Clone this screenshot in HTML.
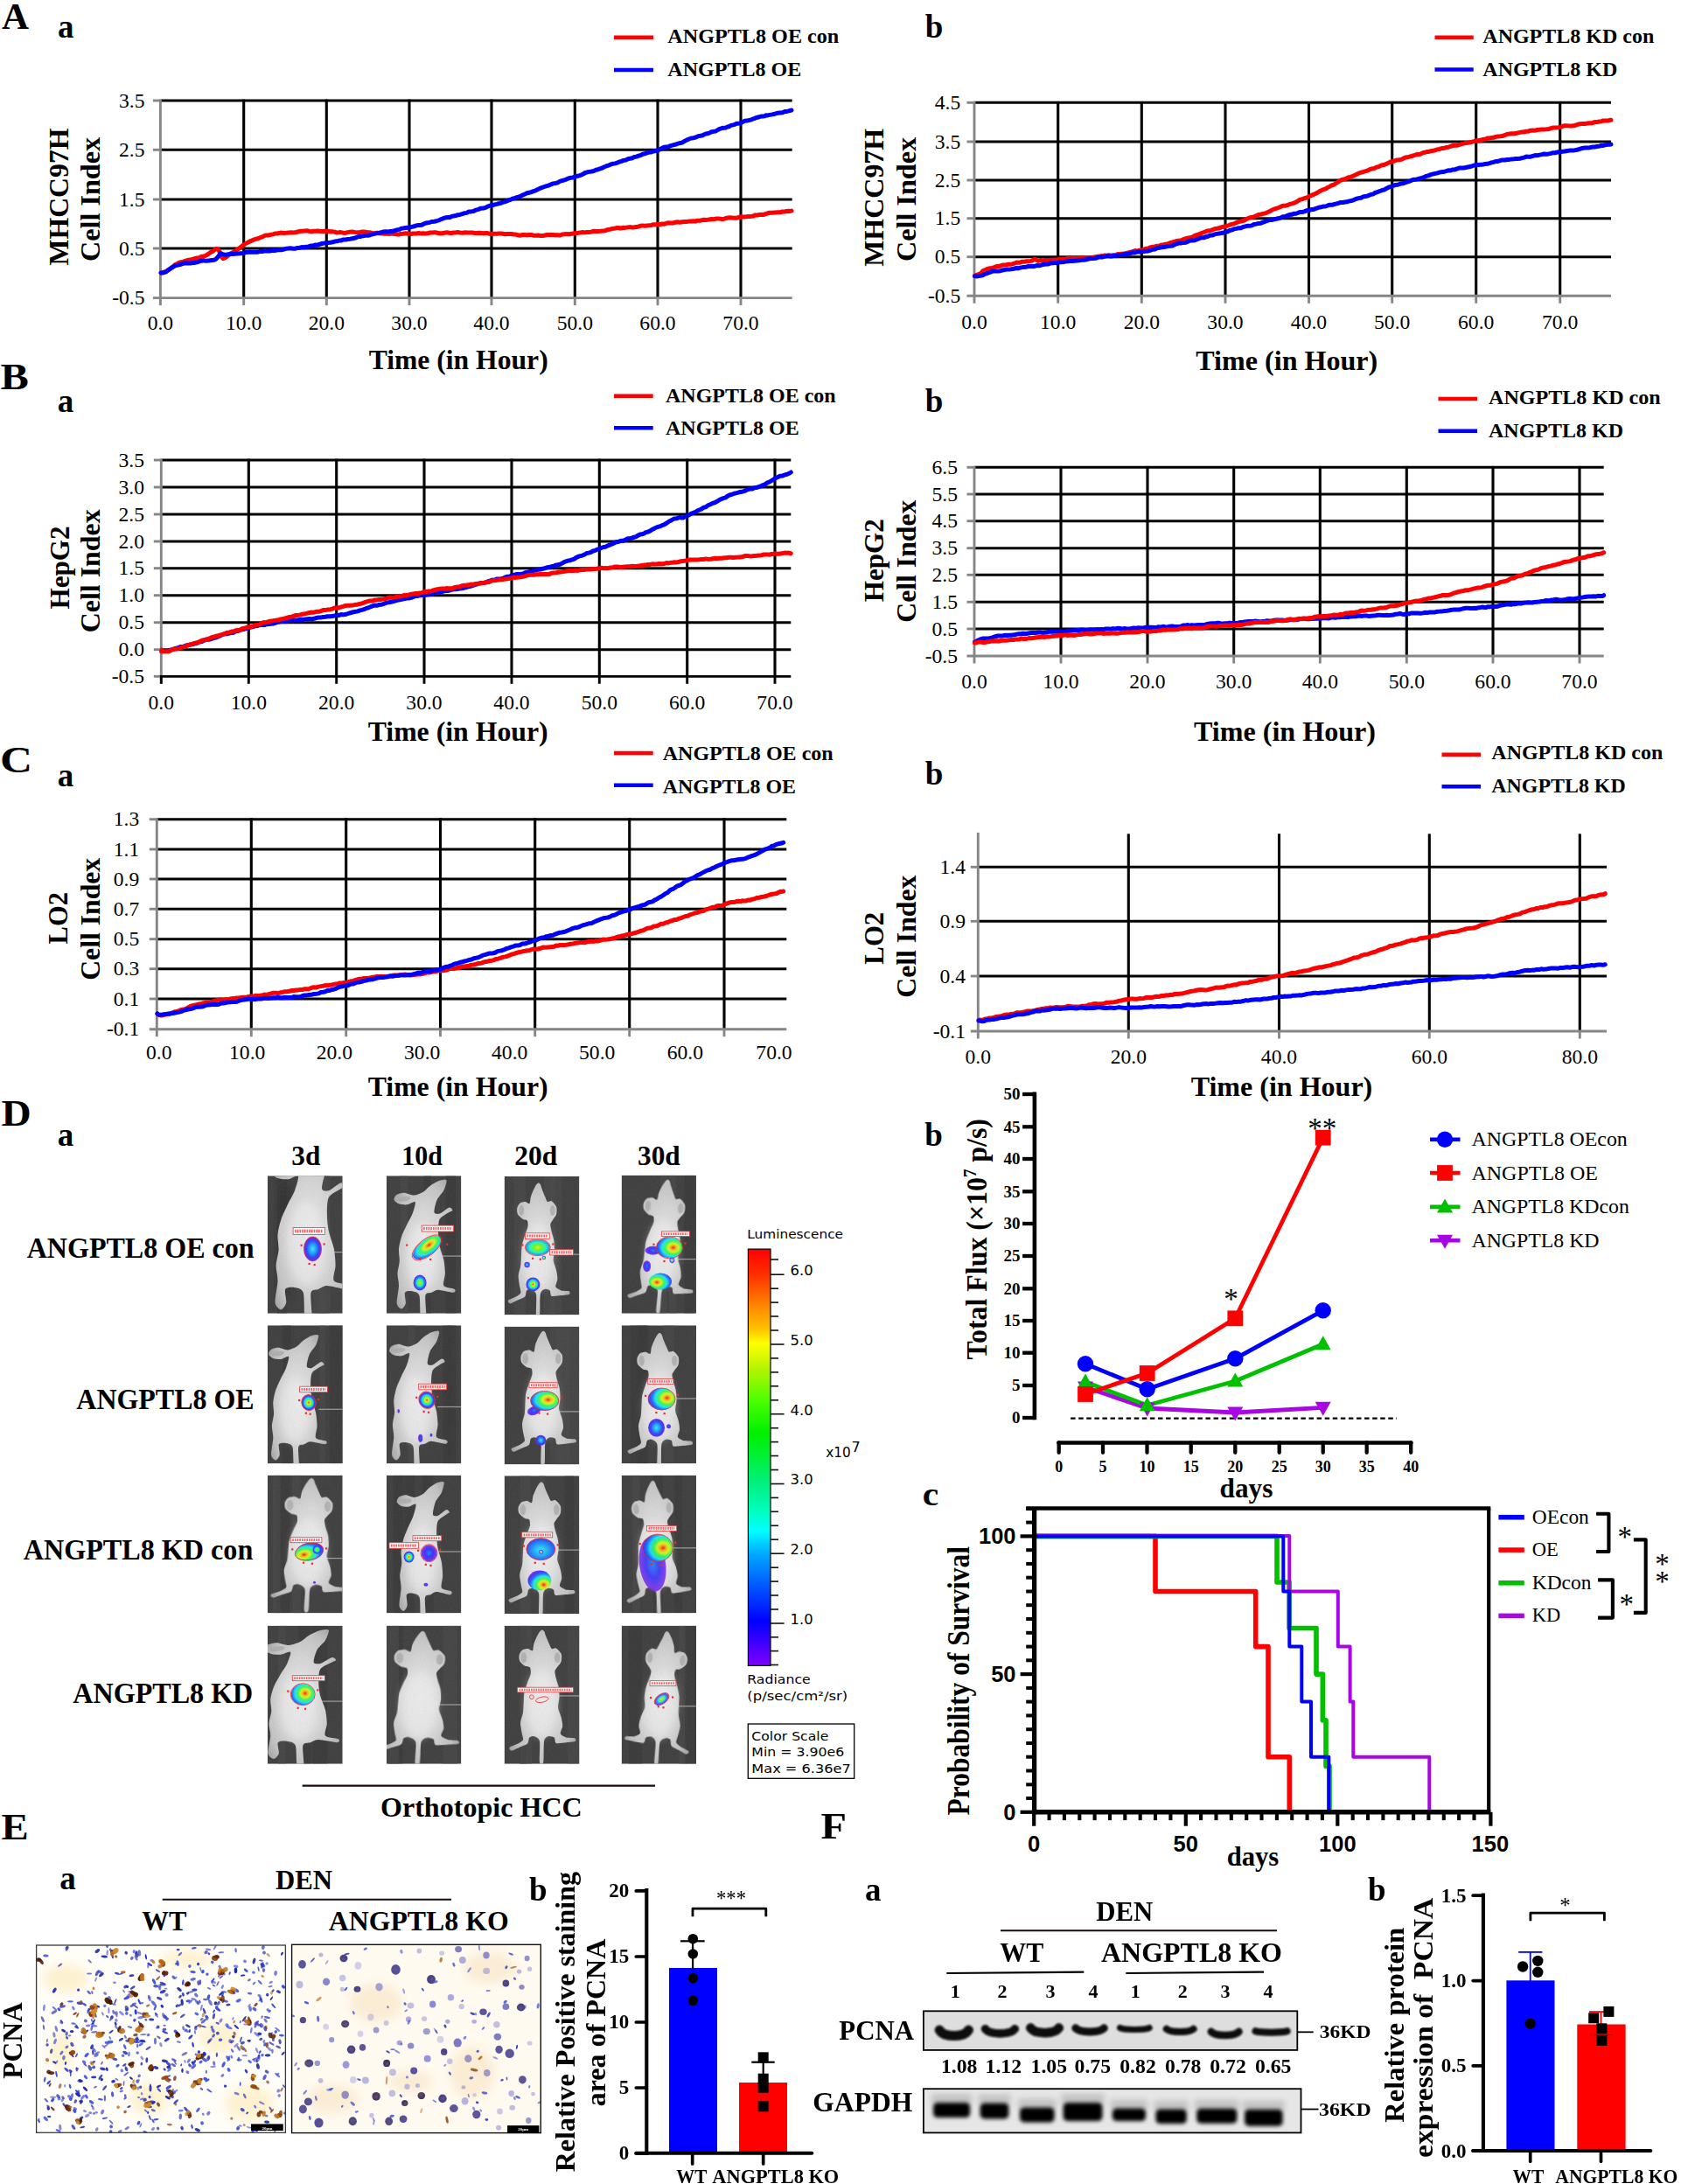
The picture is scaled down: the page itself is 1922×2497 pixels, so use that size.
<!DOCTYPE html>
<html><head><meta charset="utf-8"><title>Figure</title>
<style>
html,body{margin:0;padding:0;background:#fff;}
svg{display:block}
.sb{font-family:'Liberation Serif','Times New Roman',serif;font-weight:bold}
.sr{font-family:'Liberation Serif','Times New Roman',serif;font-weight:normal}
.ab{font-family:'Liberation Sans',Arial,sans-serif;font-weight:bold}
.ar{font-family:'Liberation Sans',Arial,sans-serif;font-weight:normal}
.db{font-family:'DejaVu Sans',Verdana,sans-serif;font-weight:bold}
.dr{font-family:'DejaVu Sans',Verdana,sans-serif;font-weight:normal}
</style></head><body>
<svg width="1922" height="2497" viewBox="0 0 1922 2497">
<rect width="1922" height="2497" fill="#fff"/>
<line x1="183.4" y1="115.0" x2="905.7" y2="115.0" stroke="#000" stroke-width="3.1"/>
<line x1="183.4" y1="171.3" x2="905.7" y2="171.3" stroke="#000" stroke-width="3.1"/>
<line x1="183.4" y1="228.0" x2="905.7" y2="228.0" stroke="#000" stroke-width="3.1"/>
<line x1="183.4" y1="284.0" x2="905.7" y2="284.0" stroke="#000" stroke-width="3.1"/>
<line x1="278.7" y1="113.6" x2="278.7" y2="340.6" stroke="#000" stroke-width="3.1"/>
<line x1="373.3" y1="113.6" x2="373.3" y2="340.6" stroke="#000" stroke-width="3.1"/>
<line x1="468.0" y1="113.6" x2="468.0" y2="340.6" stroke="#000" stroke-width="3.1"/>
<line x1="562.0" y1="113.6" x2="562.0" y2="340.6" stroke="#000" stroke-width="3.1"/>
<line x1="657.3" y1="113.6" x2="657.3" y2="340.6" stroke="#000" stroke-width="3.1"/>
<line x1="752.0" y1="113.6" x2="752.0" y2="340.6" stroke="#000" stroke-width="3.1"/>
<line x1="847.0" y1="113.6" x2="847.0" y2="340.6" stroke="#000" stroke-width="3.1"/>
<line x1="183.4" y1="113.6" x2="183.4" y2="349.1" stroke="#868686" stroke-width="2.9"/>
<line x1="174.9" y1="340.6" x2="905.7" y2="340.6" stroke="#868686" stroke-width="2.9"/>
<line x1="174.9" y1="115.0" x2="183.4" y2="115.0" stroke="#868686" stroke-width="2.9"/>
<line x1="174.9" y1="171.3" x2="183.4" y2="171.3" stroke="#868686" stroke-width="2.9"/>
<line x1="174.9" y1="228.0" x2="183.4" y2="228.0" stroke="#868686" stroke-width="2.9"/>
<line x1="174.9" y1="284.0" x2="183.4" y2="284.0" stroke="#868686" stroke-width="2.9"/>
<line x1="278.7" y1="340.6" x2="278.7" y2="349.1" stroke="#868686" stroke-width="2.9"/>
<line x1="373.3" y1="340.6" x2="373.3" y2="349.1" stroke="#868686" stroke-width="2.9"/>
<line x1="468.0" y1="340.6" x2="468.0" y2="349.1" stroke="#868686" stroke-width="2.9"/>
<line x1="562.0" y1="340.6" x2="562.0" y2="349.1" stroke="#868686" stroke-width="2.9"/>
<line x1="657.3" y1="340.6" x2="657.3" y2="349.1" stroke="#868686" stroke-width="2.9"/>
<line x1="752.0" y1="340.6" x2="752.0" y2="349.1" stroke="#868686" stroke-width="2.9"/>
<line x1="847.0" y1="340.6" x2="847.0" y2="349.1" stroke="#868686" stroke-width="2.9"/>
<text class="sr" x="165.5" y="122.6" font-size="23.6" text-anchor="end">3.5</text>
<text class="sr" x="165.5" y="178.9" font-size="23.6" text-anchor="end">2.5</text>
<text class="sr" x="165.5" y="235.6" font-size="23.6" text-anchor="end">1.5</text>
<text class="sr" x="165.5" y="291.6" font-size="23.6" text-anchor="end">0.5</text>
<text class="sr" x="165.5" y="348.2" font-size="23.6" text-anchor="end">-0.5</text>
<text class="sr" x="183.4" y="377.0" font-size="23.6" text-anchor="middle">0.0</text>
<text class="sr" x="278.7" y="377.0" font-size="23.6" text-anchor="middle">10.0</text>
<text class="sr" x="373.3" y="377.0" font-size="23.6" text-anchor="middle">20.0</text>
<text class="sr" x="468.0" y="377.0" font-size="23.6" text-anchor="middle">30.0</text>
<text class="sr" x="562.0" y="377.0" font-size="23.6" text-anchor="middle">40.0</text>
<text class="sr" x="657.3" y="377.0" font-size="23.6" text-anchor="middle">50.0</text>
<text class="sr" x="752.0" y="377.0" font-size="23.6" text-anchor="middle">60.0</text>
<text class="sr" x="847.0" y="377.0" font-size="23.6" text-anchor="middle">70.0</text>
<polyline points="184.0,312.0 186.4,311.5 190.0,310.5 191.7,309.2 193.5,308.1 195.4,306.5 197.6,305.0 200.0,302.8 202.2,301.8 204.4,300.5 206.9,299.7 209.4,299.3 212.2,298.1 215.0,297.3 217.3,297.1 219.8,296.5 222.5,295.5 225.2,295.0 227.9,294.7 230.4,293.2 232.8,292.9 235.0,292.3 238.0,290.5 240.8,288.4 243.2,287.4 245.2,285.8 247.0,284.5 249.5,284.9 251.0,288.0 252.2,290.6 253.4,293.7 255.0,295.5 256.7,295.0 258.8,293.9 262.0,291.2 263.7,290.1 265.6,289.1 267.7,287.6 269.9,286.3 272.3,284.6 274.6,283.1 276.9,281.0 279.0,279.6 281.7,278.1 284.4,276.6 287.1,275.4 289.8,274.2 292.4,273.3 295.0,272.8 297.5,271.7 299.8,270.8 302.1,269.7 304.4,268.9 307.0,268.9 310.0,268.3 312.2,267.9 314.4,267.0 316.8,267.1 319.3,266.4 321.9,266.1 324.5,266.5 327.3,266.3 330.1,266.0 333.0,265.8 335.3,265.9 337.7,265.8 340.3,265.0 343.0,264.3 345.7,264.2 348.4,264.0 351.1,263.8 353.7,264.4 356.2,264.7 358.7,264.2 360.9,264.2 363.0,264.0 366.6,264.5 369.8,264.4 372.6,264.2 375.1,264.2 377.5,264.7 380.0,264.7 382.6,265.1 384.8,265.9 387.0,265.8 389.6,265.6 393.0,266.4 395.1,266.2 397.5,265.6 400.1,265.2 402.8,265.0 405.6,265.4 408.5,265.7 411.5,265.5 414.4,265.0 417.2,265.1 420.0,265.8 422.7,265.8 425.5,266.4 428.3,266.7 431.1,266.1 433.9,266.7 436.6,267.1 439.3,267.2 442.0,267.1 444.5,267.5 447.0,267.1 449.7,267.3 451.9,267.4 453.8,267.9 455.8,268.1 457.9,267.4 460.5,267.3 463.8,266.8 468.0,267.3 469.8,267.5 471.8,267.0 473.9,267.1 476.1,267.1 478.5,266.5 481.0,266.9 483.5,266.8 486.2,267.0 488.9,266.8 491.6,266.0 494.4,266.0 497.2,265.6 500.0,266.3 502.7,266.7 505.5,266.8 508.2,266.3 510.9,265.7 513.5,266.3 516.0,266.6 518.5,265.9 520.8,265.9 523.0,265.5 526.1,266.0 529.1,266.3 532.0,265.8 534.8,265.9 537.6,266.1 540.3,266.0 542.9,266.6 545.5,266.4 548.0,266.2 550.4,266.4 552.8,266.8 555.2,266.5 557.5,266.5 559.8,267.3 562.0,267.4 564.9,267.3 567.7,267.3 570.3,267.0 572.8,267.0 575.2,267.2 577.6,267.7 579.9,267.6 582.3,267.6 584.8,267.5 587.3,268.1 590.0,268.1 592.4,268.8 594.8,269.2 597.3,268.5 599.8,268.4 602.3,268.8 604.8,268.6 607.4,268.4 610.0,269.2 612.6,269.2 615.2,269.1 617.8,269.4 620.4,269.6 623.0,269.0 625.5,268.5 628.0,268.5 630.5,268.5 632.9,268.5 635.3,268.7 637.7,268.7 640.2,269.0 642.7,268.1 645.3,267.8 648.0,267.5 650.9,267.8 653.9,267.2 657.0,266.6 659.1,266.5 661.4,266.3 663.7,265.9 666.1,265.5 668.5,265.9 671.0,265.5 673.5,265.6 676.1,265.1 678.7,264.2 681.3,264.5 683.9,264.4 686.6,264.3 689.2,264.1 691.9,263.7 694.5,262.6 697.1,262.2 699.6,261.6 702.1,261.3 704.6,260.6 707.0,260.5 709.6,261.0 712.2,260.3 714.8,260.4 717.3,260.0 719.8,259.6 722.3,259.9 724.7,260.0 727.2,259.4 729.6,259.2 732.1,258.3 734.5,257.9 737.0,258.3 739.4,258.0 741.9,257.7 744.4,257.6 746.9,256.7 749.4,256.7 752.0,256.5 754.5,256.6 756.9,255.9 759.4,256.2 761.9,255.3 764.4,254.8 767.0,254.9 769.5,254.9 772.1,254.3 774.6,253.8 777.2,254.2 779.7,253.7 782.3,253.6 784.8,253.5 787.4,253.1 789.9,253.0 792.4,252.8 795.0,253.0 797.5,252.2 800.0,252.2 802.7,251.6 805.3,251.3 808.1,251.4 810.8,250.9 813.5,250.6 816.3,250.7 819.0,250.0 821.7,249.9 824.4,250.4 827.1,250.5 829.8,249.5 832.4,249.0 835.0,248.7 837.5,249.1 840.0,249.2 842.4,249.2 844.7,248.5 847.0,247.8 850.0,247.9 852.9,247.7 855.7,247.4 858.4,247.4 861.1,247.0 863.6,245.9 866.1,246.0 868.5,245.4 870.9,245.3 873.2,245.4 875.5,244.5 877.8,243.8 880.0,243.3 882.9,243.3 885.9,242.9 888.9,242.8 891.8,242.8 894.6,242.0 897.2,242.0 899.6,241.4 901.7,241.2 903.5,241.5 905.0,241.0" fill="none" stroke="#ff0000" stroke-width="5" stroke-linecap="round" stroke-linejoin="round"/>
<polyline points="184.0,312.0 186.4,311.9 190.0,310.7 192.1,308.9 194.4,307.5 197.1,305.7 200.0,303.8 202.2,303.4 204.4,302.8 206.9,302.2 209.4,301.3 212.2,300.7 215.0,301.0 217.3,301.1 219.8,300.5 222.5,300.4 225.2,299.8 227.9,298.9 230.4,298.2 232.8,297.8 235.0,298.2 238.8,297.9 242.1,297.6 244.8,297.3 247.0,296.1 250.0,292.8 252.0,289.4 253.8,290.5 258.0,291.4 259.7,291.0 261.6,290.8 263.6,290.1 265.9,290.4 268.5,290.2 271.5,290.1 275.0,289.7 279.0,289.4 280.9,288.3 282.9,288.4 285.1,288.0 287.4,288.3 289.8,288.3 292.2,288.3 294.8,288.2 297.4,287.4 300.1,287.5 302.8,286.7 305.5,287.1 308.3,287.1 311.1,286.4 313.8,286.5 316.6,286.1 319.2,285.6 321.9,285.8 324.5,285.1 327.0,284.4 329.6,284.0 332.2,283.8 334.8,284.2 337.3,284.3 339.9,283.4 342.4,283.2 345.0,282.6 347.5,282.8 350.1,282.2 352.6,282.1 355.1,281.0 357.7,281.1 360.2,280.1 362.7,280.2 365.3,279.3 367.9,278.5 370.4,278.1 373.0,278.1 375.4,277.4 377.9,277.2 380.4,276.7 382.8,276.1 385.3,275.8 387.7,275.0 390.2,274.9 392.7,273.9 395.1,274.1 397.6,273.5 400.1,273.2 402.6,272.8 405.0,272.3 407.5,271.5 410.0,270.5 412.5,270.4 415.0,269.7 417.5,269.2 420.0,269.2 422.5,268.9 425.1,268.0 427.7,267.3 430.3,266.9 433.0,266.4 435.6,265.8 438.3,265.0 441.0,264.7 443.6,264.9 446.3,264.5 448.9,264.3 451.4,263.7 454.0,262.8 456.5,262.4 458.9,261.3 461.3,260.9 463.6,260.5 465.9,260.3 468.0,260.1 470.9,259.4 473.5,258.8 475.9,257.9 478.0,257.5 480.1,257.6 482.1,257.3 484.1,256.2 486.2,255.2 488.5,254.8 490.9,254.4 493.6,253.5 496.6,253.2 500.0,252.4 501.9,251.9 503.8,250.9 505.8,250.1 507.9,249.2 510.0,248.8 512.1,248.5 514.3,248.5 516.5,247.4 518.7,246.9 521.1,246.6 523.4,245.7 525.8,245.4 528.3,244.7 530.8,243.8 533.4,243.4 536.0,242.1 538.7,241.9 541.4,241.5 544.2,240.1 547.0,239.3 549.9,238.2 552.8,238.1 555.8,237.1 558.9,235.6 562.0,234.5 564.0,234.5 566.0,233.7 568.1,233.4 570.2,232.7 572.3,232.4 574.5,231.4 576.7,230.9 578.9,230.2 581.1,229.2 583.4,228.4 585.7,227.3 588.1,226.7 590.4,225.7 592.8,225.2 595.2,224.3 597.6,223.1 600.1,221.9 602.5,220.8 605.0,220.2 607.4,219.6 609.9,218.6 612.4,217.8 614.9,216.6 617.4,215.3 619.9,214.4 622.4,213.5 624.9,212.6 627.5,212.0 630.0,210.8 632.5,209.9 635.0,209.5 637.5,208.9 640.0,207.4 642.4,206.7 644.9,206.0 647.4,205.1 649.8,204.0 652.2,203.3 654.6,203.1 657.0,202.2 659.4,201.5 661.9,201.0 664.3,200.2 666.7,199.0 669.2,197.5 671.6,196.8 674.1,196.4 676.5,196.0 678.9,195.5 681.4,194.3 683.8,193.7 686.2,192.8 688.7,192.0 691.1,190.8 693.5,189.7 696.0,189.1 698.4,187.9 700.8,187.3 703.3,186.9 705.7,186.1 708.2,185.0 710.6,184.4 713.0,183.4 715.5,183.0 717.9,181.8 720.3,181.2 722.8,180.7 725.2,179.5 727.6,179.1 730.1,178.1 732.5,177.5 734.9,176.3 737.4,175.7 739.8,174.8 742.3,174.1 744.7,173.9 747.1,173.0 749.6,172.5 752.0,172.0 754.4,170.7 756.8,169.5 759.3,168.3 761.8,167.9 764.3,167.8 766.8,166.6 769.4,165.9 772.0,165.3 774.6,164.4 777.2,163.7 779.8,163.1 782.5,161.5 785.1,160.1 787.7,159.0 790.3,158.0 793.0,157.7 795.6,157.0 798.2,155.8 800.8,155.3 803.4,154.7 805.9,153.4 808.5,152.7 811.0,152.1 813.5,150.8 815.9,150.4 818.3,150.0 820.7,148.5 823.1,147.3 825.4,146.5 827.6,146.2 829.8,146.0 832.0,145.0 834.1,144.5 836.1,143.2 838.1,142.9 840.0,142.4 841.9,141.3 843.6,141.2 845.4,141.0 847.0,140.4 851.6,138.3 855.6,137.7 859.0,136.8 862.0,135.6 864.6,134.7 866.8,134.0 868.9,133.5 870.7,132.9 872.5,133.0 874.2,132.8 876.0,131.8 877.9,131.9 880.0,131.4 882.9,130.9 885.9,130.2 888.9,129.3 891.8,128.9 894.6,128.7 897.2,127.6 899.6,127.4 901.7,126.9 903.5,126.4 905.0,126.0" fill="none" stroke="#0000ff" stroke-width="5" stroke-linecap="round" stroke-linejoin="round"/>
<line x1="702.0" y1="42.7" x2="747.0" y2="42.7" stroke="#ff0000" stroke-width="4.6"/>
<line x1="702.0" y1="80.0" x2="747.0" y2="80.0" stroke="#0000ff" stroke-width="4.6"/>
<text class="sb" x="763.3" y="49.3" font-size="24" textLength="196.0" lengthAdjust="spacingAndGlyphs">ANGPTL8 OE con</text>
<text class="sb" x="763.3" y="87.3" font-size="24" textLength="153.0" lengthAdjust="spacingAndGlyphs">ANGPTL8 OE</text>
<text class="sb" font-size="32" text-anchor="middle" textLength="157.0" lengthAdjust="spacingAndGlyphs" transform="translate(77.6 225.0) rotate(-90)">MHCC97H</text>
<text class="sb" font-size="32" text-anchor="middle" textLength="142.0" lengthAdjust="spacingAndGlyphs" transform="translate(113.6 228.0) rotate(-90)">Cell Index</text>
<text class="sb" x="421.7" y="421.7" font-size="32" textLength="205.0" lengthAdjust="spacingAndGlyphs">Time (in Hour)</text>
<line x1="1114.0" y1="117.3" x2="1842.0" y2="117.3" stroke="#000" stroke-width="3.1"/>
<line x1="1114.0" y1="162.0" x2="1842.0" y2="162.0" stroke="#000" stroke-width="3.1"/>
<line x1="1114.0" y1="206.0" x2="1842.0" y2="206.0" stroke="#000" stroke-width="3.1"/>
<line x1="1114.0" y1="249.7" x2="1842.0" y2="249.7" stroke="#000" stroke-width="3.1"/>
<line x1="1114.0" y1="293.7" x2="1842.0" y2="293.7" stroke="#000" stroke-width="3.1"/>
<line x1="1209.7" y1="115.9" x2="1209.7" y2="338.3" stroke="#000" stroke-width="3.1"/>
<line x1="1305.3" y1="115.9" x2="1305.3" y2="338.3" stroke="#000" stroke-width="3.1"/>
<line x1="1401.0" y1="115.9" x2="1401.0" y2="338.3" stroke="#000" stroke-width="3.1"/>
<line x1="1496.5" y1="115.9" x2="1496.5" y2="338.3" stroke="#000" stroke-width="3.1"/>
<line x1="1591.7" y1="115.9" x2="1591.7" y2="338.3" stroke="#000" stroke-width="3.1"/>
<line x1="1687.7" y1="115.9" x2="1687.7" y2="338.3" stroke="#000" stroke-width="3.1"/>
<line x1="1783.7" y1="115.9" x2="1783.7" y2="338.3" stroke="#000" stroke-width="3.1"/>
<line x1="1114.0" y1="115.9" x2="1114.0" y2="346.8" stroke="#868686" stroke-width="2.9"/>
<line x1="1105.5" y1="338.3" x2="1842.0" y2="338.3" stroke="#868686" stroke-width="2.9"/>
<line x1="1105.5" y1="117.3" x2="1114.0" y2="117.3" stroke="#868686" stroke-width="2.9"/>
<line x1="1105.5" y1="162.0" x2="1114.0" y2="162.0" stroke="#868686" stroke-width="2.9"/>
<line x1="1105.5" y1="206.0" x2="1114.0" y2="206.0" stroke="#868686" stroke-width="2.9"/>
<line x1="1105.5" y1="249.7" x2="1114.0" y2="249.7" stroke="#868686" stroke-width="2.9"/>
<line x1="1105.5" y1="293.7" x2="1114.0" y2="293.7" stroke="#868686" stroke-width="2.9"/>
<line x1="1209.7" y1="338.3" x2="1209.7" y2="346.8" stroke="#868686" stroke-width="2.9"/>
<line x1="1305.3" y1="338.3" x2="1305.3" y2="346.8" stroke="#868686" stroke-width="2.9"/>
<line x1="1401.0" y1="338.3" x2="1401.0" y2="346.8" stroke="#868686" stroke-width="2.9"/>
<line x1="1496.5" y1="338.3" x2="1496.5" y2="346.8" stroke="#868686" stroke-width="2.9"/>
<line x1="1591.7" y1="338.3" x2="1591.7" y2="346.8" stroke="#868686" stroke-width="2.9"/>
<line x1="1687.7" y1="338.3" x2="1687.7" y2="346.8" stroke="#868686" stroke-width="2.9"/>
<line x1="1783.7" y1="338.3" x2="1783.7" y2="346.8" stroke="#868686" stroke-width="2.9"/>
<text class="sr" x="1098.3" y="124.9" font-size="23.6" text-anchor="end">4.5</text>
<text class="sr" x="1098.3" y="169.6" font-size="23.6" text-anchor="end">3.5</text>
<text class="sr" x="1098.3" y="213.6" font-size="23.6" text-anchor="end">2.5</text>
<text class="sr" x="1098.3" y="257.3" font-size="23.6" text-anchor="end">1.5</text>
<text class="sr" x="1098.3" y="301.3" font-size="23.6" text-anchor="end">0.5</text>
<text class="sr" x="1098.3" y="345.9" font-size="23.6" text-anchor="end">-0.5</text>
<text class="sr" x="1114.0" y="376.0" font-size="23.6" text-anchor="middle">0.0</text>
<text class="sr" x="1209.7" y="376.0" font-size="23.6" text-anchor="middle">10.0</text>
<text class="sr" x="1305.3" y="376.0" font-size="23.6" text-anchor="middle">20.0</text>
<text class="sr" x="1401.0" y="376.0" font-size="23.6" text-anchor="middle">30.0</text>
<text class="sr" x="1496.5" y="376.0" font-size="23.6" text-anchor="middle">40.0</text>
<text class="sr" x="1591.7" y="376.0" font-size="23.6" text-anchor="middle">50.0</text>
<text class="sr" x="1687.7" y="376.0" font-size="23.6" text-anchor="middle">60.0</text>
<text class="sr" x="1783.7" y="376.0" font-size="23.6" text-anchor="middle">70.0</text>
<polyline points="1114.5,315.5 1116.8,314.3 1120.0,313.2 1121.9,312.0 1123.9,309.7 1126.7,308.6 1128.8,307.5 1131.2,306.8 1133.9,306.4 1136.8,305.6 1140.0,304.4 1142.2,304.6 1144.5,303.7 1147.0,303.0 1149.6,303.1 1152.2,302.3 1154.8,302.3 1157.5,301.9 1160.0,301.0 1162.6,300.0 1165.4,300.3 1168.2,299.3 1171.1,299.3 1173.7,298.8 1176.2,298.7 1178.3,298.4 1180.0,298.1 1183.0,296.2 1187.0,298.4 1188.5,297.8 1190.3,297.5 1192.2,297.9 1194.3,297.5 1196.7,297.6 1199.4,297.4 1202.4,297.2 1205.9,296.9 1209.7,296.9 1211.6,296.5 1213.6,296.7 1215.8,296.2 1218.1,295.9 1220.5,295.5 1222.9,295.3 1225.5,295.0 1228.1,295.3 1230.7,295.6 1233.4,295.1 1236.2,294.8 1238.9,294.8 1241.7,295.0 1244.4,295.3 1247.1,294.8 1249.8,294.2 1252.5,293.6 1255.0,293.2 1257.6,292.9 1260.0,292.6 1262.6,292.1 1265.2,292.2 1267.8,291.8 1270.4,292.2 1272.9,291.8 1275.4,291.6 1277.9,290.6 1280.3,290.8 1282.8,290.2 1285.3,290.1 1287.7,289.5 1290.2,288.9 1292.7,288.3 1295.1,287.5 1297.7,286.6 1300.2,286.9 1302.7,286.3 1305.3,286.1 1307.8,285.3 1310.2,284.2 1312.7,284.0 1315.2,282.9 1317.7,282.2 1320.3,281.9 1322.8,281.2 1325.3,281.3 1327.9,280.1 1330.4,279.8 1333.0,279.2 1335.5,278.7 1338.1,277.5 1340.6,276.9 1343.2,276.1 1345.7,275.4 1348.2,275.1 1350.8,274.7 1353.3,273.5 1355.7,272.8 1358.1,272.2 1360.5,271.6 1362.9,271.2 1365.3,269.8 1367.7,268.7 1370.1,268.3 1372.5,267.1 1374.9,266.2 1377.3,265.2 1379.7,264.2 1382.1,263.8 1384.5,263.4 1386.8,262.5 1389.2,261.6 1391.6,261.3 1394.0,260.8 1396.3,259.9 1398.7,259.3 1401.0,258.9 1403.4,258.2 1405.9,257.2 1408.3,256.4 1410.7,255.9 1413.1,254.8 1415.4,253.9 1417.8,253.2 1420.2,252.8 1422.5,252.1 1424.9,250.6 1427.3,249.5 1429.6,248.7 1432.0,248.3 1434.4,247.6 1436.8,246.5 1439.3,245.4 1441.7,245.0 1444.2,244.4 1446.7,243.9 1449.0,242.8 1451.4,241.8 1453.9,240.4 1456.3,239.1 1458.9,238.5 1461.5,237.5 1464.0,236.5 1466.6,235.3 1469.2,235.2 1471.8,234.6 1474.4,233.5 1476.9,232.9 1479.4,232.2 1481.9,231.0 1484.2,229.6 1486.5,228.1 1488.8,227.7 1490.9,226.8 1493.0,226.2 1494.9,225.8 1496.7,224.5 1500.1,223.1 1503.1,221.9 1505.8,220.6 1508.2,219.0 1510.3,217.9 1512.3,216.9 1514.2,216.3 1516.1,215.7 1518.0,214.3 1520.0,213.5 1522.3,212.0 1524.2,211.5 1525.8,210.7 1527.5,209.5 1529.4,208.3 1531.7,206.8 1534.8,205.4 1538.7,204.4 1540.4,203.4 1542.3,202.7 1544.2,202.4 1546.3,201.5 1548.5,200.5 1550.8,199.4 1553.2,198.2 1555.7,197.2 1558.2,196.7 1560.8,195.9 1563.4,195.1 1566.1,193.7 1568.8,192.8 1571.4,192.4 1574.1,191.1 1576.8,190.4 1579.4,188.9 1582.0,188.6 1584.5,187.7 1587.0,186.4 1589.4,185.3 1591.7,184.8 1594.3,184.1 1596.9,182.9 1599.4,182.8 1602.0,182.4 1604.4,181.3 1606.9,180.0 1609.4,179.8 1611.8,179.0 1614.2,178.5 1616.7,177.7 1619.1,176.7 1621.5,176.4 1623.9,176.2 1626.3,174.9 1628.8,174.3 1631.2,173.5 1633.7,173.4 1636.2,172.6 1638.7,172.3 1641.1,171.8 1643.6,170.7 1646.0,170.4 1648.5,169.5 1651.0,169.4 1653.5,168.6 1656.0,168.3 1658.5,167.3 1661.1,166.5 1663.6,166.2 1666.1,166.2 1668.6,165.5 1671.1,164.5 1673.5,164.1 1676.0,163.5 1678.4,163.2 1680.8,162.7 1683.1,162.2 1685.4,161.6 1687.7,160.8 1690.5,160.7 1693.1,160.2 1695.7,159.3 1698.2,159.2 1700.6,158.0 1703.0,157.9 1705.4,157.6 1707.8,157.3 1710.2,156.4 1712.7,156.0 1715.1,155.8 1717.7,155.5 1720.3,154.7 1723.0,153.4 1725.8,153.1 1728.7,152.7 1730.9,152.7 1733.2,152.6 1735.5,151.9 1737.8,151.4 1740.2,150.9 1742.6,150.8 1745.1,150.2 1747.5,150.0 1750.0,149.2 1752.6,149.0 1755.1,149.2 1757.7,148.5 1760.3,148.3 1762.9,148.1 1765.5,148.0 1768.1,147.8 1770.7,147.5 1773.3,146.7 1775.9,146.0 1778.5,145.9 1781.1,145.8 1783.7,145.6 1786.2,144.5 1788.9,143.7 1791.6,143.8 1794.4,143.9 1797.2,143.9 1800.1,143.5 1803.1,142.7 1806.0,141.7 1809.0,141.6 1811.9,141.6 1814.8,141.0 1817.7,140.8 1820.5,140.7 1823.3,139.6 1825.9,139.6 1828.4,139.0 1830.9,138.6 1833.1,138.0 1835.3,137.9 1837.2,137.9 1839.0,138.0 1840.6,137.3 1842.0,137.3" fill="none" stroke="#ff0000" stroke-width="5" stroke-linecap="round" stroke-linejoin="round"/>
<polyline points="1114.5,315.7 1117.4,315.9 1121.0,315.3 1123.4,314.9 1126.7,313.1 1128.4,312.6 1130.2,311.8 1132.4,311.1 1135.5,310.0 1140.0,309.9 1141.8,310.1 1143.8,309.8 1146.0,308.9 1148.4,308.6 1150.9,308.1 1153.5,307.9 1156.2,307.7 1159.0,307.2 1161.8,306.5 1164.6,306.7 1167.4,305.9 1170.1,305.4 1172.8,305.2 1175.3,304.6 1177.7,304.5 1180.0,304.3 1182.8,304.4 1185.3,303.6 1187.7,303.7 1189.9,303.3 1192.1,302.5 1194.2,302.3 1196.4,302.1 1198.7,301.9 1201.1,300.9 1203.7,300.8 1206.5,300.4 1209.7,300.4 1211.8,299.7 1213.9,299.8 1216.2,299.5 1218.5,298.9 1220.9,298.8 1223.4,298.6 1226.0,298.4 1228.6,298.2 1231.2,297.9 1233.9,297.7 1236.6,297.3 1239.3,297.2 1241.9,296.8 1244.6,296.0 1247.3,295.6 1249.9,295.4 1252.5,295.3 1255.1,294.3 1257.6,293.9 1260.0,294.1 1262.6,293.3 1265.2,292.7 1267.8,292.7 1270.4,293.0 1272.9,292.5 1275.4,292.5 1277.9,292.3 1280.3,291.4 1282.8,291.3 1285.3,290.8 1287.7,290.6 1290.2,290.3 1292.7,289.5 1295.1,288.7 1297.7,288.9 1300.2,288.0 1302.7,288.1 1305.3,287.9 1307.8,287.4 1310.2,287.2 1312.7,286.9 1315.2,286.3 1317.7,285.3 1320.3,285.0 1322.8,283.7 1325.3,283.3 1327.9,282.8 1330.4,282.5 1333.0,282.1 1335.5,281.5 1338.1,281.2 1340.6,280.9 1343.2,279.6 1345.7,278.7 1348.2,277.8 1350.8,277.9 1353.3,277.4 1355.8,277.2 1358.3,276.1 1360.9,275.0 1363.4,274.9 1365.9,274.7 1368.5,273.6 1371.0,272.8 1373.5,271.8 1376.0,271.8 1378.6,270.8 1381.1,270.2 1383.6,269.1 1386.1,269.1 1388.6,267.9 1391.1,267.4 1393.6,267.0 1396.1,266.6 1398.5,266.3 1401.0,265.3 1403.6,264.8 1406.1,263.5 1408.7,262.9 1411.2,261.8 1413.7,261.4 1416.2,260.8 1418.7,260.8 1421.2,259.5 1423.7,258.9 1426.2,258.3 1428.7,258.3 1431.2,257.9 1433.7,256.5 1436.3,256.1 1438.9,255.4 1441.4,255.2 1444.1,254.1 1446.7,253.3 1449.1,252.3 1451.5,251.4 1454.0,251.5 1456.5,250.8 1459.0,250.3 1461.5,249.7 1464.1,249.1 1466.6,247.8 1469.2,247.6 1471.7,246.6 1474.3,245.6 1476.8,245.3 1479.4,244.3 1481.9,244.2 1484.4,243.2 1486.9,242.4 1489.4,242.4 1491.9,241.6 1494.3,240.6 1496.7,240.7 1499.4,239.4 1502.0,239.4 1504.7,238.3 1507.4,237.4 1510.1,236.8 1512.7,236.1 1515.4,236.0 1518.0,235.0 1520.6,234.2 1523.2,234.3 1525.7,233.5 1528.2,232.9 1530.7,232.2 1533.1,231.4 1535.4,231.5 1537.7,231.0 1539.9,230.8 1542.0,230.1 1545.1,229.5 1548.0,228.6 1550.8,227.2 1553.5,226.6 1556.1,226.3 1558.6,224.9 1561.0,224.5 1563.3,224.1 1565.6,223.2 1567.8,222.2 1569.9,222.0 1572.0,220.5 1574.8,219.6 1577.0,218.7 1578.9,218.2 1580.8,217.3 1582.8,217.0 1585.1,215.4 1588.0,214.0 1591.7,213.1 1593.5,212.1 1595.5,211.5 1597.6,211.3 1599.8,210.7 1602.1,209.8 1604.5,209.7 1606.9,208.7 1609.5,207.8 1612.1,207.1 1614.7,205.7 1617.4,205.3 1620.1,204.9 1622.8,204.1 1625.5,203.4 1628.2,202.6 1630.9,201.3 1633.5,200.6 1636.1,199.6 1638.7,198.9 1641.1,198.4 1643.6,197.9 1646.0,197.0 1648.5,196.6 1651.0,196.4 1653.5,195.7 1656.0,194.8 1658.5,195.0 1661.1,193.9 1663.6,193.9 1666.1,192.9 1668.6,192.1 1671.1,192.1 1673.5,192.0 1676.0,191.5 1678.4,191.0 1680.8,190.5 1683.1,189.8 1685.4,189.0 1687.7,188.6 1690.5,188.4 1693.1,188.2 1695.7,188.0 1698.2,187.5 1700.6,187.3 1703.0,186.6 1705.4,185.8 1707.8,185.4 1710.2,184.5 1712.7,184.4 1715.1,183.6 1717.7,182.9 1720.3,183.1 1723.0,182.5 1725.8,182.4 1728.7,181.9 1730.9,181.8 1733.2,181.6 1735.5,181.5 1737.8,181.2 1740.2,180.6 1742.6,180.1 1745.1,179.1 1747.5,179.3 1750.0,179.2 1752.6,178.3 1755.1,177.6 1757.7,177.7 1760.3,177.1 1762.9,176.6 1765.5,175.9 1768.1,176.2 1770.7,175.9 1773.3,175.4 1775.9,174.7 1778.5,174.7 1781.1,173.8 1783.7,174.0 1786.2,173.3 1788.9,173.0 1791.6,172.5 1794.4,172.1 1797.2,172.0 1800.1,171.9 1803.1,171.3 1806.0,170.3 1809.0,169.5 1811.9,169.0 1814.8,169.0 1817.7,168.8 1820.5,168.1 1823.3,168.0 1825.9,167.5 1828.4,167.1 1830.9,166.5 1833.1,166.5 1835.3,165.7 1837.2,165.5 1839.0,165.1 1840.6,165.2 1842.0,165.0" fill="none" stroke="#0000ff" stroke-width="5" stroke-linecap="round" stroke-linejoin="round"/>
<line x1="1640.5" y1="42.7" x2="1684.7" y2="42.7" stroke="#ff0000" stroke-width="4.6"/>
<line x1="1640.5" y1="79.5" x2="1684.7" y2="79.5" stroke="#0000ff" stroke-width="4.6"/>
<text class="sb" x="1695.3" y="49.3" font-size="24" textLength="196.0" lengthAdjust="spacingAndGlyphs">ANGPTL8 KD con</text>
<text class="sb" x="1695.3" y="87.3" font-size="24" textLength="154.0" lengthAdjust="spacingAndGlyphs">ANGPTL8 KD</text>
<text class="sb" font-size="32" text-anchor="middle" textLength="158.0" lengthAdjust="spacingAndGlyphs" transform="translate(1009.6 225.8) rotate(-90)">MHCC97H</text>
<text class="sb" font-size="32" text-anchor="middle" textLength="142.0" lengthAdjust="spacingAndGlyphs" transform="translate(1047.1 228.0) rotate(-90)">Cell Index</text>
<text class="sb" x="1367.3" y="422.7" font-size="32" textLength="208.0" lengthAdjust="spacingAndGlyphs">Time (in Hour)</text>
<line x1="184.3" y1="526.0" x2="904.3" y2="526.0" stroke="#000" stroke-width="3.1"/>
<line x1="184.3" y1="557.0" x2="904.3" y2="557.0" stroke="#000" stroke-width="3.1"/>
<line x1="184.3" y1="588.0" x2="904.3" y2="588.0" stroke="#000" stroke-width="3.1"/>
<line x1="184.3" y1="619.0" x2="904.3" y2="619.0" stroke="#000" stroke-width="3.1"/>
<line x1="184.3" y1="649.7" x2="904.3" y2="649.7" stroke="#000" stroke-width="3.1"/>
<line x1="184.3" y1="680.7" x2="904.3" y2="680.7" stroke="#000" stroke-width="3.1"/>
<line x1="184.3" y1="711.7" x2="904.3" y2="711.7" stroke="#000" stroke-width="3.1"/>
<line x1="184.3" y1="742.7" x2="904.3" y2="742.7" stroke="#000" stroke-width="3.1"/>
<line x1="284.3" y1="524.6" x2="284.3" y2="773.3" stroke="#000" stroke-width="3.1"/>
<line x1="384.7" y1="524.6" x2="384.7" y2="773.3" stroke="#000" stroke-width="3.1"/>
<line x1="485.0" y1="524.6" x2="485.0" y2="773.3" stroke="#000" stroke-width="3.1"/>
<line x1="585.0" y1="524.6" x2="585.0" y2="773.3" stroke="#000" stroke-width="3.1"/>
<line x1="685.3" y1="524.6" x2="685.3" y2="773.3" stroke="#000" stroke-width="3.1"/>
<line x1="785.7" y1="524.6" x2="785.7" y2="773.3" stroke="#000" stroke-width="3.1"/>
<line x1="886.0" y1="524.6" x2="886.0" y2="773.3" stroke="#000" stroke-width="3.1"/>
<line x1="184.3" y1="524.6" x2="184.3" y2="781.8" stroke="#868686" stroke-width="2.9"/>
<line x1="175.8" y1="773.3" x2="184.3" y2="773.3" stroke="#868686" stroke-width="2.9"/>
<line x1="182.9" y1="773.3" x2="904.3" y2="773.3" stroke="#000" stroke-width="2.8"/>
<line x1="184.3" y1="773.3" x2="184.3" y2="781.8" stroke="#000" stroke-width="2.8"/>
<line x1="175.8" y1="526.0" x2="184.3" y2="526.0" stroke="#868686" stroke-width="2.9"/>
<line x1="175.8" y1="557.0" x2="184.3" y2="557.0" stroke="#868686" stroke-width="2.9"/>
<line x1="175.8" y1="588.0" x2="184.3" y2="588.0" stroke="#868686" stroke-width="2.9"/>
<line x1="175.8" y1="619.0" x2="184.3" y2="619.0" stroke="#868686" stroke-width="2.9"/>
<line x1="175.8" y1="649.7" x2="184.3" y2="649.7" stroke="#868686" stroke-width="2.9"/>
<line x1="175.8" y1="680.7" x2="184.3" y2="680.7" stroke="#868686" stroke-width="2.9"/>
<line x1="175.8" y1="711.7" x2="184.3" y2="711.7" stroke="#868686" stroke-width="2.9"/>
<line x1="175.8" y1="742.7" x2="184.3" y2="742.7" stroke="#868686" stroke-width="2.9"/>
<line x1="284.3" y1="773.3" x2="284.3" y2="781.8" stroke="#000" stroke-width="2.9"/>
<line x1="384.7" y1="773.3" x2="384.7" y2="781.8" stroke="#000" stroke-width="2.9"/>
<line x1="485.0" y1="773.3" x2="485.0" y2="781.8" stroke="#000" stroke-width="2.9"/>
<line x1="585.0" y1="773.3" x2="585.0" y2="781.8" stroke="#000" stroke-width="2.9"/>
<line x1="685.3" y1="773.3" x2="685.3" y2="781.8" stroke="#000" stroke-width="2.9"/>
<line x1="785.7" y1="773.3" x2="785.7" y2="781.8" stroke="#000" stroke-width="2.9"/>
<line x1="886.0" y1="773.3" x2="886.0" y2="781.8" stroke="#000" stroke-width="2.9"/>
<text class="sr" x="165.0" y="533.6" font-size="23.6" text-anchor="end">3.5</text>
<text class="sr" x="165.0" y="564.6" font-size="23.6" text-anchor="end">3.0</text>
<text class="sr" x="165.0" y="595.6" font-size="23.6" text-anchor="end">2.5</text>
<text class="sr" x="165.0" y="626.6" font-size="23.6" text-anchor="end">2.0</text>
<text class="sr" x="165.0" y="657.3" font-size="23.6" text-anchor="end">1.5</text>
<text class="sr" x="165.0" y="688.3" font-size="23.6" text-anchor="end">1.0</text>
<text class="sr" x="165.0" y="719.3" font-size="23.6" text-anchor="end">0.5</text>
<text class="sr" x="165.0" y="750.3" font-size="23.6" text-anchor="end">0.0</text>
<text class="sr" x="165.0" y="780.9" font-size="23.6" text-anchor="end">-0.5</text>
<text class="sr" x="184.3" y="810.5" font-size="23.6" text-anchor="middle">0.0</text>
<text class="sr" x="284.3" y="810.5" font-size="23.6" text-anchor="middle">10.0</text>
<text class="sr" x="384.7" y="810.5" font-size="23.6" text-anchor="middle">20.0</text>
<text class="sr" x="485.0" y="810.5" font-size="23.6" text-anchor="middle">30.0</text>
<text class="sr" x="585.0" y="810.5" font-size="23.6" text-anchor="middle">40.0</text>
<text class="sr" x="685.3" y="810.5" font-size="23.6" text-anchor="middle">50.0</text>
<text class="sr" x="785.7" y="810.5" font-size="23.6" text-anchor="middle">60.0</text>
<text class="sr" x="886.0" y="810.5" font-size="23.6" text-anchor="middle">70.0</text>
<polyline points="185.0,744.0 184.8,744.8 190.0,744.6 191.4,744.5 193.1,743.6 194.9,743.2 196.9,742.5 199.0,741.8 201.3,741.2 203.7,740.7 206.2,739.6 208.8,739.5 211.4,738.5 214.1,737.7 216.9,737.3 219.6,736.5 222.4,736.0 225.2,735.4 227.9,733.9 230.6,733.6 233.3,732.2 235.6,731.1 237.9,731.2 240.2,730.9 242.6,730.1 245.0,729.3 247.4,728.7 249.8,727.7 252.3,726.5 254.7,725.4 257.2,724.8 259.7,724.7 262.2,724.0 264.7,723.6 267.2,723.2 269.6,721.7 272.1,721.4 274.6,720.3 277.1,719.8 279.5,719.2 281.9,718.5 284.3,717.7 286.9,717.1 289.5,716.5 292.1,715.7 294.7,715.4 297.3,714.6 299.8,714.4 302.4,714.5 304.9,713.7 307.5,713.5 310.1,713.3 312.6,713.0 315.2,712.1 317.7,711.2 320.3,710.7 322.9,710.6 325.4,710.6 328.1,710.3 330.7,709.5 333.3,709.5 335.8,709.1 338.4,709.0 340.9,708.9 343.5,708.3 346.0,708.5 348.6,708.1 351.2,707.8 353.8,707.6 356.4,707.7 359.0,707.3 361.6,706.5 364.2,705.9 366.8,705.9 369.4,705.6 372.0,705.3 374.6,704.7 377.1,704.7 379.7,704.4 382.2,704.1 384.7,703.4 387.2,703.6 389.7,702.6 392.1,702.7 394.5,702.5 397.0,701.8 399.4,701.0 401.8,700.3 404.2,699.7 406.6,699.3 409.0,698.9 411.4,697.9 413.8,697.4 416.2,696.7 418.6,695.6 421.0,694.9 423.4,693.8 425.9,692.9 428.3,692.1 430.8,692.3 433.3,691.5 435.7,691.3 438.1,690.6 440.6,689.7 443.0,688.9 445.5,688.5 448.0,688.0 450.4,687.5 452.9,686.6 455.4,686.1 457.9,685.5 460.4,685.0 462.9,684.4 465.4,684.1 467.9,683.9 470.4,683.4 472.9,682.3 475.3,681.4 477.8,681.4 480.2,680.7 482.6,680.6 485.0,680.2 487.6,680.0 490.2,679.7 492.7,678.7 495.3,678.2 497.8,677.3 500.3,676.8 502.8,677.0 505.3,676.6 507.7,675.9 510.2,675.5 512.7,675.5 515.2,674.6 517.7,673.9 520.2,673.8 522.7,673.6 525.2,673.1 527.8,672.7 530.4,672.2 533.0,671.5 535.4,670.8 537.8,670.3 540.3,669.5 542.7,668.7 545.2,668.0 547.7,667.1 550.2,666.4 552.7,666.6 555.2,665.8 557.7,664.9 560.2,664.0 562.8,663.1 565.3,663.2 567.8,662.1 570.3,662.0 572.8,661.7 575.3,661.3 577.7,659.9 580.2,659.2 582.6,659.0 585.0,658.0 587.6,657.4 590.2,656.5 592.8,656.6 595.3,656.3 597.9,655.9 600.4,654.7 602.9,654.2 605.4,653.6 607.9,653.3 610.4,652.4 612.9,651.9 615.4,651.2 617.9,651.0 620.4,650.3 623.0,649.7 625.5,648.8 628.1,648.5 630.7,647.6 633.3,647.1 635.6,646.1 637.9,645.8 640.2,645.3 642.5,644.1 644.8,642.8 647.1,641.8 649.5,641.0 651.8,640.7 654.2,639.9 656.5,639.1 658.9,637.4 661.3,636.2 663.7,635.6 666.0,635.1 668.4,634.0 670.8,632.5 673.2,632.1 675.6,631.4 678.0,630.0 680.5,629.4 682.9,628.1 685.3,627.7 687.6,626.3 690.0,625.5 692.5,625.2 694.9,623.8 697.4,623.0 699.9,622.0 702.4,620.7 705.0,619.7 707.5,619.2 710.0,618.3 712.6,618.2 715.1,617.1 717.6,615.8 720.0,615.7 722.5,615.1 724.8,614.2 727.2,613.6 729.5,612.1 731.7,611.1 733.9,610.8 736.0,610.2 738.0,608.8 740.0,608.4 743.1,607.1 746.1,605.2 748.9,603.7 751.7,602.5 754.3,601.9 756.9,600.7 759.3,599.8 761.6,598.5 763.8,596.9 765.9,595.7 767.9,594.7 769.8,593.5 771.6,592.9 773.3,592.8 776.6,591.6 778.1,591.2 779.2,592.1 781.3,591.9 785.7,589.6 787.2,589.1 788.9,588.1 790.8,587.0 792.8,586.2 794.9,585.5 797.1,584.1 799.5,583.0 801.9,582.1 804.4,580.3 806.9,579.7 809.5,577.8 812.0,576.7 814.6,575.5 817.2,574.7 819.7,573.3 822.2,571.8 824.6,570.6 826.9,569.7 829.2,569.1 831.3,567.6 833.3,566.2 836.4,565.5 839.4,564.3 842.3,563.6 845.1,562.8 847.8,562.3 850.5,561.6 853.0,560.6 855.5,559.4 857.9,559.1 860.2,558.9 862.5,557.8 864.6,557.6 866.7,556.8 869.8,555.8 872.5,554.6 875.0,553.7 877.3,551.8 879.5,551.1 881.6,549.9 883.7,548.6 886.0,547.1 888.8,545.8 891.8,544.3 894.9,543.9 897.8,542.7 900.4,542.1 902.7,541.0 904.3,540.0" fill="none" stroke="#0000ff" stroke-width="5" stroke-linecap="round" stroke-linejoin="round"/>
<polyline points="185.0,743.0 184.8,744.5 190.0,744.7 191.4,744.8 193.1,744.7 194.9,743.8 196.9,742.7 199.0,742.1 201.3,742.0 203.7,741.4 206.2,740.9 208.8,739.6 211.4,739.2 214.1,738.1 216.9,737.0 219.6,736.5 222.4,735.4 225.2,734.7 227.9,733.9 230.6,732.3 233.3,731.7 235.6,731.4 237.9,730.6 240.2,729.6 242.6,728.4 245.0,728.1 247.4,727.2 249.8,726.7 252.3,725.9 254.7,725.4 257.2,724.4 259.7,723.2 262.2,723.1 264.7,722.1 267.2,722.0 269.6,720.8 272.1,720.6 274.6,720.2 277.1,718.7 279.5,718.1 281.9,717.3 284.3,717.0 286.8,716.4 289.3,716.1 291.7,714.7 294.2,714.2 296.6,713.9 299.1,712.6 301.5,711.6 303.9,711.7 306.4,710.9 308.8,710.3 311.2,709.9 313.6,709.5 316.1,709.1 318.5,708.9 320.9,707.9 323.4,707.6 325.8,706.9 328.3,706.3 330.8,705.5 333.3,705.2 335.8,704.3 338.4,703.4 340.9,703.4 343.5,702.9 346.0,702.2 348.6,701.8 351.2,701.1 353.8,700.4 356.4,700.1 359.0,700.2 361.6,699.3 364.2,699.3 366.8,698.6 369.4,697.6 372.0,697.6 374.6,697.0 377.1,696.9 379.7,696.2 382.2,695.1 384.7,695.0 387.3,694.9 389.9,694.0 392.5,693.3 395.1,692.4 397.6,692.2 400.1,692.3 402.7,692.1 405.2,691.6 407.7,691.3 410.2,690.6 412.8,690.2 415.3,689.4 417.8,688.4 420.4,687.7 422.9,687.0 425.5,687.1 428.1,686.1 430.7,685.9 433.3,685.4 435.8,685.4 438.4,684.9 440.9,684.5 443.5,683.5 446.1,683.0 448.7,683.3 451.3,682.9 453.9,682.3 456.5,682.0 459.2,681.7 461.8,680.5 464.4,680.6 467.0,680.1 469.6,679.4 472.2,679.1 474.8,678.4 477.4,678.4 480.0,678.1 482.5,677.6 485.0,676.6 487.6,676.7 490.2,676.0 492.8,676.0 495.3,674.9 497.9,674.2 500.4,673.6 502.9,673.2 505.4,672.9 507.9,673.1 510.4,672.6 512.9,672.8 515.4,672.7 517.9,672.4 520.4,671.4 523.0,671.1 525.5,670.7 528.1,669.8 530.7,669.3 533.3,669.1 535.8,668.8 538.3,668.1 540.9,668.3 543.5,667.4 546.1,667.2 548.7,667.0 551.3,666.5 553.9,666.3 556.5,665.7 559.1,665.4 561.8,664.2 564.4,663.4 567.0,663.4 569.6,663.1 572.2,662.8 574.8,662.6 577.4,662.0 580.0,661.7 582.5,661.2 585.0,660.9 587.6,660.2 590.2,660.4 592.8,659.9 595.3,659.8 597.9,659.4 600.4,658.7 602.9,657.9 605.4,657.3 607.9,657.3 610.4,657.2 612.9,656.7 615.4,656.8 617.9,656.4 620.4,656.5 622.9,656.4 625.5,656.4 628.1,656.4 630.7,655.3 633.3,654.9 635.8,654.7 638.3,654.3 640.8,654.1 643.3,653.6 645.7,653.2 648.2,652.8 650.7,652.6 653.2,652.5 655.7,652.6 658.3,652.1 660.8,652.4 663.4,651.7 666.0,651.4 668.6,651.4 671.3,651.0 674.0,651.1 676.8,650.8 679.6,650.6 682.4,650.3 685.3,649.8 687.7,649.2 690.1,649.7 692.7,649.5 695.2,649.7 697.9,649.0 700.6,648.6 703.3,648.0 706.1,648.0 708.9,648.4 711.7,648.3 714.5,647.9 717.3,647.7 720.1,647.8 722.8,647.3 725.6,647.4 728.3,647.3 731.0,647.1 733.6,646.5 736.2,646.1 738.7,646.0 741.1,645.4 743.5,645.4 745.8,644.8 747.9,644.9 750.0,645.1 753.4,644.5 756.5,644.8 759.4,644.5 762.0,643.6 764.4,643.9 766.7,643.3 768.9,643.3 771.1,642.7 773.3,642.9 775.5,642.6 777.8,641.8 780.2,641.5 782.9,641.3 785.7,640.5 787.9,640.1 790.2,640.0 792.5,640.1 794.9,640.0 797.2,640.0 799.7,639.8 802.1,639.4 804.6,639.5 807.2,638.9 809.7,639.4 812.3,639.3 814.9,638.7 817.5,638.3 820.1,638.6 822.7,638.3 825.4,638.2 828.0,637.7 830.7,637.8 833.3,637.3 835.7,637.3 838.3,637.6 840.9,637.2 843.5,637.1 846.2,636.9 849.0,636.6 851.8,635.6 854.5,635.5 857.3,635.9 860.1,635.8 862.8,635.6 865.6,635.2 868.2,635.1 870.8,634.7 873.3,634.0 875.7,634.1 878.0,634.0 880.2,634.2 882.3,633.4 884.2,633.5 886.0,632.9 890.6,633.3 894.3,632.6 897.2,632.1 899.5,632.2 901.4,632.0 902.9,632.5 904.3,632.7" fill="none" stroke="#ff0000" stroke-width="5" stroke-linecap="round" stroke-linejoin="round"/>
<line x1="702.0" y1="452.7" x2="746.7" y2="452.7" stroke="#ff0000" stroke-width="4.6"/>
<line x1="702.0" y1="489.3" x2="746.7" y2="489.3" stroke="#0000ff" stroke-width="4.6"/>
<text class="sb" x="761.0" y="460.0" font-size="24" textLength="194.7" lengthAdjust="spacingAndGlyphs">ANGPTL8 OE con</text>
<text class="sb" x="761.0" y="497.3" font-size="24" textLength="152.7" lengthAdjust="spacingAndGlyphs">ANGPTL8 OE</text>
<text class="sb" font-size="32" text-anchor="middle" textLength="95.0" lengthAdjust="spacingAndGlyphs" transform="translate(78.6 649.0) rotate(-90)">HepG2</text>
<text class="sb" font-size="32" text-anchor="middle" textLength="141.0" lengthAdjust="spacingAndGlyphs" transform="translate(113.6 652.8) rotate(-90)">Cell Index</text>
<text class="sb" x="420.7" y="847.3" font-size="32" textLength="206.0" lengthAdjust="spacingAndGlyphs">Time (in Hour)</text>
<line x1="1114.0" y1="534.3" x2="1833.7" y2="534.3" stroke="#000" stroke-width="3.1"/>
<line x1="1114.0" y1="565.0" x2="1833.7" y2="565.0" stroke="#000" stroke-width="3.1"/>
<line x1="1114.0" y1="595.7" x2="1833.7" y2="595.7" stroke="#000" stroke-width="3.1"/>
<line x1="1114.0" y1="626.7" x2="1833.7" y2="626.7" stroke="#000" stroke-width="3.1"/>
<line x1="1114.0" y1="657.3" x2="1833.7" y2="657.3" stroke="#000" stroke-width="3.1"/>
<line x1="1114.0" y1="688.3" x2="1833.7" y2="688.3" stroke="#000" stroke-width="3.1"/>
<line x1="1114.0" y1="719.0" x2="1833.7" y2="719.0" stroke="#000" stroke-width="3.1"/>
<line x1="1213.0" y1="532.9" x2="1213.0" y2="750.0" stroke="#000" stroke-width="3.1"/>
<line x1="1312.0" y1="532.9" x2="1312.0" y2="750.0" stroke="#000" stroke-width="3.1"/>
<line x1="1410.7" y1="532.9" x2="1410.7" y2="750.0" stroke="#000" stroke-width="3.1"/>
<line x1="1509.3" y1="532.9" x2="1509.3" y2="750.0" stroke="#000" stroke-width="3.1"/>
<line x1="1608.3" y1="532.9" x2="1608.3" y2="750.0" stroke="#000" stroke-width="3.1"/>
<line x1="1707.0" y1="532.9" x2="1707.0" y2="750.0" stroke="#000" stroke-width="3.1"/>
<line x1="1806.0" y1="532.9" x2="1806.0" y2="750.0" stroke="#000" stroke-width="3.1"/>
<line x1="1114.0" y1="532.9" x2="1114.0" y2="758.5" stroke="#868686" stroke-width="2.9"/>
<line x1="1105.5" y1="750.0" x2="1833.7" y2="750.0" stroke="#868686" stroke-width="2.9"/>
<line x1="1105.5" y1="534.3" x2="1114.0" y2="534.3" stroke="#868686" stroke-width="2.9"/>
<line x1="1105.5" y1="565.0" x2="1114.0" y2="565.0" stroke="#868686" stroke-width="2.9"/>
<line x1="1105.5" y1="595.7" x2="1114.0" y2="595.7" stroke="#868686" stroke-width="2.9"/>
<line x1="1105.5" y1="626.7" x2="1114.0" y2="626.7" stroke="#868686" stroke-width="2.9"/>
<line x1="1105.5" y1="657.3" x2="1114.0" y2="657.3" stroke="#868686" stroke-width="2.9"/>
<line x1="1105.5" y1="688.3" x2="1114.0" y2="688.3" stroke="#868686" stroke-width="2.9"/>
<line x1="1105.5" y1="719.0" x2="1114.0" y2="719.0" stroke="#868686" stroke-width="2.9"/>
<line x1="1213.0" y1="750.0" x2="1213.0" y2="758.5" stroke="#868686" stroke-width="2.9"/>
<line x1="1312.0" y1="750.0" x2="1312.0" y2="758.5" stroke="#868686" stroke-width="2.9"/>
<line x1="1410.7" y1="750.0" x2="1410.7" y2="758.5" stroke="#868686" stroke-width="2.9"/>
<line x1="1509.3" y1="750.0" x2="1509.3" y2="758.5" stroke="#868686" stroke-width="2.9"/>
<line x1="1608.3" y1="750.0" x2="1608.3" y2="758.5" stroke="#868686" stroke-width="2.9"/>
<line x1="1707.0" y1="750.0" x2="1707.0" y2="758.5" stroke="#868686" stroke-width="2.9"/>
<line x1="1806.0" y1="750.0" x2="1806.0" y2="758.5" stroke="#868686" stroke-width="2.9"/>
<text class="sr" x="1095.0" y="541.9" font-size="23.6" text-anchor="end">6.5</text>
<text class="sr" x="1095.0" y="572.6" font-size="23.6" text-anchor="end">5.5</text>
<text class="sr" x="1095.0" y="603.3" font-size="23.6" text-anchor="end">4.5</text>
<text class="sr" x="1095.0" y="634.3" font-size="23.6" text-anchor="end">3.5</text>
<text class="sr" x="1095.0" y="664.9" font-size="23.6" text-anchor="end">2.5</text>
<text class="sr" x="1095.0" y="695.9" font-size="23.6" text-anchor="end">1.5</text>
<text class="sr" x="1095.0" y="726.6" font-size="23.6" text-anchor="end">0.5</text>
<text class="sr" x="1095.0" y="757.6" font-size="23.6" text-anchor="end">-0.5</text>
<text class="sr" x="1114.0" y="786.7" font-size="23.6" text-anchor="middle">0.0</text>
<text class="sr" x="1213.0" y="786.7" font-size="23.6" text-anchor="middle">10.0</text>
<text class="sr" x="1312.0" y="786.7" font-size="23.6" text-anchor="middle">20.0</text>
<text class="sr" x="1410.7" y="786.7" font-size="23.6" text-anchor="middle">30.0</text>
<text class="sr" x="1509.3" y="786.7" font-size="23.6" text-anchor="middle">40.0</text>
<text class="sr" x="1608.3" y="786.7" font-size="23.6" text-anchor="middle">50.0</text>
<text class="sr" x="1707.0" y="786.7" font-size="23.6" text-anchor="middle">60.0</text>
<text class="sr" x="1806.0" y="786.7" font-size="23.6" text-anchor="middle">70.0</text>
<polyline points="1114.5,734.0 1116.3,733.3 1119.0,731.8 1121.7,730.6 1124.1,729.9 1126.6,730.0 1130.0,729.9 1131.7,729.6 1133.1,729.5 1134.7,728.9 1137.1,728.0 1140.9,727.0 1146.7,726.9 1148.3,726.5 1150.1,726.2 1151.9,726.4 1153.8,726.3 1155.9,726.2 1157.9,726.0 1160.1,725.8 1162.4,725.1 1164.7,724.7 1167.1,724.7 1169.6,724.3 1172.1,724.8 1174.7,724.2 1177.4,723.8 1180.1,723.4 1182.9,723.6 1185.7,723.2 1188.6,722.9 1191.5,723.4 1194.5,723.3 1197.5,722.7 1200.5,722.0 1203.6,722.2 1206.7,721.9 1209.8,722.3 1213.0,722.3 1215.1,722.4 1217.3,722.3 1219.5,721.5 1221.8,721.1 1224.1,721.3 1226.4,720.9 1228.8,720.8 1231.2,720.4 1233.6,720.5 1236.1,720.1 1238.6,720.2 1241.1,720.7 1243.6,720.6 1246.1,719.9 1248.7,720.0 1251.3,720.0 1253.9,719.6 1256.5,719.7 1259.2,719.6 1261.8,719.7 1264.5,719.0 1267.1,718.9 1269.8,719.2 1272.5,718.6 1275.1,719.0 1277.8,718.3 1280.5,718.5 1283.2,718.9 1285.8,718.6 1288.5,718.9 1291.2,719.0 1293.8,718.5 1296.5,717.9 1299.1,718.3 1301.7,717.8 1304.3,717.9 1306.9,718.1 1309.5,717.3 1312.0,717.3 1314.5,717.2 1317.1,717.3 1319.6,717.5 1322.1,717.6 1324.7,716.7 1327.2,717.0 1329.7,716.3 1332.3,716.7 1334.8,716.9 1337.3,716.3 1339.9,716.0 1342.4,716.3 1344.9,716.4 1347.5,716.4 1350.0,716.2 1352.5,715.1 1355.0,715.1 1357.6,714.5 1360.1,715.1 1362.6,714.6 1365.2,715.0 1367.7,714.7 1370.2,714.4 1372.8,714.6 1375.3,714.6 1377.8,714.1 1380.3,713.5 1382.9,713.0 1385.4,712.7 1387.9,712.8 1390.5,712.6 1393.0,712.3 1395.5,712.7 1398.1,712.9 1400.6,712.8 1403.1,712.8 1405.6,712.1 1408.2,712.5 1410.7,712.6 1413.2,712.6 1415.8,712.1 1418.3,711.4 1420.8,711.5 1423.3,711.0 1425.9,710.6 1428.4,710.6 1430.9,710.4 1433.5,710.3 1436.0,710.1 1438.5,710.5 1441.0,710.9 1443.6,710.4 1446.1,710.5 1448.6,709.7 1451.1,709.9 1453.7,710.0 1456.2,709.3 1458.7,708.9 1461.2,708.9 1463.8,708.9 1466.3,709.0 1468.8,709.4 1471.4,709.3 1473.9,708.8 1476.4,708.3 1478.9,708.8 1481.5,708.3 1484.0,708.4 1486.5,707.9 1489.1,707.5 1491.6,707.2 1494.1,707.7 1496.6,707.7 1499.2,707.5 1501.7,707.4 1504.2,707.2 1506.8,707.2 1509.3,707.2 1511.8,706.7 1514.4,706.4 1516.9,706.7 1519.4,706.9 1522.0,706.1 1524.5,706.1 1527.0,706.2 1529.6,705.6 1532.1,705.7 1534.7,705.2 1537.2,705.4 1539.7,705.4 1542.3,705.4 1544.8,704.9 1547.4,704.7 1549.9,704.8 1552.4,704.3 1555.0,704.1 1557.5,704.4 1560.1,703.9 1562.6,704.1 1565.1,704.4 1567.7,704.2 1570.2,704.0 1572.8,703.8 1575.3,703.2 1577.8,703.3 1580.4,703.6 1582.9,703.6 1585.5,703.2 1588.0,703.4 1590.5,703.3 1593.1,703.0 1595.6,702.2 1598.2,702.0 1600.7,701.5 1603.2,702.2 1605.8,702.4 1608.3,701.5 1610.9,701.9 1613.4,701.0 1616.1,700.9 1618.7,701.1 1621.4,701.1 1624.1,701.3 1626.8,700.9 1629.6,700.3 1632.3,700.5 1635.1,699.9 1637.9,700.0 1640.7,699.9 1643.5,699.2 1646.2,699.1 1649.0,698.9 1651.8,698.5 1654.6,698.3 1657.3,697.8 1660.1,697.2 1662.8,697.1 1665.5,697.0 1668.2,697.0 1670.8,696.4 1673.5,695.7 1676.0,695.2 1678.6,695.2 1681.1,695.5 1683.6,695.4 1686.0,695.2 1688.4,695.4 1690.7,694.7 1692.9,694.4 1695.1,694.0 1697.3,694.5 1699.4,694.4 1701.4,693.6 1703.3,693.9 1705.2,693.5 1707.0,693.6 1711.3,693.5 1715.0,692.4 1718.2,691.8 1721.0,691.3 1723.4,690.8 1725.6,691.1 1727.6,691.3 1729.4,690.6 1731.3,690.8 1733.1,690.5 1735.1,690.0 1737.2,689.7 1739.5,690.0 1742.2,689.2 1745.3,689.1 1747.4,688.7 1749.7,689.0 1752.0,689.0 1754.5,688.4 1757.1,688.2 1759.7,688.1 1762.4,687.5 1765.1,687.1 1767.9,686.5 1770.7,686.7 1773.5,686.1 1776.3,685.8 1779.1,685.2 1781.9,685.8 1784.7,685.9 1787.4,685.8 1790.0,685.4 1792.6,684.8 1795.1,684.5 1797.5,684.7 1799.8,684.7 1802.0,684.3 1804.1,684.1 1806.0,683.5 1809.9,682.9 1813.4,682.2 1816.7,681.9 1819.7,682.1 1822.4,681.8 1824.8,681.9 1827.1,681.3 1829.0,681.4 1830.8,681.4 1832.3,681.5 1833.7,680.7" fill="none" stroke="#0000ff" stroke-width="5" stroke-linecap="round" stroke-linejoin="round"/>
<polyline points="1114.5,735.0 1115.8,735.0 1117.3,734.4 1118.8,734.1 1120.5,733.9 1122.3,734.2 1124.2,734.5 1126.2,734.6 1128.3,733.7 1130.5,733.8 1132.8,733.1 1135.1,732.8 1137.5,732.9 1140.0,732.8 1142.6,733.0 1145.2,732.2 1147.9,732.3 1150.6,732.2 1153.3,731.8 1156.1,731.4 1159.0,731.5 1161.9,730.9 1164.8,731.1 1167.7,730.0 1170.6,730.4 1173.5,730.5 1176.5,729.5 1179.4,729.8 1182.4,729.3 1185.3,728.7 1188.2,728.6 1191.1,728.0 1194.0,728.4 1196.8,728.1 1199.6,728.1 1202.4,727.6 1205.1,727.3 1207.8,727.0 1210.4,726.6 1213.0,726.5 1215.5,726.4 1218.1,725.9 1220.6,726.5 1223.1,726.2 1225.7,726.3 1228.2,726.5 1230.7,725.9 1233.3,725.5 1235.8,725.5 1238.4,725.0 1240.9,724.6 1243.4,724.4 1246.0,725.0 1248.5,724.9 1251.1,724.6 1253.6,724.1 1256.1,724.0 1258.7,723.9 1261.2,724.4 1263.8,724.2 1266.3,724.2 1268.8,724.2 1271.4,723.7 1273.9,723.9 1276.5,724.2 1279.0,723.9 1281.5,723.6 1284.1,723.0 1286.6,723.3 1289.2,722.7 1291.7,722.9 1294.2,722.7 1296.8,723.0 1299.3,722.7 1301.9,722.6 1304.4,721.8 1306.9,721.3 1309.5,721.9 1312.0,722.2 1314.5,722.0 1317.1,721.9 1319.6,721.4 1322.1,721.6 1324.7,720.9 1327.2,720.9 1329.7,720.1 1332.3,720.2 1334.8,720.0 1337.3,720.1 1339.9,720.1 1342.4,719.9 1344.9,719.7 1347.5,719.4 1350.0,718.7 1352.5,718.8 1355.0,718.2 1357.6,718.3 1360.1,718.0 1362.6,718.6 1365.2,717.7 1367.7,718.1 1370.2,718.0 1372.8,718.0 1375.3,718.1 1377.8,717.1 1380.3,716.5 1382.9,716.1 1385.4,715.9 1387.9,716.0 1390.5,716.3 1393.0,715.8 1395.5,715.5 1398.1,715.3 1400.6,715.1 1403.1,715.1 1405.6,715.4 1408.2,714.7 1410.7,714.7 1413.2,714.8 1415.8,714.5 1418.4,714.5 1421.0,714.2 1423.7,713.3 1426.3,713.0 1429.0,712.9 1431.7,712.2 1434.4,711.6 1437.1,711.4 1439.8,711.5 1442.6,711.4 1445.3,711.6 1448.0,711.3 1450.7,711.4 1453.4,710.5 1456.1,710.3 1458.8,709.6 1461.5,709.3 1464.2,709.7 1466.9,709.8 1469.5,709.3 1472.1,708.5 1474.7,707.9 1477.3,708.4 1479.8,708.6 1482.3,708.2 1484.8,707.3 1487.3,707.6 1489.7,707.0 1492.1,707.3 1494.4,707.0 1496.7,706.8 1498.9,706.6 1501.1,706.1 1503.2,705.3 1505.3,704.9 1507.3,704.6 1509.3,705.0 1512.8,704.5 1516.1,704.6 1519.3,703.9 1522.3,703.8 1525.2,702.9 1527.9,703.2 1530.5,702.9 1533.0,702.3 1535.4,702.4 1537.8,701.3 1540.0,700.9 1542.3,701.0 1544.5,700.4 1546.6,700.4 1548.7,700.4 1550.9,699.7 1553.0,699.5 1555.2,698.5 1557.4,698.0 1559.7,698.4 1562.0,697.9 1564.7,697.2 1567.4,697.3 1570.0,696.7 1572.6,696.4 1575.1,696.0 1577.6,695.0 1580.1,694.9 1582.6,694.8 1585.1,694.5 1587.6,693.5 1590.1,692.8 1592.6,692.8 1595.1,692.6 1597.6,692.3 1600.2,691.5 1602.9,690.6 1605.6,689.7 1608.3,689.4 1610.7,689.0 1613.2,688.5 1615.7,687.8 1618.2,687.3 1620.8,687.0 1623.4,686.7 1626.0,686.1 1628.6,685.1 1631.3,684.7 1633.9,683.9 1636.6,683.7 1639.2,683.1 1641.8,682.5 1644.5,681.8 1647.1,681.3 1649.7,680.4 1652.2,680.6 1654.7,680.4 1657.2,680.2 1659.6,679.3 1662.0,678.2 1664.7,677.5 1667.3,676.7 1669.9,676.1 1672.4,675.8 1674.9,675.0 1677.3,674.7 1679.7,674.4 1682.0,674.0 1684.4,673.1 1686.8,672.6 1689.2,672.1 1691.6,672.0 1694.0,671.6 1696.5,670.7 1699.0,669.8 1701.6,669.2 1704.3,669.2 1707.0,668.2 1709.2,667.8 1711.5,667.4 1713.8,666.3 1716.1,665.4 1718.5,665.0 1720.9,664.5 1723.4,663.9 1725.8,662.3 1728.3,661.3 1730.8,661.0 1733.3,659.6 1735.8,658.6 1738.3,658.3 1740.8,657.8 1743.3,656.4 1745.7,655.7 1748.2,654.7 1750.6,653.9 1753.0,652.7 1755.3,651.9 1757.6,651.6 1759.8,650.7 1762.0,649.6 1764.7,649.0 1767.5,648.4 1770.2,647.7 1772.8,647.1 1775.5,646.3 1778.1,646.0 1780.7,645.0 1783.2,644.5 1785.7,643.6 1788.2,642.6 1790.6,642.3 1792.9,642.0 1795.3,641.6 1797.5,640.6 1799.7,640.0 1801.9,639.5 1804.0,638.6 1806.0,638.4 1809.2,637.8 1812.4,637.2 1815.5,635.7 1818.4,635.7 1821.3,634.8 1823.9,634.0 1826.4,633.4 1828.6,633.4 1830.6,632.9 1832.3,632.3 1833.7,631.7" fill="none" stroke="#ff0000" stroke-width="5" stroke-linecap="round" stroke-linejoin="round"/>
<line x1="1644.5" y1="456.0" x2="1689.0" y2="456.0" stroke="#ff0000" stroke-width="4.6"/>
<line x1="1644.5" y1="492.7" x2="1689.0" y2="492.7" stroke="#0000ff" stroke-width="4.6"/>
<text class="sb" x="1702.0" y="462.3" font-size="24" textLength="196.7" lengthAdjust="spacingAndGlyphs">ANGPTL8 KD con</text>
<text class="sb" x="1702.0" y="500.3" font-size="24" textLength="154.0" lengthAdjust="spacingAndGlyphs">ANGPTL8 KD</text>
<text class="sb" font-size="32" text-anchor="middle" textLength="95.0" lengthAdjust="spacingAndGlyphs" transform="translate(1009.9 640.8) rotate(-90)">HepG2</text>
<text class="sb" font-size="32" text-anchor="middle" textLength="140.0" lengthAdjust="spacingAndGlyphs" transform="translate(1047.1 641.7) rotate(-90)">Cell Index</text>
<text class="sb" x="1365.0" y="847.3" font-size="32" textLength="208.0" lengthAdjust="spacingAndGlyphs">Time (in Hour)</text>
<line x1="179.3" y1="936.7" x2="899.3" y2="936.7" stroke="#000" stroke-width="3.1"/>
<line x1="179.3" y1="971.0" x2="899.3" y2="971.0" stroke="#000" stroke-width="3.1"/>
<line x1="179.3" y1="1005.0" x2="899.3" y2="1005.0" stroke="#000" stroke-width="3.1"/>
<line x1="179.3" y1="1039.3" x2="899.3" y2="1039.3" stroke="#000" stroke-width="3.1"/>
<line x1="179.3" y1="1073.7" x2="899.3" y2="1073.7" stroke="#000" stroke-width="3.1"/>
<line x1="179.3" y1="1107.7" x2="899.3" y2="1107.7" stroke="#000" stroke-width="3.1"/>
<line x1="179.3" y1="1142.0" x2="899.3" y2="1142.0" stroke="#000" stroke-width="3.1"/>
<line x1="287.3" y1="935.3" x2="287.3" y2="1176.7" stroke="#000" stroke-width="3.1"/>
<line x1="395.7" y1="935.3" x2="395.7" y2="1176.7" stroke="#000" stroke-width="3.1"/>
<line x1="503.5" y1="935.3" x2="503.5" y2="1176.7" stroke="#000" stroke-width="3.1"/>
<line x1="611.7" y1="935.3" x2="611.7" y2="1176.7" stroke="#000" stroke-width="3.1"/>
<line x1="719.7" y1="935.3" x2="719.7" y2="1176.7" stroke="#000" stroke-width="3.1"/>
<line x1="828.0" y1="935.3" x2="828.0" y2="1176.7" stroke="#000" stroke-width="3.1"/>
<line x1="179.3" y1="935.3" x2="179.3" y2="1185.2" stroke="#868686" stroke-width="2.9"/>
<line x1="170.8" y1="1176.7" x2="899.3" y2="1176.7" stroke="#868686" stroke-width="2.9"/>
<line x1="170.8" y1="936.7" x2="179.3" y2="936.7" stroke="#868686" stroke-width="2.9"/>
<line x1="170.8" y1="971.0" x2="179.3" y2="971.0" stroke="#868686" stroke-width="2.9"/>
<line x1="170.8" y1="1005.0" x2="179.3" y2="1005.0" stroke="#868686" stroke-width="2.9"/>
<line x1="170.8" y1="1039.3" x2="179.3" y2="1039.3" stroke="#868686" stroke-width="2.9"/>
<line x1="170.8" y1="1073.7" x2="179.3" y2="1073.7" stroke="#868686" stroke-width="2.9"/>
<line x1="170.8" y1="1107.7" x2="179.3" y2="1107.7" stroke="#868686" stroke-width="2.9"/>
<line x1="170.8" y1="1142.0" x2="179.3" y2="1142.0" stroke="#868686" stroke-width="2.9"/>
<line x1="287.3" y1="1176.7" x2="287.3" y2="1185.2" stroke="#868686" stroke-width="2.9"/>
<line x1="395.7" y1="1176.7" x2="395.7" y2="1185.2" stroke="#868686" stroke-width="2.9"/>
<line x1="503.5" y1="1176.7" x2="503.5" y2="1185.2" stroke="#868686" stroke-width="2.9"/>
<line x1="611.7" y1="1176.7" x2="611.7" y2="1185.2" stroke="#868686" stroke-width="2.9"/>
<line x1="719.7" y1="1176.7" x2="719.7" y2="1185.2" stroke="#868686" stroke-width="2.9"/>
<line x1="828.0" y1="1176.7" x2="828.0" y2="1185.2" stroke="#868686" stroke-width="2.9"/>
<text class="sr" x="159.3" y="944.3" font-size="23.6" text-anchor="end">1.3</text>
<text class="sr" x="159.3" y="978.6" font-size="23.6" text-anchor="end">1.1</text>
<text class="sr" x="159.3" y="1012.6" font-size="23.6" text-anchor="end">0.9</text>
<text class="sr" x="159.3" y="1046.9" font-size="23.6" text-anchor="end">0.7</text>
<text class="sr" x="159.3" y="1081.3" font-size="23.6" text-anchor="end">0.5</text>
<text class="sr" x="159.3" y="1115.3" font-size="23.6" text-anchor="end">0.3</text>
<text class="sr" x="159.3" y="1149.6" font-size="23.6" text-anchor="end">0.1</text>
<text class="sr" x="159.3" y="1184.3" font-size="23.6" text-anchor="end">-0.1</text>
<text class="sr" x="181.7" y="1211.0" font-size="23.6" text-anchor="middle">0.0</text>
<text class="sr" x="282.7" y="1211.0" font-size="23.6" text-anchor="middle">10.0</text>
<text class="sr" x="382.3" y="1211.0" font-size="23.6" text-anchor="middle">20.0</text>
<text class="sr" x="482.7" y="1211.0" font-size="23.6" text-anchor="middle">30.0</text>
<text class="sr" x="582.7" y="1211.0" font-size="23.6" text-anchor="middle">40.0</text>
<text class="sr" x="682.7" y="1211.0" font-size="23.6" text-anchor="middle">50.0</text>
<text class="sr" x="783.3" y="1211.0" font-size="23.6" text-anchor="middle">60.0</text>
<text class="sr" x="885.0" y="1211.0" font-size="23.6" text-anchor="middle">70.0</text>
<polyline points="180.0,1159.0 181.0,1159.9 182.3,1160.6 184.9,1161.0 190.0,1159.7 191.6,1159.7 193.3,1159.4 195.2,1158.5 197.2,1158.0 199.3,1156.8 201.6,1156.7 203.9,1156.0 206.4,1154.8 208.9,1154.2 211.5,1153.7 214.1,1152.4 216.8,1150.9 219.6,1149.9 222.3,1149.3 225.1,1148.6 227.8,1148.0 230.6,1147.4 233.3,1146.7 235.6,1146.1 238.0,1146.0 240.4,1145.6 242.8,1145.1 245.2,1144.5 247.7,1143.6 250.2,1143.1 252.7,1143.0 255.2,1143.4 257.8,1142.6 260.4,1142.9 263.0,1142.0 265.6,1141.6 268.3,1141.4 270.9,1140.9 273.6,1140.8 276.3,1140.5 279.0,1140.2 281.8,1140.2 284.5,1139.5 287.3,1139.0 289.7,1139.2 292.1,1138.3 294.5,1138.5 297.0,1138.3 299.6,1138.0 302.1,1137.1 304.7,1137.4 307.3,1136.6 309.9,1135.9 312.6,1135.3 315.2,1135.3 317.8,1135.6 320.5,1134.8 323.1,1134.4 325.7,1133.7 328.3,1133.7 330.9,1133.3 333.4,1132.5 335.9,1132.6 338.4,1132.0 340.8,1131.9 343.2,1131.5 345.5,1131.5 347.8,1130.8 350.0,1130.8 353.0,1130.7 355.9,1129.5 358.7,1128.7 361.5,1128.9 364.2,1128.1 366.8,1127.6 369.4,1127.2 371.9,1126.6 374.4,1126.7 376.9,1126.2 379.3,1125.9 381.7,1125.4 384.1,1125.0 386.4,1124.6 388.7,1123.9 391.1,1123.9 393.4,1123.4 395.7,1123.2 398.4,1122.7 401.1,1121.8 403.7,1121.5 406.2,1120.5 408.7,1119.8 411.2,1119.2 413.6,1118.9 416.1,1118.5 418.5,1118.6 420.9,1118.3 423.3,1117.9 425.8,1117.2 428.2,1116.9 430.7,1116.4 433.3,1116.5 435.8,1116.6 438.3,1116.5 440.8,1116.7 443.4,1116.3 445.9,1116.0 448.5,1115.3 451.2,1115.1 453.8,1115.1 456.3,1114.7 458.9,1114.7 461.4,1114.3 463.9,1114.1 466.4,1114.7 468.7,1115.1 471.1,1114.7 473.3,1114.4 476.1,1114.3 478.7,1113.8 481.2,1113.9 483.6,1113.4 485.8,1112.6 488.1,1111.9 490.4,1112.1 492.7,1111.6 495.2,1111.1 497.8,1110.8 500.6,1110.1 503.7,1109.7 505.9,1109.7 508.1,1109.6 510.3,1109.1 512.6,1108.1 515.0,1107.4 517.4,1107.5 519.8,1107.4 522.3,1106.6 524.9,1106.4 527.5,1105.3 530.1,1105.1 532.8,1104.6 535.6,1104.5 538.4,1103.2 541.2,1103.0 544.1,1102.5 547.0,1101.4 550.0,1101.3 552.2,1100.4 554.5,1099.6 556.8,1099.4 559.3,1098.6 561.7,1098.4 564.3,1097.8 566.8,1096.5 569.4,1096.2 572.0,1095.4 574.7,1094.4 577.4,1093.9 580.0,1093.3 582.7,1092.1 585.3,1091.0 588.0,1090.3 590.6,1089.5 593.2,1088.7 595.7,1088.2 598.2,1087.6 600.6,1087.3 603.0,1086.7 605.3,1086.5 607.5,1085.7 609.7,1085.1 611.7,1085.2 614.9,1085.0 618.0,1084.3 620.9,1083.1 623.6,1083.2 626.3,1082.9 628.8,1082.7 631.2,1082.6 633.6,1082.2 635.9,1081.1 638.2,1081.2 640.5,1080.4 642.8,1080.4 645.2,1080.4 647.5,1080.2 650.0,1079.8 652.7,1079.2 655.4,1078.9 658.0,1078.2 660.7,1077.9 663.4,1077.6 666.0,1077.6 668.7,1077.7 671.3,1076.7 673.9,1076.6 676.5,1076.1 679.1,1076.4 681.7,1075.8 684.2,1075.9 686.7,1075.1 689.3,1074.1 691.8,1074.2 694.3,1074.1 696.7,1073.8 699.0,1073.2 701.4,1072.8 703.7,1072.1 706.2,1071.1 708.6,1070.8 711.2,1070.0 713.9,1069.5 716.7,1068.6 719.7,1067.8 721.8,1067.8 724.0,1067.0 726.2,1066.5 728.4,1065.8 730.7,1065.1 733.0,1064.2 735.4,1063.7 737.8,1062.4 740.2,1061.3 742.7,1061.1 745.2,1060.3 747.7,1059.0 750.3,1058.8 753.0,1057.8 755.6,1056.3 758.3,1056.2 761.1,1054.9 763.9,1054.3 766.7,1052.9 768.9,1052.6 771.2,1051.5 773.6,1051.4 776.0,1050.2 778.5,1049.6 781.1,1048.5 783.7,1047.6 786.3,1047.3 788.9,1045.9 791.6,1045.0 794.3,1044.0 797.0,1043.5 799.6,1042.4 802.3,1041.8 804.9,1041.2 807.5,1039.7 810.1,1039.1 812.6,1038.0 815.0,1037.2 817.4,1036.9 819.7,1035.8 821.9,1035.6 824.0,1035.4 826.1,1035.2 828.0,1034.3 831.4,1032.9 834.5,1031.8 837.3,1031.4 839.9,1031.4 842.3,1030.5 844.5,1030.2 846.7,1030.6 848.8,1029.8 850.8,1030.0 853.0,1029.9 855.2,1029.0 857.5,1029.2 860.0,1028.1 862.5,1027.7 865.2,1026.5 868.0,1026.2 871.0,1025.5 873.9,1025.0 876.9,1024.3 879.9,1023.0 882.7,1022.3 885.4,1021.9 888.0,1021.5 890.3,1020.2 892.4,1019.3 894.2,1019.4 895.7,1019.0" fill="none" stroke="#ff0000" stroke-width="5" stroke-linecap="round" stroke-linejoin="round"/>
<polyline points="180.0,1159.0 181.0,1159.9 182.3,1160.2 184.9,1160.1 190.0,1159.6 191.7,1159.0 193.5,1159.0 195.5,1158.8 197.7,1158.4 200.0,1158.1 202.4,1157.6 204.9,1157.1 207.6,1156.4 210.3,1155.2 213.0,1154.5 215.9,1153.8 218.8,1153.4 221.7,1152.3 224.6,1151.2 227.5,1151.3 230.4,1151.1 233.3,1150.3 235.6,1149.3 238.0,1149.0 240.4,1148.8 242.8,1148.4 245.2,1148.6 247.7,1148.5 250.2,1148.2 252.7,1147.0 255.2,1147.0 257.8,1146.5 260.4,1145.9 263.0,1145.7 265.6,1145.6 268.3,1145.5 270.9,1145.2 273.6,1144.0 276.3,1143.3 279.0,1143.0 281.8,1142.5 284.5,1142.0 287.3,1142.5 289.7,1142.4 292.1,1142.4 294.5,1142.1 297.0,1141.8 299.6,1141.9 302.1,1141.2 304.7,1141.3 307.3,1141.4 309.9,1141.0 312.6,1140.7 315.2,1140.8 317.8,1140.4 320.5,1140.8 323.1,1140.7 325.7,1140.4 328.3,1140.4 330.9,1140.6 333.4,1140.4 335.9,1139.6 338.4,1139.7 340.8,1139.7 343.2,1139.7 345.5,1138.7 347.8,1138.0 350.0,1137.9 353.0,1137.6 355.9,1137.3 358.7,1136.5 361.5,1136.3 364.2,1135.9 366.8,1134.6 369.4,1134.3 371.9,1133.7 374.4,1132.5 376.9,1132.4 379.3,1131.5 381.7,1131.0 384.1,1130.4 386.4,1129.1 388.7,1128.1 391.1,1127.9 393.4,1127.1 395.7,1127.0 398.4,1126.5 401.1,1125.1 403.7,1125.0 406.2,1124.0 408.7,1123.0 411.2,1122.9 413.6,1122.4 416.1,1121.4 418.5,1121.0 420.9,1120.4 423.3,1120.0 425.8,1119.7 428.2,1119.1 430.7,1118.4 433.3,1117.7 435.8,1117.6 438.3,1117.6 440.8,1116.9 443.4,1116.7 445.9,1115.9 448.5,1116.3 451.2,1115.7 453.8,1115.5 456.3,1115.2 458.9,1114.6 461.4,1115.0 463.9,1115.0 466.4,1114.6 468.7,1114.6 471.1,1114.2 473.3,1113.6 476.1,1112.8 478.7,1112.3 481.2,1112.2 483.6,1111.5 485.8,1110.7 488.1,1110.4 490.4,1110.2 492.7,1110.2 495.2,1109.2 497.8,1109.0 500.6,1108.7 503.7,1108.2 505.7,1106.8 507.8,1106.1 510.0,1105.3 512.1,1105.2 514.4,1104.2 516.6,1103.6 518.9,1102.4 521.3,1101.6 523.7,1101.2 526.1,1100.3 528.6,1099.8 531.1,1099.0 533.7,1098.4 536.3,1097.5 539.0,1097.0 541.7,1095.7 544.4,1095.3 547.2,1094.6 550.0,1093.3 552.2,1092.1 554.4,1091.6 556.7,1090.8 559.1,1090.1 561.5,1090.0 563.9,1089.7 566.3,1089.2 568.8,1087.6 571.4,1087.1 573.9,1086.7 576.4,1085.9 579.0,1084.5 581.6,1083.9 584.2,1082.9 586.8,1082.2 589.3,1081.1 591.9,1081.1 594.5,1080.5 597.0,1079.1 599.5,1079.0 602.0,1078.5 604.5,1077.5 606.9,1076.8 609.3,1075.8 611.7,1075.6 614.3,1074.1 617.0,1072.9 619.6,1072.0 622.1,1071.9 624.7,1070.6 627.2,1070.2 629.8,1069.4 632.3,1069.3 634.8,1068.1 637.3,1067.1 639.7,1066.3 642.2,1066.0 644.7,1065.5 647.1,1064.8 649.6,1063.7 652.0,1062.7 654.5,1061.6 656.9,1060.8 659.4,1060.6 661.8,1059.9 664.2,1058.7 666.7,1057.7 669.2,1057.1 671.7,1056.4 674.2,1055.7 676.8,1055.4 679.4,1054.0 682.0,1052.9 684.6,1051.9 687.2,1050.8 689.8,1049.8 692.4,1049.4 695.0,1049.0 697.5,1048.2 700.0,1046.7 702.4,1046.3 704.8,1045.2 707.2,1043.9 709.5,1043.1 711.7,1042.4 713.8,1041.8 715.9,1041.4 717.8,1040.4 719.7,1040.4 723.1,1038.5 726.1,1037.6 728.7,1036.8 731.0,1036.4 733.2,1035.4 735.2,1034.7 737.3,1034.4 739.3,1033.1 741.6,1031.7 744.0,1031.3 746.7,1030.5 748.6,1028.9 750.5,1028.3 752.5,1026.9 754.5,1025.8 756.5,1024.7 758.6,1023.4 760.7,1021.7 762.8,1020.8 765.0,1018.8 767.2,1017.1 769.4,1016.4 771.6,1015.0 773.9,1013.2 776.2,1012.5 778.6,1011.4 780.9,1009.7 783.3,1007.8 785.5,1006.9 787.7,1005.5 790.0,1004.6 792.4,1003.9 794.8,1002.4 797.3,1000.7 799.7,999.9 802.2,998.4 804.7,997.1 807.2,995.8 809.7,994.7 812.1,994.2 814.5,992.6 816.9,991.8 819.3,990.6 821.6,989.5 823.8,988.7 825.9,988.0 828.0,986.7 830.9,985.7 833.6,984.6 836.3,983.8 838.8,983.8 841.3,983.3 843.7,982.8 846.1,982.5 848.4,982.2 850.7,981.9 853.0,981.3 855.3,980.1 857.6,979.3 860.0,978.4 862.4,977.8 865.0,976.5 867.6,975.1 870.2,973.5 872.8,972.2 875.4,970.8 877.9,970.1 880.3,969.1 882.6,967.3 884.8,966.9 886.7,965.8 888.5,965.1 890.0,964.8 894.7,963.7 895.7,963.3" fill="none" stroke="#0000ff" stroke-width="5" stroke-linecap="round" stroke-linejoin="round"/>
<line x1="702.0" y1="861.0" x2="746.7" y2="861.0" stroke="#ff0000" stroke-width="4.6"/>
<line x1="702.0" y1="897.7" x2="746.7" y2="897.7" stroke="#0000ff" stroke-width="4.6"/>
<text class="sb" x="757.7" y="869.3" font-size="24" textLength="195.0" lengthAdjust="spacingAndGlyphs">ANGPTL8 OE con</text>
<text class="sb" x="757.7" y="907.3" font-size="24" textLength="152.3" lengthAdjust="spacingAndGlyphs">ANGPTL8 OE</text>
<text class="sb" font-size="32" text-anchor="middle" textLength="59.5" lengthAdjust="spacingAndGlyphs" transform="translate(77.3 1049.7) rotate(-90)">LO2</text>
<text class="sb" font-size="32" text-anchor="middle" textLength="140.0" lengthAdjust="spacingAndGlyphs" transform="translate(113.6 1050.8) rotate(-90)">Cell Index</text>
<text class="sb" x="420.7" y="1252.7" font-size="32" textLength="206.0" lengthAdjust="spacingAndGlyphs">Time (in Hour)</text>
<line x1="1118.3" y1="991.3" x2="1837.0" y2="991.3" stroke="#000" stroke-width="3.1"/>
<line x1="1118.3" y1="1053.3" x2="1837.0" y2="1053.3" stroke="#000" stroke-width="3.1"/>
<line x1="1118.3" y1="1116.0" x2="1837.0" y2="1116.0" stroke="#000" stroke-width="3.1"/>
<line x1="1290.3" y1="953.3" x2="1290.3" y2="1179.0" stroke="#000" stroke-width="3.1"/>
<line x1="1462.5" y1="953.3" x2="1462.5" y2="1179.0" stroke="#000" stroke-width="3.1"/>
<line x1="1634.3" y1="953.3" x2="1634.3" y2="1179.0" stroke="#000" stroke-width="3.1"/>
<line x1="1806.3" y1="953.3" x2="1806.3" y2="1179.0" stroke="#000" stroke-width="3.1"/>
<line x1="1118.3" y1="951.9" x2="1118.3" y2="1187.5" stroke="#868686" stroke-width="2.9"/>
<line x1="1109.8" y1="1179.0" x2="1837.0" y2="1179.0" stroke="#868686" stroke-width="2.9"/>
<line x1="1109.8" y1="991.3" x2="1118.3" y2="991.3" stroke="#868686" stroke-width="2.9"/>
<line x1="1109.8" y1="1053.3" x2="1118.3" y2="1053.3" stroke="#868686" stroke-width="2.9"/>
<line x1="1109.8" y1="1116.0" x2="1118.3" y2="1116.0" stroke="#868686" stroke-width="2.9"/>
<line x1="1290.3" y1="1179.0" x2="1290.3" y2="1187.5" stroke="#868686" stroke-width="2.9"/>
<line x1="1462.5" y1="1179.0" x2="1462.5" y2="1187.5" stroke="#868686" stroke-width="2.9"/>
<line x1="1634.3" y1="1179.0" x2="1634.3" y2="1187.5" stroke="#868686" stroke-width="2.9"/>
<line x1="1806.3" y1="1179.0" x2="1806.3" y2="1187.5" stroke="#868686" stroke-width="2.9"/>
<text class="sr" x="1104.0" y="998.9" font-size="23.6" text-anchor="end">1.4</text>
<text class="sr" x="1104.0" y="1060.9" font-size="23.6" text-anchor="end">0.9</text>
<text class="sr" x="1104.0" y="1123.6" font-size="23.6" text-anchor="end">0.4</text>
<text class="sr" x="1104.0" y="1186.6" font-size="23.6" text-anchor="end">-0.1</text>
<text class="sr" x="1118.3" y="1215.7" font-size="23.6" text-anchor="middle">0.0</text>
<text class="sr" x="1290.3" y="1215.7" font-size="23.6" text-anchor="middle">20.0</text>
<text class="sr" x="1462.5" y="1215.7" font-size="23.6" text-anchor="middle">40.0</text>
<text class="sr" x="1634.3" y="1215.7" font-size="23.6" text-anchor="middle">60.0</text>
<text class="sr" x="1806.3" y="1215.7" font-size="23.6" text-anchor="middle">80.0</text>
<polyline points="1119.0,1166.7 1120.4,1166.1 1122.1,1166.2 1124.0,1166.2 1126.2,1165.0 1128.5,1165.1 1131.0,1164.0 1133.6,1163.9 1136.4,1163.4 1139.2,1162.4 1142.2,1162.1 1145.1,1161.7 1148.2,1160.5 1151.2,1160.0 1154.2,1159.7 1157.1,1159.2 1160.0,1159.0 1162.3,1157.8 1164.7,1157.7 1167.2,1157.7 1169.7,1157.2 1172.3,1156.7 1174.9,1155.9 1177.5,1156.1 1180.2,1156.0 1182.8,1155.3 1185.5,1154.6 1188.1,1154.3 1190.8,1153.5 1193.4,1153.1 1195.9,1152.7 1198.5,1152.7 1200.9,1152.0 1203.3,1152.5 1205.6,1151.9 1207.9,1151.4 1210.0,1151.6 1213.1,1151.8 1215.9,1151.8 1218.5,1151.1 1221.0,1150.3 1223.4,1150.5 1225.7,1150.9 1228.0,1151.0 1230.3,1151.0 1232.6,1151.0 1235.0,1151.0 1237.6,1150.2 1240.3,1150.3 1243.3,1149.6 1245.6,1148.7 1247.9,1148.4 1250.3,1147.8 1252.7,1147.4 1255.2,1147.9 1257.7,1147.8 1260.3,1147.7 1262.9,1147.2 1265.6,1146.2 1268.2,1146.3 1271.0,1145.9 1273.7,1145.7 1276.4,1145.3 1279.2,1144.3 1282.0,1144.0 1284.7,1143.2 1287.5,1142.7 1290.3,1142.7 1292.7,1142.0 1295.1,1142.1 1297.6,1142.3 1300.1,1142.3 1302.6,1141.6 1305.1,1141.7 1307.6,1141.6 1310.2,1140.4 1312.8,1140.3 1315.3,1140.4 1317.9,1140.4 1320.5,1139.5 1323.1,1139.2 1325.6,1139.4 1328.2,1138.4 1330.8,1138.5 1333.3,1137.8 1335.8,1138.1 1338.3,1137.2 1340.8,1137.4 1343.3,1136.4 1345.9,1136.4 1348.6,1136.2 1351.3,1136.1 1354.0,1135.4 1356.7,1134.7 1359.5,1134.0 1362.3,1133.3 1365.0,1132.9 1367.7,1132.3 1370.4,1131.7 1373.1,1131.6 1375.7,1131.7 1378.2,1131.9 1380.7,1131.7 1383.1,1131.0 1385.4,1130.3 1387.5,1130.0 1389.6,1129.2 1391.5,1129.0 1393.3,1129.3 1397.3,1128.7 1400.0,1128.4 1401.8,1127.6 1403.4,1127.0 1405.2,1127.3 1407.9,1126.6 1412.0,1125.7 1413.8,1126.0 1415.7,1125.0 1417.7,1124.4 1419.8,1124.1 1422.1,1124.1 1424.4,1123.7 1426.8,1123.7 1429.2,1122.5 1431.8,1122.2 1434.4,1121.8 1437.1,1121.2 1439.8,1120.2 1442.5,1120.3 1445.4,1119.3 1448.2,1119.3 1451.1,1118.2 1454.0,1117.2 1456.9,1116.6 1459.8,1115.9 1462.7,1115.8 1464.9,1115.7 1467.1,1115.4 1469.4,1114.6 1471.6,1113.9 1474.0,1113.3 1476.3,1112.5 1478.7,1112.5 1481.1,1112.5 1483.5,1111.6 1486.0,1111.0 1488.5,1110.6 1491.0,1110.0 1493.5,1109.8 1496.0,1109.4 1498.5,1108.5 1501.0,1107.6 1503.6,1107.0 1506.1,1106.5 1508.6,1105.8 1511.2,1106.0 1513.7,1105.2 1516.2,1104.6 1518.7,1104.1 1521.3,1103.7 1523.8,1102.6 1526.2,1102.2 1528.7,1101.3 1531.1,1101.2 1533.5,1100.3 1536.0,1099.5 1538.4,1098.6 1540.9,1097.9 1543.4,1096.9 1546.0,1096.0 1548.5,1094.9 1551.0,1094.7 1553.6,1094.1 1556.1,1092.7 1558.6,1091.9 1561.2,1091.2 1563.7,1091.0 1566.2,1090.0 1568.7,1089.1 1571.1,1088.5 1573.5,1087.8 1575.9,1086.6 1578.3,1085.7 1580.6,1085.2 1582.8,1084.2 1585.1,1083.8 1587.2,1082.8 1589.3,1081.5 1591.4,1081.5 1593.4,1081.0 1595.3,1080.2 1598.5,1079.6 1601.5,1078.9 1604.2,1078.0 1606.9,1077.2 1609.3,1076.0 1611.7,1075.8 1614.0,1074.8 1616.2,1074.9 1618.3,1074.8 1620.5,1074.4 1622.6,1073.2 1624.8,1072.6 1627.0,1072.7 1629.4,1072.0 1631.8,1071.9 1634.3,1071.2 1636.6,1070.8 1639.1,1069.8 1641.5,1069.7 1644.0,1069.4 1646.6,1068.1 1649.1,1067.5 1651.7,1067.0 1654.3,1066.4 1656.9,1065.8 1659.4,1065.4 1662.0,1065.4 1664.5,1065.1 1667.0,1064.6 1669.5,1063.9 1671.9,1063.2 1674.2,1062.6 1676.5,1061.8 1678.7,1061.6 1681.6,1061.2 1684.4,1061.0 1687.0,1060.5 1689.5,1059.6 1692.0,1058.2 1694.4,1057.4 1696.8,1057.0 1699.2,1056.2 1701.6,1055.5 1704.1,1054.8 1706.6,1054.1 1709.2,1053.5 1712.0,1052.2 1714.3,1051.5 1716.6,1050.6 1718.9,1050.3 1721.2,1049.8 1723.5,1048.5 1725.9,1048.3 1728.3,1047.3 1730.7,1046.2 1733.1,1045.8 1735.7,1045.4 1738.2,1044.7 1740.8,1043.1 1743.5,1042.6 1746.3,1041.5 1749.1,1040.5 1752.0,1039.8 1754.2,1039.6 1756.5,1038.5 1758.9,1038.5 1761.3,1037.5 1763.9,1037.5 1766.5,1036.7 1769.1,1036.5 1771.8,1035.4 1774.4,1034.8 1777.1,1034.4 1779.8,1033.5 1782.5,1032.7 1785.2,1032.8 1787.8,1032.5 1790.4,1032.1 1792.9,1031.8 1795.4,1031.3 1797.8,1030.5 1800.1,1029.5 1802.3,1028.9 1804.3,1028.6 1806.3,1027.8 1810.0,1027.6 1813.5,1027.2 1816.8,1025.7 1819.9,1024.8 1822.8,1024.7 1825.5,1024.4 1828.0,1023.4 1830.2,1022.8 1832.1,1022.9 1833.8,1022.5 1835.3,1021.7" fill="none" stroke="#ff0000" stroke-width="5" stroke-linecap="round" stroke-linejoin="round"/>
<polyline points="1119.0,1166.7 1123.3,1167.7 1124.7,1167.6 1126.4,1166.9 1128.2,1166.2 1130.2,1166.0 1132.3,1165.9 1134.6,1165.2 1137.0,1165.4 1139.6,1164.9 1142.2,1164.2 1145.0,1163.3 1147.8,1163.4 1150.6,1163.1 1153.5,1162.5 1156.5,1161.6 1159.4,1160.9 1162.4,1160.0 1165.4,1159.7 1168.3,1159.8 1171.2,1159.4 1174.1,1158.8 1176.8,1158.2 1179.5,1157.3 1182.1,1156.7 1184.6,1155.8 1187.0,1156.0 1189.3,1155.9 1191.4,1154.9 1193.3,1155.2 1197.0,1154.8 1200.2,1154.3 1202.9,1153.3 1205.3,1153.0 1207.4,1153.4 1209.4,1153.0 1211.4,1153.5 1213.3,1153.4 1215.4,1153.1 1217.7,1152.9 1220.3,1152.7 1223.2,1152.4 1226.7,1152.5 1228.7,1152.7 1230.7,1153.0 1232.9,1152.6 1235.1,1152.1 1237.4,1152.2 1239.7,1152.5 1242.1,1152.8 1244.6,1152.4 1247.1,1152.5 1249.7,1152.5 1252.3,1152.2 1254.9,1151.7 1257.6,1151.4 1260.3,1152.3 1263.0,1152.4 1265.7,1152.6 1268.4,1152.1 1271.2,1152.3 1274.0,1152.6 1276.7,1152.1 1279.5,1151.6 1282.2,1152.0 1284.9,1152.3 1287.6,1152.4 1290.3,1152.4 1292.8,1152.1 1295.3,1152.0 1297.8,1152.0 1300.3,1151.9 1302.9,1151.8 1305.4,1152.1 1308.0,1151.4 1310.6,1151.2 1313.2,1151.0 1315.8,1150.5 1318.4,1150.9 1321.0,1150.9 1323.6,1150.5 1326.3,1150.8 1328.9,1150.4 1331.5,1150.4 1334.1,1150.7 1336.8,1151.0 1339.4,1150.8 1342.0,1150.5 1344.6,1150.6 1347.2,1150.6 1349.8,1150.6 1352.4,1149.8 1354.9,1149.2 1357.5,1148.8 1360.0,1148.7 1362.6,1149.1 1365.3,1149.3 1368.0,1148.6 1370.7,1148.7 1373.5,1148.3 1376.2,1147.7 1379.0,1147.6 1381.8,1147.9 1384.5,1147.4 1387.3,1147.6 1390.0,1147.1 1392.7,1146.7 1395.5,1146.4 1398.1,1146.7 1400.8,1146.4 1403.4,1146.5 1406.0,1146.2 1408.5,1146.3 1411.0,1145.3 1413.5,1145.6 1415.8,1145.2 1418.2,1145.3 1420.4,1144.7 1422.6,1144.2 1424.7,1143.6 1426.7,1144.1 1430.1,1143.3 1433.2,1142.9 1435.9,1142.7 1438.3,1142.7 1440.6,1143.0 1442.7,1142.5 1444.7,1142.0 1446.8,1142.0 1448.9,1142.0 1451.1,1141.5 1453.6,1141.3 1456.3,1140.5 1459.3,1140.4 1462.7,1139.5 1464.7,1139.3 1466.8,1139.6 1469.0,1139.0 1471.2,1139.2 1473.5,1138.9 1475.9,1139.0 1478.3,1138.2 1480.8,1138.2 1483.3,1138.1 1485.9,1137.7 1488.5,1137.9 1491.1,1137.3 1493.8,1136.5 1496.5,1136.1 1499.2,1135.9 1501.9,1135.3 1504.6,1135.2 1507.4,1135.6 1510.1,1135.0 1512.8,1135.0 1515.5,1134.9 1518.2,1134.3 1520.9,1134.3 1523.5,1133.8 1526.1,1133.1 1528.7,1132.9 1531.3,1132.9 1533.9,1132.3 1536.5,1132.5 1539.2,1131.9 1541.9,1131.4 1544.6,1131.5 1547.3,1131.2 1550.1,1130.6 1552.8,1130.8 1555.5,1130.8 1558.3,1129.9 1561.0,1129.9 1563.7,1129.2 1566.4,1128.4 1569.0,1128.7 1571.7,1128.6 1574.3,1127.9 1576.8,1127.2 1579.3,1127.2 1581.8,1126.4 1584.2,1126.5 1586.6,1126.2 1588.9,1125.5 1591.1,1125.2 1593.2,1125.2 1595.3,1124.5 1598.6,1124.7 1601.6,1124.0 1604.4,1123.8 1606.8,1123.0 1609.2,1123.5 1611.4,1123.3 1613.5,1123.1 1615.6,1122.2 1617.7,1122.3 1620.0,1121.9 1622.3,1121.6 1624.9,1121.5 1627.7,1121.2 1630.8,1120.6 1634.3,1120.7 1636.3,1120.7 1638.4,1120.2 1640.7,1120.3 1643.0,1120.3 1645.4,1119.8 1647.8,1119.8 1650.4,1119.2 1653.0,1119.6 1655.6,1118.9 1658.3,1119.2 1661.0,1118.6 1663.8,1118.2 1666.5,1117.9 1669.3,1117.7 1672.1,1117.6 1674.9,1117.5 1677.7,1117.7 1680.4,1117.3 1683.2,1117.6 1685.9,1117.2 1688.5,1116.7 1691.1,1116.8 1693.7,1116.4 1696.2,1117.0 1698.6,1116.5 1700.9,1115.8 1703.1,1116.1 1705.3,1116.4 1708.5,1116.2 1711.5,1115.8 1714.4,1114.9 1717.2,1114.1 1719.8,1113.9 1722.4,1113.9 1724.9,1113.0 1727.3,1112.5 1729.7,1112.1 1732.1,1112.5 1734.4,1111.7 1736.8,1111.3 1739.2,1110.6 1741.6,1110.0 1744.1,1109.4 1746.6,1109.3 1749.3,1109.6 1752.0,1109.1 1754.4,1109.2 1757.0,1108.4 1759.6,1108.6 1762.2,1107.8 1764.9,1108.2 1767.7,1108.1 1770.5,1107.4 1773.3,1107.1 1776.1,1107.0 1778.9,1107.0 1781.6,1107.2 1784.4,1106.4 1787.1,1106.6 1789.8,1106.0 1792.4,1105.8 1795.0,1106.2 1797.4,1105.6 1799.8,1105.3 1802.1,1105.6 1804.3,1105.7 1806.3,1105.4 1810.0,1105.3 1813.5,1104.3 1816.8,1104.3 1819.9,1103.5 1822.8,1104.0 1825.5,1103.2 1828.0,1103.1 1830.2,1103.1 1832.1,1103.3 1833.8,1103.2 1835.3,1102.7" fill="none" stroke="#0000ff" stroke-width="5" stroke-linecap="round" stroke-linejoin="round"/>
<line x1="1648.5" y1="862.7" x2="1693.0" y2="862.7" stroke="#ff0000" stroke-width="4.6"/>
<line x1="1648.5" y1="899.3" x2="1693.0" y2="899.3" stroke="#0000ff" stroke-width="4.6"/>
<text class="sb" x="1705.3" y="868.3" font-size="24" textLength="196.0" lengthAdjust="spacingAndGlyphs">ANGPTL8 KD con</text>
<text class="sb" x="1705.3" y="906.0" font-size="24" textLength="153.4" lengthAdjust="spacingAndGlyphs">ANGPTL8 KD</text>
<text class="sb" font-size="32" text-anchor="middle" textLength="60.0" lengthAdjust="spacingAndGlyphs" transform="translate(1009.9 1072.7) rotate(-90)">LO2</text>
<text class="sb" font-size="32" text-anchor="middle" textLength="140.0" lengthAdjust="spacingAndGlyphs" transform="translate(1047.1 1070.7) rotate(-90)">Cell Index</text>
<text class="sb" x="1361.7" y="1252.7" font-size="32" textLength="207.6" lengthAdjust="spacingAndGlyphs">Time (in Hour)</text>
<text class="sb" x="2.0" y="33.3" font-size="42" textLength="31.0" lengthAdjust="spacingAndGlyphs">A</text>
<text class="sb" x="66.0" y="43.3" font-size="37">a</text>
<text class="sb" x="1057.7" y="43.3" font-size="37">b</text>
<text class="sb" x="0.5" y="445.0" font-size="42" textLength="32.3" lengthAdjust="spacingAndGlyphs">B</text>
<text class="sb" x="65.7" y="470.7" font-size="37">a</text>
<text class="sb" x="1057.7" y="470.7" font-size="37">b</text>
<text class="sb" x="-0.1" y="883.3" font-size="42" textLength="37.1" lengthAdjust="spacingAndGlyphs">C</text>
<text class="sb" x="65.7" y="899.3" font-size="37">a</text>
<text class="sb" x="1057.7" y="896.7" font-size="37">b</text>
<text class="sb" x="1.4" y="1286.7" font-size="42" textLength="34.2" lengthAdjust="spacingAndGlyphs">D</text>
<text class="sb" x="65.7" y="1310.0" font-size="37">a</text>
<text class="sb" x="333.3" y="1332.3" font-size="32" textLength="33.0" lengthAdjust="spacingAndGlyphs">3d</text>
<text class="sb" x="459.3" y="1332.3" font-size="32" textLength="46.5" lengthAdjust="spacingAndGlyphs">10d</text>
<text class="sb" x="588.3" y="1332.3" font-size="32" textLength="49.0" lengthAdjust="spacingAndGlyphs">20d</text>
<text class="sb" x="729.0" y="1332.3" font-size="32" textLength="48.7" lengthAdjust="spacingAndGlyphs">30d</text>
<text class="sb" x="30.7" y="1438.3" font-size="33" textLength="260.0" lengthAdjust="spacingAndGlyphs">ANGPTL8 OE con</text>
<text class="sb" x="87.3" y="1610.7" font-size="33" textLength="203.4" lengthAdjust="spacingAndGlyphs">ANGPTL8 OE</text>
<text class="sb" x="26.7" y="1782.7" font-size="33" textLength="262.6" lengthAdjust="spacingAndGlyphs">ANGPTL8 KD con</text>
<text class="sb" x="83.3" y="1946.7" font-size="33" textLength="206.0" lengthAdjust="spacingAndGlyphs">ANGPTL8 KD</text>
<line x1="345.7" y1="2041.7" x2="749.0" y2="2041.7" stroke="#1a0a0a" stroke-width="2.2"/>
<text class="sb" x="435.0" y="2077.3" font-size="32" textLength="230.7" lengthAdjust="spacingAndGlyphs">Orthotopic HCC</text>
<defs><radialGradient id="mb" cx="0.5" cy="0.5" r="0.62"><stop offset="0" stop-color="#ececec"/><stop offset="0.45" stop-color="#dadada"/><stop offset="0.8" stop-color="#c2c2c2"/><stop offset="1" stop-color="#a0a0a0"/></radialGradient><radialGradient id="gh"><stop offset="0" stop-color="#ff0000"/><stop offset="0.14" stop-color="#ffb000"/><stop offset="0.26" stop-color="#d8ff00"/><stop offset="0.42" stop-color="#20ff40"/><stop offset="0.58" stop-color="#00e8ff"/><stop offset="0.76" stop-color="#0058ff"/><stop offset="0.92" stop-color="#3a10ff"/><stop offset="1" stop-color="#6a18f0"/></radialGradient><radialGradient id="gw"><stop offset="0" stop-color="#ffe800"/><stop offset="0.2" stop-color="#60ff00"/><stop offset="0.45" stop-color="#00ffc0"/><stop offset="0.7" stop-color="#0068ff"/><stop offset="0.92" stop-color="#3a10ff"/><stop offset="1" stop-color="#6a18f0"/></radialGradient><radialGradient id="gc"><stop offset="0" stop-color="#20f0ff"/><stop offset="0.35" stop-color="#00a0ff"/><stop offset="0.7" stop-color="#1030ff"/><stop offset="0.92" stop-color="#4410ff"/><stop offset="1" stop-color="#7018f0"/></radialGradient><radialGradient id="gb"><stop offset="0" stop-color="#0070ff"/><stop offset="0.5" stop-color="#2018ff"/><stop offset="1" stop-color="#7a18f0"/></radialGradient><filter id="grain" x="0" y="0" width="100%" height="100%"><feTurbulence type="fractalNoise" baseFrequency="0.9" numOctaves="2" seed="3"/><feColorMatrix type="matrix" values="0.33 0.33 0.33 0 0  0.33 0.33 0.33 0 0  0.33 0.33 0.33 0 0  0 0 0 0 1"/></filter><filter id="mbl" x="-10%" y="-10%" width="120%" height="120%"><feGaussianBlur stdDeviation="0.6"/></filter><filter id="mbl2" x="-30%" y="-30%" width="160%" height="160%"><feGaussianBlur stdDeviation="5"/></filter></defs>
<clipPath id="mc00"><rect x="306" y="1344.3" width="85.7" height="157.4"/></clipPath>
<g clip-path="url(#mc00)">
<rect x="306.0" y="1344.3" width="85.7" height="157.4" fill="#2f2f2f"/>
<rect x="316.7" y="1344.3" width="11.5" height="157.4" fill="#262626" opacity="0.6"/>
<rect x="358.0" y="1344.3" width="14.8" height="157.4" fill="#3a3a3a" opacity="0.6"/>
<rect x="365.0" y="1344.3" width="12.4" height="157.4" fill="#3a3a3a" opacity="0.6"/>
<line x1="364.3" y1="1431.6" x2="391.7" y2="1431.6" stroke="#c8c8c8" stroke-width="1.2" opacity="0.7"/>
<rect x="318.0" y="1354.3" width="16.0" height="125.9" fill="#1c1c1c" opacity="0.7" filter="url(#mbl2)"/>
<g transform="translate(310.0 1328.3) rotate(0 40 85)" filter="url(#mbl)"><path d="M75.8,-12.8 C76.2,-14.8 75.4,-15.1 74.9,-15.5 C74.4,-15.9 73.3,-16.0 71.9,-15.8 C70.4,-15.5 66.5,-15.0 63.9,-13.9 C61.3,-12.7 55.1,-9.1 52.2,-7.0 C49.4,-4.9 45.6,-0.1 42.5,1.8 C39.4,3.6 32.5,6.4 28.9,6.6 C25.2,6.8 18.4,3.2 15.0,3.1 C11.7,3.1 5.7,4.9 3.8,6.2 C1.8,7.6 0.2,11.7 0.8,13.4 C1.2,15.0 5.0,17.9 7.5,18.8 C9.9,19.6 16.0,20.3 19.1,20.0 C22.2,19.7 29.8,14.5 30.9,16.2 C31.9,18.0 28.6,28.6 27.0,32.9 C25.4,37.2 21.2,44.0 19.1,48.4 C17.0,52.8 12.9,61.2 11.4,65.9 C9.8,70.5 7.9,78.7 7.5,83.4 C7.1,88.0 8.8,96.2 8.5,100.9 C8.2,105.6 5.8,113.8 5.6,118.5 C5.5,123.2 7.6,130.3 7.5,136.0 C7.4,141.7 4.1,156.8 4.6,161.2 C5.1,165.7 9.7,169.0 11.4,169.0 C13.1,169.0 16.6,164.4 17.2,161.2 C17.9,158.1 14.9,148.0 16.2,145.6 C17.6,143.3 24.3,143.2 27.0,143.8 C29.7,144.3 35.2,145.0 36.8,149.6 C38.3,154.3 37.3,174.9 38.6,178.8 C39.9,182.6 45.5,182.6 46.4,178.8 C47.3,174.9 44.5,154.0 45.5,149.6 C46.5,145.2 51.8,146.7 54.2,145.6 C56.7,144.6 59.7,141.8 63.9,141.8 C68.0,141.8 82.3,145.8 85.4,145.6 C88.5,145.5 89.1,142.0 87.2,140.8 C85.4,139.5 73.6,139.0 71.8,136.0 C69.9,133.0 73.6,123.4 73.6,118.5 C73.6,113.6 72.8,104.2 71.8,99.0 C70.7,93.8 66.9,84.7 65.9,79.5 C64.8,74.3 63.9,65.3 63.9,60.1 C63.9,54.9 63.8,44.5 65.9,40.6 C68.0,36.7 77.0,32.6 79.5,30.9 C82.0,29.2 84.4,28.9 84.4,28.0 C84.4,27.1 82.0,23.5 79.5,24.1 C77.0,24.8 68.7,32.0 65.9,32.9 C63.0,33.8 58.6,33.5 58.1,30.9 C57.6,28.3 60.2,17.5 62.0,13.4 C63.8,9.2 69.9,3.2 71.8,-0.2 C73.6,-3.7 75.3,-10.7 75.8,-12.8Z" fill="url(#mb)"/><ellipse cx="15.0" cy="11.9" rx="9.4" ry="3.5" fill="#a8a8a8" opacity="0.8" transform="rotate(-8 15.0 11.9)"/><ellipse cx="40" cy="93" rx="21.2" ry="47.5" fill="#f6f6f6" opacity="0.55" filter="url(#mbl2)"/></g>
<ellipse cx="357.5" cy="1427.9" rx="10.0" ry="14.0" fill="url(#gc)" opacity="0.95" transform="rotate(0 357.5 1427.9)"/>
<ellipse cx="357.5" cy="1427.9" rx="10.0" ry="14.0" fill="none" stroke="#ff1010" stroke-width="0.8" transform="rotate(0 357.5 1427.9)"/>
<rect x="343.5" y="1422.7" width="2.2" height="2.2" fill="#ff1010"/>
<rect x="369.5" y="1421.3" width="2.2" height="2.2" fill="#ff1010"/>
<rect x="352.5" y="1443.9" width="2.2" height="2.2" fill="#ff1010"/>
<rect x="358.5" y="1444.9" width="2.2" height="2.2" fill="#ff1010"/>
<rect x="335.1" y="1403.5" width="36.3" height="8.0" fill="#fff" stroke="#ff2020" stroke-width="0.8"/>
<line x1="337.1" y1="1407.5" x2="369.4" y2="1407.5" stroke="#ff3030" stroke-width="3.6" stroke-dasharray="1.6 1.1" opacity="0.85"/>
</g>
<rect x="306" y="1344.3" width="85.7" height="157.4" filter="url(#grain)" opacity="0.14"/>
<clipPath id="mc01"><rect x="442" y="1344.3" width="85.3" height="157.4"/></clipPath>
<g clip-path="url(#mc01)">
<rect x="442.0" y="1344.3" width="85.3" height="157.4" fill="#2f2f2f"/>
<rect x="484.6" y="1344.3" width="8.3" height="157.4" fill="#262626" opacity="0.6"/>
<rect x="509.7" y="1344.3" width="11.6" height="157.4" fill="#262626" opacity="0.6"/>
<rect x="457.7" y="1344.3" width="8.7" height="157.4" fill="#3a3a3a" opacity="0.6"/>
<line x1="500.0" y1="1436.1" x2="527.3" y2="1436.1" stroke="#c8c8c8" stroke-width="1.2" opacity="0.7"/>
<g transform="translate(442.0 1344.3) rotate(0 40 85)" filter="url(#mbl)"><path d="M68.6,6.8 C68.9,5.2 68.3,4.9 67.9,4.6 C67.5,4.3 66.7,4.2 65.5,4.4 C64.3,4.6 61.2,5.0 59.1,5.9 C57.0,6.8 52.1,9.7 49.8,11.4 C47.5,13.1 44.5,16.9 42.0,18.4 C39.5,19.9 34.0,22.2 31.1,22.3 C28.2,22.4 22.7,19.5 20.0,19.5 C17.3,19.5 12.5,20.9 11.0,22.0 C9.5,23.1 8.2,26.4 8.6,27.7 C9.0,29.0 12.0,31.3 14.0,32.0 C16.0,32.7 20.8,33.3 23.3,33.0 C25.8,32.7 31.9,28.6 32.7,30.0 C33.5,31.4 30.9,39.9 29.6,43.3 C28.3,46.7 25.0,52.2 23.3,55.7 C21.6,59.2 18.3,66.0 17.1,69.7 C15.9,73.4 14.3,80.0 14.0,83.7 C13.7,87.4 15.0,94.0 14.8,97.7 C14.6,101.4 12.6,108.1 12.5,111.8 C12.4,115.5 14.1,121.2 14.0,125.8 C13.9,130.4 11.3,142.5 11.7,146.0 C12.1,149.5 15.8,152.2 17.1,152.2 C18.4,152.2 21.3,148.5 21.8,146.0 C22.3,143.5 20.0,135.4 21.0,133.5 C22.0,131.6 27.4,131.6 29.6,132.0 C31.8,132.4 36.2,133.0 37.4,136.7 C38.6,140.4 37.9,156.9 38.9,160.0 C39.9,163.1 44.4,163.1 45.1,160.0 C45.8,156.9 43.6,140.2 44.4,136.7 C45.2,133.2 49.4,134.3 51.4,133.5 C53.4,132.7 55.8,130.4 59.1,130.4 C62.4,130.4 73.8,133.6 76.3,133.5 C78.8,133.4 79.3,130.6 77.8,129.6 C76.3,128.6 66.9,128.2 65.4,125.8 C63.9,123.4 66.9,115.7 66.9,111.8 C66.9,107.9 66.2,100.4 65.4,96.2 C64.6,92.0 61.5,84.7 60.7,80.6 C59.9,76.5 59.1,69.2 59.1,65.1 C59.1,61.0 59.0,52.6 60.7,49.5 C62.4,46.4 69.6,43.0 71.6,41.7 C73.6,40.4 75.5,40.1 75.5,39.4 C75.5,38.7 73.6,35.8 71.6,36.3 C69.6,36.8 63.0,42.6 60.7,43.3 C58.4,44.0 54.9,43.8 54.5,41.7 C54.1,39.6 56.1,31.0 57.6,27.7 C59.1,24.4 63.9,19.6 65.4,16.8 C66.9,14.0 68.3,8.4 68.6,6.8Z" fill="url(#mb)"/><ellipse cx="20.0" cy="26.5" rx="7.5" ry="2.8" fill="#a8a8a8" opacity="0.8" transform="rotate(-8 20.0 26.5)"/><ellipse cx="40" cy="93" rx="17.0" ry="38.0" fill="#f6f6f6" opacity="0.55" filter="url(#mbl2)"/></g>
<defs><radialGradient id="g442_1344_461" href="#gh" cx="0.6" cy="0.45" fx="0.6" fy="0.45" r="0.75"/></defs>
<ellipse cx="488.1" cy="1426.4" rx="19.0" ry="9.0" fill="url(#g442_1344_461)" opacity="0.95" transform="rotate(-38 488.1 1426.4)"/>
<ellipse cx="488.1" cy="1426.4" rx="20.0" ry="9.5" fill="none" stroke="#ff1010" stroke-width="0.8" transform="rotate(-38 488.1 1426.4)"/>
<rect x="464.1" y="1422.5" width="2.2" height="2.2" fill="#ff1010"/>
<rect x="510.1" y="1421.6" width="2.2" height="2.2" fill="#ff1010"/>
<rect x="479.1" y="1437.9" width="2.2" height="2.2" fill="#ff1010"/>
<rect x="491.1" y="1438.9" width="2.2" height="2.2" fill="#ff1010"/>
<ellipse cx="480.1" cy="1466.5" rx="7.5" ry="9.0" fill="url(#gw)" opacity="0.95" transform="rotate(0 480.1 1466.5)"/>
<rect x="482.2" y="1401.1" width="36.5" height="6.9" fill="#fff" stroke="#ff2020" stroke-width="0.8"/>
<line x1="484.2" y1="1404.5" x2="516.7" y2="1404.5" stroke="#ff3030" stroke-width="3.1" stroke-dasharray="1.6 1.1" opacity="0.85"/>
</g>
<rect x="442" y="1344.3" width="85.3" height="157.4" filter="url(#grain)" opacity="0.14"/>
<clipPath id="mc02"><rect x="576.7" y="1345" width="85.6" height="158.3"/></clipPath>
<g clip-path="url(#mc02)">
<rect x="576.7" y="1345.0" width="85.6" height="158.3" fill="#2f2f2f"/>
<rect x="587.6" y="1345.0" width="13.4" height="158.3" fill="#3a3a3a" opacity="0.6"/>
<rect x="629.1" y="1345.0" width="13.3" height="158.3" fill="#3a3a3a" opacity="0.6"/>
<rect x="622.1" y="1345.0" width="12.8" height="158.3" fill="#3a3a3a" opacity="0.6"/>
<line x1="634.9" y1="1434.2" x2="662.3" y2="1434.2" stroke="#c8c8c8" stroke-width="1.2" opacity="0.7"/>
<g transform="translate(572.2 1343.6) rotate(0 43 85)" filter="url(#mbl)"><path d="M43.5,8.8 C44.1,8.8 45.1,9.4 45.7,10.4 C46.2,11.4 46.9,14.2 47.6,16.1 C48.3,18.0 50.2,22.8 51.0,24.7 C51.8,26.6 52.7,29.7 53.7,30.4 C54.7,31.1 57.1,28.9 58.5,29.7 C59.8,30.5 63.2,34.1 63.9,36.1 C64.6,38.1 64.4,42.7 63.9,44.7 C63.4,46.7 60.7,49.6 59.8,51.1 C58.9,52.6 57.2,54.3 57.1,56.1 C56.9,57.9 57.9,62.2 58.5,64.7 C59.0,67.2 60.7,71.8 61.1,74.7 C61.6,77.6 61.9,83.1 61.8,86.1 C61.7,89.1 60.2,94.5 60.5,97.5 C60.8,100.5 63.3,106.0 63.9,108.9 C64.5,111.8 65.3,116.4 65.2,118.9 C65.1,121.4 62.6,125.8 63.1,127.5 C63.7,129.2 67.3,131.1 69.3,131.8 C71.3,132.5 76.9,131.9 78.2,132.5 C79.4,133.1 80.0,135.4 78.8,136.1 C77.6,136.8 72.0,137.2 69.3,137.5 C66.6,137.8 60.2,139.0 58.5,138.2 C56.8,137.4 57.5,132.8 56.4,131.8 C55.3,130.8 51.8,129.8 50.3,130.4 C48.9,131.0 46.3,132.2 45.6,136.1 C44.8,140.0 45.5,156.8 44.9,160.0 C44.3,163.2 41.4,163.2 40.8,160.0 C40.3,156.8 41.6,140.0 40.8,136.1 C40.0,132.2 36.2,131.0 34.7,130.4 C33.3,129.8 30.9,130.7 30.0,131.8 C29.1,132.9 29.4,137.4 27.9,138.9 C26.4,140.4 21.3,142.1 19.1,143.2 C16.8,144.3 12.3,146.8 11.0,146.8 C9.6,146.8 8.0,144.3 8.9,143.2 C9.8,142.1 15.8,140.0 17.7,138.9 C19.6,137.8 22.6,136.3 23.1,134.6 C23.7,132.9 22.2,128.8 21.8,126.1 C21.5,123.4 20.3,117.8 20.5,114.7 C20.7,111.6 22.7,106.3 23.1,103.2 C23.6,100.1 23.6,94.8 23.8,91.8 C24.0,88.8 24.0,83.4 24.6,80.4 C25.1,77.4 27.0,71.9 27.9,69.0 C28.8,66.1 30.9,61.3 31.3,59.0 C31.7,56.7 31.4,52.9 30.6,51.8 C29.9,50.7 27.3,51.3 25.9,50.4 C24.5,49.5 20.7,46.4 19.8,44.7 C18.9,43.0 18.7,39.2 19.1,37.5 C19.4,35.8 21.2,32.7 22.5,31.8 C23.7,30.9 27.1,30.3 28.6,30.4 C30.0,30.5 32.5,33.3 33.3,32.5 C34.1,31.7 34.1,26.9 34.7,24.7 C35.4,22.5 37.2,18.0 38.1,16.1 C38.9,14.2 40.6,11.4 41.3,10.4 C42.0,9.4 42.9,8.8 43.5,8.8Z" fill="url(#mb)"/><ellipse cx="59.6" cy="40.5" rx="3.0" ry="6.0" fill="#a8a8a8" opacity="0.8"/><ellipse cx="24.0" cy="40.5" rx="3.0" ry="6.0" fill="#a8a8a8" opacity="0.8"/><ellipse cx="43" cy="93" rx="16.1" ry="38.0" fill="#f6f6f6" opacity="0.55" filter="url(#mbl2)"/></g>
<defs><radialGradient id="g576_1345_381" href="#gw" cx="0.5" cy="0.5" fx="0.5" fy="0.5" r="0.75"/></defs>
<ellipse cx="614.8" cy="1426.2" rx="14.0" ry="9.0" fill="url(#g576_1345_381)" opacity="0.95" transform="rotate(0 614.8 1426.2)"/>
<ellipse cx="614.8" cy="1426.2" rx="14.5" ry="9.5" fill="none" stroke="#ff1010" stroke-width="0.8" transform="rotate(0 614.8 1426.2)"/>
<rect x="596.3" y="1422.4" width="2.2" height="2.2" fill="#ff1010"/>
<rect x="631.3" y="1421.4" width="2.2" height="2.2" fill="#ff1010"/>
<rect x="608.0" y="1437.7" width="2.2" height="2.2" fill="#ff1010"/>
<rect x="616.7" y="1438.7" width="2.2" height="2.2" fill="#ff1010"/>
<ellipse cx="609.4" cy="1468.4" rx="8.0" ry="8.0" fill="url(#gh)" opacity="0.95" transform="rotate(0 609.4 1468.4)"/>
<ellipse cx="602.6" cy="1446.0" rx="3.2" ry="3.2" fill="url(#gc)" opacity="0.95" transform="rotate(0 602.6 1446.0)"/>
<ellipse cx="621.9" cy="1438.0" rx="2.2" ry="2.2" fill="url(#gh)" opacity="0.95" transform="rotate(0 621.9 1438.0)"/>
<rect x="600.5" y="1409.8" width="27.7" height="6.6" fill="#fff" stroke="#ff2020" stroke-width="0.8"/>
<line x1="602.5" y1="1413.1" x2="626.2" y2="1413.1" stroke="#ff3030" stroke-width="3.0" stroke-dasharray="1.6 1.1" opacity="0.85"/>
<rect x="628.7" y="1428.6" width="26.8" height="6.4" fill="#fff" stroke="#ff2020" stroke-width="0.8"/>
<line x1="630.7" y1="1431.8" x2="653.5" y2="1431.8" stroke="#ff3030" stroke-width="2.9" stroke-dasharray="1.6 1.1" opacity="0.85"/>
</g>
<rect x="576.7" y="1345" width="85.6" height="158.3" filter="url(#grain)" opacity="0.14"/>
<clipPath id="mc03"><rect x="710.7" y="1343.7" width="85.3" height="158.0"/></clipPath>
<g clip-path="url(#mc03)">
<rect x="710.7" y="1343.7" width="85.3" height="158.0" fill="#2f2f2f"/>
<rect x="782.5" y="1343.7" width="11.5" height="158.0" fill="#262626" opacity="0.6"/>
<rect x="764.6" y="1343.7" width="8.6" height="158.0" fill="#3a3a3a" opacity="0.6"/>
<rect x="754.9" y="1343.7" width="7.5" height="158.0" fill="#3a3a3a" opacity="0.6"/>
<line x1="768.7" y1="1439.6" x2="796.0" y2="1439.6" stroke="#c8c8c8" stroke-width="1.2" opacity="0.7"/>
<g transform="translate(714.7 1339.7) rotate(4 43 85)" filter="url(#mbl)"><path d="M43.5,8.8 C44.1,8.8 45.2,9.4 45.8,10.4 C46.4,11.4 47.1,14.2 47.8,16.1 C48.5,18.0 50.5,22.8 51.4,24.7 C52.3,26.6 53.2,29.7 54.3,30.4 C55.4,31.1 57.9,28.9 59.3,29.7 C60.7,30.5 64.2,34.1 65.0,36.1 C65.8,38.1 65.6,42.7 65.0,44.7 C64.4,46.7 61.7,49.6 60.7,51.1 C59.7,52.6 58.0,54.3 57.8,56.1 C57.6,57.9 58.7,62.2 59.3,64.7 C59.9,67.2 61.6,71.8 62.1,74.7 C62.6,77.6 62.9,83.1 62.8,86.1 C62.7,89.1 61.1,94.5 61.4,97.5 C61.7,100.5 64.3,106.0 65.0,108.9 C65.7,111.8 66.5,116.4 66.4,118.9 C66.3,121.4 63.6,125.8 64.2,127.5 C64.8,129.2 68.6,131.1 70.7,131.8 C72.8,132.5 78.7,131.9 80.0,132.5 C81.3,133.1 81.9,135.4 80.7,136.1 C79.5,136.8 73.6,137.2 70.7,137.5 C67.8,137.8 61.1,139.0 59.3,138.2 C57.5,137.4 58.2,132.8 57.1,131.8 C56.0,130.8 52.2,129.8 50.7,130.4 C49.2,131.0 46.5,132.2 45.7,136.1 C44.9,140.0 45.7,156.8 45.0,160.0 C44.3,163.2 41.3,163.2 40.7,160.0 C40.1,156.8 41.6,140.0 40.7,136.1 C39.8,132.2 35.8,131.0 34.3,130.4 C32.8,129.8 30.3,130.7 29.3,131.8 C28.3,132.9 28.6,137.4 27.1,138.9 C25.6,140.4 20.2,142.1 17.8,143.2 C15.4,144.3 10.7,146.8 9.3,146.8 C7.9,146.8 6.2,144.3 7.1,143.2 C8.0,142.1 14.4,140.0 16.4,138.9 C18.4,137.8 21.5,136.3 22.1,134.6 C22.7,132.9 21.1,128.8 20.7,126.1 C20.3,123.4 19.1,117.8 19.3,114.7 C19.5,111.6 21.6,106.3 22.1,103.2 C22.6,100.1 22.6,94.8 22.8,91.8 C23.0,88.8 23.0,83.4 23.6,80.4 C24.2,77.4 26.2,71.9 27.1,69.0 C28.0,66.1 30.3,61.3 30.7,59.0 C31.1,56.7 30.8,52.9 30.0,51.8 C29.2,50.7 26.5,51.3 25.0,50.4 C23.5,49.5 19.6,46.4 18.6,44.7 C17.6,43.0 17.4,39.2 17.8,37.5 C18.2,35.8 20.1,32.7 21.4,31.8 C22.7,30.9 26.3,30.3 27.8,30.4 C29.3,30.5 31.9,33.3 32.8,32.5 C33.7,31.7 33.6,26.9 34.3,24.7 C35.0,22.5 36.9,18.0 37.8,16.1 C38.7,14.2 40.4,11.4 41.2,10.4 C42.0,9.4 42.9,8.8 43.5,8.8Z" fill="url(#mb)"/><ellipse cx="60.5" cy="40.5" rx="3.2" ry="6.0" fill="#a8a8a8" opacity="0.8"/><ellipse cx="23.0" cy="40.5" rx="3.2" ry="6.0" fill="#a8a8a8" opacity="0.8"/><ellipse cx="43" cy="93" rx="17.0" ry="38.0" fill="#f6f6f6" opacity="0.55" filter="url(#mbl2)"/></g>
<ellipse cx="746.7" cy="1429.7" rx="9.0" ry="5.0" fill="url(#gb)" opacity="0.95" transform="rotate(0 746.7 1429.7)"/>
<defs><radialGradient id="g710_1343_547" href="#gh" cx="0.65" cy="0.5" fx="0.65" fy="0.5" r="0.75"/></defs>
<ellipse cx="765.4" cy="1426.4" rx="15.0" ry="12.0" fill="url(#g710_1343_547)" opacity="0.95" transform="rotate(0 765.4 1426.4)"/>
<ellipse cx="765.4" cy="1426.4" rx="15.0" ry="12.5" fill="none" stroke="#ff1010" stroke-width="0.8" transform="rotate(0 765.4 1426.4)"/>
<rect x="746.4" y="1421.7" width="2.2" height="2.2" fill="#ff1010"/>
<rect x="782.4" y="1420.4" width="2.2" height="2.2" fill="#ff1010"/>
<rect x="758.4" y="1440.9" width="2.2" height="2.2" fill="#ff1010"/>
<rect x="767.4" y="1441.9" width="2.2" height="2.2" fill="#ff1010"/>
<ellipse cx="739.6" cy="1447.7" rx="4.5" ry="6.5" fill="url(#gb)" opacity="0.95" transform="rotate(0 739.6 1447.7)"/>
<defs><radialGradient id="g710_1343_443" href="#gh" cx="0.35" cy="0.55" fx="0.35" fy="0.55" r="0.75"/></defs>
<ellipse cx="755.0" cy="1465.1" rx="13.0" ry="9.5" fill="url(#g710_1343_443)" opacity="0.95" transform="rotate(0 755.0 1465.1)"/>
<ellipse cx="768.4" cy="1440.7" rx="3.0" ry="3.0" fill="url(#gh)" opacity="0.95" transform="rotate(0 768.4 1440.7)"/>
<rect x="756.5" y="1407.9" width="31.8" height="5.7" fill="#fff" stroke="#ff2020" stroke-width="0.8"/>
<line x1="758.5" y1="1410.8" x2="786.3" y2="1410.8" stroke="#ff3030" stroke-width="2.6" stroke-dasharray="1.6 1.1" opacity="0.85"/>
</g>
<rect x="710.7" y="1343.7" width="85.3" height="158.0" filter="url(#grain)" opacity="0.14"/>
<clipPath id="mc10"><rect x="306" y="1515.3" width="85.7" height="158.0"/></clipPath>
<g clip-path="url(#mc10)">
<rect x="306.0" y="1515.3" width="85.7" height="158.0" fill="#2f2f2f"/>
<rect x="376.7" y="1515.3" width="16.5" height="158.0" fill="#262626" opacity="0.6"/>
<rect x="322.8" y="1515.3" width="10.0" height="158.0" fill="#262626" opacity="0.6"/>
<rect x="365.5" y="1515.3" width="6.2" height="158.0" fill="#3a3a3a" opacity="0.6"/>
<line x1="364.3" y1="1611.3" x2="391.7" y2="1611.3" stroke="#c8c8c8" stroke-width="1.2" opacity="0.7"/>
<g transform="translate(297.0 1519.3) rotate(0 40 85)" filter="url(#mbl)"><path d="M67.2,9.1 C67.5,7.6 66.9,7.3 66.5,7.0 C66.1,6.7 65.3,6.6 64.2,6.8 C63.1,7.0 60.1,7.4 58.1,8.3 C56.2,9.2 51.5,12.0 49.3,13.6 C47.1,15.2 44.3,19.0 41.9,20.4 C39.5,21.8 34.3,24.0 31.5,24.2 C28.8,24.3 23.5,21.5 21.0,21.5 C18.5,21.4 13.9,22.8 12.5,23.9 C11.0,25.0 9.8,28.1 10.2,29.4 C10.6,30.7 13.4,32.9 15.3,33.6 C17.2,34.3 21.8,34.8 24.1,34.6 C26.5,34.3 32.3,30.3 33.1,31.6 C33.9,33.0 31.3,41.2 30.1,44.6 C28.9,47.9 25.7,53.2 24.1,56.6 C22.6,60.0 19.4,66.5 18.2,70.2 C17.1,73.8 15.6,80.1 15.3,83.7 C15.0,87.4 16.3,93.7 16.1,97.3 C15.9,101.0 14.0,107.4 13.9,111.0 C13.8,114.6 15.4,120.2 15.3,124.6 C15.2,129.0 12.7,140.8 13.1,144.2 C13.5,147.6 17.0,150.2 18.2,150.2 C19.5,150.2 22.2,146.6 22.7,144.2 C23.2,141.8 21.0,133.9 21.9,132.0 C22.9,130.2 28.0,130.2 30.1,130.6 C32.2,131.0 36.4,131.5 37.5,135.1 C38.7,138.8 38.0,154.7 39.0,157.8 C39.9,160.8 44.1,160.8 44.8,157.8 C45.5,154.7 43.4,138.6 44.2,135.1 C45.0,131.7 49.0,132.9 50.8,132.0 C52.7,131.2 55.0,129.0 58.1,129.0 C61.3,129.0 72.1,132.1 74.5,132.0 C76.9,131.9 77.3,129.3 75.9,128.3 C74.5,127.3 65.5,126.9 64.1,124.6 C62.7,122.3 65.6,114.8 65.6,111.0 C65.6,107.2 64.9,99.9 64.1,95.9 C63.3,91.8 60.5,84.8 59.7,80.7 C58.9,76.7 58.1,69.7 58.1,65.7 C58.1,61.7 58.1,53.6 59.7,50.6 C61.2,47.5 68.1,44.3 70.0,43.0 C71.9,41.7 73.7,41.5 73.7,40.8 C73.7,40.1 71.9,37.3 70.0,37.8 C68.1,38.3 61.8,43.9 59.7,44.6 C57.5,45.2 54.2,45.0 53.8,43.0 C53.4,41.0 55.3,32.6 56.7,29.4 C58.1,26.2 62.7,21.5 64.1,18.8 C65.5,16.1 66.9,10.7 67.2,9.1Z" fill="url(#mb)"/><ellipse cx="21.0" cy="28.3" rx="7.1" ry="2.7" fill="#a8a8a8" opacity="0.8" transform="rotate(-8 21.0 28.3)"/><ellipse cx="40" cy="93" rx="16.1" ry="36.9" fill="#f6f6f6" opacity="0.55" filter="url(#mbl2)"/></g>
<ellipse cx="353.0" cy="1603.6" rx="8.3" ry="9.0" fill="url(#gh)" opacity="0.95" transform="rotate(0 353.0 1603.6)"/>
<ellipse cx="353.0" cy="1603.6" rx="8.0" ry="9.0" fill="none" stroke="#ff1010" stroke-width="0.8" transform="rotate(-20 353.0 1603.6)"/>
<rect x="341.0" y="1599.9" width="2.2" height="2.2" fill="#ff1010"/>
<rect x="363.0" y="1599.0" width="2.2" height="2.2" fill="#ff1010"/>
<rect x="348.8" y="1614.6" width="2.2" height="2.2" fill="#ff1010"/>
<rect x="353.6" y="1615.6" width="2.2" height="2.2" fill="#ff1010"/>
<rect x="342.6" y="1585.2" width="31.8" height="6.5" fill="#fff" stroke="#ff2020" stroke-width="0.8"/>
<line x1="344.6" y1="1588.5" x2="372.4" y2="1588.5" stroke="#ff3030" stroke-width="2.9" stroke-dasharray="1.6 1.1" opacity="0.85"/>
</g>
<rect x="306" y="1515.3" width="85.7" height="158.0" filter="url(#grain)" opacity="0.14"/>
<clipPath id="mc11"><rect x="442" y="1515.3" width="85.3" height="158.0"/></clipPath>
<g clip-path="url(#mc11)">
<rect x="442.0" y="1515.3" width="85.3" height="158.0" fill="#2f2f2f"/>
<rect x="506.4" y="1515.3" width="10.2" height="158.0" fill="#262626" opacity="0.6"/>
<rect x="511.8" y="1515.3" width="9.7" height="158.0" fill="#262626" opacity="0.6"/>
<rect x="466.5" y="1515.3" width="8.0" height="158.0" fill="#3a3a3a" opacity="0.6"/>
<line x1="500.0" y1="1608.5" x2="527.3" y2="1608.5" stroke="#c8c8c8" stroke-width="1.2" opacity="0.7"/>
<g transform="translate(435.0 1517.3) rotate(0 40 85)" filter="url(#mbl)"><path d="M67.2,6.8 C67.5,5.2 66.9,4.9 66.5,4.6 C66.1,4.3 65.3,4.2 64.2,4.4 C63.1,4.6 60.1,5.0 58.1,5.9 C56.2,6.8 51.5,9.7 49.3,11.4 C47.1,13.1 44.3,16.9 41.9,18.4 C39.5,19.9 34.3,22.2 31.5,22.3 C28.8,22.4 23.5,19.5 21.0,19.5 C18.5,19.5 13.9,20.9 12.5,22.0 C11.0,23.1 9.8,26.4 10.2,27.7 C10.6,29.0 13.4,31.3 15.3,32.0 C17.2,32.7 21.8,33.3 24.1,33.0 C26.5,32.7 32.3,28.6 33.1,30.0 C33.9,31.4 31.3,39.9 30.1,43.3 C28.9,46.7 25.7,52.2 24.1,55.7 C22.6,59.2 19.4,66.0 18.2,69.7 C17.1,73.4 15.6,80.0 15.3,83.7 C15.0,87.4 16.3,94.0 16.1,97.7 C15.9,101.4 14.0,108.1 13.9,111.8 C13.8,115.5 15.4,121.2 15.3,125.8 C15.2,130.4 12.7,142.5 13.1,146.0 C13.5,149.5 17.0,152.2 18.2,152.2 C19.5,152.2 22.2,148.5 22.7,146.0 C23.2,143.5 21.0,135.4 21.9,133.5 C22.9,131.6 28.0,131.6 30.1,132.0 C32.2,132.4 36.4,133.0 37.5,136.7 C38.7,140.4 38.0,156.9 39.0,160.0 C39.9,163.1 44.1,163.1 44.8,160.0 C45.5,156.9 43.4,140.2 44.2,136.7 C45.0,133.2 49.0,134.3 50.8,133.5 C52.7,132.7 55.0,130.4 58.1,130.4 C61.3,130.4 72.1,133.6 74.5,133.5 C76.9,133.4 77.3,130.6 75.9,129.6 C74.5,128.6 65.5,128.2 64.1,125.8 C62.7,123.4 65.6,115.7 65.6,111.8 C65.6,107.9 64.9,100.4 64.1,96.2 C63.3,92.0 60.5,84.7 59.7,80.6 C58.9,76.5 58.1,69.2 58.1,65.1 C58.1,61.0 58.1,52.6 59.7,49.5 C61.2,46.4 68.1,43.0 70.0,41.7 C71.9,40.4 73.7,40.1 73.7,39.4 C73.7,38.7 71.9,35.8 70.0,36.3 C68.1,36.8 61.8,42.6 59.7,43.3 C57.5,44.0 54.2,43.8 53.8,41.7 C53.4,39.6 55.3,31.0 56.7,27.7 C58.1,24.4 62.7,19.6 64.1,16.8 C65.5,14.0 66.9,8.4 67.2,6.8Z" fill="url(#mb)"/><ellipse cx="21.0" cy="26.5" rx="7.1" ry="2.8" fill="#a8a8a8" opacity="0.8" transform="rotate(-8 21.0 26.5)"/><ellipse cx="40" cy="93" rx="16.1" ry="38.0" fill="#f6f6f6" opacity="0.55" filter="url(#mbl2)"/></g>
<ellipse cx="488.1" cy="1600.7" rx="9.0" ry="9.5" fill="url(#gh)" opacity="0.95" transform="rotate(-30 488.1 1600.7)"/>
<ellipse cx="488.1" cy="1600.7" rx="9.0" ry="10.0" fill="none" stroke="#ff1010" stroke-width="0.8" transform="rotate(-30 488.1 1600.7)"/>
<rect x="475.1" y="1596.7" width="2.2" height="2.2" fill="#ff1010"/>
<rect x="499.1" y="1595.7" width="2.2" height="2.2" fill="#ff1010"/>
<rect x="483.5" y="1612.7" width="2.2" height="2.2" fill="#ff1010"/>
<rect x="488.9" y="1613.7" width="2.2" height="2.2" fill="#ff1010"/>
<ellipse cx="480.7" cy="1644.3" rx="2.6" ry="4.6" fill="url(#gb)" opacity="0.95" transform="rotate(0 480.7 1644.3)"/>
<ellipse cx="493.0" cy="1640.8" rx="1.5" ry="2.0" fill="url(#gb)" opacity="0.95" transform="rotate(0 493.0 1640.8)"/>
<ellipse cx="455.7" cy="1613.3" rx="1.3" ry="2.4" fill="url(#gb)" opacity="0.95" transform="rotate(0 455.7 1613.3)"/>
<rect x="478.6" y="1582.2" width="32.1" height="6.6" fill="#fff" stroke="#ff2020" stroke-width="0.8"/>
<line x1="480.6" y1="1585.5" x2="508.7" y2="1585.5" stroke="#ff3030" stroke-width="3.0" stroke-dasharray="1.6 1.1" opacity="0.85"/>
</g>
<rect x="442" y="1515.3" width="85.3" height="158.0" filter="url(#grain)" opacity="0.14"/>
<clipPath id="mc12"><rect x="576.7" y="1516.7" width="85.6" height="157.6"/></clipPath>
<g clip-path="url(#mc12)">
<rect x="576.7" y="1516.7" width="85.6" height="157.6" fill="#2f2f2f"/>
<rect x="629.0" y="1516.7" width="16.8" height="157.6" fill="#3a3a3a" opacity="0.6"/>
<rect x="646.0" y="1516.7" width="15.9" height="157.6" fill="#3a3a3a" opacity="0.6"/>
<rect x="636.0" y="1516.7" width="15.7" height="157.6" fill="#3a3a3a" opacity="0.6"/>
<line x1="634.9" y1="1613.9" x2="662.3" y2="1613.9" stroke="#c8c8c8" stroke-width="1.2" opacity="0.7"/>
<g transform="translate(577.7 1513.0) rotate(0 43 85)" filter="url(#mbl)"><path d="M43.5,8.8 C44.1,8.8 45.2,9.4 45.8,10.4 C46.4,11.4 47.1,14.2 47.8,16.1 C48.5,18.0 50.5,22.8 51.4,24.7 C52.3,26.6 53.2,29.7 54.3,30.4 C55.4,31.1 57.9,28.9 59.3,29.7 C60.7,30.5 64.2,34.1 65.0,36.1 C65.8,38.1 65.6,42.7 65.0,44.7 C64.4,46.7 61.7,49.6 60.7,51.1 C59.7,52.6 58.0,54.3 57.8,56.1 C57.6,57.9 58.7,62.2 59.3,64.7 C59.9,67.2 61.6,71.8 62.1,74.7 C62.6,77.6 62.9,83.1 62.8,86.1 C62.7,89.1 61.1,94.5 61.4,97.5 C61.7,100.5 64.3,106.0 65.0,108.9 C65.7,111.8 66.5,116.4 66.4,118.9 C66.3,121.4 63.6,125.8 64.2,127.5 C64.8,129.2 68.6,131.1 70.7,131.8 C72.8,132.5 78.7,131.9 80.0,132.5 C81.3,133.1 81.9,135.4 80.7,136.1 C79.5,136.8 73.6,137.2 70.7,137.5 C67.8,137.8 61.1,139.0 59.3,138.2 C57.5,137.4 58.2,132.8 57.1,131.8 C56.0,130.8 52.2,129.8 50.7,130.4 C49.2,131.0 46.5,132.2 45.7,136.1 C44.9,140.0 45.7,156.8 45.0,160.0 C44.3,163.2 41.3,163.2 40.7,160.0 C40.1,156.8 41.6,140.0 40.7,136.1 C39.8,132.2 35.8,131.0 34.3,130.4 C32.8,129.8 30.3,130.7 29.3,131.8 C28.3,132.9 28.6,137.4 27.1,138.9 C25.6,140.4 20.2,142.1 17.8,143.2 C15.4,144.3 10.7,146.8 9.3,146.8 C7.9,146.8 6.2,144.3 7.1,143.2 C8.0,142.1 14.4,140.0 16.4,138.9 C18.4,137.8 21.5,136.3 22.1,134.6 C22.7,132.9 21.1,128.8 20.7,126.1 C20.3,123.4 19.1,117.8 19.3,114.7 C19.5,111.6 21.6,106.3 22.1,103.2 C22.6,100.1 22.6,94.8 22.8,91.8 C23.0,88.8 23.0,83.4 23.6,80.4 C24.2,77.4 26.2,71.9 27.1,69.0 C28.0,66.1 30.3,61.3 30.7,59.0 C31.1,56.7 30.8,52.9 30.0,51.8 C29.2,50.7 26.5,51.3 25.0,50.4 C23.5,49.5 19.6,46.4 18.6,44.7 C17.6,43.0 17.4,39.2 17.8,37.5 C18.2,35.8 20.1,32.7 21.4,31.8 C22.7,30.9 26.3,30.3 27.8,30.4 C29.3,30.5 31.9,33.3 32.8,32.5 C33.7,31.7 33.6,26.9 34.3,24.7 C35.0,22.5 36.9,18.0 37.8,16.1 C38.7,14.2 40.4,11.4 41.2,10.4 C42.0,9.4 42.9,8.8 43.5,8.8Z" fill="url(#mb)"/><ellipse cx="60.5" cy="40.5" rx="3.2" ry="6.0" fill="#a8a8a8" opacity="0.8"/><ellipse cx="23.0" cy="40.5" rx="3.2" ry="6.0" fill="#a8a8a8" opacity="0.8"/><ellipse cx="43" cy="93" rx="17.0" ry="38.0" fill="#f6f6f6" opacity="0.55" filter="url(#mbl2)"/></g>
<ellipse cx="610.7" cy="1612.7" rx="8.0" ry="5.0" fill="url(#gb)" opacity="0.95" transform="rotate(-20 610.7 1612.7)"/>
<defs><radialGradient id="g576_1516_461" href="#gh" cx="0.62" cy="0.45" fx="0.62" fy="0.45" r="0.75"/></defs>
<ellipse cx="622.8" cy="1601.5" rx="16.4" ry="11.3" fill="url(#g576_1516_461)" opacity="0.95" transform="rotate(0 622.8 1601.5)"/>
<ellipse cx="622.8" cy="1601.5" rx="16.0" ry="11.0" fill="none" stroke="#ff1010" stroke-width="0.8" transform="rotate(0 622.8 1601.5)"/>
<rect x="602.8" y="1597.2" width="2.2" height="2.2" fill="#ff1010"/>
<rect x="640.8" y="1596.1" width="2.2" height="2.2" fill="#ff1010"/>
<rect x="615.4" y="1614.5" width="2.2" height="2.2" fill="#ff1010"/>
<rect x="625.0" y="1615.5" width="2.2" height="2.2" fill="#ff1010"/>
<ellipse cx="618.3" cy="1646.7" rx="6.0" ry="6.0" fill="url(#gc)" opacity="0.95" transform="rotate(0 618.3 1646.7)"/>
<rect x="605.0" y="1580.7" width="32.1" height="6.0" fill="#fff" stroke="#ff2020" stroke-width="0.8"/>
<line x1="607.0" y1="1583.7" x2="635.1" y2="1583.7" stroke="#ff3030" stroke-width="2.7" stroke-dasharray="1.6 1.1" opacity="0.85"/>
</g>
<rect x="576.7" y="1516.7" width="85.6" height="157.6" filter="url(#grain)" opacity="0.14"/>
<clipPath id="mc13"><rect x="710.7" y="1515.3" width="85.3" height="158.0"/></clipPath>
<g clip-path="url(#mc13)">
<rect x="710.7" y="1515.3" width="85.3" height="158.0" fill="#2f2f2f"/>
<rect x="728.8" y="1515.3" width="13.0" height="158.0" fill="#262626" opacity="0.6"/>
<rect x="758.9" y="1515.3" width="11.8" height="158.0" fill="#3a3a3a" opacity="0.6"/>
<rect x="720.8" y="1515.3" width="18.0" height="158.0" fill="#262626" opacity="0.6"/>
<line x1="768.7" y1="1599.0" x2="796.0" y2="1599.0" stroke="#c8c8c8" stroke-width="1.2" opacity="0.7"/>
<g transform="translate(710.7 1515.3) rotate(0 43 85)" filter="url(#mbl)"><path d="M43.5,8.8 C44.1,8.8 45.2,9.4 45.8,10.4 C46.4,11.4 47.1,14.2 47.8,16.1 C48.5,18.0 50.5,22.8 51.4,24.7 C52.3,26.6 53.2,29.7 54.3,30.4 C55.4,31.1 57.9,28.9 59.3,29.7 C60.7,30.5 64.2,34.1 65.0,36.1 C65.8,38.1 65.6,42.7 65.0,44.7 C64.4,46.7 61.7,49.6 60.7,51.1 C59.7,52.6 58.0,54.3 57.8,56.1 C57.6,57.9 58.7,62.2 59.3,64.7 C59.9,67.2 61.6,71.8 62.1,74.7 C62.6,77.6 62.9,83.1 62.8,86.1 C62.7,89.1 61.1,94.5 61.4,97.5 C61.7,100.5 64.3,106.0 65.0,108.9 C65.7,111.8 66.5,116.4 66.4,118.9 C66.3,121.4 63.6,125.8 64.2,127.5 C64.8,129.2 68.6,131.1 70.7,131.8 C72.8,132.5 78.7,131.9 80.0,132.5 C81.3,133.1 81.9,135.4 80.7,136.1 C79.5,136.8 73.6,137.2 70.7,137.5 C67.8,137.8 61.1,139.0 59.3,138.2 C57.5,137.4 58.2,132.8 57.1,131.8 C56.0,130.8 52.2,129.8 50.7,130.4 C49.2,131.0 46.5,132.2 45.7,136.1 C44.9,140.0 45.7,156.8 45.0,160.0 C44.3,163.2 41.3,163.2 40.7,160.0 C40.1,156.8 41.6,140.0 40.7,136.1 C39.8,132.2 35.8,131.0 34.3,130.4 C32.8,129.8 30.3,130.7 29.3,131.8 C28.3,132.9 28.6,137.4 27.1,138.9 C25.6,140.4 20.2,142.1 17.8,143.2 C15.4,144.3 10.7,146.8 9.3,146.8 C7.9,146.8 6.2,144.3 7.1,143.2 C8.0,142.1 14.4,140.0 16.4,138.9 C18.4,137.8 21.5,136.3 22.1,134.6 C22.7,132.9 21.1,128.8 20.7,126.1 C20.3,123.4 19.1,117.8 19.3,114.7 C19.5,111.6 21.6,106.3 22.1,103.2 C22.6,100.1 22.6,94.8 22.8,91.8 C23.0,88.8 23.0,83.4 23.6,80.4 C24.2,77.4 26.2,71.9 27.1,69.0 C28.0,66.1 30.3,61.3 30.7,59.0 C31.1,56.7 30.8,52.9 30.0,51.8 C29.2,50.7 26.5,51.3 25.0,50.4 C23.5,49.5 19.6,46.4 18.6,44.7 C17.6,43.0 17.4,39.2 17.8,37.5 C18.2,35.8 20.1,32.7 21.4,31.8 C22.7,30.9 26.3,30.3 27.8,30.4 C29.3,30.5 31.9,33.3 32.8,32.5 C33.7,31.7 33.6,26.9 34.3,24.7 C35.0,22.5 36.9,18.0 37.8,16.1 C38.7,14.2 40.4,11.4 41.2,10.4 C42.0,9.4 42.9,8.8 43.5,8.8Z" fill="url(#mb)"/><ellipse cx="60.5" cy="40.5" rx="3.2" ry="6.0" fill="#a8a8a8" opacity="0.8"/><ellipse cx="23.0" cy="40.5" rx="3.2" ry="6.0" fill="#a8a8a8" opacity="0.8"/><ellipse cx="43" cy="93" rx="17.0" ry="38.0" fill="#f6f6f6" opacity="0.55" filter="url(#mbl2)"/></g>
<defs><radialGradient id="g710_1515_458" href="#gh" cx="0.7" cy="0.45" fx="0.7" fy="0.45" r="0.75"/></defs>
<ellipse cx="756.5" cy="1599.5" rx="15.5" ry="12.5" fill="url(#g710_1515_458)" opacity="0.95" transform="rotate(0 756.5 1599.5)"/>
<ellipse cx="756.5" cy="1599.5" rx="15.5" ry="12.5" fill="none" stroke="#ff1010" stroke-width="0.8" transform="rotate(0 756.5 1599.5)"/>
<rect x="737.0" y="1594.8" width="2.2" height="2.2" fill="#ff1010"/>
<rect x="774.0" y="1593.5" width="2.2" height="2.2" fill="#ff1010"/>
<rect x="749.3" y="1614.0" width="2.2" height="2.2" fill="#ff1010"/>
<rect x="758.6" y="1615.0" width="2.2" height="2.2" fill="#ff1010"/>
<ellipse cx="750.6" cy="1632.3" rx="9.5" ry="10.4" fill="url(#gc)" opacity="0.95" transform="rotate(0 750.6 1632.3)"/>
<ellipse cx="764.5" cy="1630.7" rx="2.5" ry="2.5" fill="url(#gb)" opacity="0.95" transform="rotate(0 764.5 1630.7)"/>
<rect x="740.7" y="1576.6" width="29.2" height="5.9" fill="#fff" stroke="#ff2020" stroke-width="0.8"/>
<line x1="742.7" y1="1579.5" x2="767.9" y2="1579.5" stroke="#ff3030" stroke-width="2.7" stroke-dasharray="1.6 1.1" opacity="0.85"/>
</g>
<rect x="710.7" y="1515.3" width="85.3" height="158.0" filter="url(#grain)" opacity="0.14"/>
<clipPath id="mc20"><rect x="306" y="1686.7" width="85.7" height="157.6"/></clipPath>
<g clip-path="url(#mc20)">
<rect x="306.0" y="1686.7" width="85.7" height="157.6" fill="#2f2f2f"/>
<rect x="315.6" y="1686.7" width="15.8" height="157.6" fill="#262626" opacity="0.6"/>
<rect x="334.4" y="1686.7" width="9.3" height="157.6" fill="#3a3a3a" opacity="0.6"/>
<rect x="312.0" y="1686.7" width="8.6" height="157.6" fill="#3a3a3a" opacity="0.6"/>
<line x1="364.3" y1="1781.6" x2="391.7" y2="1781.6" stroke="#c8c8c8" stroke-width="1.2" opacity="0.7"/>
<g transform="translate(310.0 1681.2) rotate(2 43 85)" filter="url(#mbl)"><path d="M43.6,8.8 C44.3,8.8 45.6,9.4 46.2,10.4 C46.9,11.4 47.7,14.2 48.5,16.1 C49.4,18.0 51.7,22.8 52.7,24.7 C53.7,26.6 54.8,29.7 56.0,30.4 C57.2,31.1 60.1,28.9 61.7,29.7 C63.4,30.5 67.4,34.1 68.3,36.1 C69.2,38.1 69.0,42.7 68.3,44.7 C67.6,46.7 64.5,49.6 63.4,51.1 C62.3,52.6 60.2,54.3 60.0,56.1 C59.8,57.9 61.1,62.2 61.7,64.7 C62.4,67.2 64.4,71.8 65.0,74.7 C65.5,77.6 65.9,83.1 65.8,86.1 C65.7,89.1 63.8,94.5 64.2,97.5 C64.5,100.5 67.5,106.0 68.3,108.9 C69.1,111.8 70.0,116.4 69.9,118.9 C69.8,121.4 66.7,125.8 67.4,127.5 C68.0,129.2 72.4,131.1 74.9,131.8 C77.3,132.5 84.0,131.9 85.5,132.5 C87.1,133.1 87.8,135.4 86.4,136.1 C84.9,136.8 78.1,137.2 74.9,137.5 C71.6,137.8 63.8,139.0 61.7,138.2 C59.7,137.4 60.5,132.8 59.2,131.8 C57.9,130.8 53.6,129.8 51.9,130.4 C50.1,131.0 47.0,132.2 46.1,136.1 C45.2,140.0 46.1,156.8 45.3,160.0 C44.5,163.2 41.0,163.2 40.4,160.0 C39.7,156.8 41.3,140.0 40.4,136.1 C39.4,132.2 34.7,131.0 33.0,130.4 C31.2,129.8 28.3,130.7 27.2,131.8 C26.1,132.9 26.5,137.4 24.7,138.9 C23.0,140.4 16.7,142.1 14.0,143.2 C11.3,144.3 5.9,146.8 4.2,146.8 C2.6,146.8 0.6,144.3 1.7,143.2 C2.8,142.1 10.1,140.0 12.4,138.9 C14.7,137.8 18.3,136.3 19.0,134.6 C19.6,132.9 17.8,128.8 17.4,126.1 C16.9,123.4 15.5,117.8 15.7,114.7 C16.0,111.6 18.4,106.3 19.0,103.2 C19.5,100.1 19.5,94.8 19.8,91.8 C20.0,88.8 20.0,83.4 20.7,80.4 C21.3,77.4 23.6,71.9 24.7,69.0 C25.8,66.1 28.4,61.3 28.9,59.0 C29.3,56.7 28.9,52.9 28.1,51.8 C27.2,50.7 24.0,51.3 22.3,50.4 C20.6,49.5 16.0,46.4 14.9,44.7 C13.8,43.0 13.6,39.2 14.0,37.5 C14.4,35.8 16.6,32.7 18.2,31.8 C19.7,30.9 23.8,30.3 25.5,30.4 C27.3,30.5 30.3,33.3 31.3,32.5 C32.3,31.7 32.2,26.9 33.0,24.7 C33.8,22.5 36.0,18.0 37.0,16.1 C38.1,14.2 40.1,11.4 40.9,10.4 C41.8,9.4 42.9,8.8 43.6,8.8Z" fill="url(#mb)"/><ellipse cx="63.1" cy="40.5" rx="3.7" ry="6.0" fill="#a8a8a8" opacity="0.8"/><ellipse cx="20.0" cy="40.5" rx="3.7" ry="6.0" fill="#a8a8a8" opacity="0.8"/><ellipse cx="43" cy="93" rx="19.5" ry="38.0" fill="#f6f6f6" opacity="0.55" filter="url(#mbl2)"/></g>
<defs><radialGradient id="g306_1686_476" href="#gh" cx="0.3" cy="0.6" fx="0.3" fy="0.6" r="0.75"/></defs>
<ellipse cx="353.6" cy="1774.1" rx="16.4" ry="10.4" fill="url(#g306_1686_476)" opacity="0.95" transform="rotate(-12 353.6 1774.1)"/>
<ellipse cx="353.6" cy="1774.1" rx="16.4" ry="9.5" fill="none" stroke="#ff1010" stroke-width="0.8" transform="rotate(-12 353.6 1774.1)"/>
<rect x="333.2" y="1770.3" width="2.2" height="2.2" fill="#ff1010"/>
<rect x="372.0" y="1769.3" width="2.2" height="2.2" fill="#ff1010"/>
<rect x="346.0" y="1785.6" width="2.2" height="2.2" fill="#ff1010"/>
<rect x="355.9" y="1786.6" width="2.2" height="2.2" fill="#ff1010"/>
<ellipse cx="362.5" cy="1771.7" rx="5.0" ry="5.0" fill="url(#gw)" opacity="0.95" transform="rotate(0 362.5 1771.7)"/>
<ellipse cx="359.5" cy="1809.2" rx="1.5" ry="1.5" fill="url(#gb)" opacity="0.95" transform="rotate(0 359.5 1809.2)"/>
<rect x="332.2" y="1757.7" width="35.7" height="6.0" fill="#fff" stroke="#ff2020" stroke-width="0.8"/>
<line x1="334.2" y1="1760.7" x2="365.9" y2="1760.7" stroke="#ff3030" stroke-width="2.7" stroke-dasharray="1.6 1.1" opacity="0.85"/>
</g>
<rect x="306" y="1686.7" width="85.7" height="157.6" filter="url(#grain)" opacity="0.14"/>
<clipPath id="mc21"><rect x="442" y="1686.7" width="85.3" height="157.6"/></clipPath>
<g clip-path="url(#mc21)">
<rect x="442.0" y="1686.7" width="85.3" height="157.6" fill="#2f2f2f"/>
<rect x="462.5" y="1686.7" width="11.5" height="157.6" fill="#262626" opacity="0.6"/>
<rect x="449.4" y="1686.7" width="12.0" height="157.6" fill="#262626" opacity="0.6"/>
<rect x="483.2" y="1686.7" width="12.2" height="157.6" fill="#262626" opacity="0.6"/>
<line x1="500.0" y1="1774.0" x2="527.3" y2="1774.0" stroke="#c8c8c8" stroke-width="1.2" opacity="0.7"/>
<g transform="translate(442.0 1689.7) rotate(0 40 85)" filter="url(#mbl)"><path d="M65.7,6.8 C66.0,5.2 65.5,4.9 65.1,4.6 C64.7,4.3 64.0,4.2 63.0,4.4 C61.9,4.6 59.1,5.0 57.2,5.9 C55.3,6.8 50.9,9.7 48.8,11.4 C46.8,13.1 44.0,16.9 41.8,18.4 C39.6,19.9 34.6,22.2 32.0,22.3 C29.4,22.4 24.4,19.5 22.0,19.5 C19.6,19.5 15.3,20.9 13.9,22.0 C12.5,23.1 11.4,26.4 11.7,27.7 C12.1,29.0 14.8,31.3 16.6,32.0 C18.4,32.7 22.7,33.3 25.0,33.0 C27.2,32.7 32.7,28.6 33.4,30.0 C34.2,31.4 31.8,39.9 30.6,43.3 C29.5,46.7 26.5,52.2 25.0,55.7 C23.5,59.2 20.5,66.0 19.4,69.7 C18.3,73.4 16.9,80.0 16.6,83.7 C16.3,87.4 17.5,94.0 17.3,97.7 C17.1,101.4 15.3,108.1 15.2,111.8 C15.2,115.5 16.7,121.2 16.6,125.8 C16.5,130.4 14.2,142.5 14.5,146.0 C14.9,149.5 18.2,152.2 19.4,152.2 C20.6,152.2 23.2,148.5 23.6,146.0 C24.1,143.5 22.0,135.4 22.9,133.5 C23.8,131.6 28.7,131.6 30.6,132.0 C32.6,132.4 36.5,133.0 37.7,136.7 C38.8,140.4 38.1,156.9 39.0,160.0 C39.9,163.1 43.9,163.1 44.6,160.0 C45.3,156.9 43.2,140.2 44.0,136.7 C44.7,133.2 48.5,134.3 50.3,133.5 C52.0,132.7 54.2,130.4 57.2,130.4 C60.2,130.4 70.4,133.6 72.7,133.5 C74.9,133.4 75.3,130.6 74.0,129.6 C72.7,128.6 64.2,128.2 62.9,125.8 C61.6,123.4 64.2,115.7 64.2,111.8 C64.2,107.9 63.6,100.4 62.9,96.2 C62.1,92.0 59.4,84.7 58.6,80.6 C57.9,76.5 57.2,69.2 57.2,65.1 C57.2,61.0 57.1,52.6 58.6,49.5 C60.1,46.4 66.7,43.0 68.4,41.7 C70.2,40.4 72.0,40.1 72.0,39.4 C72.0,38.7 70.2,35.8 68.4,36.3 C66.7,36.8 60.7,42.6 58.6,43.3 C56.6,44.0 53.4,43.8 53.0,41.7 C52.7,39.6 54.5,31.0 55.8,27.7 C57.1,24.4 61.5,19.6 62.9,16.8 C64.2,14.0 65.4,8.4 65.7,6.8Z" fill="url(#mb)"/><ellipse cx="22.0" cy="26.5" rx="6.8" ry="2.8" fill="#a8a8a8" opacity="0.8" transform="rotate(-8 22.0 26.5)"/><ellipse cx="40" cy="93" rx="15.3" ry="38.0" fill="#f6f6f6" opacity="0.55" filter="url(#mbl2)"/></g>
<ellipse cx="467.6" cy="1780.1" rx="6.0" ry="6.5" fill="url(#gh)" opacity="0.95" transform="rotate(0 467.6 1780.1)"/>
<ellipse cx="490.5" cy="1775.7" rx="9.0" ry="9.5" fill="url(#gb)" opacity="0.95" transform="rotate(0 490.5 1775.7)"/>
<ellipse cx="490.5" cy="1775.7" rx="9.5" ry="10.0" fill="none" stroke="#ff1010" stroke-width="0.8" transform="rotate(0 490.5 1775.7)"/>
<rect x="477.0" y="1771.7" width="2.2" height="2.2" fill="#ff1010"/>
<rect x="502.0" y="1770.7" width="2.2" height="2.2" fill="#ff1010"/>
<rect x="485.7" y="1787.7" width="2.2" height="2.2" fill="#ff1010"/>
<rect x="491.4" y="1788.7" width="2.2" height="2.2" fill="#ff1010"/>
<ellipse cx="486.9" cy="1811.7" rx="2.5" ry="2.0" fill="url(#gb)" opacity="0.95" transform="rotate(0 486.9 1811.7)"/>
<rect x="472.0" y="1755.7" width="32.8" height="6.0" fill="#fff" stroke="#ff2020" stroke-width="0.8"/>
<line x1="474.0" y1="1758.7" x2="502.8" y2="1758.7" stroke="#ff3030" stroke-width="2.7" stroke-dasharray="1.6 1.1" opacity="0.85"/>
<rect x="445.0" y="1763.7" width="33.6" height="6.6" fill="#fff" stroke="#ff2020" stroke-width="0.8"/>
<line x1="447.0" y1="1767.0" x2="476.6" y2="1767.0" stroke="#ff3030" stroke-width="3.0" stroke-dasharray="1.6 1.1" opacity="0.85"/>
</g>
<rect x="442" y="1686.7" width="85.3" height="157.6" filter="url(#grain)" opacity="0.14"/>
<clipPath id="mc22"><rect x="576.7" y="1687.3" width="85.6" height="157.7"/></clipPath>
<g clip-path="url(#mc22)">
<rect x="576.7" y="1687.3" width="85.6" height="157.7" fill="#2f2f2f"/>
<rect x="645.5" y="1687.3" width="10.7" height="157.7" fill="#262626" opacity="0.6"/>
<rect x="594.9" y="1687.3" width="11.8" height="157.7" fill="#3a3a3a" opacity="0.6"/>
<rect x="616.6" y="1687.3" width="6.9" height="157.7" fill="#3a3a3a" opacity="0.6"/>
<line x1="634.9" y1="1772.1" x2="662.3" y2="1772.1" stroke="#c8c8c8" stroke-width="1.2" opacity="0.7"/>
<g transform="translate(575.4 1685.6) rotate(0 43 85)" filter="url(#mbl)"><path d="M43.5,8.8 C44.1,8.8 45.3,9.4 45.9,10.4 C46.4,11.4 47.1,14.2 47.9,16.1 C48.7,18.0 50.7,22.8 51.6,24.7 C52.5,26.6 53.5,29.7 54.5,30.4 C55.6,31.1 58.2,28.9 59.6,29.7 C61.1,30.5 64.7,34.1 65.4,36.1 C66.2,38.1 66.0,42.7 65.4,44.7 C64.9,46.7 62.0,49.6 61.1,51.1 C60.1,52.6 58.3,54.3 58.1,56.1 C57.9,57.9 59.0,62.2 59.6,64.7 C60.2,67.2 62.0,71.8 62.5,74.7 C63.0,77.6 63.3,83.1 63.2,86.1 C63.1,89.1 61.5,94.5 61.8,97.5 C62.1,100.5 64.8,106.0 65.4,108.9 C66.1,111.8 67.0,116.4 66.9,118.9 C66.8,121.4 64.0,125.8 64.6,127.5 C65.2,129.2 69.1,131.1 71.3,131.8 C73.4,132.5 79.4,131.9 80.7,132.5 C82.1,133.1 82.7,135.4 81.5,136.1 C80.2,136.8 74.2,137.2 71.3,137.5 C68.3,137.8 61.5,139.0 59.6,138.2 C57.8,137.4 58.6,132.8 57.4,131.8 C56.2,130.8 52.4,129.8 50.9,130.4 C49.3,131.0 46.5,132.2 45.8,136.1 C45.0,140.0 45.7,156.8 45.0,160.0 C44.4,163.2 41.2,163.2 40.7,160.0 C40.1,156.8 41.5,140.0 40.7,136.1 C39.8,132.2 35.7,131.0 34.1,130.4 C32.6,129.8 30.0,130.7 29.0,131.8 C28.0,132.9 28.3,137.4 26.8,138.9 C25.2,140.4 19.7,142.1 17.3,143.2 C14.9,144.3 10.1,146.8 8.6,146.8 C7.2,146.8 5.4,144.3 6.4,143.2 C7.3,142.1 13.8,140.0 15.9,138.9 C17.9,137.8 21.1,136.3 21.7,134.6 C22.3,132.9 20.6,128.8 20.3,126.1 C19.9,123.4 18.6,117.8 18.8,114.7 C19.0,111.6 21.2,106.3 21.7,103.2 C22.2,100.1 22.2,94.8 22.4,91.8 C22.6,88.8 22.6,83.4 23.2,80.4 C23.8,77.4 25.8,71.9 26.8,69.0 C27.7,66.1 30.1,61.3 30.5,59.0 C30.8,56.7 30.5,52.9 29.7,51.8 C29.0,50.7 26.2,51.3 24.6,50.4 C23.1,49.5 19.1,46.4 18.1,44.7 C17.1,43.0 16.9,39.2 17.3,37.5 C17.7,35.8 19.6,32.7 21.0,31.8 C22.3,30.9 25.9,30.3 27.5,30.4 C29.0,30.5 31.7,33.3 32.6,32.5 C33.5,31.7 33.4,26.9 34.1,24.7 C34.8,22.5 36.8,18.0 37.7,16.1 C38.6,14.2 40.4,11.4 41.2,10.4 C41.9,9.4 42.9,8.8 43.5,8.8Z" fill="url(#mb)"/><ellipse cx="60.9" cy="40.5" rx="3.3" ry="6.0" fill="#a8a8a8" opacity="0.8"/><ellipse cx="22.6" cy="40.5" rx="3.3" ry="6.0" fill="#a8a8a8" opacity="0.8"/><ellipse cx="43" cy="93" rx="17.3" ry="38.0" fill="#f6f6f6" opacity="0.55" filter="url(#mbl2)"/></g>
<defs><radialGradient id="g576_1687_416" href="#gc" cx="0.5" cy="0.55" fx="0.5" fy="0.55" r="0.75"/></defs>
<ellipse cx="618.3" cy="1771.2" rx="16.4" ry="12.5" fill="url(#g576_1687_416)" opacity="0.95" transform="rotate(0 618.3 1771.2)"/>
<ellipse cx="618.3" cy="1771.2" rx="16.4" ry="12.5" fill="none" stroke="#ff1010" stroke-width="0.8" transform="rotate(0 618.3 1771.2)"/>
<rect x="597.9" y="1766.5" width="2.2" height="2.2" fill="#ff1010"/>
<rect x="636.7" y="1765.2" width="2.2" height="2.2" fill="#ff1010"/>
<rect x="610.7" y="1785.7" width="2.2" height="2.2" fill="#ff1010"/>
<rect x="620.6" y="1786.7" width="2.2" height="2.2" fill="#ff1010"/>
<ellipse cx="618.7" cy="1774.3" rx="2.5" ry="2.5" fill="url(#gh)" opacity="0.95" transform="rotate(0 618.7 1774.3)"/>
<defs><radialGradient id="g576_1687_402" href="#gh" cx="0.68" cy="0.72" fx="0.68" fy="0.72" r="0.75"/></defs>
<ellipse cx="616.9" cy="1806.9" rx="13.4" ry="11.3" fill="url(#g576_1687_402)" opacity="0.95" transform="rotate(0 616.9 1806.9)"/>
<rect x="596.7" y="1751.8" width="35.0" height="6.0" fill="#fff" stroke="#ff2020" stroke-width="0.8"/>
<line x1="598.7" y1="1754.8" x2="629.7" y2="1754.8" stroke="#ff3030" stroke-width="2.7" stroke-dasharray="1.6 1.1" opacity="0.85"/>
</g>
<rect x="576.7" y="1687.3" width="85.6" height="157.7" filter="url(#grain)" opacity="0.14"/>
<clipPath id="mc23"><rect x="710.7" y="1686.7" width="85.3" height="157.6"/></clipPath>
<g clip-path="url(#mc23)">
<rect x="710.7" y="1686.7" width="85.3" height="157.6" fill="#2f2f2f"/>
<rect x="771.3" y="1686.7" width="8.6" height="157.6" fill="#262626" opacity="0.6"/>
<rect x="746.9" y="1686.7" width="10.8" height="157.6" fill="#262626" opacity="0.6"/>
<rect x="723.1" y="1686.7" width="8.3" height="157.6" fill="#3a3a3a" opacity="0.6"/>
<line x1="768.7" y1="1769.8" x2="796.0" y2="1769.8" stroke="#c8c8c8" stroke-width="1.2" opacity="0.7"/>
<g transform="translate(706.7 1684.1) rotate(-3 43 85)" filter="url(#mbl)"><path d="M43.5,8.8 C44.1,8.8 45.2,9.4 45.8,10.4 C46.4,11.4 47.1,14.2 47.8,16.1 C48.5,18.0 50.5,22.8 51.4,24.7 C52.3,26.6 53.2,29.7 54.3,30.4 C55.4,31.1 57.9,28.9 59.3,29.7 C60.7,30.5 64.2,34.1 65.0,36.1 C65.8,38.1 65.6,42.7 65.0,44.7 C64.4,46.7 61.7,49.6 60.7,51.1 C59.7,52.6 58.0,54.3 57.8,56.1 C57.6,57.9 58.7,62.2 59.3,64.7 C59.9,67.2 61.6,71.8 62.1,74.7 C62.6,77.6 62.9,83.1 62.8,86.1 C62.7,89.1 61.1,94.5 61.4,97.5 C61.7,100.5 64.3,106.0 65.0,108.9 C65.7,111.8 66.5,116.4 66.4,118.9 C66.3,121.4 63.6,125.8 64.2,127.5 C64.8,129.2 68.6,131.1 70.7,131.8 C72.8,132.5 78.7,131.9 80.0,132.5 C81.3,133.1 81.9,135.4 80.7,136.1 C79.5,136.8 73.6,137.2 70.7,137.5 C67.8,137.8 61.1,139.0 59.3,138.2 C57.5,137.4 58.2,132.8 57.1,131.8 C56.0,130.8 52.2,129.8 50.7,130.4 C49.2,131.0 46.5,132.2 45.7,136.1 C44.9,140.0 45.7,156.8 45.0,160.0 C44.3,163.2 41.3,163.2 40.7,160.0 C40.1,156.8 41.6,140.0 40.7,136.1 C39.8,132.2 35.8,131.0 34.3,130.4 C32.8,129.8 30.3,130.7 29.3,131.8 C28.3,132.9 28.6,137.4 27.1,138.9 C25.6,140.4 20.2,142.1 17.8,143.2 C15.4,144.3 10.7,146.8 9.3,146.8 C7.9,146.8 6.2,144.3 7.1,143.2 C8.0,142.1 14.4,140.0 16.4,138.9 C18.4,137.8 21.5,136.3 22.1,134.6 C22.7,132.9 21.1,128.8 20.7,126.1 C20.3,123.4 19.1,117.8 19.3,114.7 C19.5,111.6 21.6,106.3 22.1,103.2 C22.6,100.1 22.6,94.8 22.8,91.8 C23.0,88.8 23.0,83.4 23.6,80.4 C24.2,77.4 26.2,71.9 27.1,69.0 C28.0,66.1 30.3,61.3 30.7,59.0 C31.1,56.7 30.8,52.9 30.0,51.8 C29.2,50.7 26.5,51.3 25.0,50.4 C23.5,49.5 19.6,46.4 18.6,44.7 C17.6,43.0 17.4,39.2 17.8,37.5 C18.2,35.8 20.1,32.7 21.4,31.8 C22.7,30.9 26.3,30.3 27.8,30.4 C29.3,30.5 31.9,33.3 32.8,32.5 C33.7,31.7 33.6,26.9 34.3,24.7 C35.0,22.5 36.9,18.0 37.8,16.1 C38.7,14.2 40.4,11.4 41.2,10.4 C42.0,9.4 42.9,8.8 43.5,8.8Z" fill="url(#mb)"/><ellipse cx="60.5" cy="40.5" rx="3.2" ry="6.0" fill="#a8a8a8" opacity="0.8"/><ellipse cx="23.0" cy="40.5" rx="3.2" ry="6.0" fill="#a8a8a8" opacity="0.8"/><ellipse cx="43" cy="93" rx="17.0" ry="38.0" fill="#f6f6f6" opacity="0.55" filter="url(#mbl2)"/></g>
<ellipse cx="746.1" cy="1788.7" rx="15.0" ry="31.0" fill="url(#gb)" opacity="0.9" transform="rotate(-8 746.1 1788.7)"/>
<defs><radialGradient id="g710_1686_413" href="#gh" cx="0.68" cy="0.5" fx="0.68" fy="0.5" r="0.75"/></defs>
<ellipse cx="752.0" cy="1769.7" rx="17.3" ry="15.5" fill="url(#g710_1686_413)" opacity="0.95" transform="rotate(0 752.0 1769.7)"/>
<ellipse cx="752.0" cy="1769.7" rx="17.3" ry="15.5" fill="none" stroke="#ff1010" stroke-width="0.8" transform="rotate(0 752.0 1769.7)"/>
<rect x="730.7" y="1764.0" width="2.2" height="2.2" fill="#ff1010"/>
<rect x="771.3" y="1762.5" width="2.2" height="2.2" fill="#ff1010"/>
<rect x="744.1" y="1787.2" width="2.2" height="2.2" fill="#ff1010"/>
<rect x="754.5" y="1788.2" width="2.2" height="2.2" fill="#ff1010"/>
<rect x="739.6" y="1744.4" width="34.1" height="6.0" fill="#fff" stroke="#ff2020" stroke-width="0.8"/>
<line x1="741.6" y1="1747.4" x2="771.7" y2="1747.4" stroke="#ff3030" stroke-width="2.7" stroke-dasharray="1.6 1.1" opacity="0.85"/>
</g>
<rect x="710.7" y="1686.7" width="85.3" height="157.6" filter="url(#grain)" opacity="0.14"/>
<clipPath id="mc30"><rect x="306" y="1858.7" width="85.7" height="158.0"/></clipPath>
<g clip-path="url(#mc30)">
<rect x="306.0" y="1858.7" width="85.7" height="158.0" fill="#2f2f2f"/>
<rect x="341.5" y="1858.7" width="14.0" height="158.0" fill="#262626" opacity="0.6"/>
<rect x="357.5" y="1858.7" width="16.8" height="158.0" fill="#262626" opacity="0.6"/>
<rect x="318.0" y="1858.7" width="8.7" height="158.0" fill="#3a3a3a" opacity="0.6"/>
<line x1="364.3" y1="1945.1" x2="391.7" y2="1945.1" stroke="#c8c8c8" stroke-width="1.2" opacity="0.7"/>
<g transform="translate(301.0 1858.7) rotate(0 40 85)" filter="url(#mbl)"><path d="M74.9,6.8 C75.3,5.2 74.5,4.9 74.0,4.6 C73.5,4.3 72.5,4.2 71.1,4.4 C69.7,4.6 65.9,5.0 63.3,5.9 C60.7,6.8 54.7,9.7 52.0,11.4 C49.2,13.1 45.5,16.9 42.4,18.4 C39.4,19.9 32.7,22.2 29.1,22.3 C25.6,22.4 18.9,19.5 15.6,19.5 C12.3,19.5 6.5,20.9 4.6,22.0 C2.8,23.1 1.2,26.4 1.7,27.7 C2.2,29.0 5.9,31.3 8.3,32.0 C10.7,32.7 16.6,33.3 19.6,33.0 C22.7,32.7 30.1,28.6 31.1,30.0 C32.1,31.4 28.8,39.9 27.3,43.3 C25.8,46.7 21.7,52.2 19.6,55.7 C17.6,59.2 13.6,66.0 12.1,69.7 C10.5,73.4 8.7,80.0 8.3,83.7 C7.9,87.4 9.5,94.0 9.3,97.7 C9.0,101.4 6.6,108.1 6.5,111.8 C6.3,115.5 8.4,121.2 8.3,125.8 C8.1,130.4 5.0,142.5 5.5,146.0 C6.0,149.5 10.4,152.2 12.1,152.2 C13.7,152.2 17.2,148.5 17.8,146.0 C18.4,143.5 15.6,135.4 16.8,133.5 C18.1,131.6 24.6,131.6 27.3,132.0 C30.0,132.4 35.3,133.0 36.8,136.7 C38.3,140.4 37.4,156.9 38.7,160.0 C39.9,163.1 45.3,163.1 46.2,160.0 C47.1,156.9 44.3,140.2 45.4,136.7 C46.4,133.2 51.5,134.3 53.9,133.5 C56.3,132.7 59.3,130.4 63.3,130.4 C67.4,130.4 81.2,133.6 84.3,133.5 C87.3,133.4 87.9,130.6 86.1,129.6 C84.3,128.6 72.8,128.2 71.0,125.8 C69.2,123.4 72.8,115.7 72.8,111.8 C72.8,107.9 72.0,100.4 71.0,96.2 C70.0,92.0 66.3,84.7 65.3,80.6 C64.2,76.5 63.3,69.2 63.3,65.1 C63.3,61.0 63.2,52.6 65.3,49.5 C67.3,46.4 76.1,43.0 78.6,41.7 C81.0,40.4 83.3,40.1 83.3,39.4 C83.3,38.7 81.0,35.8 78.6,36.3 C76.1,36.8 68.0,42.6 65.3,43.3 C62.5,44.0 58.2,43.8 57.7,41.7 C57.2,39.6 59.7,31.0 61.5,27.7 C63.2,24.4 69.2,19.6 71.0,16.8 C72.8,14.0 74.5,8.4 74.9,6.8Z" fill="url(#mb)"/><ellipse cx="15.6" cy="26.5" rx="9.2" ry="2.8" fill="#a8a8a8" opacity="0.8" transform="rotate(-8 15.6 26.5)"/><ellipse cx="40" cy="93" rx="20.7" ry="38.0" fill="#f6f6f6" opacity="0.55" filter="url(#mbl2)"/></g>
<defs><radialGradient id="g306_1858_402" href="#gh" cx="0.6" cy="0.45" fx="0.6" fy="0.45" r="0.75"/></defs>
<ellipse cx="346.2" cy="1937.2" rx="13.4" ry="12.0" fill="url(#g306_1858_402)" opacity="0.95" transform="rotate(0 346.2 1937.2)"/>
<ellipse cx="346.2" cy="1937.2" rx="14.0" ry="12.5" fill="none" stroke="#ff1010" stroke-width="0.8" transform="rotate(0 346.2 1937.2)"/>
<rect x="328.2" y="1932.5" width="2.2" height="2.2" fill="#ff1010"/>
<rect x="362.2" y="1931.2" width="2.2" height="2.2" fill="#ff1010"/>
<rect x="339.6" y="1951.7" width="2.2" height="2.2" fill="#ff1010"/>
<rect x="348.0" y="1952.7" width="2.2" height="2.2" fill="#ff1010"/>
<rect x="334.3" y="1915.7" width="37.1" height="6.0" fill="#fff" stroke="#ff2020" stroke-width="0.8"/>
<line x1="336.3" y1="1918.7" x2="369.4" y2="1918.7" stroke="#ff3030" stroke-width="2.7" stroke-dasharray="1.6 1.1" opacity="0.85"/>
</g>
<rect x="306" y="1858.7" width="85.7" height="158.0" filter="url(#grain)" opacity="0.14"/>
<clipPath id="mc31"><rect x="442" y="1858.7" width="85.3" height="158.0"/></clipPath>
<g clip-path="url(#mc31)">
<rect x="442.0" y="1858.7" width="85.3" height="158.0" fill="#2f2f2f"/>
<rect x="444.2" y="1858.7" width="16.4" height="158.0" fill="#262626" opacity="0.6"/>
<rect x="443.3" y="1858.7" width="12.6" height="158.0" fill="#3a3a3a" opacity="0.6"/>
<rect x="506.6" y="1858.7" width="16.2" height="158.0" fill="#3a3a3a" opacity="0.6"/>
<line x1="500.0" y1="1949.0" x2="527.3" y2="1949.0" stroke="#c8c8c8" stroke-width="1.2" opacity="0.7"/>
<g transform="translate(437.0 1856.1) rotate(2 43 85)" filter="url(#mbl)"><path d="M43.6,8.8 C44.4,8.8 45.7,9.4 46.4,10.4 C47.1,11.4 47.9,14.2 48.9,16.1 C49.8,18.0 52.2,22.8 53.2,24.7 C54.3,26.6 55.5,29.7 56.8,30.4 C58.1,31.1 61.1,28.9 62.9,29.7 C64.6,30.5 68.9,34.1 69.8,36.1 C70.8,38.1 70.5,42.7 69.8,44.7 C69.1,46.7 65.8,49.6 64.6,51.1 C63.4,52.6 61.3,54.3 61.1,56.1 C60.8,57.9 62.2,62.2 62.9,64.7 C63.6,67.2 65.7,71.8 66.3,74.7 C66.9,77.6 67.3,83.1 67.2,86.1 C67.0,89.1 65.1,94.5 65.4,97.5 C65.8,100.5 69.0,106.0 69.8,108.9 C70.7,111.8 71.7,116.4 71.5,118.9 C71.4,121.4 68.2,125.8 68.9,127.5 C69.6,129.2 74.2,131.1 76.8,131.8 C79.4,132.5 86.5,131.9 88.1,132.5 C89.8,133.1 90.5,135.4 89.0,136.1 C87.5,136.8 80.3,137.2 76.8,137.5 C73.3,137.8 65.1,139.0 62.9,138.2 C60.7,137.4 61.6,132.8 60.2,131.8 C58.8,130.8 54.2,129.8 52.4,130.4 C50.5,131.0 47.2,132.2 46.3,136.1 C45.4,140.0 46.3,156.8 45.4,160.0 C44.6,163.2 40.9,163.2 40.2,160.0 C39.5,156.8 41.2,140.0 40.2,136.1 C39.2,132.2 34.2,131.0 32.4,130.4 C30.5,129.8 27.5,130.7 26.3,131.8 C25.1,132.9 25.5,137.4 23.6,138.9 C21.7,140.4 15.2,142.1 12.3,143.2 C9.4,144.3 3.6,146.8 1.9,146.8 C0.1,146.8 -2.0,144.3 -0.8,143.2 C0.4,142.1 8.1,140.0 10.5,138.9 C13.0,137.8 16.8,136.3 17.5,134.6 C18.2,132.9 16.2,128.8 15.8,126.1 C15.3,123.4 13.9,117.8 14.1,114.7 C14.3,111.6 16.9,106.3 17.5,103.2 C18.1,100.1 18.1,94.8 18.4,91.8 C18.6,88.8 18.6,83.4 19.3,80.4 C20.0,77.4 22.4,71.9 23.6,69.0 C24.8,66.1 27.5,61.3 28.0,59.0 C28.5,56.7 28.1,52.9 27.1,51.8 C26.2,50.7 22.9,51.3 21.0,50.4 C19.2,49.5 14.4,46.4 13.2,44.7 C12.1,43.0 11.8,39.2 12.3,37.5 C12.7,35.8 15.0,32.7 16.6,31.8 C18.3,30.9 22.6,30.3 24.5,30.4 C26.3,30.5 29.5,33.3 30.6,32.5 C31.6,31.7 31.6,26.9 32.4,24.7 C33.2,22.5 35.5,18.0 36.7,16.1 C37.8,14.2 39.9,11.4 40.8,10.4 C41.7,9.4 42.9,8.8 43.6,8.8Z" fill="url(#mb)"/><ellipse cx="64.3" cy="40.5" rx="3.9" ry="6.0" fill="#a8a8a8" opacity="0.8"/><ellipse cx="18.6" cy="40.5" rx="3.9" ry="6.0" fill="#a8a8a8" opacity="0.8"/><ellipse cx="43" cy="93" rx="20.7" ry="38.0" fill="#f6f6f6" opacity="0.55" filter="url(#mbl2)"/></g>
</g>
<rect x="442" y="1858.7" width="85.3" height="158.0" filter="url(#grain)" opacity="0.14"/>
<clipPath id="mc32"><rect x="576.7" y="1858.7" width="85.6" height="158.0"/></clipPath>
<g clip-path="url(#mc32)">
<rect x="576.7" y="1858.7" width="85.6" height="158.0" fill="#2f2f2f"/>
<rect x="594.4" y="1858.7" width="7.2" height="158.0" fill="#262626" opacity="0.6"/>
<rect x="594.6" y="1858.7" width="13.5" height="158.0" fill="#3a3a3a" opacity="0.6"/>
<rect x="648.9" y="1858.7" width="14.1" height="158.0" fill="#3a3a3a" opacity="0.6"/>
<line x1="634.9" y1="1938.9" x2="662.3" y2="1938.9" stroke="#c8c8c8" stroke-width="1.2" opacity="0.7"/>
<g transform="translate(576.3 1854.7) rotate(0 43 85)" filter="url(#mbl)"><path d="M43.5,8.8 C44.1,8.8 45.3,9.4 45.9,10.4 C46.4,11.4 47.1,14.2 47.9,16.1 C48.7,18.0 50.7,22.8 51.6,24.7 C52.5,26.6 53.5,29.7 54.5,30.4 C55.6,31.1 58.2,28.9 59.6,29.7 C61.1,30.5 64.7,34.1 65.4,36.1 C66.2,38.1 66.0,42.7 65.4,44.7 C64.9,46.7 62.0,49.6 61.1,51.1 C60.1,52.6 58.3,54.3 58.1,56.1 C57.9,57.9 59.0,62.2 59.6,64.7 C60.2,67.2 62.0,71.8 62.5,74.7 C63.0,77.6 63.3,83.1 63.2,86.1 C63.1,89.1 61.5,94.5 61.8,97.5 C62.1,100.5 64.8,106.0 65.4,108.9 C66.1,111.8 67.0,116.4 66.9,118.9 C66.8,121.4 64.0,125.8 64.6,127.5 C65.2,129.2 69.1,131.1 71.3,131.8 C73.4,132.5 79.4,131.9 80.7,132.5 C82.1,133.1 82.7,135.4 81.5,136.1 C80.2,136.8 74.2,137.2 71.3,137.5 C68.3,137.8 61.5,139.0 59.6,138.2 C57.8,137.4 58.6,132.8 57.4,131.8 C56.2,130.8 52.4,129.8 50.9,130.4 C49.3,131.0 46.5,132.2 45.8,136.1 C45.0,140.0 45.7,156.8 45.0,160.0 C44.4,163.2 41.2,163.2 40.7,160.0 C40.1,156.8 41.5,140.0 40.7,136.1 C39.8,132.2 35.7,131.0 34.1,130.4 C32.6,129.8 30.0,130.7 29.0,131.8 C28.0,132.9 28.3,137.4 26.8,138.9 C25.2,140.4 19.7,142.1 17.3,143.2 C14.9,144.3 10.1,146.8 8.6,146.8 C7.2,146.8 5.4,144.3 6.4,143.2 C7.3,142.1 13.8,140.0 15.9,138.9 C17.9,137.8 21.1,136.3 21.7,134.6 C22.3,132.9 20.6,128.8 20.3,126.1 C19.9,123.4 18.6,117.8 18.8,114.7 C19.0,111.6 21.2,106.3 21.7,103.2 C22.2,100.1 22.2,94.8 22.4,91.8 C22.6,88.8 22.6,83.4 23.2,80.4 C23.8,77.4 25.8,71.9 26.8,69.0 C27.7,66.1 30.1,61.3 30.5,59.0 C30.8,56.7 30.5,52.9 29.7,51.8 C29.0,50.7 26.2,51.3 24.6,50.4 C23.1,49.5 19.1,46.4 18.1,44.7 C17.1,43.0 16.9,39.2 17.3,37.5 C17.7,35.8 19.6,32.7 21.0,31.8 C22.3,30.9 25.9,30.3 27.5,30.4 C29.0,30.5 31.7,33.3 32.6,32.5 C33.5,31.7 33.4,26.9 34.1,24.7 C34.8,22.5 36.8,18.0 37.7,16.1 C38.6,14.2 40.4,11.4 41.2,10.4 C41.9,9.4 42.9,8.8 43.5,8.8Z" fill="url(#mb)"/><ellipse cx="60.9" cy="40.5" rx="3.3" ry="6.0" fill="#a8a8a8" opacity="0.8"/><ellipse cx="22.6" cy="40.5" rx="3.3" ry="6.0" fill="#a8a8a8" opacity="0.8"/><ellipse cx="43" cy="93" rx="17.3" ry="38.0" fill="#f6f6f6" opacity="0.55" filter="url(#mbl2)"/></g>
<ellipse cx="619.8" cy="1943.2" rx="7.4" ry="3" fill="none" stroke="#ff1010" stroke-width="0.8" transform="rotate(-12 619.8 1943.2)"/>
<circle cx="607.9" cy="1940.2" r="2.4" fill="none" stroke="#ff1010" stroke-width="0.8"/>
<rect x="591.6" y="1929.2" width="63.9" height="5.6" fill="#fff" stroke="#ff2020" stroke-width="0.8"/>
<line x1="593.6" y1="1932.0" x2="653.5" y2="1932.0" stroke="#ff3030" stroke-width="2.5" stroke-dasharray="1.6 1.1" opacity="0.85"/>
</g>
<rect x="576.7" y="1858.7" width="85.6" height="158.0" filter="url(#grain)" opacity="0.14"/>
<clipPath id="mc33"><rect x="710.7" y="1858.7" width="85.3" height="158.0"/></clipPath>
<g clip-path="url(#mc33)">
<rect x="710.7" y="1858.7" width="85.3" height="158.0" fill="#2f2f2f"/>
<rect x="776.4" y="1858.7" width="8.4" height="158.0" fill="#3a3a3a" opacity="0.6"/>
<rect x="718.9" y="1858.7" width="15.1" height="158.0" fill="#262626" opacity="0.6"/>
<rect x="783.4" y="1858.7" width="14.1" height="158.0" fill="#262626" opacity="0.6"/>
<line x1="768.7" y1="1950.7" x2="796.0" y2="1950.7" stroke="#c8c8c8" stroke-width="1.2" opacity="0.7"/>
<g transform="translate(713.7 1856.1) rotate(5 43 85)" filter="url(#mbl)"><path d="M42.5,8.8 C41.9,8.8 40.8,9.4 40.2,10.4 C39.6,11.4 38.9,14.2 38.2,16.1 C37.5,18.0 35.5,22.8 34.6,24.7 C33.7,26.6 32.8,29.7 31.7,30.4 C30.6,31.1 28.1,28.9 26.7,29.7 C25.3,30.5 21.8,34.1 21.0,36.1 C20.2,38.1 20.4,42.7 21.0,44.7 C21.6,46.7 24.3,49.6 25.3,51.1 C26.3,52.6 28.0,54.3 28.2,56.1 C28.4,57.9 27.3,62.2 26.7,64.7 C26.1,67.2 24.4,71.8 23.9,74.7 C23.4,77.6 23.1,83.1 23.2,86.1 C23.3,89.1 24.9,94.5 24.6,97.5 C24.3,100.5 21.7,106.0 21.0,108.9 C20.3,111.8 19.5,116.4 19.6,118.9 C19.7,121.4 22.4,125.8 21.8,127.5 C21.2,129.2 17.4,131.1 15.3,131.8 C13.2,132.5 7.3,131.9 6.0,132.5 C4.7,133.1 4.1,135.4 5.3,136.1 C6.5,136.8 12.4,137.2 15.3,137.5 C18.2,137.8 24.9,139.0 26.7,138.2 C28.5,137.4 27.8,132.8 28.9,131.8 C30.0,130.8 33.8,129.8 35.3,130.4 C36.8,131.0 39.5,132.2 40.3,136.1 C41.1,140.0 40.3,156.8 41.0,160.0 C41.7,163.2 44.7,163.2 45.3,160.0 C45.9,156.8 44.4,140.0 45.3,136.1 C46.2,132.2 50.2,131.0 51.7,130.4 C53.2,129.8 55.7,130.7 56.7,131.8 C57.7,132.9 57.4,137.4 58.9,138.9 C60.4,140.4 65.8,142.1 68.2,143.2 C70.6,144.3 75.3,146.8 76.7,146.8 C78.1,146.8 79.8,144.3 78.9,143.2 C78.0,142.1 71.6,140.0 69.6,138.9 C67.6,137.8 64.5,136.3 63.9,134.6 C63.3,132.9 64.9,128.8 65.3,126.1 C65.7,123.4 66.9,117.8 66.7,114.7 C66.5,111.6 64.4,106.3 63.9,103.2 C63.4,100.1 63.4,94.8 63.2,91.8 C63.0,88.8 63.0,83.4 62.4,80.4 C61.8,77.4 59.8,71.9 58.9,69.0 C58.0,66.1 55.7,61.3 55.3,59.0 C54.9,56.7 55.2,52.9 56.0,51.8 C56.8,50.7 59.5,51.3 61.0,50.4 C62.5,49.5 66.4,46.4 67.4,44.7 C68.4,43.0 68.6,39.2 68.2,37.5 C67.8,35.8 65.9,32.7 64.6,31.8 C63.3,30.9 59.7,30.3 58.2,30.4 C56.7,30.5 54.1,33.3 53.2,32.5 C52.3,31.7 52.4,26.9 51.7,24.7 C51.0,22.5 49.1,18.0 48.2,16.1 C47.3,14.2 45.6,11.4 44.8,10.4 C44.0,9.4 43.1,8.8 42.5,8.8Z" fill="url(#mb)"/><ellipse cx="25.5" cy="40.5" rx="3.2" ry="6.0" fill="#a8a8a8" opacity="0.8"/><ellipse cx="63.0" cy="40.5" rx="3.2" ry="6.0" fill="#a8a8a8" opacity="0.8"/><ellipse cx="43" cy="93" rx="17.0" ry="38.0" fill="#f6f6f6" opacity="0.55" filter="url(#mbl2)"/></g>
<ellipse cx="756.5" cy="1942.6" rx="9.0" ry="5.4" fill="url(#gw)" opacity="0.85" transform="rotate(-35 756.5 1942.6)"/>
<ellipse cx="756.5" cy="1942.6" rx="9.5" ry="5.5" fill="none" stroke="#ff1010" stroke-width="0.8" transform="rotate(-35 756.5 1942.6)"/>
<rect x="743.0" y="1940.0" width="2.2" height="2.2" fill="#ff1010"/>
<rect x="768.0" y="1939.4" width="2.2" height="2.2" fill="#ff1010"/>
<rect x="751.7" y="1950.1" width="2.2" height="2.2" fill="#ff1010"/>
<rect x="757.4" y="1951.1" width="2.2" height="2.2" fill="#ff1010"/>
<rect x="743.1" y="1921.7" width="29.8" height="5.7" fill="#fff" stroke="#ff2020" stroke-width="0.8"/>
<line x1="745.1" y1="1924.5" x2="770.9" y2="1924.5" stroke="#ff3030" stroke-width="2.6" stroke-dasharray="1.6 1.1" opacity="0.85"/>
</g>
<rect x="710.7" y="1858.7" width="85.3" height="158.0" filter="url(#grain)" opacity="0.14"/>
<defs><linearGradient id="cb" x1="0" y1="0" x2="0" y2="1"><stop offset="0" stop-color="#ff0000"/><stop offset="0.061" stop-color="#ff3000"/><stop offset="0.141" stop-color="#ff8c00"/><stop offset="0.191" stop-color="#ffc000"/><stop offset="0.226" stop-color="#ffff00"/><stop offset="0.291" stop-color="#b0f400"/><stop offset="0.361" stop-color="#50ff00"/><stop offset="0.441" stop-color="#00f000"/><stop offset="0.491" stop-color="#00f030"/><stop offset="0.5635" stop-color="#00f080"/><stop offset="0.631" stop-color="#00ffc0"/><stop offset="0.676" stop-color="#00ffff"/><stop offset="0.7325" stop-color="#00a8ff"/><stop offset="0.816" stop-color="#0050ff"/><stop offset="0.8935" stop-color="#0000ff"/><stop offset="1" stop-color="#8000ff"/></linearGradient></defs>
<rect x="855.4" y="1428.1" width="25.6" height="476.3" fill="url(#cb)" stroke="#000" stroke-width="1.2"/>
<line x1="881.0" y1="1440.0" x2="890.0" y2="1440.0" stroke="#111" stroke-width="1.6"/>
<line x1="881.0" y1="1457.2" x2="896.6" y2="1457.2" stroke="#111" stroke-width="1.6"/>
<line x1="881.0" y1="1473.2" x2="890.0" y2="1473.2" stroke="#111" stroke-width="1.6"/>
<line x1="881.0" y1="1489.1" x2="890.0" y2="1489.1" stroke="#111" stroke-width="1.6"/>
<line x1="881.0" y1="1505.0" x2="890.0" y2="1505.0" stroke="#111" stroke-width="1.6"/>
<line x1="881.0" y1="1521.0" x2="890.0" y2="1521.0" stroke="#111" stroke-width="1.6"/>
<line x1="881.0" y1="1537.0" x2="896.6" y2="1537.0" stroke="#111" stroke-width="1.6"/>
<line x1="881.0" y1="1552.9" x2="890.0" y2="1552.9" stroke="#111" stroke-width="1.6"/>
<line x1="881.0" y1="1568.9" x2="890.0" y2="1568.9" stroke="#111" stroke-width="1.6"/>
<line x1="881.0" y1="1584.8" x2="890.0" y2="1584.8" stroke="#111" stroke-width="1.6"/>
<line x1="881.0" y1="1600.8" x2="890.0" y2="1600.8" stroke="#111" stroke-width="1.6"/>
<line x1="881.0" y1="1616.7" x2="896.6" y2="1616.7" stroke="#111" stroke-width="1.6"/>
<line x1="881.0" y1="1632.7" x2="890.0" y2="1632.7" stroke="#111" stroke-width="1.6"/>
<line x1="881.0" y1="1648.6" x2="890.0" y2="1648.6" stroke="#111" stroke-width="1.6"/>
<line x1="881.0" y1="1664.5" x2="890.0" y2="1664.5" stroke="#111" stroke-width="1.6"/>
<line x1="881.0" y1="1680.5" x2="890.0" y2="1680.5" stroke="#111" stroke-width="1.6"/>
<line x1="881.0" y1="1696.5" x2="896.6" y2="1696.5" stroke="#111" stroke-width="1.6"/>
<line x1="881.0" y1="1712.4" x2="890.0" y2="1712.4" stroke="#111" stroke-width="1.6"/>
<line x1="881.0" y1="1728.3" x2="890.0" y2="1728.3" stroke="#111" stroke-width="1.6"/>
<line x1="881.0" y1="1744.3" x2="890.0" y2="1744.3" stroke="#111" stroke-width="1.6"/>
<line x1="881.0" y1="1760.2" x2="890.0" y2="1760.2" stroke="#111" stroke-width="1.6"/>
<line x1="881.0" y1="1776.2" x2="896.6" y2="1776.2" stroke="#111" stroke-width="1.6"/>
<line x1="881.0" y1="1792.2" x2="890.0" y2="1792.2" stroke="#111" stroke-width="1.6"/>
<line x1="881.0" y1="1808.1" x2="890.0" y2="1808.1" stroke="#111" stroke-width="1.6"/>
<line x1="881.0" y1="1824.0" x2="890.0" y2="1824.0" stroke="#111" stroke-width="1.6"/>
<line x1="881.0" y1="1840.0" x2="890.0" y2="1840.0" stroke="#111" stroke-width="1.6"/>
<line x1="881.0" y1="1856.0" x2="896.6" y2="1856.0" stroke="#111" stroke-width="1.6"/>
<line x1="881.0" y1="1871.8" x2="890.0" y2="1871.8" stroke="#111" stroke-width="1.6"/>
<line x1="881.0" y1="1887.6" x2="890.0" y2="1887.6" stroke="#111" stroke-width="1.6"/>
<line x1="881.0" y1="1903.5" x2="890.0" y2="1903.5" stroke="#111" stroke-width="1.6"/>
<text class="dr" x="903.6" y="1458.1" font-size="16" textLength="26.0" lengthAdjust="spacingAndGlyphs">6.0</text>
<text class="dr" x="903.6" y="1537.9" font-size="16" textLength="26.0" lengthAdjust="spacingAndGlyphs">5.0</text>
<text class="dr" x="903.6" y="1617.6" font-size="16" textLength="26.0" lengthAdjust="spacingAndGlyphs">4.0</text>
<text class="dr" x="903.6" y="1697.4" font-size="16" textLength="26.0" lengthAdjust="spacingAndGlyphs">3.0</text>
<text class="dr" x="903.6" y="1777.1" font-size="16" textLength="26.0" lengthAdjust="spacingAndGlyphs">2.0</text>
<text class="dr" x="903.6" y="1856.9" font-size="16" textLength="26.0" lengthAdjust="spacingAndGlyphs">1.0</text>
<text class="dr" x="854.3" y="1415.7" font-size="14.2" textLength="109.7" lengthAdjust="spacingAndGlyphs">Luminescence</text>
<text class="dr" x="944.2" y="1666.2" font-size="16" textLength="28.5" lengthAdjust="spacingAndGlyphs">x10</text>
<text class="dr" x="973.6" y="1659.5" font-size="16">7</text>
<text class="dr" x="854.3" y="1925.0" font-size="14.2" textLength="72.4" lengthAdjust="spacingAndGlyphs">Radiance</text>
<text class="dr" x="854.3" y="1944.3" font-size="14.2" textLength="115.0" lengthAdjust="spacingAndGlyphs">(p/sec/cm²/sr)</text>
<rect x="855.3" y="1971.0" width="121.4" height="62.3" fill="#fff" stroke="#000" stroke-width="1.3"/>
<text class="dr" x="859.3" y="1990.0" font-size="14.2" textLength="88.0" lengthAdjust="spacingAndGlyphs">Color Scale</text>
<text class="dr" x="859.3" y="2008.3" font-size="14.2" textLength="106.0" lengthAdjust="spacingAndGlyphs">Min = 3.90e6</text>
<text class="dr" x="859.3" y="2026.7" font-size="14.2" textLength="113.4" lengthAdjust="spacingAndGlyphs">Max = 6.36e7</text>
<text class="sb" x="1057.3" y="1310.0" font-size="37">b</text>
<line x1="1182.9" y1="1248.5" x2="1182.9" y2="1623.2" stroke="#000" stroke-width="4.6"/>
<line x1="1169.1" y1="1251.0" x2="1182.9" y2="1251.0" stroke="#000" stroke-width="4.3"/>
<text class="sb" x="1166.6" y="1257.4" font-size="19" text-anchor="end">50</text>
<line x1="1169.1" y1="1288.3" x2="1182.9" y2="1288.3" stroke="#000" stroke-width="4.3"/>
<text class="sb" x="1166.6" y="1294.7" font-size="19" text-anchor="end">45</text>
<line x1="1169.1" y1="1325.0" x2="1182.9" y2="1325.0" stroke="#000" stroke-width="4.3"/>
<text class="sb" x="1166.6" y="1331.4" font-size="19" text-anchor="end">40</text>
<line x1="1169.1" y1="1362.3" x2="1182.9" y2="1362.3" stroke="#000" stroke-width="4.3"/>
<text class="sb" x="1166.6" y="1368.7" font-size="19" text-anchor="end">35</text>
<line x1="1169.1" y1="1399.0" x2="1182.9" y2="1399.0" stroke="#000" stroke-width="4.3"/>
<text class="sb" x="1166.6" y="1405.4" font-size="19" text-anchor="end">30</text>
<line x1="1169.1" y1="1436.0" x2="1182.9" y2="1436.0" stroke="#000" stroke-width="4.3"/>
<text class="sb" x="1166.6" y="1442.4" font-size="19" text-anchor="end">25</text>
<line x1="1169.1" y1="1473.3" x2="1182.9" y2="1473.3" stroke="#000" stroke-width="4.3"/>
<text class="sb" x="1166.6" y="1479.7" font-size="19" text-anchor="end">20</text>
<line x1="1169.1" y1="1510.0" x2="1182.9" y2="1510.0" stroke="#000" stroke-width="4.3"/>
<text class="sb" x="1166.6" y="1516.4" font-size="19" text-anchor="end">15</text>
<line x1="1169.1" y1="1546.7" x2="1182.9" y2="1546.7" stroke="#000" stroke-width="4.3"/>
<text class="sb" x="1166.6" y="1553.1" font-size="19" text-anchor="end">10</text>
<line x1="1169.1" y1="1584.0" x2="1182.9" y2="1584.0" stroke="#000" stroke-width="4.3"/>
<text class="sb" x="1166.6" y="1590.4" font-size="19" text-anchor="end">5</text>
<line x1="1169.1" y1="1621.0" x2="1182.9" y2="1621.0" stroke="#000" stroke-width="4.3"/>
<text class="sb" x="1166.6" y="1627.4" font-size="19" text-anchor="end">0</text>
<line x1="1210.3" y1="1649.4" x2="1613.5" y2="1649.4" stroke="#000" stroke-width="4.5" stroke-linecap="round"/>
<line x1="1210.7" y1="1649.4" x2="1210.7" y2="1660.8" stroke="#000" stroke-width="4.3" stroke-linecap="round"/>
<text class="sb" x="1210.7" y="1682.9" font-size="18" text-anchor="middle">0</text>
<line x1="1261.0" y1="1649.4" x2="1261.0" y2="1660.8" stroke="#000" stroke-width="4.3" stroke-linecap="round"/>
<text class="sb" x="1261.0" y="1682.9" font-size="18" text-anchor="middle">5</text>
<line x1="1311.5" y1="1649.4" x2="1311.5" y2="1660.8" stroke="#000" stroke-width="4.3" stroke-linecap="round"/>
<text class="sb" x="1311.5" y="1682.9" font-size="18" text-anchor="middle">10</text>
<line x1="1361.7" y1="1649.4" x2="1361.7" y2="1660.8" stroke="#000" stroke-width="4.3" stroke-linecap="round"/>
<text class="sb" x="1361.7" y="1682.9" font-size="18" text-anchor="middle">15</text>
<line x1="1412.3" y1="1649.4" x2="1412.3" y2="1660.8" stroke="#000" stroke-width="4.3" stroke-linecap="round"/>
<text class="sb" x="1412.3" y="1682.9" font-size="18" text-anchor="middle">20</text>
<line x1="1462.7" y1="1649.4" x2="1462.7" y2="1660.8" stroke="#000" stroke-width="4.3" stroke-linecap="round"/>
<text class="sb" x="1462.7" y="1682.9" font-size="18" text-anchor="middle">25</text>
<line x1="1512.7" y1="1649.4" x2="1512.7" y2="1660.8" stroke="#000" stroke-width="4.3" stroke-linecap="round"/>
<text class="sb" x="1512.7" y="1682.9" font-size="18" text-anchor="middle">30</text>
<line x1="1562.7" y1="1649.4" x2="1562.7" y2="1660.8" stroke="#000" stroke-width="4.3" stroke-linecap="round"/>
<text class="sb" x="1562.7" y="1682.9" font-size="18" text-anchor="middle">35</text>
<line x1="1613.2" y1="1649.4" x2="1613.2" y2="1660.8" stroke="#000" stroke-width="4.3" stroke-linecap="round"/>
<text class="sb" x="1613.2" y="1682.9" font-size="18" text-anchor="middle">40</text>
<text class="sb" x="1394.6" y="1711.9" font-size="31" textLength="60.7" lengthAdjust="spacingAndGlyphs">days</text>
<text class="sb" font-size="34" text-anchor="middle" textLength="275.4" lengthAdjust="spacingAndGlyphs" transform="translate(1128.4 1416.7) rotate(-90)">Total Flux (×10<tspan font-size="20" dy="-12">7</tspan><tspan dy="12"> p/s)</tspan></text>
<line x1="1224.1" y1="1621.6" x2="1597.0" y2="1621.6" stroke="#000" stroke-width="2.4" stroke-dasharray="5.5 3.58"/>
<polyline points="1241.0,1586.0 1311.7,1610.0 1412.3,1615.0 1512.7,1609.3" fill="none" stroke="#a806e2" stroke-width="4.8" stroke-linejoin="round" stroke-linecap="round"/>
<polyline points="1241.0,1580.0 1311.7,1606.7 1412.3,1579.0 1512.7,1536.7" fill="none" stroke="#00c000" stroke-width="4.8" stroke-linejoin="round" stroke-linecap="round"/>
<polyline points="1241.0,1559.3 1311.7,1588.3 1412.3,1553.3 1512.7,1498.3" fill="none" stroke="#0000ff" stroke-width="4.8" stroke-linejoin="round" stroke-linecap="round"/>
<polyline points="1241.0,1594.0 1311.7,1570.0 1412.3,1507.3 1512.7,1300.7" fill="none" stroke="#ff0000" stroke-width="4.8" stroke-linejoin="round" stroke-linecap="round"/>
<polygon points="1241.0,1595.5 1250.0,1579.5 1232.0,1579.5" fill="#a806e2"/>
<polygon points="1311.7,1619.5 1320.7,1603.5 1302.7,1603.5" fill="#a806e2"/>
<polygon points="1412.3,1624.5 1421.3,1608.5 1403.3,1608.5" fill="#a806e2"/>
<polygon points="1512.7,1618.8 1521.7,1602.8 1503.7,1602.8" fill="#a806e2"/>
<circle cx="1241.0" cy="1559.3" r="9.2" fill="#0000ff"/>
<circle cx="1311.7" cy="1588.3" r="9.2" fill="#0000ff"/>
<circle cx="1412.3" cy="1553.3" r="9.2" fill="#0000ff"/>
<circle cx="1512.7" cy="1498.3" r="9.2" fill="#0000ff"/>
<polygon points="1241.0,1570.5 1250.0,1586.5 1232.0,1586.5" fill="#00c000"/>
<polygon points="1311.7,1597.2 1320.7,1613.2 1302.7,1613.2" fill="#00c000"/>
<polygon points="1412.3,1569.5 1421.3,1585.5 1403.3,1585.5" fill="#00c000"/>
<polygon points="1512.7,1527.2 1521.7,1543.2 1503.7,1543.2" fill="#00c000"/>
<rect x="1232.1" y="1585.1" width="17.8" height="17.8" fill="#ff0000"/>
<rect x="1302.8" y="1561.1" width="17.8" height="17.8" fill="#ff0000"/>
<rect x="1403.4" y="1498.4" width="17.8" height="17.8" fill="#ff0000"/>
<rect x="1503.8" y="1291.8" width="17.8" height="17.8" fill="#ff0000"/>
<text class="sr" x="1407.5" y="1495.9" font-size="33" text-anchor="middle">*</text>
<text class="sr" x="1503.6" y="1300.8" font-size="33" text-anchor="middle">*</text>
<text class="sr" x="1520.0" y="1300.8" font-size="33" text-anchor="middle">*</text>
<line x1="1635.0" y1="1302.8" x2="1669.5" y2="1302.8" stroke="#0000ff" stroke-width="4.6"/>
<circle cx="1652.0" cy="1302.8" r="9.2" fill="#0000ff"/>
<text class="sr" x="1682.5" y="1309.8" font-size="23" textLength="178.3" lengthAdjust="spacingAndGlyphs">ANGPTL8 OEcon</text>
<line x1="1635.0" y1="1341.0" x2="1669.5" y2="1341.0" stroke="#ff0000" stroke-width="4.6"/>
<rect x="1643.1" y="1332.1" width="17.8" height="17.8" fill="#ff0000"/>
<text class="sr" x="1682.5" y="1348.5" font-size="23" textLength="144.5" lengthAdjust="spacingAndGlyphs">ANGPTL8 OE</text>
<line x1="1635.0" y1="1379.9" x2="1669.5" y2="1379.9" stroke="#00c000" stroke-width="4.6"/>
<polygon points="1652.0,1370.4 1661.0,1386.4 1643.0,1386.4" fill="#00c000"/>
<text class="sr" x="1682.5" y="1387.4" font-size="23" textLength="180.3" lengthAdjust="spacingAndGlyphs">ANGPTL8 KDcon</text>
<line x1="1635.0" y1="1418.3" x2="1669.5" y2="1418.3" stroke="#a806e2" stroke-width="4.6"/>
<polygon points="1652.0,1427.8 1661.0,1411.8 1643.0,1411.8" fill="#a806e2"/>
<text class="sr" x="1682.5" y="1425.8" font-size="23" textLength="146.0" lengthAdjust="spacingAndGlyphs">ANGPTL8 KD</text>
<text class="sb" x="1054.8" y="1720.8" font-size="37" textLength="18.5" lengthAdjust="spacingAndGlyphs">c</text>
<path d="M1182.2,1756.4 L1321.0,1756.4 L1321.0,1819.5 L1435.7,1819.5 L1435.7,1882.6 L1450.0,1882.6 L1450.0,2008.7 L1474.3,2008.7 L1474.3,2071.8" fill="none" stroke="#ff0000" stroke-width="5.6" stroke-linejoin="round"/>
<path d="M1182.2,1756.4 L1460.0,1756.4 L1460.0,1809.0 L1474.0,1809.0 L1474.0,1861.5 L1505.0,1861.5 L1505.0,1914.1 L1512.3,1914.1 L1512.3,1966.7 L1516.0,1966.7 L1516.0,2019.2 L1520.0,2019.2 L1520.0,2071.8" fill="none" stroke="#00c000" stroke-width="5.6" stroke-linejoin="round"/>
<path d="M1182.2,1755.9 L1474.3,1755.9 L1474.3,1819.5 L1529.8,1819.5 L1529.8,1882.6 L1543.6,1882.6 L1543.6,1945.6 L1547.3,1945.6 L1547.3,2008.7 L1634.3,2008.7 L1634.3,2071.8" fill="none" stroke="#a806e2" stroke-width="4" stroke-linejoin="round"/>
<path d="M1182.2,1756.4 L1467.3,1756.4 L1467.3,1819.5 L1474.3,1819.5 L1474.3,1882.6 L1488.3,1882.6 L1488.3,1945.6 L1499.0,1945.6 L1499.0,2008.7 L1519.3,2008.7 L1519.3,2071.8" fill="none" stroke="#0000ff" stroke-width="4" stroke-linejoin="round"/>
<line x1="1182.6" y1="1723.0" x2="1182.6" y2="2074.6" stroke="#000" stroke-width="5.3"/>
<line x1="1180.0" y1="2071.8" x2="1704.3" y2="2071.8" stroke="#000" stroke-width="5.6"/>
<line x1="1173.2" y1="1724.6" x2="1704.3" y2="1724.6" stroke="#000" stroke-width="4.5"/>
<line x1="1702.2" y1="1724.6" x2="1702.2" y2="2071.8" stroke="#000" stroke-width="4.2"/>
<line x1="1166.6" y1="2071.8" x2="1182.2" y2="2071.8" stroke="#000" stroke-width="4.2"/>
<line x1="1173.2" y1="2056.0" x2="1182.2" y2="2056.0" stroke="#000" stroke-width="4.0"/>
<line x1="1173.2" y1="2040.3" x2="1182.2" y2="2040.3" stroke="#000" stroke-width="4.0"/>
<line x1="1173.2" y1="2024.5" x2="1182.2" y2="2024.5" stroke="#000" stroke-width="4.0"/>
<line x1="1173.2" y1="2008.7" x2="1182.2" y2="2008.7" stroke="#000" stroke-width="4.0"/>
<line x1="1173.2" y1="1993.0" x2="1182.2" y2="1993.0" stroke="#000" stroke-width="4.0"/>
<line x1="1173.2" y1="1977.2" x2="1182.2" y2="1977.2" stroke="#000" stroke-width="4.0"/>
<line x1="1173.2" y1="1961.4" x2="1182.2" y2="1961.4" stroke="#000" stroke-width="4.0"/>
<line x1="1173.2" y1="1945.6" x2="1182.2" y2="1945.6" stroke="#000" stroke-width="4.0"/>
<line x1="1173.2" y1="1929.9" x2="1182.2" y2="1929.9" stroke="#000" stroke-width="4.0"/>
<line x1="1166.6" y1="1914.1" x2="1182.2" y2="1914.1" stroke="#000" stroke-width="4.2"/>
<line x1="1173.2" y1="1898.3" x2="1182.2" y2="1898.3" stroke="#000" stroke-width="4.0"/>
<line x1="1173.2" y1="1882.6" x2="1182.2" y2="1882.6" stroke="#000" stroke-width="4.0"/>
<line x1="1173.2" y1="1866.8" x2="1182.2" y2="1866.8" stroke="#000" stroke-width="4.0"/>
<line x1="1173.2" y1="1851.0" x2="1182.2" y2="1851.0" stroke="#000" stroke-width="4.0"/>
<line x1="1173.2" y1="1835.2" x2="1182.2" y2="1835.2" stroke="#000" stroke-width="4.0"/>
<line x1="1173.2" y1="1819.5" x2="1182.2" y2="1819.5" stroke="#000" stroke-width="4.0"/>
<line x1="1173.2" y1="1803.7" x2="1182.2" y2="1803.7" stroke="#000" stroke-width="4.0"/>
<line x1="1173.2" y1="1787.9" x2="1182.2" y2="1787.9" stroke="#000" stroke-width="4.0"/>
<line x1="1173.2" y1="1772.2" x2="1182.2" y2="1772.2" stroke="#000" stroke-width="4.0"/>
<line x1="1166.6" y1="1756.4" x2="1182.2" y2="1756.4" stroke="#000" stroke-width="4.2"/>
<line x1="1173.2" y1="1740.6" x2="1182.2" y2="1740.6" stroke="#000" stroke-width="4.0"/>
<line x1="1173.2" y1="1724.9" x2="1182.2" y2="1724.9" stroke="#000" stroke-width="4.0"/>
<text class="ab" x="1161.5" y="1765.4" font-size="25.5" text-anchor="end">100</text>
<text class="ab" x="1161.5" y="1923.1" font-size="25.5" text-anchor="end">50</text>
<text class="ab" x="1161.5" y="2080.8" font-size="25.5" text-anchor="end">0</text>
<line x1="1182.2" y1="2071.8" x2="1182.2" y2="2087.7" stroke="#000" stroke-width="4.2"/>
<line x1="1199.6" y1="2071.8" x2="1199.6" y2="2081.1" stroke="#000" stroke-width="4.1"/>
<line x1="1216.9" y1="2071.8" x2="1216.9" y2="2081.1" stroke="#000" stroke-width="4.1"/>
<line x1="1234.3" y1="2071.8" x2="1234.3" y2="2081.1" stroke="#000" stroke-width="4.1"/>
<line x1="1251.6" y1="2071.8" x2="1251.6" y2="2081.1" stroke="#000" stroke-width="4.1"/>
<line x1="1269.0" y1="2071.8" x2="1269.0" y2="2081.1" stroke="#000" stroke-width="4.1"/>
<line x1="1286.3" y1="2071.8" x2="1286.3" y2="2081.1" stroke="#000" stroke-width="4.1"/>
<line x1="1303.7" y1="2071.8" x2="1303.7" y2="2081.1" stroke="#000" stroke-width="4.1"/>
<line x1="1321.0" y1="2071.8" x2="1321.0" y2="2081.1" stroke="#000" stroke-width="4.1"/>
<line x1="1338.4" y1="2071.8" x2="1338.4" y2="2081.1" stroke="#000" stroke-width="4.1"/>
<line x1="1355.8" y1="2071.8" x2="1355.8" y2="2087.7" stroke="#000" stroke-width="4.2"/>
<line x1="1373.1" y1="2071.8" x2="1373.1" y2="2081.1" stroke="#000" stroke-width="4.1"/>
<line x1="1390.5" y1="2071.8" x2="1390.5" y2="2081.1" stroke="#000" stroke-width="4.1"/>
<line x1="1407.8" y1="2071.8" x2="1407.8" y2="2081.1" stroke="#000" stroke-width="4.1"/>
<line x1="1425.2" y1="2071.8" x2="1425.2" y2="2081.1" stroke="#000" stroke-width="4.1"/>
<line x1="1442.5" y1="2071.8" x2="1442.5" y2="2081.1" stroke="#000" stroke-width="4.1"/>
<line x1="1459.9" y1="2071.8" x2="1459.9" y2="2081.1" stroke="#000" stroke-width="4.1"/>
<line x1="1477.2" y1="2071.8" x2="1477.2" y2="2081.1" stroke="#000" stroke-width="4.1"/>
<line x1="1494.6" y1="2071.8" x2="1494.6" y2="2081.1" stroke="#000" stroke-width="4.1"/>
<line x1="1511.9" y1="2071.8" x2="1511.9" y2="2081.1" stroke="#000" stroke-width="4.1"/>
<line x1="1529.3" y1="2071.8" x2="1529.3" y2="2087.7" stroke="#000" stroke-width="4.2"/>
<line x1="1546.7" y1="2071.8" x2="1546.7" y2="2081.1" stroke="#000" stroke-width="4.1"/>
<line x1="1564.0" y1="2071.8" x2="1564.0" y2="2081.1" stroke="#000" stroke-width="4.1"/>
<line x1="1581.4" y1="2071.8" x2="1581.4" y2="2081.1" stroke="#000" stroke-width="4.1"/>
<line x1="1598.7" y1="2071.8" x2="1598.7" y2="2081.1" stroke="#000" stroke-width="4.1"/>
<line x1="1616.1" y1="2071.8" x2="1616.1" y2="2081.1" stroke="#000" stroke-width="4.1"/>
<line x1="1633.4" y1="2071.8" x2="1633.4" y2="2081.1" stroke="#000" stroke-width="4.1"/>
<line x1="1650.8" y1="2071.8" x2="1650.8" y2="2081.1" stroke="#000" stroke-width="4.1"/>
<line x1="1668.1" y1="2071.8" x2="1668.1" y2="2081.1" stroke="#000" stroke-width="4.1"/>
<line x1="1685.5" y1="2071.8" x2="1685.5" y2="2081.1" stroke="#000" stroke-width="4.1"/>
<line x1="1704.4" y1="2071.8" x2="1704.4" y2="2087.7" stroke="#000" stroke-width="4.2"/>
<text class="ab" x="1182.2" y="2117.4" font-size="25.5" text-anchor="middle">0</text>
<text class="ab" x="1355.8" y="2117.4" font-size="25.5" text-anchor="middle">50</text>
<text class="ab" x="1529.3" y="2117.4" font-size="25.5" text-anchor="middle">100</text>
<text class="ab" x="1703.8" y="2117.4" font-size="25.5" text-anchor="middle">150</text>
<text class="sb" x="1402.7" y="2133.3" font-size="31" textLength="59.6" lengthAdjust="spacingAndGlyphs">days</text>
<text class="sb" font-size="36" text-anchor="middle" textLength="307.5" lengthAdjust="spacingAndGlyphs" transform="translate(1108.3 1921.7) rotate(-90)">Probability of Survival</text>
<line x1="1713.4" y1="1734.7" x2="1742.8" y2="1734.7" stroke="#0000ff" stroke-width="5.6"/>
<line x1="1713.4" y1="1772.1" x2="1742.8" y2="1772.1" stroke="#ff0000" stroke-width="5.6"/>
<line x1="1713.4" y1="1809.8" x2="1742.8" y2="1809.8" stroke="#00c000" stroke-width="5.6"/>
<line x1="1713.4" y1="1847.4" x2="1742.8" y2="1847.4" stroke="#a806e2" stroke-width="5.6"/>
<text class="sr" x="1751.8" y="1741.5" font-size="23" textLength="65.0" lengthAdjust="spacingAndGlyphs">OEcon</text>
<text class="sr" x="1751.8" y="1779.1" font-size="23" textLength="30.0" lengthAdjust="spacingAndGlyphs">OE</text>
<text class="sr" x="1751.8" y="1816.8" font-size="23" textLength="67.6" lengthAdjust="spacingAndGlyphs">KDcon</text>
<text class="sr" x="1751.8" y="1854.4" font-size="23" textLength="32.4" lengthAdjust="spacingAndGlyphs">KD</text>
<path d="M1825.1,1730.7 H1839.4 V1774.0 H1825.1" fill="none" stroke="#000" stroke-width="4.1" stroke-linejoin="round"/>
<path d="M1827.1,1806.4 H1843.9 V1849.6 H1827.1" fill="none" stroke="#000" stroke-width="4.1" stroke-linejoin="round"/>
<path d="M1867.9,1760.4 H1881.7 V1843.9 H1867.9" fill="none" stroke="#000" stroke-width="4.1" stroke-linejoin="round"/>
<text class="sr" x="1857.8" y="1768.1" font-size="33" text-anchor="middle">*</text>
<text class="sr" x="1859.8" y="1845.0" font-size="33" text-anchor="middle">*</text>
<text class="sr" x="1900.6" y="1799.3" font-size="33" text-anchor="middle">*</text>
<text class="sr" x="1900.6" y="1819.3" font-size="33" text-anchor="middle">*</text>
<text class="sb" x="1.4" y="2103.3" font-size="42" textLength="31.2" lengthAdjust="spacingAndGlyphs">E</text>
<text class="sb" x="68.3" y="2160.0" font-size="37">a</text>
<text class="sb" x="315.0" y="2160.0" font-size="32" textLength="65.0" lengthAdjust="spacingAndGlyphs">DEN</text>
<line x1="185.7" y1="2171.7" x2="516.0" y2="2171.7" stroke="#1a0a0a" stroke-width="2"/>
<text class="sb" x="162.3" y="2206.7" font-size="32" textLength="51.0" lengthAdjust="spacingAndGlyphs">WT</text>
<text class="sb" x="375.7" y="2206.7" font-size="32" textLength="206.0" lengthAdjust="spacingAndGlyphs">ANGPTL8 KO</text>
<g><clipPath id="cw"><rect x="41.6" y="2224" width="284.8" height="214.3"/></clipPath>
<defs><filter id="ib" x="-5%" y="-5%" width="110%" height="110%"><feGaussianBlur stdDeviation="0.55"/></filter><filter id="ib2" x="-60%" y="-60%" width="220%" height="220%"><feGaussianBlur stdDeviation="6"/></filter></defs>
<rect x="41.6" y="2224.0" width="284.8" height="214.3" fill="#fffdf7"/>
<g clip-path="url(#cw)"><g filter="url(#ib)">
<ellipse cx="75" cy="2262" rx="26" ry="16" fill="#fbe6a8" opacity="0.5" filter="url(#ib2)"/>
<ellipse cx="250" cy="2330" rx="22" ry="18" fill="#fbe6a8" opacity="0.5" filter="url(#ib2)"/>
<ellipse cx="170" cy="2400" rx="22" ry="18" fill="#fbe6a8" opacity="0.5" filter="url(#ib2)"/>
<ellipse cx="285" cy="2405" rx="28" ry="20" fill="#fbe6a8" opacity="0.5" filter="url(#ib2)"/>
<ellipse cx="70" cy="2345" rx="14" ry="22" fill="#fbe6a8" opacity="0.5" filter="url(#ib2)"/>
<ellipse cx="215" cy="2240" rx="30" ry="10" fill="#fbe6a8" opacity="0.5" filter="url(#ib2)"/>
<ellipse cx="133.8" cy="2256.3" rx="2.8" ry="1.3" fill="#2c3fd8" opacity="0.96" transform="rotate(13 133.8 2256.3)"/>
<ellipse cx="102.7" cy="2242.4" rx="2.8" ry="1.0" fill="#2630b0" opacity="0.65" transform="rotate(43 102.7 2242.4)"/>
<ellipse cx="54.9" cy="2408.0" rx="1.9" ry="1.2" fill="#1f2aa0" opacity="0.67" transform="rotate(26 54.9 2408.0)"/>
<ellipse cx="207.2" cy="2360.9" rx="1.7" ry="1.0" fill="#2436c8" opacity="0.80" transform="rotate(99 207.2 2360.9)"/>
<ellipse cx="193.0" cy="2390.6" rx="2.4" ry="1.1" fill="#2436c8" opacity="0.88" transform="rotate(166 193.0 2390.6)"/>
<ellipse cx="111.1" cy="2347.1" rx="3.2" ry="1.2" fill="#2c3fd8" opacity="0.65" transform="rotate(158 111.1 2347.1)"/>
<ellipse cx="160.7" cy="2386.3" rx="1.7" ry="1.6" fill="#2630b0" opacity="0.83" transform="rotate(88 160.7 2386.3)"/>
<ellipse cx="210.9" cy="2348.3" rx="3.7" ry="1.4" fill="#1f2aa0" opacity="0.63" transform="rotate(151 210.9 2348.3)"/>
<ellipse cx="249.8" cy="2290.3" rx="2.6" ry="1.6" fill="#1f2aa0" opacity="0.74" transform="rotate(123 249.8 2290.3)"/>
<ellipse cx="182.2" cy="2270.8" rx="2.5" ry="1.8" fill="#5450c4" opacity="0.63" transform="rotate(133 182.2 2270.8)"/>
<ellipse cx="169.5" cy="2341.7" rx="3.5" ry="1.2" fill="#5450c4" opacity="0.99" transform="rotate(147 169.5 2341.7)"/>
<ellipse cx="236.0" cy="2305.5" rx="1.9" ry="1.6" fill="#2c3fd8" opacity="0.79" transform="rotate(15 236.0 2305.5)"/>
<ellipse cx="209.4" cy="2280.3" rx="2.4" ry="1.5" fill="#2436c8" opacity="0.88" transform="rotate(75 209.4 2280.3)"/>
<ellipse cx="188.4" cy="2356.4" rx="3.6" ry="1.7" fill="#1f2aa0" opacity="0.92" transform="rotate(10 188.4 2356.4)"/>
<ellipse cx="153.3" cy="2309.5" rx="1.7" ry="1.0" fill="#2436c8" opacity="0.78" transform="rotate(114 153.3 2309.5)"/>
<ellipse cx="72.9" cy="2352.7" rx="2.8" ry="1.8" fill="#2630b0" opacity="0.61" transform="rotate(102 72.9 2352.7)"/>
<ellipse cx="290.6" cy="2355.6" rx="2.4" ry="1.3" fill="#2c3fd8" opacity="0.65" transform="rotate(45 290.6 2355.6)"/>
<ellipse cx="180.6" cy="2433.5" rx="1.9" ry="1.6" fill="#1f2aa0" opacity="0.71" transform="rotate(56 180.6 2433.5)"/>
<ellipse cx="277.7" cy="2258.6" rx="2.8" ry="1.0" fill="#2630b0" opacity="0.97" transform="rotate(171 277.7 2258.6)"/>
<ellipse cx="257.5" cy="2287.9" rx="3.5" ry="1.4" fill="#2436c8" opacity="0.74" transform="rotate(16 257.5 2287.9)"/>
<ellipse cx="105.1" cy="2340.1" rx="2.9" ry="1.7" fill="#2436c8" opacity="0.92" transform="rotate(115 105.1 2340.1)"/>
<ellipse cx="274.7" cy="2382.6" rx="2.4" ry="0.9" fill="#2c3fd8" opacity="0.92" transform="rotate(93 274.7 2382.6)"/>
<ellipse cx="176.1" cy="2265.5" rx="3.4" ry="1.6" fill="#3d50e0" opacity="0.98" transform="rotate(62 176.1 2265.5)"/>
<ellipse cx="145.4" cy="2271.2" rx="2.0" ry="1.5" fill="#2630b0" opacity="0.94" transform="rotate(35 145.4 2271.2)"/>
<ellipse cx="178.2" cy="2363.9" rx="3.1" ry="1.8" fill="#1f2aa0" opacity="0.90" transform="rotate(15 178.2 2363.9)"/>
<ellipse cx="154.3" cy="2310.0" rx="2.0" ry="1.0" fill="#2436c8" opacity="0.84" transform="rotate(130 154.3 2310.0)"/>
<ellipse cx="174.1" cy="2364.6" rx="2.6" ry="1.8" fill="#2436c8" opacity="0.82" transform="rotate(107 174.1 2364.6)"/>
<ellipse cx="101.7" cy="2278.0" rx="2.9" ry="1.2" fill="#5450c4" opacity="0.93" transform="rotate(43 101.7 2278.0)"/>
<ellipse cx="277.2" cy="2412.2" rx="2.7" ry="1.8" fill="#2436c8" opacity="0.84" transform="rotate(27 277.2 2412.2)"/>
<ellipse cx="262.6" cy="2256.1" rx="1.9" ry="1.0" fill="#1f2aa0" opacity="0.81" transform="rotate(111 262.6 2256.1)"/>
<ellipse cx="199.8" cy="2392.1" rx="2.1" ry="1.2" fill="#2c3fd8" opacity="0.80" transform="rotate(101 199.8 2392.1)"/>
<ellipse cx="167.8" cy="2355.3" rx="3.1" ry="1.4" fill="#2630b0" opacity="0.92" transform="rotate(92 167.8 2355.3)"/>
<ellipse cx="186.2" cy="2277.1" rx="3.6" ry="1.8" fill="#2436c8" opacity="0.94" transform="rotate(158 186.2 2277.1)"/>
<ellipse cx="62.3" cy="2275.6" rx="3.3" ry="1.8" fill="#2436c8" opacity="0.98" transform="rotate(121 62.3 2275.6)"/>
<ellipse cx="224.9" cy="2302.5" rx="2.6" ry="1.6" fill="#2c3fd8" opacity="0.76" transform="rotate(25 224.9 2302.5)"/>
<ellipse cx="87.6" cy="2316.5" rx="2.0" ry="1.2" fill="#1f2aa0" opacity="0.75" transform="rotate(61 87.6 2316.5)"/>
<ellipse cx="137.9" cy="2322.3" rx="2.7" ry="1.2" fill="#2c3fd8" opacity="0.65" transform="rotate(69 137.9 2322.3)"/>
<ellipse cx="157.2" cy="2339.0" rx="2.3" ry="1.2" fill="#1f2aa0" opacity="0.67" transform="rotate(89 157.2 2339.0)"/>
<ellipse cx="296.6" cy="2281.6" rx="2.2" ry="1.5" fill="#2436c8" opacity="0.63" transform="rotate(16 296.6 2281.6)"/>
<ellipse cx="287.3" cy="2321.2" rx="3.6" ry="1.2" fill="#2436c8" opacity="0.62" transform="rotate(100 287.3 2321.2)"/>
<ellipse cx="220.6" cy="2337.8" rx="3.1" ry="1.2" fill="#2c3fd8" opacity="1.00" transform="rotate(80 220.6 2337.8)"/>
<ellipse cx="320.1" cy="2334.2" rx="3.0" ry="1.6" fill="#1f2aa0" opacity="0.80" transform="rotate(80 320.1 2334.2)"/>
<ellipse cx="279.3" cy="2308.2" rx="3.8" ry="1.2" fill="#1f2aa0" opacity="0.89" transform="rotate(124 279.3 2308.2)"/>
<ellipse cx="292.2" cy="2316.3" rx="2.4" ry="1.4" fill="#3d50e0" opacity="0.84" transform="rotate(120 292.2 2316.3)"/>
<ellipse cx="238.9" cy="2233.7" rx="1.6" ry="1.3" fill="#3d50e0" opacity="0.99" transform="rotate(48 238.9 2233.7)"/>
<ellipse cx="129.8" cy="2300.4" rx="2.6" ry="1.4" fill="#2436c8" opacity="0.70" transform="rotate(69 129.8 2300.4)"/>
<ellipse cx="82.6" cy="2349.8" rx="3.0" ry="1.0" fill="#2630b0" opacity="0.94" transform="rotate(54 82.6 2349.8)"/>
<ellipse cx="182.3" cy="2284.9" rx="3.4" ry="1.6" fill="#2630b0" opacity="0.85" transform="rotate(26 182.3 2284.9)"/>
<ellipse cx="190.8" cy="2332.1" rx="3.4" ry="1.5" fill="#1f2aa0" opacity="0.87" transform="rotate(145 190.8 2332.1)"/>
<ellipse cx="239.1" cy="2273.3" rx="2.4" ry="1.0" fill="#5450c4" opacity="0.82" transform="rotate(24 239.1 2273.3)"/>
<ellipse cx="220.4" cy="2358.2" rx="1.6" ry="1.7" fill="#1f2aa0" opacity="0.97" transform="rotate(88 220.4 2358.2)"/>
<ellipse cx="107.3" cy="2363.3" rx="1.8" ry="1.8" fill="#3d50e0" opacity="0.91" transform="rotate(152 107.3 2363.3)"/>
<ellipse cx="217.3" cy="2361.7" rx="2.2" ry="1.6" fill="#3d50e0" opacity="0.85" transform="rotate(27 217.3 2361.7)"/>
<ellipse cx="79.6" cy="2327.4" rx="1.8" ry="1.1" fill="#5450c4" opacity="0.72" transform="rotate(175 79.6 2327.4)"/>
<ellipse cx="188.7" cy="2323.6" rx="3.6" ry="1.1" fill="#2c3fd8" opacity="0.97" transform="rotate(21 188.7 2323.6)"/>
<ellipse cx="317.3" cy="2320.3" rx="3.7" ry="1.1" fill="#2630b0" opacity="0.64" transform="rotate(38 317.3 2320.3)"/>
<ellipse cx="254.5" cy="2280.1" rx="3.0" ry="1.2" fill="#2c3fd8" opacity="0.88" transform="rotate(109 254.5 2280.1)"/>
<ellipse cx="107.5" cy="2416.4" rx="1.6" ry="1.4" fill="#5450c4" opacity="0.76" transform="rotate(4 107.5 2416.4)"/>
<ellipse cx="248.7" cy="2313.2" rx="2.3" ry="1.2" fill="#3d50e0" opacity="0.94" transform="rotate(22 248.7 2313.2)"/>
<ellipse cx="298.4" cy="2286.1" rx="3.8" ry="1.5" fill="#3d50e0" opacity="0.97" transform="rotate(71 298.4 2286.1)"/>
<ellipse cx="84.0" cy="2432.1" rx="3.3" ry="1.7" fill="#5450c4" opacity="0.95" transform="rotate(57 84.0 2432.1)"/>
<ellipse cx="55.7" cy="2380.9" rx="3.0" ry="1.2" fill="#2c3fd8" opacity="0.96" transform="rotate(135 55.7 2380.9)"/>
<ellipse cx="198.3" cy="2260.6" rx="2.2" ry="1.6" fill="#1f2aa0" opacity="0.70" transform="rotate(51 198.3 2260.6)"/>
<ellipse cx="228.4" cy="2288.5" rx="2.0" ry="1.1" fill="#2436c8" opacity="0.80" transform="rotate(71 228.4 2288.5)"/>
<ellipse cx="272.8" cy="2341.9" rx="3.3" ry="1.3" fill="#2630b0" opacity="0.68" transform="rotate(60 272.8 2341.9)"/>
<ellipse cx="67.4" cy="2297.3" rx="2.2" ry="1.5" fill="#2c3fd8" opacity="0.90" transform="rotate(43 67.4 2297.3)"/>
<ellipse cx="159.2" cy="2312.7" rx="2.3" ry="1.0" fill="#3d50e0" opacity="0.83" transform="rotate(68 159.2 2312.7)"/>
<ellipse cx="144.2" cy="2371.2" rx="3.5" ry="1.0" fill="#2436c8" opacity="0.75" transform="rotate(142 144.2 2371.2)"/>
<ellipse cx="225.5" cy="2316.5" rx="3.7" ry="1.0" fill="#5450c4" opacity="0.88" transform="rotate(147 225.5 2316.5)"/>
<ellipse cx="296.7" cy="2325.4" rx="2.5" ry="1.8" fill="#2630b0" opacity="0.94" transform="rotate(0 296.7 2325.4)"/>
<ellipse cx="318.5" cy="2277.2" rx="2.7" ry="1.6" fill="#1f2aa0" opacity="0.88" transform="rotate(28 318.5 2277.2)"/>
<ellipse cx="282.7" cy="2415.8" rx="1.6" ry="1.0" fill="#2630b0" opacity="0.97" transform="rotate(140 282.7 2415.8)"/>
<ellipse cx="225.4" cy="2289.1" rx="3.0" ry="1.6" fill="#2c3fd8" opacity="0.64" transform="rotate(45 225.4 2289.1)"/>
<ellipse cx="127.1" cy="2426.2" rx="3.3" ry="0.9" fill="#2630b0" opacity="0.72" transform="rotate(47 127.1 2426.2)"/>
<ellipse cx="293.3" cy="2325.9" rx="3.7" ry="1.6" fill="#3d50e0" opacity="0.62" transform="rotate(44 293.3 2325.9)"/>
<ellipse cx="96.9" cy="2413.6" rx="2.1" ry="1.3" fill="#3d50e0" opacity="0.69" transform="rotate(15 96.9 2413.6)"/>
<ellipse cx="252.1" cy="2332.2" rx="2.3" ry="1.7" fill="#2436c8" opacity="0.79" transform="rotate(175 252.1 2332.2)"/>
<ellipse cx="117.1" cy="2414.6" rx="2.9" ry="1.8" fill="#5450c4" opacity="0.77" transform="rotate(112 117.1 2414.6)"/>
<ellipse cx="231.1" cy="2427.3" rx="2.1" ry="1.9" fill="#2436c8" opacity="0.77" transform="rotate(71 231.1 2427.3)"/>
<ellipse cx="243.8" cy="2263.5" rx="2.3" ry="1.0" fill="#2c3fd8" opacity="0.97" transform="rotate(128 243.8 2263.5)"/>
<ellipse cx="149.4" cy="2304.1" rx="1.6" ry="1.2" fill="#3d50e0" opacity="0.77" transform="rotate(30 149.4 2304.1)"/>
<ellipse cx="293.7" cy="2344.2" rx="3.3" ry="1.2" fill="#5450c4" opacity="0.64" transform="rotate(68 293.7 2344.2)"/>
<ellipse cx="242.5" cy="2265.9" rx="2.3" ry="1.6" fill="#5450c4" opacity="0.61" transform="rotate(80 242.5 2265.9)"/>
<ellipse cx="158.6" cy="2398.0" rx="1.7" ry="1.0" fill="#2c3fd8" opacity="0.70" transform="rotate(7 158.6 2398.0)"/>
<ellipse cx="116.3" cy="2377.6" rx="1.6" ry="1.7" fill="#1f2aa0" opacity="0.98" transform="rotate(50 116.3 2377.6)"/>
<ellipse cx="60.2" cy="2401.0" rx="2.6" ry="1.7" fill="#3d50e0" opacity="0.97" transform="rotate(129 60.2 2401.0)"/>
<ellipse cx="44.1" cy="2423.5" rx="1.9" ry="1.1" fill="#3d50e0" opacity="0.78" transform="rotate(125 44.1 2423.5)"/>
<ellipse cx="264.8" cy="2351.7" rx="2.0" ry="1.3" fill="#1f2aa0" opacity="0.61" transform="rotate(71 264.8 2351.7)"/>
<ellipse cx="293.2" cy="2435.7" rx="1.8" ry="1.4" fill="#1f2aa0" opacity="0.99" transform="rotate(15 293.2 2435.7)"/>
<ellipse cx="125.3" cy="2283.9" rx="2.2" ry="1.3" fill="#2436c8" opacity="0.70" transform="rotate(46 125.3 2283.9)"/>
<ellipse cx="85.3" cy="2413.5" rx="2.5" ry="1.9" fill="#2630b0" opacity="0.81" transform="rotate(59 85.3 2413.5)"/>
<ellipse cx="226.6" cy="2245.5" rx="1.6" ry="1.8" fill="#2436c8" opacity="0.94" transform="rotate(7 226.6 2245.5)"/>
<ellipse cx="302.0" cy="2232.6" rx="2.0" ry="1.9" fill="#2630b0" opacity="0.68" transform="rotate(21 302.0 2232.6)"/>
<ellipse cx="63.0" cy="2333.9" rx="3.3" ry="1.6" fill="#2c3fd8" opacity="0.64" transform="rotate(109 63.0 2333.9)"/>
<ellipse cx="211.4" cy="2356.9" rx="1.9" ry="1.1" fill="#3d50e0" opacity="0.62" transform="rotate(66 211.4 2356.9)"/>
<ellipse cx="274.8" cy="2311.6" rx="1.8" ry="0.9" fill="#5450c4" opacity="0.82" transform="rotate(112 274.8 2311.6)"/>
<ellipse cx="198.3" cy="2361.0" rx="3.1" ry="1.3" fill="#3d50e0" opacity="0.87" transform="rotate(29 198.3 2361.0)"/>
<ellipse cx="293.3" cy="2312.7" rx="3.4" ry="1.5" fill="#5450c4" opacity="0.89" transform="rotate(138 293.3 2312.7)"/>
<ellipse cx="162.3" cy="2399.8" rx="2.6" ry="1.1" fill="#2c3fd8" opacity="0.62" transform="rotate(159 162.3 2399.8)"/>
<ellipse cx="82.2" cy="2396.8" rx="3.6" ry="1.6" fill="#2436c8" opacity="0.66" transform="rotate(103 82.2 2396.8)"/>
<ellipse cx="122.3" cy="2335.7" rx="2.7" ry="1.7" fill="#2436c8" opacity="0.72" transform="rotate(20 122.3 2335.7)"/>
<ellipse cx="131.2" cy="2354.2" rx="3.2" ry="1.6" fill="#2436c8" opacity="0.86" transform="rotate(16 131.2 2354.2)"/>
<ellipse cx="285.6" cy="2357.1" rx="2.6" ry="1.5" fill="#2c3fd8" opacity="0.76" transform="rotate(35 285.6 2357.1)"/>
<ellipse cx="189.1" cy="2306.2" rx="3.2" ry="1.8" fill="#2c3fd8" opacity="0.95" transform="rotate(44 189.1 2306.2)"/>
<ellipse cx="281.5" cy="2368.1" rx="2.5" ry="1.4" fill="#1f2aa0" opacity="0.91" transform="rotate(58 281.5 2368.1)"/>
<ellipse cx="226.4" cy="2290.0" rx="2.4" ry="1.4" fill="#2436c8" opacity="0.61" transform="rotate(70 226.4 2290.0)"/>
<ellipse cx="217.9" cy="2328.9" rx="3.3" ry="1.4" fill="#2436c8" opacity="0.92" transform="rotate(137 217.9 2328.9)"/>
<ellipse cx="155.6" cy="2238.4" rx="3.4" ry="1.4" fill="#1f2aa0" opacity="0.62" transform="rotate(66 155.6 2238.4)"/>
<ellipse cx="263.1" cy="2333.6" rx="2.4" ry="1.9" fill="#2436c8" opacity="0.61" transform="rotate(91 263.1 2333.6)"/>
<ellipse cx="237.0" cy="2378.5" rx="2.9" ry="1.2" fill="#3d50e0" opacity="0.96" transform="rotate(150 237.0 2378.5)"/>
<ellipse cx="119.9" cy="2398.8" rx="3.6" ry="1.1" fill="#3d50e0" opacity="0.85" transform="rotate(90 119.9 2398.8)"/>
<ellipse cx="109.2" cy="2303.8" rx="3.0" ry="1.2" fill="#3d50e0" opacity="0.96" transform="rotate(73 109.2 2303.8)"/>
<ellipse cx="89.7" cy="2392.2" rx="3.0" ry="1.3" fill="#5450c4" opacity="0.82" transform="rotate(96 89.7 2392.2)"/>
<ellipse cx="206.8" cy="2413.1" rx="3.0" ry="1.3" fill="#3d50e0" opacity="0.71" transform="rotate(179 206.8 2413.1)"/>
<ellipse cx="323.7" cy="2347.7" rx="2.6" ry="1.1" fill="#1f2aa0" opacity="0.98" transform="rotate(138 323.7 2347.7)"/>
<ellipse cx="126.0" cy="2334.6" rx="3.5" ry="1.8" fill="#3d50e0" opacity="0.89" transform="rotate(174 126.0 2334.6)"/>
<ellipse cx="254.4" cy="2271.5" rx="2.5" ry="1.3" fill="#2c3fd8" opacity="0.65" transform="rotate(113 254.4 2271.5)"/>
<ellipse cx="106.3" cy="2364.0" rx="2.4" ry="1.0" fill="#3d50e0" opacity="0.81" transform="rotate(0 106.3 2364.0)"/>
<ellipse cx="159.3" cy="2288.5" rx="3.4" ry="1.1" fill="#2c3fd8" opacity="0.97" transform="rotate(66 159.3 2288.5)"/>
<ellipse cx="111.0" cy="2256.0" rx="3.5" ry="1.7" fill="#5450c4" opacity="0.92" transform="rotate(115 111.0 2256.0)"/>
<ellipse cx="295.8" cy="2351.4" rx="2.7" ry="1.4" fill="#2436c8" opacity="0.96" transform="rotate(108 295.8 2351.4)"/>
<ellipse cx="54.1" cy="2337.9" rx="1.7" ry="1.7" fill="#2c3fd8" opacity="0.85" transform="rotate(43 54.1 2337.9)"/>
<ellipse cx="228.7" cy="2266.3" rx="3.0" ry="1.5" fill="#5450c4" opacity="0.93" transform="rotate(93 228.7 2266.3)"/>
<ellipse cx="91.3" cy="2290.3" rx="3.6" ry="1.7" fill="#1f2aa0" opacity="0.82" transform="rotate(9 91.3 2290.3)"/>
<ellipse cx="148.4" cy="2317.6" rx="3.0" ry="1.1" fill="#2c3fd8" opacity="0.70" transform="rotate(14 148.4 2317.6)"/>
<ellipse cx="305.1" cy="2426.1" rx="3.0" ry="1.6" fill="#1f2aa0" opacity="0.92" transform="rotate(9 305.1 2426.1)"/>
<ellipse cx="190.6" cy="2280.9" rx="2.1" ry="1.8" fill="#2c3fd8" opacity="0.67" transform="rotate(174 190.6 2280.9)"/>
<ellipse cx="299.3" cy="2404.4" rx="3.6" ry="1.1" fill="#5450c4" opacity="0.73" transform="rotate(29 299.3 2404.4)"/>
<ellipse cx="175.3" cy="2404.0" rx="2.6" ry="1.6" fill="#2630b0" opacity="0.95" transform="rotate(154 175.3 2404.0)"/>
<ellipse cx="266.4" cy="2307.9" rx="2.0" ry="0.9" fill="#2c3fd8" opacity="0.64" transform="rotate(102 266.4 2307.9)"/>
<ellipse cx="306.2" cy="2297.9" rx="1.7" ry="1.6" fill="#1f2aa0" opacity="0.62" transform="rotate(5 306.2 2297.9)"/>
<ellipse cx="193.7" cy="2366.3" rx="3.2" ry="1.3" fill="#2436c8" opacity="0.68" transform="rotate(136 193.7 2366.3)"/>
<ellipse cx="221.5" cy="2285.6" rx="3.3" ry="1.1" fill="#3d50e0" opacity="0.73" transform="rotate(18 221.5 2285.6)"/>
<ellipse cx="260.7" cy="2353.0" rx="3.2" ry="1.7" fill="#2c3fd8" opacity="0.77" transform="rotate(52 260.7 2353.0)"/>
<ellipse cx="67.5" cy="2399.7" rx="2.0" ry="1.7" fill="#2c3fd8" opacity="0.60" transform="rotate(0 67.5 2399.7)"/>
<ellipse cx="181.4" cy="2329.3" rx="2.7" ry="1.2" fill="#2630b0" opacity="0.70" transform="rotate(33 181.4 2329.3)"/>
<ellipse cx="310.4" cy="2284.8" rx="2.7" ry="1.0" fill="#1f2aa0" opacity="0.91" transform="rotate(126 310.4 2284.8)"/>
<ellipse cx="71.4" cy="2294.0" rx="3.6" ry="1.6" fill="#5450c4" opacity="0.96" transform="rotate(167 71.4 2294.0)"/>
<ellipse cx="298.3" cy="2331.4" rx="2.1" ry="1.4" fill="#2630b0" opacity="0.84" transform="rotate(159 298.3 2331.4)"/>
<ellipse cx="237.9" cy="2353.7" rx="2.7" ry="1.8" fill="#5450c4" opacity="0.86" transform="rotate(105 237.9 2353.7)"/>
<ellipse cx="252.9" cy="2260.3" rx="2.9" ry="1.0" fill="#5450c4" opacity="0.86" transform="rotate(139 252.9 2260.3)"/>
<ellipse cx="240.0" cy="2332.8" rx="3.4" ry="1.5" fill="#1f2aa0" opacity="0.66" transform="rotate(136 240.0 2332.8)"/>
<ellipse cx="112.1" cy="2294.0" rx="2.3" ry="1.1" fill="#1f2aa0" opacity="1.00" transform="rotate(29 112.1 2294.0)"/>
<ellipse cx="88.5" cy="2365.0" rx="1.9" ry="1.2" fill="#3d50e0" opacity="0.77" transform="rotate(27 88.5 2365.0)"/>
<ellipse cx="97.5" cy="2360.7" rx="2.5" ry="0.9" fill="#5450c4" opacity="0.94" transform="rotate(37 97.5 2360.7)"/>
<ellipse cx="126.0" cy="2228.7" rx="1.6" ry="1.1" fill="#5450c4" opacity="0.88" transform="rotate(133 126.0 2228.7)"/>
<ellipse cx="224.4" cy="2349.1" rx="1.9" ry="1.3" fill="#3d50e0" opacity="0.85" transform="rotate(33 224.4 2349.1)"/>
<ellipse cx="244.7" cy="2358.9" rx="2.6" ry="1.5" fill="#5450c4" opacity="0.81" transform="rotate(76 244.7 2358.9)"/>
<ellipse cx="300.3" cy="2246.8" rx="3.2" ry="1.9" fill="#2436c8" opacity="0.81" transform="rotate(39 300.3 2246.8)"/>
<ellipse cx="70.4" cy="2347.1" rx="2.7" ry="1.5" fill="#3d50e0" opacity="0.81" transform="rotate(129 70.4 2347.1)"/>
<ellipse cx="158.5" cy="2427.2" rx="2.5" ry="1.7" fill="#2c3fd8" opacity="0.89" transform="rotate(123 158.5 2427.2)"/>
<ellipse cx="216.5" cy="2360.6" rx="1.7" ry="1.0" fill="#5450c4" opacity="0.85" transform="rotate(69 216.5 2360.6)"/>
<ellipse cx="233.8" cy="2348.3" rx="2.5" ry="1.9" fill="#2436c8" opacity="1.00" transform="rotate(55 233.8 2348.3)"/>
<ellipse cx="315.3" cy="2323.0" rx="1.8" ry="1.7" fill="#2436c8" opacity="0.79" transform="rotate(167 315.3 2323.0)"/>
<ellipse cx="142.2" cy="2360.9" rx="2.6" ry="1.2" fill="#2630b0" opacity="0.86" transform="rotate(147 142.2 2360.9)"/>
<ellipse cx="107.2" cy="2374.9" rx="3.1" ry="1.4" fill="#1f2aa0" opacity="0.92" transform="rotate(177 107.2 2374.9)"/>
<ellipse cx="143.6" cy="2364.2" rx="3.0" ry="1.0" fill="#3d50e0" opacity="0.66" transform="rotate(87 143.6 2364.2)"/>
<ellipse cx="127.9" cy="2306.5" rx="2.3" ry="1.8" fill="#2630b0" opacity="0.93" transform="rotate(102 127.9 2306.5)"/>
<ellipse cx="221.9" cy="2227.2" rx="3.0" ry="1.2" fill="#2c3fd8" opacity="0.83" transform="rotate(171 221.9 2227.2)"/>
<ellipse cx="284.9" cy="2263.8" rx="2.1" ry="1.3" fill="#2630b0" opacity="0.67" transform="rotate(141 284.9 2263.8)"/>
<ellipse cx="295.4" cy="2354.4" rx="3.6" ry="1.7" fill="#3d50e0" opacity="0.68" transform="rotate(120 295.4 2354.4)"/>
<ellipse cx="166.5" cy="2413.2" rx="2.1" ry="1.0" fill="#5450c4" opacity="0.82" transform="rotate(48 166.5 2413.2)"/>
<ellipse cx="250.8" cy="2258.4" rx="2.7" ry="1.2" fill="#5450c4" opacity="0.75" transform="rotate(125 250.8 2258.4)"/>
<ellipse cx="160.9" cy="2429.9" rx="3.0" ry="0.9" fill="#2630b0" opacity="0.62" transform="rotate(115 160.9 2429.9)"/>
<ellipse cx="138.8" cy="2390.8" rx="2.2" ry="1.2" fill="#3d50e0" opacity="0.82" transform="rotate(164 138.8 2390.8)"/>
<ellipse cx="156.6" cy="2332.0" rx="3.7" ry="1.6" fill="#2c3fd8" opacity="0.73" transform="rotate(91 156.6 2332.0)"/>
<ellipse cx="131.9" cy="2288.1" rx="3.3" ry="0.9" fill="#1f2aa0" opacity="0.82" transform="rotate(114 131.9 2288.1)"/>
<ellipse cx="157.2" cy="2347.0" rx="1.7" ry="1.7" fill="#5450c4" opacity="0.84" transform="rotate(20 157.2 2347.0)"/>
<ellipse cx="215.8" cy="2356.2" rx="2.9" ry="1.6" fill="#2436c8" opacity="0.62" transform="rotate(125 215.8 2356.2)"/>
<ellipse cx="222.0" cy="2358.0" rx="3.5" ry="1.3" fill="#2c3fd8" opacity="0.97" transform="rotate(119 222.0 2358.0)"/>
<ellipse cx="265.6" cy="2344.5" rx="2.5" ry="1.2" fill="#5450c4" opacity="0.83" transform="rotate(54 265.6 2344.5)"/>
<ellipse cx="206.3" cy="2419.8" rx="3.4" ry="1.7" fill="#5450c4" opacity="0.83" transform="rotate(94 206.3 2419.8)"/>
<ellipse cx="303.2" cy="2319.7" rx="2.9" ry="1.8" fill="#2436c8" opacity="0.79" transform="rotate(70 303.2 2319.7)"/>
<ellipse cx="102.1" cy="2256.5" rx="3.1" ry="1.0" fill="#2c3fd8" opacity="0.69" transform="rotate(1 102.1 2256.5)"/>
<ellipse cx="76.2" cy="2325.2" rx="2.6" ry="1.6" fill="#2c3fd8" opacity="0.75" transform="rotate(102 76.2 2325.2)"/>
<ellipse cx="254.4" cy="2372.9" rx="2.2" ry="1.5" fill="#5450c4" opacity="0.78" transform="rotate(137 254.4 2372.9)"/>
<ellipse cx="245.9" cy="2226.4" rx="3.4" ry="1.0" fill="#3d50e0" opacity="0.72" transform="rotate(117 245.9 2226.4)"/>
<ellipse cx="248.9" cy="2324.7" rx="1.9" ry="1.9" fill="#2436c8" opacity="0.85" transform="rotate(174 248.9 2324.7)"/>
<ellipse cx="160.6" cy="2306.7" rx="3.3" ry="1.5" fill="#3d50e0" opacity="0.71" transform="rotate(170 160.6 2306.7)"/>
<ellipse cx="208.1" cy="2433.2" rx="2.4" ry="1.7" fill="#2436c8" opacity="0.92" transform="rotate(70 208.1 2433.2)"/>
<ellipse cx="122.3" cy="2224.4" rx="2.9" ry="1.7" fill="#2c3fd8" opacity="0.72" transform="rotate(76 122.3 2224.4)"/>
<ellipse cx="197.6" cy="2390.5" rx="2.8" ry="1.4" fill="#5450c4" opacity="0.68" transform="rotate(96 197.6 2390.5)"/>
<ellipse cx="214.4" cy="2369.2" rx="2.2" ry="1.7" fill="#5450c4" opacity="0.78" transform="rotate(37 214.4 2369.2)"/>
<ellipse cx="66.6" cy="2396.8" rx="2.9" ry="1.8" fill="#2630b0" opacity="0.73" transform="rotate(42 66.6 2396.8)"/>
<ellipse cx="185.8" cy="2267.3" rx="3.4" ry="1.2" fill="#2630b0" opacity="0.83" transform="rotate(17 185.8 2267.3)"/>
<ellipse cx="156.2" cy="2334.8" rx="3.8" ry="1.3" fill="#2c3fd8" opacity="0.75" transform="rotate(8 156.2 2334.8)"/>
<ellipse cx="173.6" cy="2241.5" rx="2.2" ry="1.5" fill="#2c3fd8" opacity="0.61" transform="rotate(5 173.6 2241.5)"/>
<ellipse cx="274.8" cy="2430.5" rx="2.0" ry="1.1" fill="#2c3fd8" opacity="0.61" transform="rotate(7 274.8 2430.5)"/>
<ellipse cx="242.8" cy="2243.3" rx="1.8" ry="1.8" fill="#2630b0" opacity="0.76" transform="rotate(42 242.8 2243.3)"/>
<ellipse cx="324.0" cy="2271.5" rx="2.4" ry="1.8" fill="#2c3fd8" opacity="0.93" transform="rotate(46 324.0 2271.5)"/>
<ellipse cx="225.8" cy="2435.2" rx="3.3" ry="1.8" fill="#1f2aa0" opacity="0.90" transform="rotate(26 225.8 2435.2)"/>
<ellipse cx="209.6" cy="2318.6" rx="2.4" ry="1.3" fill="#3d50e0" opacity="0.79" transform="rotate(85 209.6 2318.6)"/>
<ellipse cx="89.6" cy="2275.1" rx="1.6" ry="1.6" fill="#2436c8" opacity="0.92" transform="rotate(122 89.6 2275.1)"/>
<ellipse cx="86.3" cy="2402.5" rx="2.4" ry="1.6" fill="#5450c4" opacity="0.98" transform="rotate(111 86.3 2402.5)"/>
<ellipse cx="305.3" cy="2306.5" rx="3.7" ry="1.2" fill="#2436c8" opacity="0.79" transform="rotate(14 305.3 2306.5)"/>
<ellipse cx="220.5" cy="2254.6" rx="3.2" ry="1.5" fill="#2436c8" opacity="0.78" transform="rotate(10 220.5 2254.6)"/>
<ellipse cx="84.1" cy="2313.6" rx="2.9" ry="1.2" fill="#2436c8" opacity="0.70" transform="rotate(5 84.1 2313.6)"/>
<ellipse cx="72.7" cy="2321.8" rx="2.7" ry="1.5" fill="#1f2aa0" opacity="0.97" transform="rotate(28 72.7 2321.8)"/>
<ellipse cx="201.1" cy="2403.0" rx="3.7" ry="1.3" fill="#3d50e0" opacity="1.00" transform="rotate(136 201.1 2403.0)"/>
<ellipse cx="305.1" cy="2244.9" rx="1.7" ry="1.6" fill="#3d50e0" opacity="0.66" transform="rotate(161 305.1 2244.9)"/>
<ellipse cx="223.8" cy="2318.7" rx="2.6" ry="1.7" fill="#2630b0" opacity="0.71" transform="rotate(92 223.8 2318.7)"/>
<ellipse cx="144.2" cy="2232.7" rx="2.0" ry="1.7" fill="#2630b0" opacity="0.91" transform="rotate(50 144.2 2232.7)"/>
<ellipse cx="244.3" cy="2266.2" rx="2.9" ry="1.4" fill="#3d50e0" opacity="0.67" transform="rotate(16 244.3 2266.2)"/>
<ellipse cx="80.6" cy="2367.6" rx="2.3" ry="0.9" fill="#1f2aa0" opacity="0.89" transform="rotate(35 80.6 2367.6)"/>
<ellipse cx="157.8" cy="2378.7" rx="2.3" ry="1.7" fill="#5450c4" opacity="0.64" transform="rotate(146 157.8 2378.7)"/>
<ellipse cx="158.2" cy="2387.5" rx="2.1" ry="1.5" fill="#3d50e0" opacity="0.61" transform="rotate(120 158.2 2387.5)"/>
<ellipse cx="61.9" cy="2300.4" rx="3.6" ry="1.7" fill="#5450c4" opacity="0.83" transform="rotate(149 61.9 2300.4)"/>
<ellipse cx="297.4" cy="2286.5" rx="2.6" ry="0.9" fill="#2630b0" opacity="0.65" transform="rotate(132 297.4 2286.5)"/>
<ellipse cx="223.0" cy="2323.4" rx="2.4" ry="1.0" fill="#2436c8" opacity="0.62" transform="rotate(80 223.0 2323.4)"/>
<ellipse cx="76.6" cy="2329.8" rx="1.9" ry="1.3" fill="#2436c8" opacity="0.82" transform="rotate(50 76.6 2329.8)"/>
<ellipse cx="173.2" cy="2309.0" rx="3.0" ry="1.6" fill="#2630b0" opacity="0.94" transform="rotate(3 173.2 2309.0)"/>
<ellipse cx="191.3" cy="2308.8" rx="2.3" ry="1.1" fill="#3d50e0" opacity="0.89" transform="rotate(140 191.3 2308.8)"/>
<ellipse cx="132.9" cy="2309.8" rx="1.9" ry="1.6" fill="#3d50e0" opacity="0.70" transform="rotate(58 132.9 2309.8)"/>
<ellipse cx="161.8" cy="2359.6" rx="1.8" ry="1.3" fill="#2630b0" opacity="0.87" transform="rotate(96 161.8 2359.6)"/>
<ellipse cx="105.8" cy="2314.2" rx="2.6" ry="0.9" fill="#2c3fd8" opacity="0.61" transform="rotate(180 105.8 2314.2)"/>
<ellipse cx="224.3" cy="2281.0" rx="2.8" ry="1.8" fill="#2630b0" opacity="0.64" transform="rotate(49 224.3 2281.0)"/>
<ellipse cx="76.3" cy="2226.9" rx="1.8" ry="1.2" fill="#2436c8" opacity="0.65" transform="rotate(7 76.3 2226.9)"/>
<ellipse cx="118.0" cy="2324.0" rx="1.9" ry="1.0" fill="#3d50e0" opacity="0.97" transform="rotate(27 118.0 2324.0)"/>
<ellipse cx="206.0" cy="2282.7" rx="2.2" ry="1.4" fill="#1f2aa0" opacity="0.83" transform="rotate(133 206.0 2282.7)"/>
<ellipse cx="226.8" cy="2267.1" rx="2.8" ry="1.5" fill="#5450c4" opacity="0.93" transform="rotate(83 226.8 2267.1)"/>
<ellipse cx="50.4" cy="2295.5" rx="3.7" ry="1.3" fill="#3d50e0" opacity="0.66" transform="rotate(98 50.4 2295.5)"/>
<ellipse cx="312.8" cy="2293.4" rx="3.5" ry="1.1" fill="#2c3fd8" opacity="0.91" transform="rotate(49 312.8 2293.4)"/>
<ellipse cx="166.9" cy="2237.3" rx="3.2" ry="1.0" fill="#2436c8" opacity="1.00" transform="rotate(79 166.9 2237.3)"/>
<ellipse cx="231.9" cy="2254.1" rx="2.2" ry="1.7" fill="#2c3fd8" opacity="0.90" transform="rotate(110 231.9 2254.1)"/>
<ellipse cx="77.8" cy="2410.6" rx="2.9" ry="1.4" fill="#2630b0" opacity="0.66" transform="rotate(138 77.8 2410.6)"/>
<ellipse cx="73.2" cy="2406.5" rx="2.4" ry="1.3" fill="#2630b0" opacity="0.82" transform="rotate(52 73.2 2406.5)"/>
<ellipse cx="151.1" cy="2293.0" rx="2.7" ry="1.3" fill="#2436c8" opacity="0.81" transform="rotate(153 151.1 2293.0)"/>
<ellipse cx="270.3" cy="2317.4" rx="3.4" ry="1.2" fill="#2630b0" opacity="0.94" transform="rotate(42 270.3 2317.4)"/>
<ellipse cx="300.9" cy="2226.3" rx="2.7" ry="1.8" fill="#3d50e0" opacity="0.82" transform="rotate(102 300.9 2226.3)"/>
<ellipse cx="236.8" cy="2307.5" rx="2.4" ry="1.8" fill="#1f2aa0" opacity="0.63" transform="rotate(107 236.8 2307.5)"/>
<ellipse cx="106.9" cy="2311.8" rx="3.6" ry="1.1" fill="#2436c8" opacity="0.99" transform="rotate(117 106.9 2311.8)"/>
<ellipse cx="180.2" cy="2318.3" rx="2.4" ry="1.4" fill="#2c3fd8" opacity="0.67" transform="rotate(179 180.2 2318.3)"/>
<ellipse cx="294.5" cy="2314.2" rx="2.7" ry="1.4" fill="#2436c8" opacity="0.76" transform="rotate(52 294.5 2314.2)"/>
<ellipse cx="58.7" cy="2345.1" rx="3.0" ry="1.6" fill="#1f2aa0" opacity="0.76" transform="rotate(103 58.7 2345.1)"/>
<ellipse cx="208.5" cy="2367.2" rx="2.8" ry="1.2" fill="#1f2aa0" opacity="0.96" transform="rotate(90 208.5 2367.2)"/>
<ellipse cx="188.1" cy="2254.8" rx="1.9" ry="1.4" fill="#2630b0" opacity="0.64" transform="rotate(108 188.1 2254.8)"/>
<ellipse cx="133.5" cy="2377.3" rx="2.2" ry="1.0" fill="#2630b0" opacity="0.63" transform="rotate(30 133.5 2377.3)"/>
<ellipse cx="96.2" cy="2357.7" rx="2.5" ry="1.7" fill="#2c3fd8" opacity="0.78" transform="rotate(40 96.2 2357.7)"/>
<ellipse cx="218.2" cy="2277.4" rx="3.5" ry="1.2" fill="#5450c4" opacity="0.72" transform="rotate(168 218.2 2277.4)"/>
<ellipse cx="312.1" cy="2276.1" rx="2.1" ry="1.2" fill="#1f2aa0" opacity="0.79" transform="rotate(129 312.1 2276.1)"/>
<ellipse cx="267.4" cy="2276.2" rx="2.0" ry="1.9" fill="#3d50e0" opacity="0.76" transform="rotate(65 267.4 2276.2)"/>
<ellipse cx="145.0" cy="2295.8" rx="3.0" ry="1.9" fill="#5450c4" opacity="0.93" transform="rotate(60 145.0 2295.8)"/>
<ellipse cx="141.6" cy="2276.5" rx="2.1" ry="0.9" fill="#1f2aa0" opacity="0.61" transform="rotate(51 141.6 2276.5)"/>
<ellipse cx="270.8" cy="2275.8" rx="2.8" ry="1.7" fill="#2630b0" opacity="0.78" transform="rotate(35 270.8 2275.8)"/>
<ellipse cx="279.8" cy="2396.5" rx="3.2" ry="1.3" fill="#2630b0" opacity="0.68" transform="rotate(64 279.8 2396.5)"/>
<ellipse cx="312.4" cy="2332.2" rx="1.9" ry="1.6" fill="#3d50e0" opacity="0.84" transform="rotate(81 312.4 2332.2)"/>
<ellipse cx="156.7" cy="2333.3" rx="3.1" ry="1.0" fill="#3d50e0" opacity="0.89" transform="rotate(135 156.7 2333.3)"/>
<ellipse cx="239.4" cy="2390.3" rx="3.6" ry="1.0" fill="#3d50e0" opacity="0.92" transform="rotate(34 239.4 2390.3)"/>
<ellipse cx="155.2" cy="2300.3" rx="3.0" ry="1.5" fill="#2436c8" opacity="0.97" transform="rotate(84 155.2 2300.3)"/>
<ellipse cx="238.4" cy="2416.2" rx="2.6" ry="1.9" fill="#5450c4" opacity="0.74" transform="rotate(127 238.4 2416.2)"/>
<ellipse cx="220.7" cy="2262.9" rx="3.2" ry="1.6" fill="#2c3fd8" opacity="0.76" transform="rotate(164 220.7 2262.9)"/>
<ellipse cx="214.9" cy="2316.3" rx="3.2" ry="1.5" fill="#1f2aa0" opacity="0.86" transform="rotate(28 214.9 2316.3)"/>
<ellipse cx="92.8" cy="2403.9" rx="2.2" ry="1.3" fill="#1f2aa0" opacity="0.83" transform="rotate(129 92.8 2403.9)"/>
<ellipse cx="235.6" cy="2232.0" rx="2.4" ry="1.8" fill="#5450c4" opacity="0.88" transform="rotate(140 235.6 2232.0)"/>
<ellipse cx="153.7" cy="2384.2" rx="1.8" ry="1.8" fill="#5450c4" opacity="0.78" transform="rotate(51 153.7 2384.2)"/>
<ellipse cx="138.5" cy="2331.8" rx="3.0" ry="1.4" fill="#1f2aa0" opacity="0.88" transform="rotate(151 138.5 2331.8)"/>
<ellipse cx="163.6" cy="2333.7" rx="3.3" ry="0.9" fill="#1f2aa0" opacity="0.93" transform="rotate(23 163.6 2333.7)"/>
<ellipse cx="200.8" cy="2261.4" rx="2.1" ry="1.2" fill="#2c3fd8" opacity="0.67" transform="rotate(141 200.8 2261.4)"/>
<ellipse cx="80.7" cy="2371.1" rx="3.2" ry="0.9" fill="#1f2aa0" opacity="0.78" transform="rotate(87 80.7 2371.1)"/>
<ellipse cx="308.1" cy="2299.3" rx="1.9" ry="1.5" fill="#3d50e0" opacity="0.85" transform="rotate(159 308.1 2299.3)"/>
<ellipse cx="280.7" cy="2311.0" rx="1.6" ry="1.4" fill="#2c3fd8" opacity="0.62" transform="rotate(124 280.7 2311.0)"/>
<ellipse cx="169.2" cy="2248.2" rx="2.4" ry="1.1" fill="#2c3fd8" opacity="0.62" transform="rotate(84 169.2 2248.2)"/>
<ellipse cx="175.0" cy="2434.0" rx="2.3" ry="1.6" fill="#3d50e0" opacity="0.64" transform="rotate(135 175.0 2434.0)"/>
<ellipse cx="180.8" cy="2317.1" rx="1.6" ry="1.8" fill="#1f2aa0" opacity="0.71" transform="rotate(98 180.8 2317.1)"/>
<ellipse cx="48.8" cy="2308.7" rx="3.7" ry="1.4" fill="#1f2aa0" opacity="0.67" transform="rotate(66 48.8 2308.7)"/>
<ellipse cx="132.8" cy="2303.0" rx="3.4" ry="1.1" fill="#2c3fd8" opacity="0.64" transform="rotate(66 132.8 2303.0)"/>
<ellipse cx="156.4" cy="2234.8" rx="3.2" ry="1.9" fill="#2630b0" opacity="0.83" transform="rotate(76 156.4 2234.8)"/>
<ellipse cx="64.5" cy="2371.4" rx="3.7" ry="1.0" fill="#2c3fd8" opacity="0.94" transform="rotate(80 64.5 2371.4)"/>
<ellipse cx="178.1" cy="2270.8" rx="2.9" ry="1.7" fill="#2630b0" opacity="0.77" transform="rotate(6 178.1 2270.8)"/>
<ellipse cx="122.3" cy="2365.8" rx="2.3" ry="1.3" fill="#1f2aa0" opacity="0.98" transform="rotate(76 122.3 2365.8)"/>
<ellipse cx="91.8" cy="2379.3" rx="3.4" ry="1.6" fill="#2630b0" opacity="0.68" transform="rotate(1 91.8 2379.3)"/>
<ellipse cx="215.1" cy="2287.7" rx="2.7" ry="1.5" fill="#3d50e0" opacity="0.95" transform="rotate(172 215.1 2287.7)"/>
<ellipse cx="192.7" cy="2359.8" rx="3.2" ry="1.6" fill="#2436c8" opacity="0.86" transform="rotate(40 192.7 2359.8)"/>
<ellipse cx="147.5" cy="2348.5" rx="2.8" ry="1.3" fill="#2c3fd8" opacity="0.69" transform="rotate(95 147.5 2348.5)"/>
<ellipse cx="104.6" cy="2403.4" rx="3.1" ry="1.6" fill="#2436c8" opacity="0.82" transform="rotate(34 104.6 2403.4)"/>
<ellipse cx="106.1" cy="2346.7" rx="2.9" ry="1.0" fill="#5450c4" opacity="0.87" transform="rotate(92 106.1 2346.7)"/>
<ellipse cx="269.5" cy="2252.8" rx="3.4" ry="1.8" fill="#1f2aa0" opacity="1.00" transform="rotate(91 269.5 2252.8)"/>
<ellipse cx="202.0" cy="2390.1" rx="1.7" ry="1.1" fill="#3d50e0" opacity="0.62" transform="rotate(140 202.0 2390.1)"/>
<ellipse cx="66.6" cy="2435.9" rx="3.2" ry="1.3" fill="#3d50e0" opacity="0.90" transform="rotate(21 66.6 2435.9)"/>
<ellipse cx="138.8" cy="2387.6" rx="1.9" ry="1.3" fill="#1f2aa0" opacity="0.81" transform="rotate(149 138.8 2387.6)"/>
<ellipse cx="143.3" cy="2328.8" rx="2.4" ry="1.2" fill="#2630b0" opacity="0.65" transform="rotate(64 143.3 2328.8)"/>
<ellipse cx="305.1" cy="2368.7" rx="2.6" ry="1.7" fill="#2630b0" opacity="0.78" transform="rotate(35 305.1 2368.7)"/>
<ellipse cx="266.9" cy="2328.6" rx="1.9" ry="1.8" fill="#1f2aa0" opacity="0.87" transform="rotate(47 266.9 2328.6)"/>
<ellipse cx="279.8" cy="2350.1" rx="3.3" ry="1.2" fill="#5450c4" opacity="0.61" transform="rotate(180 279.8 2350.1)"/>
<ellipse cx="139.1" cy="2256.3" rx="3.4" ry="0.9" fill="#2436c8" opacity="0.85" transform="rotate(157 139.1 2256.3)"/>
<ellipse cx="317.2" cy="2372.5" rx="3.7" ry="1.4" fill="#3d50e0" opacity="0.73" transform="rotate(41 317.2 2372.5)"/>
<ellipse cx="103.2" cy="2415.6" rx="2.0" ry="1.3" fill="#5450c4" opacity="0.73" transform="rotate(8 103.2 2415.6)"/>
<ellipse cx="175.0" cy="2424.9" rx="2.7" ry="1.1" fill="#2436c8" opacity="0.78" transform="rotate(60 175.0 2424.9)"/>
<ellipse cx="322.5" cy="2233.7" rx="2.2" ry="1.2" fill="#2630b0" opacity="1.00" transform="rotate(121 322.5 2233.7)"/>
<ellipse cx="143.2" cy="2346.9" rx="3.1" ry="1.8" fill="#2c3fd8" opacity="0.95" transform="rotate(25 143.2 2346.9)"/>
<ellipse cx="145.0" cy="2284.3" rx="3.7" ry="1.6" fill="#3d50e0" opacity="0.99" transform="rotate(157 145.0 2284.3)"/>
<ellipse cx="138.9" cy="2301.7" rx="3.5" ry="1.6" fill="#3d50e0" opacity="0.62" transform="rotate(44 138.9 2301.7)"/>
<ellipse cx="178.7" cy="2302.7" rx="2.4" ry="1.0" fill="#2c3fd8" opacity="0.96" transform="rotate(42 178.7 2302.7)"/>
<ellipse cx="232.8" cy="2310.8" rx="3.6" ry="1.5" fill="#2436c8" opacity="0.72" transform="rotate(139 232.8 2310.8)"/>
<ellipse cx="129.5" cy="2379.7" rx="2.3" ry="1.8" fill="#2630b0" opacity="0.97" transform="rotate(169 129.5 2379.7)"/>
<ellipse cx="208.2" cy="2289.2" rx="3.7" ry="1.6" fill="#1f2aa0" opacity="0.95" transform="rotate(84 208.2 2289.2)"/>
<ellipse cx="120.2" cy="2279.2" rx="2.2" ry="1.6" fill="#2436c8" opacity="0.62" transform="rotate(30 120.2 2279.2)"/>
<ellipse cx="169.2" cy="2415.3" rx="1.8" ry="1.1" fill="#2c3fd8" opacity="0.99" transform="rotate(90 169.2 2415.3)"/>
<ellipse cx="290.9" cy="2297.1" rx="2.8" ry="1.8" fill="#1f2aa0" opacity="0.73" transform="rotate(34 290.9 2297.1)"/>
<ellipse cx="309.4" cy="2411.2" rx="3.0" ry="1.2" fill="#5450c4" opacity="0.85" transform="rotate(57 309.4 2411.2)"/>
<ellipse cx="247.8" cy="2294.5" rx="1.9" ry="1.7" fill="#2c3fd8" opacity="0.74" transform="rotate(28 247.8 2294.5)"/>
<ellipse cx="144.6" cy="2297.7" rx="1.9" ry="1.9" fill="#2630b0" opacity="0.73" transform="rotate(156 144.6 2297.7)"/>
<ellipse cx="252.7" cy="2279.3" rx="3.3" ry="1.2" fill="#2630b0" opacity="0.99" transform="rotate(137 252.7 2279.3)"/>
<ellipse cx="170.7" cy="2283.6" rx="1.9" ry="0.9" fill="#5450c4" opacity="0.64" transform="rotate(169 170.7 2283.6)"/>
<ellipse cx="272.1" cy="2433.3" rx="2.5" ry="1.9" fill="#2c3fd8" opacity="0.85" transform="rotate(113 272.1 2433.3)"/>
<ellipse cx="76.4" cy="2340.4" rx="2.2" ry="1.5" fill="#1f2aa0" opacity="0.66" transform="rotate(140 76.4 2340.4)"/>
<ellipse cx="110.7" cy="2434.5" rx="2.4" ry="1.7" fill="#5450c4" opacity="0.68" transform="rotate(115 110.7 2434.5)"/>
<ellipse cx="233.6" cy="2299.2" rx="3.6" ry="1.3" fill="#1f2aa0" opacity="0.85" transform="rotate(68 233.6 2299.2)"/>
<ellipse cx="105.4" cy="2278.0" rx="2.1" ry="1.1" fill="#5450c4" opacity="0.86" transform="rotate(78 105.4 2278.0)"/>
<ellipse cx="126.6" cy="2437.1" rx="1.9" ry="1.8" fill="#3d50e0" opacity="0.98" transform="rotate(103 126.6 2437.1)"/>
<ellipse cx="80.5" cy="2288.3" rx="3.5" ry="1.1" fill="#3d50e0" opacity="0.87" transform="rotate(1 80.5 2288.3)"/>
<ellipse cx="211.8" cy="2321.1" rx="2.1" ry="1.8" fill="#3d50e0" opacity="0.62" transform="rotate(159 211.8 2321.1)"/>
<ellipse cx="262.0" cy="2318.1" rx="3.7" ry="1.6" fill="#2c3fd8" opacity="0.66" transform="rotate(25 262.0 2318.1)"/>
<ellipse cx="301.5" cy="2252.6" rx="2.4" ry="1.7" fill="#5450c4" opacity="0.87" transform="rotate(90 301.5 2252.6)"/>
<ellipse cx="107.6" cy="2316.3" rx="3.8" ry="1.2" fill="#2c3fd8" opacity="0.65" transform="rotate(4 107.6 2316.3)"/>
<ellipse cx="180.4" cy="2253.1" rx="3.1" ry="1.0" fill="#1f2aa0" opacity="0.82" transform="rotate(32 180.4 2253.1)"/>
<ellipse cx="284.6" cy="2432.3" rx="3.1" ry="0.9" fill="#3d50e0" opacity="0.63" transform="rotate(13 284.6 2432.3)"/>
<ellipse cx="53.9" cy="2333.0" rx="2.4" ry="0.9" fill="#1f2aa0" opacity="0.62" transform="rotate(100 53.9 2333.0)"/>
<ellipse cx="170.8" cy="2284.5" rx="3.8" ry="1.6" fill="#3d50e0" opacity="0.76" transform="rotate(74 170.8 2284.5)"/>
<ellipse cx="132.2" cy="2313.8" rx="2.4" ry="1.3" fill="#2436c8" opacity="0.96" transform="rotate(70 132.2 2313.8)"/>
<ellipse cx="222.4" cy="2275.2" rx="3.1" ry="1.6" fill="#2436c8" opacity="0.93" transform="rotate(178 222.4 2275.2)"/>
<ellipse cx="51.2" cy="2377.5" rx="3.1" ry="1.3" fill="#1f2aa0" opacity="0.73" transform="rotate(101 51.2 2377.5)"/>
<ellipse cx="284.7" cy="2333.3" rx="2.1" ry="1.5" fill="#1f2aa0" opacity="0.95" transform="rotate(179 284.7 2333.3)"/>
<ellipse cx="117.5" cy="2365.4" rx="3.4" ry="1.6" fill="#2630b0" opacity="0.91" transform="rotate(13 117.5 2365.4)"/>
<ellipse cx="140.6" cy="2350.3" rx="1.7" ry="1.7" fill="#3d50e0" opacity="0.81" transform="rotate(180 140.6 2350.3)"/>
<ellipse cx="191.8" cy="2398.3" rx="3.4" ry="1.4" fill="#1f2aa0" opacity="0.98" transform="rotate(31 191.8 2398.3)"/>
<ellipse cx="133.3" cy="2301.5" rx="2.5" ry="1.6" fill="#5450c4" opacity="0.64" transform="rotate(77 133.3 2301.5)"/>
<ellipse cx="143.2" cy="2396.1" rx="1.8" ry="1.3" fill="#5450c4" opacity="0.88" transform="rotate(82 143.2 2396.1)"/>
<ellipse cx="169.6" cy="2326.5" rx="1.9" ry="1.6" fill="#3d50e0" opacity="0.80" transform="rotate(137 169.6 2326.5)"/>
<ellipse cx="229.6" cy="2357.5" rx="2.2" ry="1.5" fill="#2c3fd8" opacity="0.83" transform="rotate(144 229.6 2357.5)"/>
<ellipse cx="119.8" cy="2293.4" rx="1.8" ry="1.5" fill="#2c3fd8" opacity="0.68" transform="rotate(150 119.8 2293.4)"/>
<ellipse cx="162.1" cy="2393.8" rx="1.7" ry="1.3" fill="#3d50e0" opacity="0.62" transform="rotate(67 162.1 2393.8)"/>
<ellipse cx="214.6" cy="2279.0" rx="1.9" ry="1.5" fill="#1f2aa0" opacity="0.83" transform="rotate(153 214.6 2279.0)"/>
<ellipse cx="64.4" cy="2319.5" rx="3.7" ry="1.5" fill="#2c3fd8" opacity="0.64" transform="rotate(75 64.4 2319.5)"/>
<ellipse cx="165.8" cy="2437.2" rx="2.5" ry="1.0" fill="#2c3fd8" opacity="0.87" transform="rotate(12 165.8 2437.2)"/>
<ellipse cx="252.5" cy="2310.1" rx="2.8" ry="1.7" fill="#5450c4" opacity="0.65" transform="rotate(122 252.5 2310.1)"/>
<ellipse cx="244.1" cy="2327.5" rx="2.5" ry="1.5" fill="#5450c4" opacity="0.93" transform="rotate(124 244.1 2327.5)"/>
<ellipse cx="289.9" cy="2255.2" rx="1.6" ry="1.9" fill="#3d50e0" opacity="0.81" transform="rotate(93 289.9 2255.2)"/>
<ellipse cx="126.7" cy="2308.6" rx="2.3" ry="1.1" fill="#5450c4" opacity="0.92" transform="rotate(123 126.7 2308.6)"/>
<ellipse cx="285.6" cy="2279.1" rx="2.8" ry="1.3" fill="#5450c4" opacity="0.86" transform="rotate(9 285.6 2279.1)"/>
<ellipse cx="138.9" cy="2321.8" rx="3.2" ry="0.9" fill="#2c3fd8" opacity="0.76" transform="rotate(120 138.9 2321.8)"/>
<ellipse cx="202.5" cy="2293.3" rx="2.2" ry="1.6" fill="#2630b0" opacity="0.84" transform="rotate(143 202.5 2293.3)"/>
<ellipse cx="157.2" cy="2380.0" rx="2.0" ry="1.8" fill="#2c3fd8" opacity="0.62" transform="rotate(37 157.2 2380.0)"/>
<ellipse cx="92.9" cy="2421.7" rx="2.7" ry="1.6" fill="#1f2aa0" opacity="0.90" transform="rotate(144 92.9 2421.7)"/>
<ellipse cx="270.0" cy="2338.5" rx="3.2" ry="1.4" fill="#5450c4" opacity="0.64" transform="rotate(140 270.0 2338.5)"/>
<ellipse cx="236.9" cy="2257.2" rx="1.7" ry="1.7" fill="#3d50e0" opacity="0.90" transform="rotate(125 236.9 2257.2)"/>
<ellipse cx="246.5" cy="2290.3" rx="2.1" ry="1.8" fill="#1f2aa0" opacity="0.99" transform="rotate(99 246.5 2290.3)"/>
<ellipse cx="153.1" cy="2231.1" rx="2.1" ry="1.4" fill="#2c3fd8" opacity="0.68" transform="rotate(115 153.1 2231.1)"/>
<ellipse cx="155.9" cy="2232.3" rx="2.1" ry="1.6" fill="#2630b0" opacity="0.81" transform="rotate(118 155.9 2232.3)"/>
<ellipse cx="124.4" cy="2298.6" rx="3.6" ry="1.0" fill="#5450c4" opacity="0.71" transform="rotate(89 124.4 2298.6)"/>
<ellipse cx="127.9" cy="2349.1" rx="2.6" ry="1.7" fill="#2436c8" opacity="0.83" transform="rotate(36 127.9 2349.1)"/>
<ellipse cx="127.0" cy="2348.3" rx="2.0" ry="1.1" fill="#3d50e0" opacity="0.62" transform="rotate(0 127.0 2348.3)"/>
<ellipse cx="136.5" cy="2320.4" rx="2.0" ry="1.7" fill="#3d50e0" opacity="0.92" transform="rotate(134 136.5 2320.4)"/>
<ellipse cx="159.2" cy="2373.3" rx="1.8" ry="1.6" fill="#1f2aa0" opacity="0.67" transform="rotate(151 159.2 2373.3)"/>
<ellipse cx="89.9" cy="2425.8" rx="3.5" ry="1.4" fill="#2436c8" opacity="0.70" transform="rotate(152 89.9 2425.8)"/>
<ellipse cx="118.6" cy="2339.9" rx="2.9" ry="0.9" fill="#3d50e0" opacity="0.75" transform="rotate(44 118.6 2339.9)"/>
<ellipse cx="97.9" cy="2310.5" rx="2.1" ry="1.8" fill="#2630b0" opacity="0.70" transform="rotate(23 97.9 2310.5)"/>
<ellipse cx="68.7" cy="2246.7" rx="3.1" ry="1.1" fill="#1f2aa0" opacity="0.69" transform="rotate(143 68.7 2246.7)"/>
<ellipse cx="255.2" cy="2256.9" rx="2.5" ry="1.4" fill="#3d50e0" opacity="0.83" transform="rotate(6 255.2 2256.9)"/>
<ellipse cx="76.0" cy="2366.3" rx="3.3" ry="1.4" fill="#2c3fd8" opacity="0.93" transform="rotate(44 76.0 2366.3)"/>
<ellipse cx="62.4" cy="2296.3" rx="3.3" ry="1.1" fill="#3d50e0" opacity="0.74" transform="rotate(39 62.4 2296.3)"/>
<ellipse cx="44.7" cy="2425.5" rx="1.8" ry="1.1" fill="#1f2aa0" opacity="0.80" transform="rotate(73 44.7 2425.5)"/>
<ellipse cx="89.2" cy="2394.9" rx="3.6" ry="1.6" fill="#1f2aa0" opacity="0.99" transform="rotate(37 89.2 2394.9)"/>
<ellipse cx="255.6" cy="2360.4" rx="3.5" ry="1.7" fill="#2c3fd8" opacity="0.86" transform="rotate(113 255.6 2360.4)"/>
<ellipse cx="181.9" cy="2389.5" rx="3.1" ry="1.2" fill="#2c3fd8" opacity="0.90" transform="rotate(47 181.9 2389.5)"/>
<ellipse cx="165.6" cy="2400.8" rx="2.3" ry="1.9" fill="#2630b0" opacity="0.86" transform="rotate(157 165.6 2400.8)"/>
<ellipse cx="110.0" cy="2349.9" rx="2.9" ry="1.8" fill="#1f2aa0" opacity="0.62" transform="rotate(158 110.0 2349.9)"/>
<ellipse cx="230.6" cy="2308.6" rx="2.4" ry="1.3" fill="#2c3fd8" opacity="0.69" transform="rotate(139 230.6 2308.6)"/>
<ellipse cx="299.1" cy="2315.4" rx="2.9" ry="1.9" fill="#5450c4" opacity="0.77" transform="rotate(54 299.1 2315.4)"/>
<ellipse cx="213.8" cy="2322.0" rx="2.4" ry="1.7" fill="#2630b0" opacity="0.61" transform="rotate(38 213.8 2322.0)"/>
<ellipse cx="137.2" cy="2436.7" rx="2.5" ry="1.4" fill="#2436c8" opacity="0.65" transform="rotate(160 137.2 2436.7)"/>
<ellipse cx="215.4" cy="2415.6" rx="3.7" ry="1.4" fill="#2630b0" opacity="0.68" transform="rotate(90 215.4 2415.6)"/>
<ellipse cx="171.1" cy="2397.5" rx="1.8" ry="1.5" fill="#2630b0" opacity="0.87" transform="rotate(63 171.1 2397.5)"/>
<ellipse cx="80.1" cy="2385.4" rx="2.7" ry="1.2" fill="#3d50e0" opacity="0.98" transform="rotate(75 80.1 2385.4)"/>
<ellipse cx="144.6" cy="2365.7" rx="2.7" ry="1.6" fill="#1f2aa0" opacity="0.80" transform="rotate(68 144.6 2365.7)"/>
<ellipse cx="145.2" cy="2433.2" rx="3.1" ry="1.5" fill="#5450c4" opacity="0.72" transform="rotate(150 145.2 2433.2)"/>
<ellipse cx="187.6" cy="2256.6" rx="3.7" ry="1.4" fill="#2c3fd8" opacity="0.98" transform="rotate(83 187.6 2256.6)"/>
<ellipse cx="205.9" cy="2234.0" rx="3.0" ry="1.2" fill="#2436c8" opacity="0.72" transform="rotate(135 205.9 2234.0)"/>
<ellipse cx="238.4" cy="2283.5" rx="3.4" ry="1.7" fill="#3d50e0" opacity="0.96" transform="rotate(104 238.4 2283.5)"/>
<ellipse cx="98.8" cy="2397.0" rx="2.7" ry="1.6" fill="#2c3fd8" opacity="0.83" transform="rotate(55 98.8 2397.0)"/>
<ellipse cx="318.3" cy="2390.5" rx="2.2" ry="1.8" fill="#5450c4" opacity="0.68" transform="rotate(125 318.3 2390.5)"/>
<ellipse cx="133.0" cy="2317.9" rx="2.5" ry="1.3" fill="#5450c4" opacity="0.71" transform="rotate(47 133.0 2317.9)"/>
<ellipse cx="99.7" cy="2418.8" rx="3.0" ry="1.7" fill="#3d50e0" opacity="0.62" transform="rotate(151 99.7 2418.8)"/>
<ellipse cx="121.0" cy="2338.8" rx="2.5" ry="1.0" fill="#5450c4" opacity="0.75" transform="rotate(153 121.0 2338.8)"/>
<ellipse cx="302.9" cy="2337.4" rx="2.2" ry="1.7" fill="#2c3fd8" opacity="0.81" transform="rotate(113 302.9 2337.4)"/>
<ellipse cx="240.4" cy="2289.5" rx="3.8" ry="1.8" fill="#2630b0" opacity="0.64" transform="rotate(65 240.4 2289.5)"/>
<ellipse cx="91.8" cy="2378.9" rx="2.5" ry="1.7" fill="#1f2aa0" opacity="0.94" transform="rotate(21 91.8 2378.9)"/>
<ellipse cx="155.5" cy="2331.1" rx="3.2" ry="1.0" fill="#1f2aa0" opacity="0.81" transform="rotate(156 155.5 2331.1)"/>
<ellipse cx="232.2" cy="2417.2" rx="1.7" ry="1.3" fill="#2630b0" opacity="0.60" transform="rotate(61 232.2 2417.2)"/>
<ellipse cx="205.0" cy="2274.5" rx="3.2" ry="1.7" fill="#1f2aa0" opacity="0.92" transform="rotate(39 205.0 2274.5)"/>
<ellipse cx="226.4" cy="2412.3" rx="3.1" ry="1.5" fill="#3d50e0" opacity="0.88" transform="rotate(127 226.4 2412.3)"/>
<ellipse cx="261.3" cy="2353.6" rx="3.6" ry="1.2" fill="#3d50e0" opacity="0.87" transform="rotate(109 261.3 2353.6)"/>
<ellipse cx="319.2" cy="2395.9" rx="1.8" ry="1.7" fill="#3d50e0" opacity="0.69" transform="rotate(126 319.2 2395.9)"/>
<ellipse cx="172.0" cy="2387.7" rx="3.7" ry="1.5" fill="#2630b0" opacity="0.92" transform="rotate(91 172.0 2387.7)"/>
<ellipse cx="52.9" cy="2401.3" rx="3.0" ry="1.2" fill="#3d50e0" opacity="0.81" transform="rotate(40 52.9 2401.3)"/>
<ellipse cx="107.2" cy="2343.3" rx="3.7" ry="1.5" fill="#1f2aa0" opacity="0.61" transform="rotate(51 107.2 2343.3)"/>
<ellipse cx="247.9" cy="2349.3" rx="2.9" ry="1.1" fill="#2c3fd8" opacity="0.92" transform="rotate(92 247.9 2349.3)"/>
<ellipse cx="61.9" cy="2326.4" rx="3.1" ry="1.6" fill="#5450c4" opacity="0.68" transform="rotate(82 61.9 2326.4)"/>
<ellipse cx="216.9" cy="2248.0" rx="1.8" ry="1.8" fill="#2c3fd8" opacity="0.78" transform="rotate(137 216.9 2248.0)"/>
<ellipse cx="97.9" cy="2374.8" rx="2.8" ry="1.6" fill="#3d50e0" opacity="0.90" transform="rotate(48 97.9 2374.8)"/>
<ellipse cx="246.5" cy="2237.4" rx="3.5" ry="1.6" fill="#1f2aa0" opacity="0.82" transform="rotate(2 246.5 2237.4)"/>
<ellipse cx="200.4" cy="2358.5" rx="2.4" ry="1.0" fill="#1f2aa0" opacity="0.67" transform="rotate(57 200.4 2358.5)"/>
<ellipse cx="171.2" cy="2245.9" rx="3.3" ry="1.4" fill="#2c3fd8" opacity="0.96" transform="rotate(28 171.2 2245.9)"/>
<ellipse cx="186.3" cy="2268.9" rx="3.6" ry="1.6" fill="#2630b0" opacity="0.77" transform="rotate(4 186.3 2268.9)"/>
<ellipse cx="281.2" cy="2252.7" rx="2.9" ry="1.3" fill="#2c3fd8" opacity="0.93" transform="rotate(39 281.2 2252.7)"/>
<ellipse cx="286.1" cy="2296.5" rx="3.3" ry="1.8" fill="#2c3fd8" opacity="0.70" transform="rotate(83 286.1 2296.5)"/>
<ellipse cx="299.6" cy="2306.0" rx="1.9" ry="1.1" fill="#5450c4" opacity="0.83" transform="rotate(106 299.6 2306.0)"/>
<ellipse cx="175.3" cy="2412.7" rx="2.7" ry="1.3" fill="#1f2aa0" opacity="0.70" transform="rotate(21 175.3 2412.7)"/>
<ellipse cx="252.8" cy="2232.2" rx="3.4" ry="0.9" fill="#2c3fd8" opacity="0.76" transform="rotate(176 252.8 2232.2)"/>
<ellipse cx="159.4" cy="2232.9" rx="3.7" ry="1.7" fill="#1f2aa0" opacity="0.64" transform="rotate(86 159.4 2232.9)"/>
<ellipse cx="82.4" cy="2337.4" rx="2.7" ry="1.9" fill="#5450c4" opacity="0.97" transform="rotate(58 82.4 2337.4)"/>
<ellipse cx="275.5" cy="2331.7" rx="3.4" ry="1.0" fill="#2c3fd8" opacity="0.86" transform="rotate(107 275.5 2331.7)"/>
<ellipse cx="216.8" cy="2322.0" rx="2.1" ry="1.1" fill="#2630b0" opacity="0.92" transform="rotate(101 216.8 2322.0)"/>
<ellipse cx="100.6" cy="2315.9" rx="2.8" ry="1.3" fill="#2c3fd8" opacity="0.64" transform="rotate(176 100.6 2315.9)"/>
<ellipse cx="125.8" cy="2329.9" rx="2.0" ry="1.0" fill="#2c3fd8" opacity="0.65" transform="rotate(60 125.8 2329.9)"/>
<ellipse cx="238.8" cy="2352.3" rx="2.5" ry="1.5" fill="#1f2aa0" opacity="0.68" transform="rotate(82 238.8 2352.3)"/>
<ellipse cx="257.6" cy="2385.2" rx="1.7" ry="1.6" fill="#1f2aa0" opacity="0.87" transform="rotate(4 257.6 2385.2)"/>
<ellipse cx="92.8" cy="2426.0" rx="2.2" ry="1.2" fill="#3d50e0" opacity="0.61" transform="rotate(127 92.8 2426.0)"/>
<ellipse cx="150.5" cy="2258.7" rx="3.0" ry="1.4" fill="#2630b0" opacity="0.93" transform="rotate(170 150.5 2258.7)"/>
<ellipse cx="324.8" cy="2385.3" rx="2.5" ry="0.9" fill="#2436c8" opacity="0.82" transform="rotate(45 324.8 2385.3)"/>
<ellipse cx="143.2" cy="2398.9" rx="2.1" ry="1.2" fill="#2c3fd8" opacity="0.81" transform="rotate(139 143.2 2398.9)"/>
<ellipse cx="71.5" cy="2400.9" rx="2.4" ry="1.4" fill="#5450c4" opacity="0.66" transform="rotate(113 71.5 2400.9)"/>
<ellipse cx="192.8" cy="2363.3" rx="2.5" ry="1.8" fill="#1f2aa0" opacity="0.91" transform="rotate(169 192.8 2363.3)"/>
<ellipse cx="221.4" cy="2362.8" rx="3.5" ry="1.6" fill="#5450c4" opacity="0.89" transform="rotate(136 221.4 2362.8)"/>
<ellipse cx="256.1" cy="2277.3" rx="3.1" ry="1.1" fill="#3d50e0" opacity="0.85" transform="rotate(5 256.1 2277.3)"/>
<ellipse cx="228.4" cy="2382.7" rx="1.7" ry="1.3" fill="#2c3fd8" opacity="0.63" transform="rotate(12 228.4 2382.7)"/>
<ellipse cx="317.7" cy="2371.3" rx="2.0" ry="1.0" fill="#3d50e0" opacity="0.76" transform="rotate(138 317.7 2371.3)"/>
<ellipse cx="291.7" cy="2408.6" rx="2.1" ry="1.3" fill="#2436c8" opacity="0.64" transform="rotate(58 291.7 2408.6)"/>
<ellipse cx="101.1" cy="2299.2" rx="3.5" ry="1.0" fill="#2c3fd8" opacity="0.66" transform="rotate(112 101.1 2299.2)"/>
<ellipse cx="229.4" cy="2349.8" rx="1.9" ry="1.0" fill="#2c3fd8" opacity="0.75" transform="rotate(33 229.4 2349.8)"/>
<ellipse cx="227.4" cy="2346.1" rx="1.6" ry="1.8" fill="#2436c8" opacity="0.97" transform="rotate(12 227.4 2346.1)"/>
<ellipse cx="142.8" cy="2340.2" rx="3.2" ry="1.3" fill="#2436c8" opacity="0.81" transform="rotate(66 142.8 2340.2)"/>
<ellipse cx="122.8" cy="2305.6" rx="2.0" ry="1.1" fill="#5450c4" opacity="0.94" transform="rotate(40 122.8 2305.6)"/>
<ellipse cx="110.2" cy="2415.3" rx="1.8" ry="1.3" fill="#3d50e0" opacity="0.69" transform="rotate(1 110.2 2415.3)"/>
<ellipse cx="50.0" cy="2317.9" rx="3.2" ry="1.0" fill="#2c3fd8" opacity="0.79" transform="rotate(83 50.0 2317.9)"/>
<ellipse cx="304.5" cy="2419.0" rx="2.0" ry="1.2" fill="#5450c4" opacity="0.79" transform="rotate(11 304.5 2419.0)"/>
<ellipse cx="308.3" cy="2342.9" rx="3.2" ry="1.5" fill="#5450c4" opacity="0.64" transform="rotate(40 308.3 2342.9)"/>
<ellipse cx="310.4" cy="2336.5" rx="3.5" ry="1.1" fill="#2c3fd8" opacity="0.79" transform="rotate(31 310.4 2336.5)"/>
<ellipse cx="79.1" cy="2396.9" rx="2.2" ry="1.7" fill="#2c3fd8" opacity="0.65" transform="rotate(18 79.1 2396.9)"/>
<ellipse cx="321.9" cy="2327.2" rx="3.0" ry="1.4" fill="#2c3fd8" opacity="0.86" transform="rotate(2 321.9 2327.2)"/>
<ellipse cx="261.6" cy="2366.4" rx="2.5" ry="1.8" fill="#3d50e0" opacity="0.90" transform="rotate(66 261.6 2366.4)"/>
<ellipse cx="298.4" cy="2241.6" rx="2.6" ry="1.0" fill="#2436c8" opacity="0.72" transform="rotate(6 298.4 2241.6)"/>
<ellipse cx="131.0" cy="2266.7" rx="2.0" ry="1.3" fill="#5450c4" opacity="0.69" transform="rotate(5 131.0 2266.7)"/>
<ellipse cx="177.5" cy="2333.6" rx="3.8" ry="1.5" fill="#2436c8" opacity="0.68" transform="rotate(89 177.5 2333.6)"/>
<ellipse cx="175.6" cy="2290.4" rx="3.7" ry="1.7" fill="#2c3fd8" opacity="0.76" transform="rotate(49 175.6 2290.4)"/>
<ellipse cx="139.3" cy="2367.3" rx="2.0" ry="1.7" fill="#2c3fd8" opacity="0.66" transform="rotate(67 139.3 2367.3)"/>
<ellipse cx="272.8" cy="2354.0" rx="2.5" ry="1.2" fill="#2630b0" opacity="0.65" transform="rotate(99 272.8 2354.0)"/>
<ellipse cx="315.1" cy="2256.0" rx="2.9" ry="1.8" fill="#2c3fd8" opacity="0.67" transform="rotate(94 315.1 2256.0)"/>
<ellipse cx="266.6" cy="2278.3" rx="1.9" ry="1.6" fill="#1f2aa0" opacity="0.76" transform="rotate(40 266.6 2278.3)"/>
<ellipse cx="56.3" cy="2420.0" rx="2.2" ry="1.2" fill="#2436c8" opacity="0.95" transform="rotate(3 56.3 2420.0)"/>
<ellipse cx="161.2" cy="2337.4" rx="3.0" ry="1.4" fill="#2c3fd8" opacity="0.78" transform="rotate(145 161.2 2337.4)"/>
<ellipse cx="183.9" cy="2337.7" rx="2.7" ry="1.5" fill="#5450c4" opacity="0.63" transform="rotate(67 183.9 2337.7)"/>
<ellipse cx="297.2" cy="2346.2" rx="2.2" ry="1.1" fill="#3d50e0" opacity="0.98" transform="rotate(125 297.2 2346.2)"/>
<ellipse cx="114.9" cy="2400.2" rx="3.1" ry="1.1" fill="#3d50e0" opacity="0.92" transform="rotate(10 114.9 2400.2)"/>
<ellipse cx="243.6" cy="2362.8" rx="3.3" ry="1.1" fill="#5450c4" opacity="0.64" transform="rotate(173 243.6 2362.8)"/>
<ellipse cx="318.1" cy="2340.3" rx="3.2" ry="1.3" fill="#1f2aa0" opacity="0.74" transform="rotate(24 318.1 2340.3)"/>
<ellipse cx="230.5" cy="2388.3" rx="2.1" ry="1.2" fill="#2c3fd8" opacity="0.80" transform="rotate(40 230.5 2388.3)"/>
<ellipse cx="293.5" cy="2356.0" rx="2.6" ry="1.2" fill="#2630b0" opacity="0.74" transform="rotate(85 293.5 2356.0)"/>
<ellipse cx="242.2" cy="2317.7" rx="1.6" ry="1.6" fill="#2436c8" opacity="0.76" transform="rotate(87 242.2 2317.7)"/>
<ellipse cx="75.0" cy="2358.9" rx="2.0" ry="1.1" fill="#2630b0" opacity="0.99" transform="rotate(99 75.0 2358.9)"/>
<ellipse cx="97.5" cy="2388.2" rx="3.4" ry="1.5" fill="#1f2aa0" opacity="0.95" transform="rotate(46 97.5 2388.2)"/>
<ellipse cx="209.3" cy="2266.5" rx="3.2" ry="1.2" fill="#2c3fd8" opacity="0.92" transform="rotate(96 209.3 2266.5)"/>
<ellipse cx="280.0" cy="2242.4" rx="2.0" ry="1.8" fill="#2436c8" opacity="0.61" transform="rotate(31 280.0 2242.4)"/>
<ellipse cx="83.9" cy="2295.9" rx="2.5" ry="1.4" fill="#3d50e0" opacity="0.73" transform="rotate(58 83.9 2295.9)"/>
<ellipse cx="305.7" cy="2280.6" rx="1.7" ry="1.9" fill="#2436c8" opacity="0.92" transform="rotate(11 305.7 2280.6)"/>
<ellipse cx="249.2" cy="2297.2" rx="3.6" ry="1.5" fill="#2c3fd8" opacity="0.90" transform="rotate(34 249.2 2297.2)"/>
<ellipse cx="280.5" cy="2314.6" rx="2.3" ry="1.0" fill="#5450c4" opacity="0.64" transform="rotate(3 280.5 2314.6)"/>
<ellipse cx="270.6" cy="2393.6" rx="3.1" ry="1.5" fill="#2436c8" opacity="0.61" transform="rotate(17 270.6 2393.6)"/>
<ellipse cx="171.8" cy="2384.9" rx="2.3" ry="1.0" fill="#2436c8" opacity="0.89" transform="rotate(94 171.8 2384.9)"/>
<ellipse cx="115.9" cy="2257.7" rx="3.4" ry="1.6" fill="#1f2aa0" opacity="0.92" transform="rotate(139 115.9 2257.7)"/>
<ellipse cx="129.8" cy="2291.6" rx="2.9" ry="1.0" fill="#2c3fd8" opacity="0.73" transform="rotate(10 129.8 2291.6)"/>
<ellipse cx="111.4" cy="2230.5" rx="3.2" ry="1.8" fill="#1f2aa0" opacity="0.89" transform="rotate(141 111.4 2230.5)"/>
<ellipse cx="192.3" cy="2390.2" rx="2.5" ry="1.4" fill="#3d50e0" opacity="0.92" transform="rotate(13 192.3 2390.2)"/>
<ellipse cx="187.9" cy="2320.4" rx="2.5" ry="1.6" fill="#2630b0" opacity="0.78" transform="rotate(169 187.9 2320.4)"/>
<ellipse cx="218.0" cy="2288.3" rx="3.3" ry="1.3" fill="#2c3fd8" opacity="0.66" transform="rotate(135 218.0 2288.3)"/>
<ellipse cx="192.6" cy="2374.0" rx="2.9" ry="1.3" fill="#2436c8" opacity="0.67" transform="rotate(147 192.6 2374.0)"/>
<ellipse cx="259.5" cy="2315.2" rx="2.1" ry="1.9" fill="#2c3fd8" opacity="0.64" transform="rotate(22 259.5 2315.2)"/>
<ellipse cx="151.7" cy="2272.5" rx="3.3" ry="1.3" fill="#2436c8" opacity="0.89" transform="rotate(146 151.7 2272.5)"/>
<ellipse cx="72.1" cy="2398.3" rx="2.2" ry="1.4" fill="#1f2aa0" opacity="0.66" transform="rotate(45 72.1 2398.3)"/>
<ellipse cx="285.0" cy="2292.8" rx="2.4" ry="1.1" fill="#5450c4" opacity="0.62" transform="rotate(134 285.0 2292.8)"/>
<ellipse cx="265.9" cy="2278.5" rx="3.8" ry="1.1" fill="#3d50e0" opacity="0.93" transform="rotate(7 265.9 2278.5)"/>
<ellipse cx="117.4" cy="2302.4" rx="2.4" ry="1.0" fill="#2436c8" opacity="0.61" transform="rotate(64 117.4 2302.4)"/>
<ellipse cx="185.3" cy="2293.8" rx="2.1" ry="1.6" fill="#1f2aa0" opacity="0.93" transform="rotate(55 185.3 2293.8)"/>
<ellipse cx="55.3" cy="2410.5" rx="2.3" ry="1.7" fill="#1f2aa0" opacity="0.95" transform="rotate(82 55.3 2410.5)"/>
<ellipse cx="102.6" cy="2297.0" rx="2.3" ry="0.9" fill="#2c3fd8" opacity="0.69" transform="rotate(18 102.6 2297.0)"/>
<ellipse cx="98.1" cy="2323.0" rx="3.7" ry="1.2" fill="#1f2aa0" opacity="0.95" transform="rotate(144 98.1 2323.0)"/>
<ellipse cx="205.9" cy="2292.3" rx="3.2" ry="1.3" fill="#2c3fd8" opacity="0.84" transform="rotate(151 205.9 2292.3)"/>
<ellipse cx="325.8" cy="2416.0" rx="1.6" ry="1.9" fill="#2436c8" opacity="0.68" transform="rotate(80 325.8 2416.0)"/>
<ellipse cx="144.8" cy="2301.9" rx="1.9" ry="1.8" fill="#2c3fd8" opacity="0.78" transform="rotate(125 144.8 2301.9)"/>
<ellipse cx="203.7" cy="2229.1" rx="2.0" ry="1.2" fill="#2630b0" opacity="0.92" transform="rotate(180 203.7 2229.1)"/>
<ellipse cx="143.2" cy="2271.6" rx="2.1" ry="1.8" fill="#1f2aa0" opacity="0.77" transform="rotate(144 143.2 2271.6)"/>
<ellipse cx="150.0" cy="2376.1" rx="2.3" ry="1.2" fill="#1f2aa0" opacity="0.99" transform="rotate(36 150.0 2376.1)"/>
<ellipse cx="181.5" cy="2385.2" rx="2.9" ry="1.3" fill="#2630b0" opacity="0.96" transform="rotate(157 181.5 2385.2)"/>
<ellipse cx="244.5" cy="2270.1" rx="2.1" ry="1.1" fill="#5450c4" opacity="0.92" transform="rotate(28 244.5 2270.1)"/>
<ellipse cx="162.3" cy="2353.0" rx="2.5" ry="1.4" fill="#5450c4" opacity="0.62" transform="rotate(50 162.3 2353.0)"/>
<ellipse cx="88.7" cy="2391.8" rx="3.4" ry="1.1" fill="#2436c8" opacity="0.96" transform="rotate(42 88.7 2391.8)"/>
<ellipse cx="99.1" cy="2349.5" rx="3.2" ry="1.6" fill="#3d50e0" opacity="0.93" transform="rotate(135 99.1 2349.5)"/>
<ellipse cx="162.5" cy="2333.5" rx="3.5" ry="1.8" fill="#2630b0" opacity="0.87" transform="rotate(0 162.5 2333.5)"/>
<ellipse cx="82.1" cy="2322.6" rx="2.3" ry="1.7" fill="#2436c8" opacity="1.00" transform="rotate(180 82.1 2322.6)"/>
<ellipse cx="106.4" cy="2410.3" rx="2.3" ry="1.5" fill="#5450c4" opacity="0.63" transform="rotate(78 106.4 2410.3)"/>
<ellipse cx="96.6" cy="2291.7" rx="2.7" ry="1.3" fill="#2630b0" opacity="0.79" transform="rotate(33 96.6 2291.7)"/>
<ellipse cx="310.7" cy="2325.0" rx="1.9" ry="1.1" fill="#2c3fd8" opacity="0.74" transform="rotate(107 310.7 2325.0)"/>
<ellipse cx="150.8" cy="2238.9" rx="2.3" ry="1.6" fill="#5450c4" opacity="0.86" transform="rotate(132 150.8 2238.9)"/>
<ellipse cx="174.1" cy="2402.9" rx="3.3" ry="1.4" fill="#2630b0" opacity="0.85" transform="rotate(7 174.1 2402.9)"/>
<ellipse cx="303.7" cy="2310.1" rx="2.8" ry="1.6" fill="#1f2aa0" opacity="0.60" transform="rotate(54 303.7 2310.1)"/>
<ellipse cx="155.2" cy="2294.0" rx="3.4" ry="1.1" fill="#2630b0" opacity="0.76" transform="rotate(40 155.2 2294.0)"/>
<ellipse cx="269.6" cy="2229.7" rx="2.7" ry="1.3" fill="#2c3fd8" opacity="0.74" transform="rotate(86 269.6 2229.7)"/>
<ellipse cx="177.4" cy="2295.3" rx="3.3" ry="1.2" fill="#3d50e0" opacity="0.92" transform="rotate(110 177.4 2295.3)"/>
<ellipse cx="60.7" cy="2397.7" rx="3.6" ry="1.2" fill="#5450c4" opacity="0.66" transform="rotate(2 60.7 2397.7)"/>
<ellipse cx="238.1" cy="2228.7" rx="3.4" ry="1.0" fill="#2436c8" opacity="0.69" transform="rotate(11 238.1 2228.7)"/>
<ellipse cx="299.9" cy="2247.0" rx="3.7" ry="1.7" fill="#2436c8" opacity="0.77" transform="rotate(99 299.9 2247.0)"/>
<ellipse cx="52.4" cy="2236.0" rx="3.2" ry="1.5" fill="#2c3fd8" opacity="0.79" transform="rotate(4 52.4 2236.0)"/>
<ellipse cx="309.7" cy="2266.4" rx="2.3" ry="1.3" fill="#5450c4" opacity="0.69" transform="rotate(154 309.7 2266.4)"/>
<ellipse cx="141.6" cy="2382.0" rx="3.1" ry="0.9" fill="#5450c4" opacity="0.82" transform="rotate(95 141.6 2382.0)"/>
<ellipse cx="187.2" cy="2255.6" rx="2.7" ry="1.4" fill="#1f2aa0" opacity="0.75" transform="rotate(142 187.2 2255.6)"/>
<ellipse cx="265.4" cy="2334.3" rx="2.5" ry="1.6" fill="#2630b0" opacity="0.75" transform="rotate(144 265.4 2334.3)"/>
<ellipse cx="230.3" cy="2295.5" rx="3.8" ry="1.1" fill="#5450c4" opacity="0.68" transform="rotate(104 230.3 2295.5)"/>
<ellipse cx="134.5" cy="2361.7" rx="2.3" ry="1.5" fill="#2630b0" opacity="0.80" transform="rotate(144 134.5 2361.7)"/>
<ellipse cx="120.0" cy="2421.8" rx="3.3" ry="1.0" fill="#2c3fd8" opacity="0.83" transform="rotate(167 120.0 2421.8)"/>
<ellipse cx="300.0" cy="2349.7" rx="1.8" ry="1.7" fill="#2c3fd8" opacity="0.75" transform="rotate(168 300.0 2349.7)"/>
<ellipse cx="291.2" cy="2353.9" rx="3.4" ry="1.0" fill="#5450c4" opacity="0.86" transform="rotate(159 291.2 2353.9)"/>
<ellipse cx="102.7" cy="2364.2" rx="3.6" ry="1.8" fill="#2630b0" opacity="0.77" transform="rotate(67 102.7 2364.2)"/>
<ellipse cx="171.5" cy="2409.1" rx="2.6" ry="1.0" fill="#1f2aa0" opacity="0.93" transform="rotate(171 171.5 2409.1)"/>
<ellipse cx="272.7" cy="2287.3" rx="3.2" ry="1.8" fill="#3d50e0" opacity="0.85" transform="rotate(156 272.7 2287.3)"/>
<ellipse cx="148.8" cy="2277.4" rx="2.7" ry="1.0" fill="#2c3fd8" opacity="0.69" transform="rotate(6 148.8 2277.4)"/>
<ellipse cx="212.7" cy="2411.7" rx="3.4" ry="1.5" fill="#2436c8" opacity="0.86" transform="rotate(52 212.7 2411.7)"/>
<ellipse cx="105.1" cy="2407.8" rx="1.7" ry="1.1" fill="#2630b0" opacity="0.72" transform="rotate(47 105.1 2407.8)"/>
<ellipse cx="219.5" cy="2431.4" rx="2.6" ry="1.2" fill="#2c3fd8" opacity="0.90" transform="rotate(75 219.5 2431.4)"/>
<ellipse cx="107.7" cy="2323.3" rx="3.6" ry="1.1" fill="#1f2aa0" opacity="0.65" transform="rotate(173 107.7 2323.3)"/>
<ellipse cx="202.0" cy="2245.2" rx="2.3" ry="1.2" fill="#2c3fd8" opacity="0.75" transform="rotate(175 202.0 2245.2)"/>
<ellipse cx="314.9" cy="2434.4" rx="3.7" ry="1.3" fill="#2630b0" opacity="0.67" transform="rotate(105 314.9 2434.4)"/>
<ellipse cx="261.0" cy="2292.1" rx="2.6" ry="1.3" fill="#1f2aa0" opacity="0.88" transform="rotate(172 261.0 2292.1)"/>
<ellipse cx="178.5" cy="2423.2" rx="3.1" ry="1.1" fill="#2436c8" opacity="0.84" transform="rotate(172 178.5 2423.2)"/>
<ellipse cx="127.1" cy="2431.7" rx="1.7" ry="0.9" fill="#2630b0" opacity="0.63" transform="rotate(175 127.1 2431.7)"/>
<ellipse cx="188.2" cy="2366.0" rx="1.8" ry="1.2" fill="#2c3fd8" opacity="1.00" transform="rotate(43 188.2 2366.0)"/>
<ellipse cx="234.8" cy="2376.8" rx="2.5" ry="1.9" fill="#3d50e0" opacity="0.96" transform="rotate(9 234.8 2376.8)"/>
<ellipse cx="239.0" cy="2334.4" rx="2.8" ry="1.1" fill="#2630b0" opacity="0.68" transform="rotate(128 239.0 2334.4)"/>
<ellipse cx="92.6" cy="2402.4" rx="2.2" ry="1.8" fill="#2630b0" opacity="0.98" transform="rotate(168 92.6 2402.4)"/>
<ellipse cx="188.1" cy="2315.7" rx="1.7" ry="1.0" fill="#5450c4" opacity="0.85" transform="rotate(4 188.1 2315.7)"/>
<ellipse cx="114.2" cy="2254.4" rx="2.9" ry="1.7" fill="#2436c8" opacity="0.72" transform="rotate(27 114.2 2254.4)"/>
<ellipse cx="203.1" cy="2244.6" rx="3.3" ry="1.6" fill="#2436c8" opacity="0.77" transform="rotate(83 203.1 2244.6)"/>
<ellipse cx="109.0" cy="2386.2" rx="2.1" ry="1.0" fill="#5450c4" opacity="0.84" transform="rotate(148 109.0 2386.2)"/>
<ellipse cx="163.9" cy="2326.1" rx="3.8" ry="0.9" fill="#2630b0" opacity="0.70" transform="rotate(176 163.9 2326.1)"/>
<ellipse cx="52.3" cy="2422.3" rx="3.3" ry="1.7" fill="#3d50e0" opacity="0.86" transform="rotate(47 52.3 2422.3)"/>
<ellipse cx="162.2" cy="2290.1" rx="2.1" ry="1.1" fill="#3d50e0" opacity="0.77" transform="rotate(169 162.2 2290.1)"/>
<ellipse cx="306.0" cy="2349.8" rx="3.2" ry="1.6" fill="#1f2aa0" opacity="0.92" transform="rotate(178 306.0 2349.8)"/>
<ellipse cx="122.7" cy="2232.5" rx="3.2" ry="1.1" fill="#5450c4" opacity="0.67" transform="rotate(94 122.7 2232.5)"/>
<ellipse cx="232.3" cy="2316.9" rx="3.6" ry="0.9" fill="#2436c8" opacity="0.86" transform="rotate(16 232.3 2316.9)"/>
<ellipse cx="70.4" cy="2311.4" rx="2.4" ry="1.1" fill="#1f2aa0" opacity="0.87" transform="rotate(52 70.4 2311.4)"/>
<ellipse cx="105.0" cy="2309.9" rx="1.9" ry="1.0" fill="#2630b0" opacity="0.68" transform="rotate(78 105.0 2309.9)"/>
<ellipse cx="116.5" cy="2358.7" rx="2.2" ry="1.0" fill="#5450c4" opacity="0.83" transform="rotate(122 116.5 2358.7)"/>
<ellipse cx="295.6" cy="2251.2" rx="3.1" ry="0.9" fill="#2436c8" opacity="0.83" transform="rotate(79 295.6 2251.2)"/>
<ellipse cx="269.7" cy="2248.2" rx="2.9" ry="1.6" fill="#3d50e0" opacity="0.67" transform="rotate(10 269.7 2248.2)"/>
<ellipse cx="87.7" cy="2317.8" rx="2.8" ry="1.3" fill="#2436c8" opacity="0.85" transform="rotate(24 87.7 2317.8)"/>
<ellipse cx="85.9" cy="2410.9" rx="2.4" ry="1.6" fill="#2c3fd8" opacity="0.66" transform="rotate(21 85.9 2410.9)"/>
<ellipse cx="290.5" cy="2242.0" rx="3.5" ry="1.6" fill="#2630b0" opacity="0.95" transform="rotate(106 290.5 2242.0)"/>
<ellipse cx="311.5" cy="2345.3" rx="2.7" ry="1.2" fill="#3d50e0" opacity="0.74" transform="rotate(93 311.5 2345.3)"/>
<ellipse cx="229.4" cy="2251.6" rx="2.9" ry="0.9" fill="#3d50e0" opacity="0.71" transform="rotate(77 229.4 2251.6)"/>
<ellipse cx="187.1" cy="2304.4" rx="3.2" ry="1.7" fill="#5450c4" opacity="0.73" transform="rotate(72 187.1 2304.4)"/>
<ellipse cx="243.6" cy="2321.5" rx="3.0" ry="1.7" fill="#5450c4" opacity="0.86" transform="rotate(65 243.6 2321.5)"/>
<ellipse cx="119.3" cy="2237.0" rx="3.7" ry="1.4" fill="#1f2aa0" opacity="0.95" transform="rotate(6 119.3 2237.0)"/>
<ellipse cx="128.6" cy="2394.4" rx="3.2" ry="1.6" fill="#2436c8" opacity="0.80" transform="rotate(85 128.6 2394.4)"/>
<ellipse cx="146.8" cy="2281.8" rx="3.6" ry="1.7" fill="#5450c4" opacity="0.72" transform="rotate(128 146.8 2281.8)"/>
<ellipse cx="244.6" cy="2299.5" rx="2.1" ry="0.9" fill="#2436c8" opacity="0.96" transform="rotate(121 244.6 2299.5)"/>
<ellipse cx="166.8" cy="2309.2" rx="1.6" ry="1.3" fill="#5450c4" opacity="0.91" transform="rotate(46 166.8 2309.2)"/>
<ellipse cx="251.1" cy="2248.4" rx="1.7" ry="1.6" fill="#2436c8" opacity="0.61" transform="rotate(23 251.1 2248.4)"/>
<ellipse cx="233.7" cy="2354.9" rx="3.5" ry="1.8" fill="#2436c8" opacity="0.79" transform="rotate(36 233.7 2354.9)"/>
<ellipse cx="204.4" cy="2334.6" rx="2.6" ry="1.1" fill="#5450c4" opacity="0.72" transform="rotate(16 204.4 2334.6)"/>
<ellipse cx="160.2" cy="2301.8" rx="3.8" ry="1.1" fill="#5450c4" opacity="0.70" transform="rotate(21 160.2 2301.8)"/>
<ellipse cx="208.8" cy="2304.8" rx="3.4" ry="1.2" fill="#1f2aa0" opacity="0.79" transform="rotate(143 208.8 2304.8)"/>
<ellipse cx="106.5" cy="2357.9" rx="2.8" ry="1.3" fill="#2c3fd8" opacity="0.99" transform="rotate(152 106.5 2357.9)"/>
<ellipse cx="171.3" cy="2421.0" rx="3.2" ry="1.0" fill="#2630b0" opacity="0.80" transform="rotate(66 171.3 2421.0)"/>
<ellipse cx="147.5" cy="2408.6" rx="2.4" ry="1.2" fill="#2630b0" opacity="0.82" transform="rotate(158 147.5 2408.6)"/>
<ellipse cx="119.6" cy="2387.2" rx="3.5" ry="1.3" fill="#2630b0" opacity="0.86" transform="rotate(129 119.6 2387.2)"/>
<ellipse cx="80.8" cy="2368.4" rx="1.6" ry="1.8" fill="#2436c8" opacity="0.76" transform="rotate(29 80.8 2368.4)"/>
<ellipse cx="87.7" cy="2366.0" rx="2.5" ry="1.1" fill="#1f2aa0" opacity="0.78" transform="rotate(80 87.7 2366.0)"/>
<ellipse cx="235.9" cy="2368.8" rx="2.0" ry="1.1" fill="#1f2aa0" opacity="0.67" transform="rotate(85 235.9 2368.8)"/>
<ellipse cx="94.6" cy="2397.9" rx="3.3" ry="1.6" fill="#3d50e0" opacity="0.72" transform="rotate(126 94.6 2397.9)"/>
<ellipse cx="193.7" cy="2377.6" rx="2.2" ry="1.2" fill="#2436c8" opacity="0.82" transform="rotate(20 193.7 2377.6)"/>
<ellipse cx="104.9" cy="2318.8" rx="3.3" ry="1.3" fill="#5450c4" opacity="0.82" transform="rotate(102 104.9 2318.8)"/>
<ellipse cx="64.6" cy="2357.9" rx="2.7" ry="1.0" fill="#2c3fd8" opacity="0.67" transform="rotate(124 64.6 2357.9)"/>
<ellipse cx="277.4" cy="2335.6" rx="2.6" ry="1.7" fill="#1f2aa0" opacity="0.78" transform="rotate(160 277.4 2335.6)"/>
<ellipse cx="109.6" cy="2263.1" rx="2.9" ry="1.0" fill="#3d50e0" opacity="0.63" transform="rotate(114 109.6 2263.1)"/>
<ellipse cx="62.1" cy="2357.8" rx="2.2" ry="1.2" fill="#1f2aa0" opacity="0.96" transform="rotate(29 62.1 2357.8)"/>
<ellipse cx="289.4" cy="2436.1" rx="2.2" ry="1.8" fill="#2c3fd8" opacity="0.89" transform="rotate(143 289.4 2436.1)"/>
<ellipse cx="198.9" cy="2355.2" rx="3.1" ry="1.4" fill="#5450c4" opacity="0.93" transform="rotate(26 198.9 2355.2)"/>
<ellipse cx="309.1" cy="2271.2" rx="2.7" ry="1.0" fill="#3d50e0" opacity="0.76" transform="rotate(172 309.1 2271.2)"/>
<ellipse cx="146.5" cy="2333.3" rx="3.3" ry="1.6" fill="#1f2aa0" opacity="0.74" transform="rotate(5 146.5 2333.3)"/>
<ellipse cx="101.3" cy="2298.5" rx="2.5" ry="1.4" fill="#2436c8" opacity="0.77" transform="rotate(118 101.3 2298.5)"/>
<ellipse cx="94.2" cy="2432.0" rx="3.0" ry="1.1" fill="#2630b0" opacity="0.92" transform="rotate(170 94.2 2432.0)"/>
<ellipse cx="179.0" cy="2304.8" rx="2.6" ry="0.9" fill="#3d50e0" opacity="0.70" transform="rotate(39 179.0 2304.8)"/>
<ellipse cx="278.2" cy="2342.3" rx="1.9" ry="1.7" fill="#3d50e0" opacity="0.87" transform="rotate(113 278.2 2342.3)"/>
<ellipse cx="68.8" cy="2432.1" rx="3.4" ry="1.6" fill="#5450c4" opacity="0.68" transform="rotate(84 68.8 2432.1)"/>
<ellipse cx="70.3" cy="2312.3" rx="2.1" ry="1.8" fill="#5450c4" opacity="0.71" transform="rotate(27 70.3 2312.3)"/>
<ellipse cx="87.5" cy="2349.7" rx="2.7" ry="1.0" fill="#2436c8" opacity="0.78" transform="rotate(116 87.5 2349.7)"/>
<ellipse cx="294.9" cy="2362.4" rx="3.5" ry="1.9" fill="#1f2aa0" opacity="0.89" transform="rotate(78 294.9 2362.4)"/>
<ellipse cx="106.6" cy="2346.8" rx="2.7" ry="1.0" fill="#1f2aa0" opacity="0.66" transform="rotate(67 106.6 2346.8)"/>
<ellipse cx="297.2" cy="2266.3" rx="3.4" ry="1.2" fill="#2436c8" opacity="0.70" transform="rotate(46 297.2 2266.3)"/>
<ellipse cx="127.1" cy="2322.9" rx="3.2" ry="1.0" fill="#2436c8" opacity="0.95" transform="rotate(142 127.1 2322.9)"/>
<ellipse cx="74.2" cy="2384.7" rx="1.7" ry="1.1" fill="#3d50e0" opacity="0.61" transform="rotate(88 74.2 2384.7)"/>
<ellipse cx="153.4" cy="2291.0" rx="2.7" ry="1.3" fill="#5450c4" opacity="0.83" transform="rotate(171 153.4 2291.0)"/>
<ellipse cx="192.8" cy="2386.4" rx="3.6" ry="1.7" fill="#2436c8" opacity="0.86" transform="rotate(149 192.8 2386.4)"/>
<ellipse cx="201.0" cy="2322.9" rx="2.8" ry="1.8" fill="#2c3fd8" opacity="0.87" transform="rotate(44 201.0 2322.9)"/>
<ellipse cx="297.7" cy="2316.3" rx="2.7" ry="1.1" fill="#2436c8" opacity="0.79" transform="rotate(47 297.7 2316.3)"/>
<ellipse cx="249.0" cy="2267.8" rx="3.0" ry="0.9" fill="#5450c4" opacity="0.89" transform="rotate(118 249.0 2267.8)"/>
<ellipse cx="189.7" cy="2273.6" rx="1.8" ry="0.9" fill="#3d50e0" opacity="0.72" transform="rotate(9 189.7 2273.6)"/>
<ellipse cx="197.1" cy="2397.2" rx="1.7" ry="1.8" fill="#2c3fd8" opacity="0.91" transform="rotate(132 197.1 2397.2)"/>
<ellipse cx="302.6" cy="2375.0" rx="3.2" ry="1.8" fill="#2c3fd8" opacity="0.81" transform="rotate(115 302.6 2375.0)"/>
<ellipse cx="127.1" cy="2431.3" rx="2.1" ry="1.9" fill="#3d50e0" opacity="0.79" transform="rotate(78 127.1 2431.3)"/>
<ellipse cx="244.4" cy="2305.2" rx="3.4" ry="1.5" fill="#1f2aa0" opacity="0.78" transform="rotate(100 244.4 2305.2)"/>
<ellipse cx="290.5" cy="2267.5" rx="2.2" ry="1.1" fill="#2630b0" opacity="0.67" transform="rotate(137 290.5 2267.5)"/>
<ellipse cx="76.6" cy="2227.6" rx="3.1" ry="1.7" fill="#2630b0" opacity="0.78" transform="rotate(111 76.6 2227.6)"/>
<ellipse cx="157.0" cy="2332.5" rx="2.4" ry="1.7" fill="#2c3fd8" opacity="0.61" transform="rotate(146 157.0 2332.5)"/>
<ellipse cx="80.6" cy="2400.0" rx="2.1" ry="1.7" fill="#2c3fd8" opacity="0.83" transform="rotate(45 80.6 2400.0)"/>
<ellipse cx="128.6" cy="2236.5" rx="2.9" ry="1.1" fill="#1f2aa0" opacity="0.95" transform="rotate(77 128.6 2236.5)"/>
<ellipse cx="234.6" cy="2286.0" rx="2.6" ry="1.2" fill="#2630b0" opacity="0.71" transform="rotate(4 234.6 2286.0)"/>
<ellipse cx="182.8" cy="2273.0" rx="2.7" ry="1.6" fill="#3d50e0" opacity="0.70" transform="rotate(92 182.8 2273.0)"/>
<ellipse cx="301.8" cy="2334.0" rx="2.1" ry="1.3" fill="#5450c4" opacity="0.70" transform="rotate(108 301.8 2334.0)"/>
<ellipse cx="273.5" cy="2355.1" rx="3.0" ry="1.7" fill="#2630b0" opacity="0.61" transform="rotate(180 273.5 2355.1)"/>
<ellipse cx="114.9" cy="2374.8" rx="3.6" ry="1.3" fill="#2436c8" opacity="0.89" transform="rotate(124 114.9 2374.8)"/>
<ellipse cx="46.9" cy="2242.4" rx="4.0" ry="1.9" fill="#5c2210" opacity="0.94" transform="rotate(54 46.9 2242.4)"/>
<ellipse cx="43.7" cy="2240.6" rx="3.1" ry="2.2" fill="#4a1806" opacity="0.93" transform="rotate(173 43.7 2240.6)"/>
<ellipse cx="129.7" cy="2232.1" rx="3.6" ry="2.2" fill="#5c2210" opacity="0.88" transform="rotate(133 129.7 2232.1)"/>
<ellipse cx="129.0" cy="2231.4" rx="3.3" ry="2.1" fill="#5c2210" opacity="0.89" transform="rotate(25 129.0 2231.4)"/>
<ellipse cx="132.1" cy="2230.5" rx="3.8" ry="2.9" fill="#d08a2c" opacity="0.98" transform="rotate(134 132.1 2230.5)"/>
<ellipse cx="128.1" cy="2233.8" rx="2.9" ry="2.1" fill="#c0701c" opacity="0.97" transform="rotate(86 128.1 2233.8)"/>
<ellipse cx="186.6" cy="2245.9" rx="2.4" ry="2.8" fill="#5c2210" opacity="0.84" transform="rotate(32 186.6 2245.9)"/>
<ellipse cx="185.5" cy="2243.5" rx="3.8" ry="1.9" fill="#4a1806" opacity="0.99" transform="rotate(28 185.5 2243.5)"/>
<ellipse cx="185.1" cy="2243.4" rx="4.2" ry="2.9" fill="#c0701c" opacity="0.88" transform="rotate(37 185.1 2243.4)"/>
<ellipse cx="183.2" cy="2248.0" rx="2.2" ry="2.9" fill="#c0701c" opacity="0.88" transform="rotate(68 183.2 2248.0)"/>
<ellipse cx="190.1" cy="2256.2" rx="2.4" ry="2.6" fill="#5c2210" opacity="0.93" transform="rotate(4 190.1 2256.2)"/>
<ellipse cx="187.2" cy="2255.9" rx="2.3" ry="2.4" fill="#6a2408" opacity="0.98" transform="rotate(38 187.2 2255.9)"/>
<ellipse cx="214.2" cy="2268.3" rx="3.5" ry="2.5" fill="#5c2210" opacity="0.96" transform="rotate(138 214.2 2268.3)"/>
<ellipse cx="215.6" cy="2268.6" rx="2.5" ry="2.4" fill="#4a1806" opacity="0.87" transform="rotate(146 215.6 2268.6)"/>
<ellipse cx="152.1" cy="2278.7" rx="3.8" ry="2.4" fill="#4a1806" opacity="0.92" transform="rotate(34 152.1 2278.7)"/>
<ellipse cx="155.1" cy="2280.5" rx="2.9" ry="2.9" fill="#4a1806" opacity="0.90" transform="rotate(102 155.1 2280.5)"/>
<ellipse cx="122.8" cy="2287.3" rx="3.8" ry="2.9" fill="#4a1806" opacity="0.93" transform="rotate(60 122.8 2287.3)"/>
<ellipse cx="125.9" cy="2288.9" rx="3.2" ry="2.7" fill="#4a1806" opacity="0.98" transform="rotate(80 125.9 2288.9)"/>
<ellipse cx="107.3" cy="2294.2" rx="4.0" ry="1.9" fill="#7d300c" opacity="0.84" transform="rotate(112 107.3 2294.2)"/>
<ellipse cx="105.2" cy="2295.2" rx="2.9" ry="2.6" fill="#96460f" opacity="0.96" transform="rotate(34 105.2 2295.2)"/>
<ellipse cx="108.2" cy="2292.2" rx="2.6" ry="1.7" fill="#d08a2c" opacity="0.81" transform="rotate(175 108.2 2292.2)"/>
<ellipse cx="110.0" cy="2295.6" rx="2.4" ry="1.9" fill="#c0701c" opacity="0.96" transform="rotate(91 110.0 2295.6)"/>
<ellipse cx="103.8" cy="2302.8" rx="2.9" ry="2.5" fill="#96460f" opacity="0.88" transform="rotate(74 103.8 2302.8)"/>
<ellipse cx="104.8" cy="2302.8" rx="3.5" ry="3.0" fill="#7d300c" opacity="0.84" transform="rotate(58 104.8 2302.8)"/>
<ellipse cx="107.2" cy="2300.0" rx="4.1" ry="2.8" fill="#d08a2c" opacity="0.94" transform="rotate(152 107.2 2300.0)"/>
<ellipse cx="107.1" cy="2304.8" rx="3.5" ry="1.6" fill="#d08a2c" opacity="0.93" transform="rotate(105 107.1 2304.8)"/>
<ellipse cx="167.7" cy="2302.8" rx="2.3" ry="2.4" fill="#96460f" opacity="0.82" transform="rotate(112 167.7 2302.8)"/>
<ellipse cx="164.8" cy="2303.8" rx="3.2" ry="2.3" fill="#6a2408" opacity="0.82" transform="rotate(90 164.8 2303.8)"/>
<ellipse cx="168.3" cy="2305.0" rx="3.9" ry="1.7" fill="#d08a2c" opacity="0.93" transform="rotate(178 168.3 2305.0)"/>
<ellipse cx="136.6" cy="2321.8" rx="2.2" ry="2.3" fill="#7d300c" opacity="0.87" transform="rotate(120 136.6 2321.8)"/>
<ellipse cx="136.4" cy="2319.4" rx="3.5" ry="1.7" fill="#4a1806" opacity="0.91" transform="rotate(113 136.4 2319.4)"/>
<ellipse cx="139.6" cy="2322.2" rx="3.4" ry="3.0" fill="#c0701c" opacity="0.89" transform="rotate(164 139.6 2322.2)"/>
<ellipse cx="159.0" cy="2318.3" rx="3.5" ry="1.8" fill="#96460f" opacity="0.86" transform="rotate(114 159.0 2318.3)"/>
<ellipse cx="161.8" cy="2315.6" rx="3.7" ry="1.8" fill="#6a2408" opacity="0.95" transform="rotate(52 161.8 2315.6)"/>
<ellipse cx="157.2" cy="2320.8" rx="2.8" ry="2.6" fill="#c0701c" opacity="0.95" transform="rotate(30 157.2 2320.8)"/>
<ellipse cx="160.6" cy="2321.2" rx="3.6" ry="1.8" fill="#c0701c" opacity="0.85" transform="rotate(139 160.6 2321.2)"/>
<ellipse cx="115.9" cy="2325.2" rx="4.3" ry="1.8" fill="#96460f" opacity="0.83" transform="rotate(160 115.9 2325.2)"/>
<ellipse cx="116.3" cy="2326.9" rx="2.2" ry="2.0" fill="#96460f" opacity="0.81" transform="rotate(168 116.3 2326.9)"/>
<ellipse cx="113.3" cy="2327.3" rx="4.0" ry="2.6" fill="#c0701c" opacity="0.87" transform="rotate(0 113.3 2327.3)"/>
<ellipse cx="112.9" cy="2324.5" rx="3.4" ry="1.7" fill="#c0701c" opacity="0.97" transform="rotate(168 112.9 2324.5)"/>
<ellipse cx="148.7" cy="2332.1" rx="2.5" ry="2.7" fill="#6a2408" opacity="0.84" transform="rotate(91 148.7 2332.1)"/>
<ellipse cx="151.8" cy="2334.0" rx="2.2" ry="2.8" fill="#4a1806" opacity="0.82" transform="rotate(41 151.8 2334.0)"/>
<ellipse cx="150.5" cy="2333.8" rx="4.0" ry="3.0" fill="#d08a2c" opacity="1.00" transform="rotate(114 150.5 2333.8)"/>
<ellipse cx="203.0" cy="2327.0" rx="2.9" ry="2.6" fill="#7d300c" opacity="0.97" transform="rotate(166 203.0 2327.0)"/>
<ellipse cx="203.5" cy="2325.6" rx="3.4" ry="1.8" fill="#4a1806" opacity="0.98" transform="rotate(45 203.5 2325.6)"/>
<ellipse cx="81.4" cy="2347.7" rx="2.2" ry="2.8" fill="#7d300c" opacity="0.96" transform="rotate(125 81.4 2347.7)"/>
<ellipse cx="83.3" cy="2346.5" rx="2.8" ry="2.7" fill="#96460f" opacity="0.96" transform="rotate(18 83.3 2346.5)"/>
<ellipse cx="126.3" cy="2349.4" rx="2.4" ry="2.1" fill="#7d300c" opacity="0.83" transform="rotate(29 126.3 2349.4)"/>
<ellipse cx="123.3" cy="2350.9" rx="3.7" ry="1.7" fill="#7d300c" opacity="0.89" transform="rotate(16 123.3 2350.9)"/>
<ellipse cx="123.1" cy="2352.0" rx="2.5" ry="2.2" fill="#c0701c" opacity="0.85" transform="rotate(113 123.1 2352.0)"/>
<ellipse cx="128.3" cy="2350.7" rx="3.4" ry="2.6" fill="#c0701c" opacity="0.98" transform="rotate(141 128.3 2350.7)"/>
<ellipse cx="150.4" cy="2361.5" rx="2.8" ry="2.6" fill="#7d300c" opacity="0.89" transform="rotate(53 150.4 2361.5)"/>
<ellipse cx="150.0" cy="2359.6" rx="3.9" ry="2.0" fill="#5c2210" opacity="0.98" transform="rotate(158 150.0 2359.6)"/>
<ellipse cx="172.8" cy="2364.9" rx="3.4" ry="2.8" fill="#4a1806" opacity="0.90" transform="rotate(81 172.8 2364.9)"/>
<ellipse cx="172.1" cy="2363.3" rx="3.6" ry="2.3" fill="#7d300c" opacity="1.00" transform="rotate(126 172.1 2363.3)"/>
<ellipse cx="229.8" cy="2351.1" rx="4.0" ry="2.9" fill="#4a1806" opacity="0.88" transform="rotate(158 229.8 2351.1)"/>
<ellipse cx="227.1" cy="2351.9" rx="4.2" ry="2.5" fill="#4a1806" opacity="0.88" transform="rotate(133 227.1 2351.9)"/>
<ellipse cx="227.2" cy="2350.0" rx="2.8" ry="2.8" fill="#d08a2c" opacity="0.92" transform="rotate(149 227.2 2350.0)"/>
<ellipse cx="224.6" cy="2381.3" rx="4.2" ry="2.5" fill="#6a2408" opacity="0.88" transform="rotate(25 224.6 2381.3)"/>
<ellipse cx="228.0" cy="2378.4" rx="4.0" ry="2.1" fill="#7d300c" opacity="0.89" transform="rotate(153 228.0 2378.4)"/>
<ellipse cx="221.2" cy="2384.3" rx="3.7" ry="2.6" fill="#c0701c" opacity="0.82" transform="rotate(131 221.2 2384.3)"/>
<ellipse cx="227.9" cy="2379.6" rx="3.1" ry="2.4" fill="#d08a2c" opacity="0.93" transform="rotate(68 227.9 2379.6)"/>
<ellipse cx="289.3" cy="2373.5" rx="2.7" ry="2.0" fill="#6a2408" opacity="0.92" transform="rotate(70 289.3 2373.5)"/>
<ellipse cx="288.9" cy="2376.4" rx="3.0" ry="2.2" fill="#7d300c" opacity="0.85" transform="rotate(74 288.9 2376.4)"/>
<ellipse cx="290.2" cy="2373.6" rx="2.9" ry="2.1" fill="#d08a2c" opacity="0.95" transform="rotate(178 290.2 2373.6)"/>
<ellipse cx="59.0" cy="2370.1" rx="3.4" ry="1.9" fill="#6a2408" opacity="0.96" transform="rotate(176 59.0 2370.1)"/>
<ellipse cx="55.9" cy="2368.9" rx="2.7" ry="2.3" fill="#4a1806" opacity="0.89" transform="rotate(14 55.9 2368.9)"/>
<ellipse cx="134.0" cy="2384.7" rx="2.4" ry="2.6" fill="#7d300c" opacity="0.93" transform="rotate(74 134.0 2384.7)"/>
<ellipse cx="135.3" cy="2384.0" rx="4.0" ry="2.0" fill="#6a2408" opacity="0.83" transform="rotate(165 135.3 2384.0)"/>
<ellipse cx="132.8" cy="2384.3" rx="2.4" ry="2.1" fill="#d08a2c" opacity="0.93" transform="rotate(22 132.8 2384.3)"/>
<ellipse cx="132.5" cy="2384.4" rx="2.6" ry="1.9" fill="#d08a2c" opacity="0.99" transform="rotate(42 132.5 2384.4)"/>
<ellipse cx="153.9" cy="2386.5" rx="2.5" ry="2.6" fill="#96460f" opacity="0.95" transform="rotate(137 153.9 2386.5)"/>
<ellipse cx="150.8" cy="2385.3" rx="2.8" ry="1.9" fill="#6a2408" opacity="0.91" transform="rotate(65 150.8 2385.3)"/>
<ellipse cx="153.0" cy="2387.2" rx="2.2" ry="2.6" fill="#d08a2c" opacity="0.96" transform="rotate(57 153.0 2387.2)"/>
<ellipse cx="167.7" cy="2406.3" rx="3.3" ry="2.4" fill="#7d300c" opacity="0.86" transform="rotate(67 167.7 2406.3)"/>
<ellipse cx="169.2" cy="2405.4" rx="3.5" ry="2.7" fill="#96460f" opacity="0.82" transform="rotate(137 169.2 2405.4)"/>
<ellipse cx="170.2" cy="2406.8" rx="3.5" ry="2.6" fill="#d08a2c" opacity="0.90" transform="rotate(135 170.2 2406.8)"/>
<ellipse cx="167.2" cy="2407.2" rx="2.7" ry="3.0" fill="#d08a2c" opacity="0.95" transform="rotate(108 167.2 2407.2)"/>
<ellipse cx="77.1" cy="2409.8" rx="3.9" ry="2.6" fill="#4a1806" opacity="0.93" transform="rotate(59 77.1 2409.8)"/>
<ellipse cx="78.9" cy="2410.6" rx="3.8" ry="2.5" fill="#7d300c" opacity="0.86" transform="rotate(80 78.9 2410.6)"/>
<ellipse cx="91.8" cy="2425.3" rx="3.8" ry="1.9" fill="#4a1806" opacity="0.88" transform="rotate(108 91.8 2425.3)"/>
<ellipse cx="88.4" cy="2424.1" rx="2.6" ry="1.8" fill="#96460f" opacity="0.95" transform="rotate(165 88.4 2424.1)"/>
<ellipse cx="89.1" cy="2426.8" rx="2.4" ry="2.0" fill="#d08a2c" opacity="0.85" transform="rotate(27 89.1 2426.8)"/>
<ellipse cx="216.0" cy="2416.7" rx="2.8" ry="2.6" fill="#5c2210" opacity="0.87" transform="rotate(169 216.0 2416.7)"/>
<ellipse cx="217.1" cy="2419.5" rx="2.7" ry="1.9" fill="#7d300c" opacity="0.96" transform="rotate(131 217.1 2419.5)"/>
<ellipse cx="214.3" cy="2415.7" rx="3.6" ry="2.0" fill="#d08a2c" opacity="0.83" transform="rotate(131 214.3 2415.7)"/>
<ellipse cx="298.8" cy="2414.9" rx="3.0" ry="1.8" fill="#7d300c" opacity="0.89" transform="rotate(21 298.8 2414.9)"/>
<ellipse cx="295.9" cy="2417.5" rx="3.0" ry="2.3" fill="#6a2408" opacity="0.87" transform="rotate(90 295.9 2417.5)"/>
<ellipse cx="301.7" cy="2416.7" rx="3.2" ry="2.1" fill="#c0701c" opacity="0.85" transform="rotate(101 301.7 2416.7)"/>
<ellipse cx="319.5" cy="2418.4" rx="2.4" ry="2.9" fill="#7d300c" opacity="0.81" transform="rotate(109 319.5 2418.4)"/>
<ellipse cx="320.9" cy="2416.8" rx="4.0" ry="2.1" fill="#96460f" opacity="0.87" transform="rotate(96 320.9 2416.8)"/>
<ellipse cx="316.4" cy="2419.4" rx="3.3" ry="2.3" fill="#c0701c" opacity="0.94" transform="rotate(42 316.4 2419.4)"/>
<ellipse cx="247.9" cy="2237.3" rx="3.0" ry="2.3" fill="#5c2210" opacity="0.91" transform="rotate(15 247.9 2237.3)"/>
<ellipse cx="245.6" cy="2239.0" rx="3.6" ry="2.8" fill="#7d300c" opacity="0.86" transform="rotate(17 245.6 2239.0)"/>
<ellipse cx="253.9" cy="2254.5" rx="3.2" ry="2.9" fill="#4a1806" opacity="0.96" transform="rotate(138 253.9 2254.5)"/>
<ellipse cx="251.9" cy="2256.1" rx="3.3" ry="2.3" fill="#7d300c" opacity="0.91" transform="rotate(4 251.9 2256.1)"/>
<ellipse cx="257.0" cy="2252.2" rx="3.9" ry="2.6" fill="#c0701c" opacity="0.87" transform="rotate(153 257.0 2252.2)"/>
<ellipse cx="251.5" cy="2252.6" rx="3.6" ry="2.1" fill="#c0701c" opacity="0.88" transform="rotate(101 251.5 2252.6)"/>
<ellipse cx="264.3" cy="2276.9" rx="4.3" ry="2.1" fill="#96460f" opacity="0.89" transform="rotate(8 264.3 2276.9)"/>
<ellipse cx="266.4" cy="2275.7" rx="2.3" ry="2.3" fill="#6a2408" opacity="0.84" transform="rotate(98 266.4 2275.7)"/>
<ellipse cx="263.2" cy="2277.4" rx="3.8" ry="1.7" fill="#c0701c" opacity="0.91" transform="rotate(34 263.2 2277.4)"/>
<ellipse cx="266.7" cy="2274.2" rx="3.4" ry="2.3" fill="#d08a2c" opacity="0.86" transform="rotate(23 266.7 2274.2)"/>
<ellipse cx="309.1" cy="2327.0" rx="3.4" ry="2.3" fill="#4a1806" opacity="0.83" transform="rotate(74 309.1 2327.0)"/>
<ellipse cx="312.6" cy="2328.4" rx="2.5" ry="2.9" fill="#5c2210" opacity="0.85" transform="rotate(38 312.6 2328.4)"/>
<ellipse cx="285.0" cy="2309.7" rx="4.3" ry="1.6" fill="#96460f" opacity="0.94" transform="rotate(74 285.0 2309.7)"/>
<ellipse cx="285.0" cy="2312.6" rx="3.5" ry="2.8" fill="#6a2408" opacity="0.88" transform="rotate(90 285.0 2312.6)"/>
<ellipse cx="282.4" cy="2311.3" rx="3.9" ry="2.2" fill="#c0701c" opacity="0.90" transform="rotate(31 282.4 2311.3)"/>
<ellipse cx="252.2" cy="2285.6" rx="2.4" ry="1.8" fill="#4a1806" opacity="0.91" transform="rotate(50 252.2 2285.6)"/>
<ellipse cx="254.9" cy="2285.6" rx="4.4" ry="1.9" fill="#6a2408" opacity="0.82" transform="rotate(92 254.9 2285.6)"/>
<ellipse cx="250.3" cy="2283.9" rx="2.6" ry="1.7" fill="#d08a2c" opacity="0.90" transform="rotate(8 250.3 2283.9)"/>
<ellipse cx="160.8" cy="2261.4" rx="3.8" ry="2.7" fill="#4a1806" opacity="0.95" transform="rotate(126 160.8 2261.4)"/>
<ellipse cx="161.7" cy="2259.3" rx="3.2" ry="2.3" fill="#6a2408" opacity="0.87" transform="rotate(123 161.7 2259.3)"/>
<ellipse cx="163.0" cy="2263.2" rx="2.5" ry="1.9" fill="#c0701c" opacity="0.82" transform="rotate(176 163.0 2263.2)"/>
<ellipse cx="162.5" cy="2260.4" rx="4.3" ry="2.4" fill="#c0701c" opacity="0.98" transform="rotate(94 162.5 2260.4)"/>
<ellipse cx="95.2" cy="2323.5" rx="2.8" ry="1.6" fill="#5c2210" opacity="0.95" transform="rotate(9 95.2 2323.5)"/>
<ellipse cx="95.7" cy="2321.3" rx="3.1" ry="2.2" fill="#5c2210" opacity="0.90" transform="rotate(77 95.7 2321.3)"/>
<ellipse cx="95.3" cy="2321.4" rx="2.9" ry="2.5" fill="#d08a2c" opacity="0.80" transform="rotate(47 95.3 2321.4)"/>
<ellipse cx="96.8" cy="2322.9" rx="3.5" ry="2.1" fill="#c0701c" opacity="0.91" transform="rotate(81 96.8 2322.9)"/>
<ellipse cx="188.4" cy="2375.3" rx="4.3" ry="2.0" fill="#96460f" opacity="0.93" transform="rotate(157 188.4 2375.3)"/>
<ellipse cx="191.2" cy="2377.7" rx="3.7" ry="2.2" fill="#96460f" opacity="0.89" transform="rotate(42 191.2 2377.7)"/>
<ellipse cx="195.3" cy="2392.5" rx="4.0" ry="2.8" fill="#4a1806" opacity="0.82" transform="rotate(42 195.3 2392.5)"/>
<ellipse cx="195.9" cy="2395.4" rx="3.2" ry="1.8" fill="#6a2408" opacity="0.88" transform="rotate(129 195.9 2395.4)"/>
<ellipse cx="290.1" cy="2385.6" rx="4.0" ry="2.5" fill="#96460f" opacity="0.96" transform="rotate(12 290.1 2385.6)"/>
<ellipse cx="293.2" cy="2387.2" rx="3.7" ry="1.6" fill="#96460f" opacity="0.85" transform="rotate(23 293.2 2387.2)"/>
<ellipse cx="306.1" cy="2380.5" rx="2.1" ry="1.6" fill="#6b2a12" opacity="0.63" transform="rotate(41 306.1 2380.5)"/>
<ellipse cx="60.2" cy="2410.9" rx="3.1" ry="1.2" fill="#6b2a12" opacity="0.90" transform="rotate(45 60.2 2410.9)"/>
<ellipse cx="169.2" cy="2293.0" rx="2.4" ry="1.1" fill="#6b2a12" opacity="0.69" transform="rotate(155 169.2 2293.0)"/>
<ellipse cx="300.2" cy="2259.4" rx="1.9" ry="1.3" fill="#c97a22" opacity="0.89" transform="rotate(24 300.2 2259.4)"/>
<ellipse cx="85.7" cy="2302.2" rx="2.6" ry="1.2" fill="#6b2a12" opacity="0.84" transform="rotate(149 85.7 2302.2)"/>
<ellipse cx="150.2" cy="2282.2" rx="2.1" ry="1.7" fill="#c97a22" opacity="0.78" transform="rotate(159 150.2 2282.2)"/>
<ellipse cx="322.1" cy="2389.0" rx="2.8" ry="1.2" fill="#6b2a12" opacity="0.63" transform="rotate(121 322.1 2389.0)"/>
<ellipse cx="57.1" cy="2383.7" rx="2.5" ry="1.0" fill="#6b2a12" opacity="0.90" transform="rotate(118 57.1 2383.7)"/>
<ellipse cx="96.5" cy="2328.7" rx="2.3" ry="1.8" fill="#6b2a12" opacity="0.69" transform="rotate(145 96.5 2328.7)"/>
<ellipse cx="143.1" cy="2414.5" rx="1.8" ry="1.8" fill="#6b2a12" opacity="0.70" transform="rotate(18 143.1 2414.5)"/>
<ellipse cx="54.0" cy="2355.2" rx="2.2" ry="1.9" fill="#b5601a" opacity="0.82" transform="rotate(34 54.0 2355.2)"/>
<ellipse cx="125.7" cy="2347.7" rx="1.6" ry="1.4" fill="#c97a22" opacity="0.65" transform="rotate(100 125.7 2347.7)"/>
<ellipse cx="88.7" cy="2303.8" rx="2.9" ry="1.0" fill="#8f3d10" opacity="0.87" transform="rotate(117 88.7 2303.8)"/>
<ellipse cx="267.7" cy="2311.6" rx="2.0" ry="1.1" fill="#b5601a" opacity="0.76" transform="rotate(119 267.7 2311.6)"/>
<ellipse cx="93.0" cy="2288.9" rx="1.9" ry="1.4" fill="#8f3d10" opacity="0.79" transform="rotate(58 93.0 2288.9)"/>
<ellipse cx="68.6" cy="2385.0" rx="3.0" ry="1.6" fill="#8f3d10" opacity="0.65" transform="rotate(113 68.6 2385.0)"/>
<ellipse cx="135.1" cy="2409.2" rx="1.8" ry="1.9" fill="#c97a22" opacity="0.88" transform="rotate(18 135.1 2409.2)"/>
<ellipse cx="292.5" cy="2292.0" rx="2.7" ry="1.4" fill="#6b2a12" opacity="0.83" transform="rotate(137 292.5 2292.0)"/>
<ellipse cx="70.4" cy="2291.4" rx="2.4" ry="1.7" fill="#6b2a12" opacity="0.87" transform="rotate(128 70.4 2291.4)"/>
<ellipse cx="199.7" cy="2301.7" rx="2.9" ry="1.3" fill="#8f3d10" opacity="0.84" transform="rotate(159 199.7 2301.7)"/>
<ellipse cx="228.7" cy="2316.3" rx="2.0" ry="1.9" fill="#b5601a" opacity="0.74" transform="rotate(167 228.7 2316.3)"/>
<ellipse cx="306.7" cy="2235.1" rx="2.8" ry="1.2" fill="#b5601a" opacity="0.65" transform="rotate(43 306.7 2235.1)"/>
<ellipse cx="154.9" cy="2326.6" rx="2.8" ry="1.7" fill="#6b2a12" opacity="0.80" transform="rotate(173 154.9 2326.6)"/>
<ellipse cx="264.8" cy="2422.1" rx="1.7" ry="1.6" fill="#b5601a" opacity="0.80" transform="rotate(79 264.8 2422.1)"/>
<ellipse cx="181.0" cy="2406.1" rx="2.7" ry="1.8" fill="#6b2a12" opacity="0.80" transform="rotate(61 181.0 2406.1)"/>
<ellipse cx="175.2" cy="2243.0" rx="2.6" ry="1.6" fill="#c97a22" opacity="0.92" transform="rotate(42 175.2 2243.0)"/>
<ellipse cx="280.3" cy="2343.7" rx="2.5" ry="1.3" fill="#b5601a" opacity="0.89" transform="rotate(56 280.3 2343.7)"/>
<ellipse cx="279.2" cy="2429.5" rx="1.5" ry="1.3" fill="#8f3d10" opacity="0.61" transform="rotate(40 279.2 2429.5)"/>
<ellipse cx="152.6" cy="2379.9" rx="2.6" ry="1.2" fill="#c97a22" opacity="0.76" transform="rotate(103 152.6 2379.9)"/>
<ellipse cx="180.7" cy="2261.7" rx="3.2" ry="1.1" fill="#8f3d10" opacity="0.80" transform="rotate(133 180.7 2261.7)"/>
<ellipse cx="311.0" cy="2413.4" rx="2.9" ry="1.1" fill="#8f3d10" opacity="0.81" transform="rotate(129 311.0 2413.4)"/>
<ellipse cx="193.9" cy="2429.1" rx="3.1" ry="1.3" fill="#6b2a12" opacity="0.63" transform="rotate(5 193.9 2429.1)"/>
<ellipse cx="199.9" cy="2376.1" rx="3.0" ry="1.8" fill="#6b2a12" opacity="0.75" transform="rotate(104 199.9 2376.1)"/>
<ellipse cx="310.5" cy="2278.6" rx="1.9" ry="1.7" fill="#c97a22" opacity="0.63" transform="rotate(105 310.5 2278.6)"/>
<ellipse cx="140.8" cy="2254.8" rx="2.9" ry="1.5" fill="#b5601a" opacity="0.94" transform="rotate(180 140.8 2254.8)"/>
<ellipse cx="305.4" cy="2338.1" rx="3.2" ry="1.7" fill="#6b2a12" opacity="0.74" transform="rotate(93 305.4 2338.1)"/>
<ellipse cx="200.8" cy="2405.9" rx="1.5" ry="1.5" fill="#8f3d10" opacity="0.65" transform="rotate(155 200.8 2405.9)"/>
<ellipse cx="304.2" cy="2318.2" rx="2.5" ry="1.4" fill="#8f3d10" opacity="0.84" transform="rotate(74 304.2 2318.2)"/>
<ellipse cx="276.3" cy="2340.7" rx="2.5" ry="1.7" fill="#b5601a" opacity="0.85" transform="rotate(80 276.3 2340.7)"/>
<ellipse cx="132.7" cy="2236.9" rx="1.7" ry="1.5" fill="#8f3d10" opacity="0.82" transform="rotate(43 132.7 2236.9)"/>
<ellipse cx="107.0" cy="2273.3" rx="1.7" ry="1.4" fill="#c97a22" opacity="0.93" transform="rotate(105 107.0 2273.3)"/>
<ellipse cx="268.1" cy="2324.9" rx="2.3" ry="1.5" fill="#8f3d10" opacity="0.76" transform="rotate(68 268.1 2324.9)"/>
<ellipse cx="232.4" cy="2303.4" rx="2.8" ry="1.5" fill="#c97a22" opacity="0.73" transform="rotate(110 232.4 2303.4)"/>
<ellipse cx="80.6" cy="2409.3" rx="2.0" ry="1.1" fill="#b5601a" opacity="0.71" transform="rotate(167 80.6 2409.3)"/>
<ellipse cx="105.0" cy="2359.1" rx="2.7" ry="2.0" fill="#c97a22" opacity="0.78" transform="rotate(45 105.0 2359.1)"/>
</g></g>
<rect x="41.6" y="2224.0" width="284.8" height="214.3" fill="none" stroke="#3a3a3a" stroke-width="1.3"/>
</g>
<g><clipPath id="ck"><rect x="333.6" y="2223.3" width="284.7" height="215.3"/></clipPath>
<rect x="333.6" y="2223.3" width="284.7" height="215.3" fill="#fffaf0"/>
<g clip-path="url(#ck)"><g filter="url(#ib)">
<ellipse cx="430" cy="2290" rx="30" ry="22" fill="#f6dfb8" opacity="0.5" filter="url(#ib2)"/>
<ellipse cx="540" cy="2370" rx="26" ry="30" fill="#f6dfb8" opacity="0.5" filter="url(#ib2)"/>
<ellipse cx="380" cy="2400" rx="30" ry="16" fill="#f6dfb8" opacity="0.5" filter="url(#ib2)"/>
<ellipse cx="560" cy="2250" rx="30" ry="18" fill="#f6dfb8" opacity="0.5" filter="url(#ib2)"/>
<ellipse cx="470" cy="2380" rx="25" ry="12" fill="#f6dfb8" opacity="0.5" filter="url(#ib2)"/>
<ellipse cx="345.5" cy="2245.9" rx="4.4" ry="4.8" fill="#514c9c" opacity="0.95"/>
<ellipse cx="344.9" cy="2246.5" rx="2.0" ry="1.8" fill="#7a5a6a" opacity="0.45"/>
<ellipse cx="393.0" cy="2239.0" rx="4.5" ry="4.2" fill="#3e3a82" opacity="0.95"/>
<ellipse cx="392.1" cy="2239.6" rx="2.0" ry="1.8" fill="#7a5a6a" opacity="0.45"/>
<ellipse cx="373.1" cy="2265.7" rx="4.1" ry="4.3" fill="#6a68c0" opacity="0.78"/>
<ellipse cx="408.5" cy="2274.3" rx="3.9" ry="3.5" fill="#3e3a82" opacity="0.95"/>
<ellipse cx="409.2" cy="2274.5" rx="1.7" ry="1.6" fill="#7a5a6a" opacity="0.45"/>
<ellipse cx="433.5" cy="2271.8" rx="4.2" ry="4.6" fill="#8986d0" opacity="0.76"/>
<ellipse cx="524.1" cy="2228.6" rx="4.0" ry="3.6" fill="#6260b4" opacity="0.80"/>
<ellipse cx="556.0" cy="2235.5" rx="3.7" ry="3.9" fill="#6a68c0" opacity="0.75"/>
<ellipse cx="602.6" cy="2239.0" rx="3.0" ry="3.3" fill="#6a68c0" opacity="0.72"/>
<ellipse cx="452.5" cy="2251.9" rx="5.3" ry="5.9" fill="#4a4692" opacity="0.95"/>
<ellipse cx="451.6" cy="2251.7" rx="2.4" ry="2.1" fill="#7a5a6a" opacity="0.45"/>
<ellipse cx="493.0" cy="2263.1" rx="4.9" ry="5.0" fill="#3e3a82" opacity="0.95"/>
<ellipse cx="493.6" cy="2262.7" rx="2.2" ry="2.0" fill="#7a5a6a" opacity="0.45"/>
<ellipse cx="578.4" cy="2267.4" rx="3.8" ry="4.0" fill="#3e3a82" opacity="0.95"/>
<ellipse cx="577.6" cy="2266.9" rx="1.7" ry="1.5" fill="#7a5a6a" opacity="0.45"/>
<ellipse cx="596.5" cy="2271.8" rx="3.2" ry="2.9" fill="#6a68c0" opacity="0.77"/>
<ellipse cx="515.4" cy="2283.8" rx="3.7" ry="3.8" fill="#7d7acc" opacity="0.63"/>
<ellipse cx="494.7" cy="2291.6" rx="3.7" ry="4.0" fill="#7d7acc" opacity="0.89"/>
<ellipse cx="578.4" cy="2294.2" rx="3.9" ry="3.8" fill="#6a68c0" opacity="0.86"/>
<ellipse cx="595.7" cy="2295.0" rx="4.8" ry="4.4" fill="#3e3a82" opacity="0.95"/>
<ellipse cx="595.2" cy="2295.6" rx="2.1" ry="1.9" fill="#7a5a6a" opacity="0.45"/>
<ellipse cx="552.5" cy="2300.2" rx="4.2" ry="3.8" fill="#514c9c" opacity="0.95"/>
<ellipse cx="551.9" cy="2300.5" rx="1.9" ry="1.7" fill="#7a5a6a" opacity="0.45"/>
<ellipse cx="346.4" cy="2309.7" rx="3.6" ry="3.6" fill="#45407a" opacity="0.95"/>
<ellipse cx="347.3" cy="2309.7" rx="1.6" ry="1.5" fill="#7a5a6a" opacity="0.45"/>
<ellipse cx="394.7" cy="2314.0" rx="4.6" ry="4.2" fill="#4a3868" opacity="0.95"/>
<ellipse cx="395.5" cy="2314.6" rx="2.1" ry="1.9" fill="#7a5a6a" opacity="0.45"/>
<ellipse cx="430.1" cy="2320.9" rx="3.4" ry="3.5" fill="#7d7acc" opacity="0.77"/>
<ellipse cx="487.8" cy="2322.6" rx="4.1" ry="3.7" fill="#6260b4" opacity="0.61"/>
<ellipse cx="467.1" cy="2308.8" rx="3.2" ry="3.3" fill="#8986d0" opacity="0.68"/>
<ellipse cx="568.9" cy="2328.7" rx="4.3" ry="4.0" fill="#6260b4" opacity="0.82"/>
<ellipse cx="379.2" cy="2332.1" rx="3.1" ry="3.2" fill="#7d7acc" opacity="0.78"/>
<ellipse cx="456.8" cy="2335.6" rx="3.1" ry="2.8" fill="#7d7acc" opacity="0.68"/>
<ellipse cx="469.7" cy="2339.0" rx="3.7" ry="3.5" fill="#6a68c0" opacity="0.76"/>
<ellipse cx="523.2" cy="2335.6" rx="4.6" ry="5.0" fill="#6a68c0" opacity="0.89"/>
<ellipse cx="401.6" cy="2343.3" rx="4.8" ry="4.8" fill="#3e3a82" opacity="0.95"/>
<ellipse cx="401.3" cy="2343.0" rx="2.2" ry="1.9" fill="#7a5a6a" opacity="0.45"/>
<ellipse cx="414.5" cy="2340.8" rx="3.7" ry="3.9" fill="#514c9c" opacity="0.95"/>
<ellipse cx="414.2" cy="2341.8" rx="1.6" ry="1.5" fill="#7a5a6a" opacity="0.45"/>
<ellipse cx="507.7" cy="2345.9" rx="3.7" ry="3.9" fill="#3e3a82" opacity="0.95"/>
<ellipse cx="506.9" cy="2346.9" rx="1.7" ry="1.5" fill="#7a5a6a" opacity="0.45"/>
<ellipse cx="570.6" cy="2343.3" rx="4.2" ry="4.6" fill="#514c9c" opacity="0.95"/>
<ellipse cx="570.5" cy="2343.9" rx="1.9" ry="1.7" fill="#7a5a6a" opacity="0.45"/>
<ellipse cx="582.7" cy="2347.7" rx="5.2" ry="5.3" fill="#514c9c" opacity="0.95"/>
<ellipse cx="582.9" cy="2346.8" rx="2.3" ry="2.1" fill="#7a5a6a" opacity="0.45"/>
<ellipse cx="488.7" cy="2353.7" rx="4.0" ry="3.9" fill="#8986d0" opacity="0.88"/>
<ellipse cx="535.3" cy="2353.7" rx="4.1" ry="4.4" fill="#6260b4" opacity="0.63"/>
<ellipse cx="353.3" cy="2358.9" rx="5.0" ry="4.5" fill="#45407a" opacity="0.95"/>
<ellipse cx="352.3" cy="2359.8" rx="2.2" ry="2.0" fill="#7a5a6a" opacity="0.45"/>
<ellipse cx="362.8" cy="2358.9" rx="3.2" ry="3.1" fill="#6260b4" opacity="0.64"/>
<ellipse cx="395.6" cy="2360.6" rx="4.0" ry="4.4" fill="#7d7acc" opacity="0.75"/>
<ellipse cx="442.1" cy="2358.9" rx="4.0" ry="4.2" fill="#3a2c5c" opacity="0.95"/>
<ellipse cx="442.7" cy="2359.4" rx="1.8" ry="1.6" fill="#7a5a6a" opacity="0.45"/>
<ellipse cx="473.2" cy="2367.5" rx="4.0" ry="4.0" fill="#514c9c" opacity="0.95"/>
<ellipse cx="472.8" cy="2366.8" rx="1.8" ry="1.6" fill="#7a5a6a" opacity="0.45"/>
<ellipse cx="556.8" cy="2370.1" rx="3.8" ry="4.1" fill="#6a68c0" opacity="0.63"/>
<ellipse cx="597.4" cy="2377.8" rx="4.4" ry="4.6" fill="#514c9c" opacity="0.95"/>
<ellipse cx="597.4" cy="2377.5" rx="2.0" ry="1.8" fill="#7a5a6a" opacity="0.45"/>
<ellipse cx="394.7" cy="2395.1" rx="4.3" ry="4.7" fill="#6260b4" opacity="0.68"/>
<ellipse cx="430.1" cy="2396.8" rx="4.7" ry="4.9" fill="#42305a" opacity="0.95"/>
<ellipse cx="430.2" cy="2397.1" rx="2.1" ry="1.9" fill="#7a5a6a" opacity="0.45"/>
<ellipse cx="481.8" cy="2396.0" rx="4.3" ry="4.1" fill="#42305a" opacity="0.95"/>
<ellipse cx="481.1" cy="2395.0" rx="1.9" ry="1.7" fill="#7a5a6a" opacity="0.45"/>
<ellipse cx="506.0" cy="2399.4" rx="4.7" ry="4.8" fill="#3e3a82" opacity="0.95"/>
<ellipse cx="506.2" cy="2399.1" rx="2.1" ry="1.9" fill="#7a5a6a" opacity="0.45"/>
<ellipse cx="462.8" cy="2404.6" rx="3.7" ry="3.5" fill="#42305a" opacity="0.95"/>
<ellipse cx="463.3" cy="2405.1" rx="1.7" ry="1.5" fill="#7a5a6a" opacity="0.45"/>
<ellipse cx="352.4" cy="2402.9" rx="4.6" ry="4.3" fill="#4a4692" opacity="0.95"/>
<ellipse cx="352.1" cy="2403.2" rx="2.1" ry="1.8" fill="#7a5a6a" opacity="0.45"/>
<ellipse cx="346.4" cy="2411.5" rx="4.5" ry="5.0" fill="#514c9c" opacity="0.95"/>
<ellipse cx="345.6" cy="2412.3" rx="2.0" ry="1.8" fill="#7a5a6a" opacity="0.45"/>
<ellipse cx="518.9" cy="2410.6" rx="4.9" ry="4.5" fill="#514c9c" opacity="0.95"/>
<ellipse cx="519.7" cy="2409.6" rx="2.2" ry="2.0" fill="#7a5a6a" opacity="0.45"/>
<ellipse cx="544.8" cy="2417.5" rx="4.6" ry="4.8" fill="#514c9c" opacity="0.95"/>
<ellipse cx="544.2" cy="2418.0" rx="2.1" ry="1.8" fill="#7a5a6a" opacity="0.45"/>
<ellipse cx="364.5" cy="2427.0" rx="5.1" ry="5.6" fill="#4a4692" opacity="0.95"/>
<ellipse cx="365.5" cy="2428.0" rx="2.3" ry="2.0" fill="#7a5a6a" opacity="0.45"/>
<ellipse cx="403.3" cy="2425.3" rx="4.6" ry="5.0" fill="#45407a" opacity="0.95"/>
<ellipse cx="403.0" cy="2424.4" rx="2.1" ry="1.8" fill="#7a5a6a" opacity="0.45"/>
<ellipse cx="444.7" cy="2425.3" rx="4.4" ry="4.8" fill="#45407a" opacity="0.95"/>
<ellipse cx="444.2" cy="2426.0" rx="2.0" ry="1.8" fill="#7a5a6a" opacity="0.45"/>
<ellipse cx="461.1" cy="2422.7" rx="4.4" ry="4.2" fill="#4a4692" opacity="0.95"/>
<ellipse cx="461.7" cy="2422.0" rx="2.0" ry="1.7" fill="#7a5a6a" opacity="0.45"/>
<ellipse cx="604.3" cy="2424.4" rx="3.2" ry="3.6" fill="#6260b4" opacity="0.63"/>
<ellipse cx="417.9" cy="2378.4" rx="4.0" ry="4.0" fill="#8a88d4" opacity="0.60"/>
<ellipse cx="423.8" cy="2306.3" rx="3.6" ry="4.0" fill="#8a88d4" opacity="0.36"/>
<ellipse cx="571.5" cy="2414.0" rx="3.4" ry="3.5" fill="#8a88d4" opacity="0.44"/>
<ellipse cx="605.6" cy="2336.0" rx="3.0" ry="2.6" fill="#8a88d4" opacity="0.42"/>
<ellipse cx="505.1" cy="2233.1" rx="3.0" ry="2.6" fill="#8a88d4" opacity="0.44"/>
<ellipse cx="448.4" cy="2393.4" rx="3.8" ry="3.8" fill="#8a88d4" opacity="0.53"/>
<ellipse cx="528.8" cy="2241.0" rx="3.9" ry="3.9" fill="#8a88d4" opacity="0.70"/>
<ellipse cx="412.1" cy="2325.4" rx="3.4" ry="3.6" fill="#8a88d4" opacity="0.38"/>
<ellipse cx="372.7" cy="2317.2" rx="3.4" ry="3.5" fill="#8a88d4" opacity="0.37"/>
<ellipse cx="469.5" cy="2293.1" rx="3.9" ry="3.5" fill="#8a88d4" opacity="0.52"/>
<ellipse cx="593.6" cy="2254.1" rx="2.7" ry="2.6" fill="#8a88d4" opacity="0.56"/>
<ellipse cx="391.3" cy="2274.4" rx="2.5" ry="2.7" fill="#8a88d4" opacity="0.50"/>
<ellipse cx="527.7" cy="2294.1" rx="3.2" ry="3.2" fill="#8a88d4" opacity="0.48"/>
<ellipse cx="366.6" cy="2378.8" rx="2.9" ry="2.9" fill="#8a88d4" opacity="0.55"/>
<ellipse cx="441.6" cy="2313.0" rx="2.9" ry="2.9" fill="#8a88d4" opacity="0.45"/>
<ellipse cx="542.6" cy="2395.3" rx="2.4" ry="2.2" fill="#8a88d4" opacity="0.36"/>
<ellipse cx="424.8" cy="2418.6" rx="2.7" ry="2.8" fill="#8a88d4" opacity="0.49"/>
<ellipse cx="403.8" cy="2377.9" rx="3.8" ry="4.0" fill="#8a88d4" opacity="0.37"/>
<ellipse cx="409.4" cy="2247.4" rx="4.0" ry="4.3" fill="#8a88d4" opacity="0.38"/>
<ellipse cx="567.9" cy="2314.7" rx="3.8" ry="3.7" fill="#8a88d4" opacity="0.52"/>
<ellipse cx="556.2" cy="2253.4" rx="4.0" ry="3.6" fill="#8a88d4" opacity="0.53"/>
<ellipse cx="449.0" cy="2369.3" rx="3.9" ry="4.0" fill="#8a88d4" opacity="0.51"/>
<ellipse cx="342.5" cy="2269.0" rx="4.0" ry="4.2" fill="#8a88d4" opacity="0.56"/>
<ellipse cx="605.6" cy="2251.2" rx="2.6" ry="2.6" fill="#8a88d4" opacity="0.51"/>
<ellipse cx="477.5" cy="2384.5" rx="2.7" ry="2.4" fill="#8a88d4" opacity="0.53"/>
<ellipse cx="367.0" cy="2235.1" rx="2.6" ry="2.5" fill="#8a88d4" opacity="0.58"/>
<ellipse cx="570.1" cy="2432.6" rx="3.1" ry="2.9" fill="#8a88d4" opacity="0.55"/>
<ellipse cx="465.5" cy="2385.8" rx="3.1" ry="3.2" fill="#8a88d4" opacity="0.54"/>
<ellipse cx="531.6" cy="2402.3" rx="4.0" ry="4.3" fill="#8a88d4" opacity="0.61"/>
<ellipse cx="542.2" cy="2311.3" rx="2.8" ry="2.4" fill="#8a88d4" opacity="0.66"/>
<ellipse cx="391.6" cy="2261.5" rx="3.7" ry="3.7" fill="#8a88d4" opacity="0.48"/>
<ellipse cx="479.4" cy="2230.5" rx="2.8" ry="2.9" fill="#8a88d4" opacity="0.55"/>
<ellipse cx="584.7" cy="2393.5" rx="3.3" ry="3.4" fill="#8a88d4" opacity="0.61"/>
<ellipse cx="511.8" cy="2311.2" rx="2.7" ry="2.5" fill="#8a88d4" opacity="0.69"/>
<ellipse cx="503.5" cy="2331.8" rx="3.9" ry="4.1" fill="#8a88d4" opacity="0.36"/>
<ellipse cx="609.5" cy="2394.1" rx="2.5" ry="2.3" fill="#8a88d4" opacity="0.50"/>
<ellipse cx="585.7" cy="2409.7" rx="3.4" ry="3.0" fill="#8a88d4" opacity="0.54"/>
<ellipse cx="529.9" cy="2386.4" rx="2.5" ry="2.2" fill="#8a88d4" opacity="0.59"/>
<ellipse cx="514.3" cy="2356.7" rx="3.3" ry="3.3" fill="#8a88d4" opacity="0.48"/>
<ellipse cx="485.1" cy="2308.1" rx="3.2" ry="2.9" fill="#8a88d4" opacity="0.47"/>
<ellipse cx="545.7" cy="2403.8" rx="1.8" ry="1.4" fill="#2a38b8" opacity="0.88" transform="rotate(13 545.7 2403.8)"/>
<ellipse cx="552.5" cy="2319.0" rx="2.3" ry="0.9" fill="#3a4cd8" opacity="0.79" transform="rotate(135 552.5 2319.0)"/>
<ellipse cx="615.2" cy="2293.4" rx="3.1" ry="1.5" fill="#4a5ad8" opacity="0.79" transform="rotate(99 615.2 2293.4)"/>
<ellipse cx="498.9" cy="2322.8" rx="2.6" ry="1.1" fill="#2a38b8" opacity="0.72" transform="rotate(58 498.9 2322.8)"/>
<ellipse cx="528.7" cy="2287.6" rx="1.7" ry="1.0" fill="#2a38b8" opacity="0.77" transform="rotate(140 528.7 2287.6)"/>
<ellipse cx="531.5" cy="2329.8" rx="2.2" ry="1.5" fill="#3a4cd8" opacity="0.66" transform="rotate(138 531.5 2329.8)"/>
<ellipse cx="540.3" cy="2302.2" rx="3.0" ry="1.3" fill="#2a38b8" opacity="0.91" transform="rotate(21 540.3 2302.2)"/>
<ellipse cx="458.3" cy="2396.2" rx="2.2" ry="1.1" fill="#2a38b8" opacity="0.90" transform="rotate(55 458.3 2396.2)"/>
<ellipse cx="404.3" cy="2301.2" rx="2.3" ry="1.1" fill="#4a5ad8" opacity="0.86" transform="rotate(66 404.3 2301.2)"/>
<ellipse cx="543.9" cy="2302.6" rx="1.8" ry="1.3" fill="#3a4cd8" opacity="0.58" transform="rotate(70 543.9 2302.6)"/>
<ellipse cx="549.7" cy="2413.0" rx="1.5" ry="1.2" fill="#2a38b8" opacity="0.57" transform="rotate(51 549.7 2413.0)"/>
<ellipse cx="417.8" cy="2228.1" rx="2.4" ry="1.3" fill="#4a5ad8" opacity="0.85" transform="rotate(152 417.8 2228.1)"/>
<ellipse cx="357.5" cy="2240.9" rx="3.4" ry="0.9" fill="#2a38b8" opacity="0.79" transform="rotate(133 357.5 2240.9)"/>
<ellipse cx="361.3" cy="2399.0" rx="3.0" ry="1.2" fill="#2a38b8" opacity="0.65" transform="rotate(76 361.3 2399.0)"/>
<ellipse cx="464.3" cy="2298.7" rx="2.2" ry="0.9" fill="#4a5ad8" opacity="0.74" transform="rotate(145 464.3 2298.7)"/>
<ellipse cx="538.9" cy="2375.8" rx="2.4" ry="1.5" fill="#2a38b8" opacity="0.66" transform="rotate(165 538.9 2375.8)"/>
<ellipse cx="334.7" cy="2304.7" rx="2.5" ry="1.2" fill="#3a4cd8" opacity="0.74" transform="rotate(16 334.7 2304.7)"/>
<ellipse cx="535.8" cy="2396.0" rx="2.4" ry="0.9" fill="#2a38b8" opacity="0.57" transform="rotate(76 535.8 2396.0)"/>
<ellipse cx="514.4" cy="2370.6" rx="2.3" ry="1.2" fill="#4a5ad8" opacity="0.94" transform="rotate(58 514.4 2370.6)"/>
<ellipse cx="350.5" cy="2289.7" rx="2.9" ry="1.4" fill="#3a4cd8" opacity="0.91" transform="rotate(21 350.5 2289.7)"/>
<ellipse cx="548.0" cy="2227.0" rx="3.2" ry="1.1" fill="#3a4cd8" opacity="0.58" transform="rotate(87 548.0 2227.0)"/>
<ellipse cx="395.5" cy="2274.0" rx="2.7" ry="1.0" fill="#3a4cd8" opacity="0.90" transform="rotate(129 395.5 2274.0)"/>
<ellipse cx="448.2" cy="2419.4" rx="2.8" ry="1.6" fill="#2a38b8" opacity="0.72" transform="rotate(169 448.2 2419.4)"/>
<ellipse cx="407.8" cy="2414.4" rx="2.2" ry="1.2" fill="#3a4cd8" opacity="0.72" transform="rotate(165 407.8 2414.4)"/>
<ellipse cx="396.5" cy="2234.0" rx="3.2" ry="1.1" fill="#2a38b8" opacity="0.86" transform="rotate(171 396.5 2234.0)"/>
<ellipse cx="554.0" cy="2392.9" rx="3.4" ry="1.5" fill="#4a5ad8" opacity="0.91" transform="rotate(10 554.0 2392.9)"/>
<ellipse cx="461.7" cy="2276.4" rx="3.3" ry="1.1" fill="#4a5ad8" opacity="0.57" transform="rotate(76 461.7 2276.4)"/>
<ellipse cx="592.1" cy="2397.7" rx="3.1" ry="1.3" fill="#2a38b8" opacity="0.74" transform="rotate(24 592.1 2397.7)"/>
<ellipse cx="376.5" cy="2389.2" rx="3.2" ry="1.5" fill="#3a4cd8" opacity="0.54" transform="rotate(0 376.5 2389.2)"/>
<ellipse cx="410.4" cy="2377.6" rx="2.5" ry="1.2" fill="#2a38b8" opacity="0.76" transform="rotate(17 410.4 2377.6)"/>
<ellipse cx="577.7" cy="2288.7" rx="2.4" ry="1.5" fill="#3a4cd8" opacity="0.85" transform="rotate(142 577.7 2288.7)"/>
<ellipse cx="458.9" cy="2231.3" rx="2.5" ry="1.6" fill="#4a5ad8" opacity="0.64" transform="rotate(74 458.9 2231.3)"/>
<ellipse cx="449.0" cy="2343.1" rx="2.9" ry="0.9" fill="#3a4cd8" opacity="0.81" transform="rotate(180 449.0 2343.1)"/>
<ellipse cx="363.7" cy="2308.2" rx="3.5" ry="1.5" fill="#2a38b8" opacity="0.70" transform="rotate(83 363.7 2308.2)"/>
<ellipse cx="579.5" cy="2376.5" rx="2.1" ry="0.9" fill="#3a4cd8" opacity="0.89" transform="rotate(86 579.5 2376.5)"/>
<ellipse cx="574.0" cy="2378.2" rx="1.8" ry="1.3" fill="#2a38b8" opacity="0.84" transform="rotate(162 574.0 2378.2)"/>
<ellipse cx="605.2" cy="2385.8" rx="1.7" ry="1.0" fill="#4a5ad8" opacity="0.83" transform="rotate(100 605.2 2385.8)"/>
<ellipse cx="427.4" cy="2426.8" rx="3.0" ry="1.1" fill="#4a5ad8" opacity="0.54" transform="rotate(101 427.4 2426.8)"/>
<ellipse cx="373.7" cy="2243.6" rx="3.0" ry="0.9" fill="#4a5ad8" opacity="0.52" transform="rotate(122 373.7 2243.6)"/>
<ellipse cx="465.5" cy="2374.9" rx="1.6" ry="1.6" fill="#4a5ad8" opacity="0.68" transform="rotate(18 465.5 2374.9)"/>
<ellipse cx="354.3" cy="2421.5" rx="2.6" ry="1.3" fill="#3a4cd8" opacity="0.87" transform="rotate(77 354.3 2421.5)"/>
<ellipse cx="443.5" cy="2294.7" rx="1.5" ry="1.1" fill="#2a38b8" opacity="0.64" transform="rotate(74 443.5 2294.7)"/>
<ellipse cx="558.2" cy="2276.1" rx="2.6" ry="1.0" fill="#3a4cd8" opacity="0.65" transform="rotate(177 558.2 2276.1)"/>
<ellipse cx="518.9" cy="2246.2" rx="2.6" ry="1.4" fill="#3a4cd8" opacity="0.78" transform="rotate(68 518.9 2246.2)"/>
<ellipse cx="378.7" cy="2388.3" rx="2.7" ry="1.1" fill="#2a38b8" opacity="0.73" transform="rotate(163 378.7 2388.3)"/>
<ellipse cx="497.1" cy="2266.0" rx="3.6" ry="1.4" fill="#3a4cd8" opacity="0.76" transform="rotate(168 497.1 2266.0)"/>
<ellipse cx="341.2" cy="2365.3" rx="1.8" ry="1.2" fill="#4a5ad8" opacity="0.81" transform="rotate(140 341.2 2365.3)"/>
<ellipse cx="427.3" cy="2423.3" rx="2.5" ry="0.9" fill="#2a38b8" opacity="0.56" transform="rotate(65 427.3 2423.3)"/>
<ellipse cx="591.0" cy="2340.3" rx="2.7" ry="1.0" fill="#2a38b8" opacity="0.95" transform="rotate(101 591.0 2340.3)"/>
<ellipse cx="566.3" cy="2352.8" rx="3.2" ry="1.0" fill="#4a5ad8" opacity="0.61" transform="rotate(22 566.3 2352.8)"/>
<ellipse cx="496.9" cy="2402.2" rx="2.7" ry="0.9" fill="#3a4cd8" opacity="0.68" transform="rotate(33 496.9 2402.2)"/>
<ellipse cx="556.4" cy="2423.5" rx="1.8" ry="1.4" fill="#2a38b8" opacity="0.91" transform="rotate(180 556.4 2423.5)"/>
<ellipse cx="508.8" cy="2361.2" rx="1.8" ry="1.1" fill="#3a4cd8" opacity="0.56" transform="rotate(137 508.8 2361.2)"/>
<ellipse cx="443.6" cy="2345.9" rx="2.6" ry="1.0" fill="#2a38b8" opacity="0.92" transform="rotate(31 443.6 2345.9)"/>
<ellipse cx="348.8" cy="2392.1" rx="3.2" ry="1.1" fill="#4a5ad8" opacity="0.77" transform="rotate(130 348.8 2392.1)"/>
<ellipse cx="467.4" cy="2311.9" rx="2.9" ry="1.4" fill="#4a5ad8" opacity="0.72" transform="rotate(112 467.4 2311.9)"/>
<ellipse cx="616.8" cy="2403.8" rx="2.4" ry="1.1" fill="#2a38b8" opacity="0.55" transform="rotate(154 616.8 2403.8)"/>
<ellipse cx="600.9" cy="2294.4" rx="2.4" ry="0.8" fill="#3a4cd8" opacity="0.63" transform="rotate(94 600.9 2294.4)"/>
<ellipse cx="509.0" cy="2316.6" rx="2.2" ry="1.4" fill="#2a38b8" opacity="0.89" transform="rotate(68 509.0 2316.6)"/>
<ellipse cx="403.2" cy="2405.1" rx="3.3" ry="1.6" fill="#4a5ad8" opacity="0.81" transform="rotate(44 403.2 2405.1)"/>
<ellipse cx="483.4" cy="2274.8" rx="2.3" ry="1.0" fill="#3a4cd8" opacity="0.95" transform="rotate(55 483.4 2274.8)"/>
<ellipse cx="541.7" cy="2410.9" rx="2.6" ry="1.3" fill="#3a4cd8" opacity="0.60" transform="rotate(66 541.7 2410.9)"/>
<ellipse cx="546.2" cy="2345.3" rx="1.7" ry="1.4" fill="#3a4cd8" opacity="0.90" transform="rotate(163 546.2 2345.3)"/>
<ellipse cx="497.6" cy="2320.9" rx="3.0" ry="0.8" fill="#3a4cd8" opacity="0.53" transform="rotate(53 497.6 2320.9)"/>
<ellipse cx="588.4" cy="2398.9" rx="2.2" ry="1.3" fill="#3a4cd8" opacity="0.64" transform="rotate(72 588.4 2398.9)"/>
<ellipse cx="463.1" cy="2290.9" rx="1.8" ry="1.4" fill="#4a5ad8" opacity="0.90" transform="rotate(58 463.1 2290.9)"/>
<ellipse cx="391.3" cy="2408.2" rx="1.6" ry="1.1" fill="#4a5ad8" opacity="0.90" transform="rotate(125 391.3 2408.2)"/>
<ellipse cx="338.2" cy="2360.1" rx="2.7" ry="1.2" fill="#3a4cd8" opacity="0.59" transform="rotate(126 338.2 2360.1)"/>
<ellipse cx="584.2" cy="2234.1" rx="3.0" ry="1.1" fill="#4a5ad8" opacity="0.89" transform="rotate(19 584.2 2234.1)"/>
<ellipse cx="536.6" cy="2252.3" rx="3.5" ry="1.2" fill="#3a4cd8" opacity="0.58" transform="rotate(125 536.6 2252.3)"/>
<ellipse cx="578.9" cy="2249.3" rx="2.1" ry="1.4" fill="#2a38b8" opacity="0.80" transform="rotate(124 578.9 2249.3)"/>
<ellipse cx="558.7" cy="2303.5" rx="3.4" ry="1.3" fill="#3a4cd8" opacity="0.94" transform="rotate(119 558.7 2303.5)"/>
<ellipse cx="588.5" cy="2262.2" rx="1.8" ry="1.3" fill="#4a5ad8" opacity="0.94" transform="rotate(41 588.5 2262.2)"/>
<ellipse cx="459.0" cy="2337.0" rx="1.6" ry="1.3" fill="#4a5ad8" opacity="0.74" transform="rotate(96 459.0 2337.0)"/>
<ellipse cx="454.2" cy="2345.7" rx="3.6" ry="1.0" fill="#3a4cd8" opacity="0.63" transform="rotate(30 454.2 2345.7)"/>
<ellipse cx="504.2" cy="2240.7" rx="3.0" ry="1.7" fill="#b06a28" opacity="0.82" transform="rotate(99 504.2 2240.7)"/>
<ellipse cx="587.0" cy="2249.3" rx="4.0" ry="1.0" fill="#8a4a18" opacity="0.62" transform="rotate(165 587.0 2249.3)"/>
<ellipse cx="542.2" cy="2366.6" rx="4.4" ry="1.7" fill="#8a4a18" opacity="0.83" transform="rotate(12 542.2 2366.6)"/>
<ellipse cx="364.5" cy="2285.6" rx="3.8" ry="1.4" fill="#c8883a" opacity="0.84" transform="rotate(141 364.5 2285.6)"/>
<ellipse cx="442.1" cy="2378.7" rx="4.9" ry="1.1" fill="#b06a28" opacity="0.64" transform="rotate(94 442.1 2378.7)"/>
<ellipse cx="511.1" cy="2423.6" rx="4.2" ry="1.4" fill="#8a4a18" opacity="0.88" transform="rotate(78 511.1 2423.6)"/>
<ellipse cx="549.1" cy="2352.8" rx="3.1" ry="1.4" fill="#b06a28" opacity="0.90" transform="rotate(142 549.1 2352.8)"/>
<ellipse cx="481.8" cy="2413.2" rx="3.2" ry="1.2" fill="#c8883a" opacity="0.62" transform="rotate(109 481.8 2413.2)"/>
</g></g>
<rect x="333.6" y="2223.3" width="284.7" height="215.3" fill="none" stroke="#111" stroke-width="1.4"/>
</g>
<rect x="287.0" y="2428.4" width="36.8" height="7.6" fill="#000"/>
<text class="sb" x="305.4" y="2434.6" font-size="5" text-anchor="middle" fill="#fff">20μm</text>
<rect x="580.1" y="2430.1" width="36.3" height="8.1" fill="#000"/>
<text class="sb" x="598.2" y="2436.4" font-size="5" text-anchor="middle" fill="#fff">20μm</text>
<text class="sb" font-size="32" text-anchor="middle" textLength="87.4" lengthAdjust="spacingAndGlyphs" transform="translate(24.5 2333) rotate(-90)">PCNA</text>
<text class="sb" x="605.0" y="2172.7" font-size="37">b</text>
<rect x="765.0" y="2250.0" width="55.0" height="211.7" fill="#0000ff"/>
<rect x="845.0" y="2381.0" width="55.0" height="80.7" fill="#ff0000"/>
<line x1="739.3" y1="2159.0" x2="739.3" y2="2463.7" stroke="#000" stroke-width="4.1"/>
<line x1="727.3" y1="2461.7" x2="928.3" y2="2461.7" stroke="#000" stroke-width="4.1" stroke-linecap="round"/>
<line x1="727.3" y1="2161.9" x2="739.3" y2="2161.9" stroke="#000" stroke-width="3.7" stroke-linecap="round"/>
<text class="sb" x="719.3" y="2169.2" font-size="23" text-anchor="end">20</text>
<line x1="727.3" y1="2237.0" x2="739.3" y2="2237.0" stroke="#000" stroke-width="3.7" stroke-linecap="round"/>
<text class="sb" x="719.3" y="2244.3" font-size="23" text-anchor="end">15</text>
<line x1="727.3" y1="2312.0" x2="739.3" y2="2312.0" stroke="#000" stroke-width="3.7" stroke-linecap="round"/>
<text class="sb" x="719.3" y="2319.3" font-size="23" text-anchor="end">10</text>
<line x1="727.3" y1="2387.0" x2="739.3" y2="2387.0" stroke="#000" stroke-width="3.7" stroke-linecap="round"/>
<text class="sb" x="719.3" y="2394.3" font-size="23" text-anchor="end">5</text>
<line x1="727.3" y1="2461.9" x2="739.3" y2="2461.9" stroke="#000" stroke-width="3.7" stroke-linecap="round"/>
<text class="sb" x="719.3" y="2469.2" font-size="23" text-anchor="end">0</text>
<line x1="791.7" y1="2461.7" x2="791.7" y2="2474.0" stroke="#000" stroke-width="3.7" stroke-linecap="round"/>
<line x1="872.7" y1="2461.7" x2="872.7" y2="2474.0" stroke="#000" stroke-width="3.7" stroke-linecap="round"/>
<line x1="792.1" y1="2219.3" x2="792.1" y2="2252.0" stroke="#000" stroke-width="2.2"/>
<line x1="778.0" y1="2219.3" x2="805.7" y2="2219.3" stroke="#000" stroke-width="2.2"/>
<circle cx="792.3" cy="2216.7" r="5.8" fill="#000"/>
<circle cx="792.3" cy="2234" r="5.8" fill="#000"/>
<circle cx="792.3" cy="2261.7" r="5.8" fill="#000"/>
<circle cx="792.3" cy="2287.3" r="5.8" fill="#000"/>
<line x1="872.7" y1="2357.7" x2="872.7" y2="2383.0" stroke="#000" stroke-width="2.2"/>
<line x1="859.3" y1="2357.7" x2="885.7" y2="2357.7" stroke="#000" stroke-width="2.2"/>
<rect x="866.7" y="2346.3" width="12.0" height="12.0" fill="#000"/>
<rect x="866.7" y="2370.7" width="12.0" height="12.0" fill="#000"/>
<rect x="866.7" y="2380.7" width="12.0" height="12.0" fill="#000"/>
<rect x="866.7" y="2402.3" width="12.0" height="12.0" fill="#000"/>
<path d="M792,2191.3 V2182.2 H875.8 V2191.3" fill="none" stroke="#000" stroke-width="2.8" stroke-linejoin="round"/>
<text class="sr" x="836.0" y="2179.0" font-size="25" text-anchor="middle" textLength="34.0" lengthAdjust="spacingAndGlyphs">***</text>
<text class="sb" x="773.3" y="2496.0" font-size="23" textLength="35.0" lengthAdjust="spacingAndGlyphs">WT</text>
<text class="sb" x="814.3" y="2496.0" font-size="23" textLength="145.0" lengthAdjust="spacingAndGlyphs">ANGPTL8 KO</text>
<text class="sb" font-size="32" text-anchor="middle" textLength="343.3" lengthAdjust="spacingAndGlyphs" transform="translate(657 2311.7) rotate(-90)">Relative Positive staining</text>
<text class="sb" font-size="32" text-anchor="middle" textLength="191.6" lengthAdjust="spacingAndGlyphs" transform="translate(692 2312.5) rotate(-90)">area of PCNA</text>
<text class="sb" x="938.5" y="2101.7" font-size="42" textLength="29.5" lengthAdjust="spacingAndGlyphs">F</text>
<text class="sb" x="989.0" y="2172.7" font-size="37">a</text>
<text class="sb" x="1253.3" y="2196.0" font-size="32" textLength="65.0" lengthAdjust="spacingAndGlyphs">DEN</text>
<line x1="1144.0" y1="2207.3" x2="1460.0" y2="2207.3" stroke="#1a0a0a" stroke-width="2"/>
<text class="sb" x="1143.3" y="2243.3" font-size="32" textLength="50.0" lengthAdjust="spacingAndGlyphs">WT</text>
<text class="sb" x="1259.0" y="2243.3" font-size="32" textLength="207.0" lengthAdjust="spacingAndGlyphs">ANGPTL8 KO</text>
<line x1="1082.3" y1="2256.0" x2="1239.3" y2="2254.6" stroke="#000" stroke-width="2.2"/>
<line x1="1287.3" y1="2256.0" x2="1445.0" y2="2254.6" stroke="#000" stroke-width="2.2"/>
<text class="sb" x="1092.3" y="2284.3" font-size="22" text-anchor="middle">1</text>
<text class="sb" x="1146.0" y="2284.3" font-size="22" text-anchor="middle">2</text>
<text class="sb" x="1201.0" y="2284.3" font-size="22" text-anchor="middle">3</text>
<text class="sb" x="1250.0" y="2284.3" font-size="22" text-anchor="middle">4</text>
<text class="sb" x="1298.3" y="2284.3" font-size="22" text-anchor="middle">1</text>
<text class="sb" x="1352.3" y="2284.3" font-size="22" text-anchor="middle">2</text>
<text class="sb" x="1401.0" y="2284.3" font-size="22" text-anchor="middle">3</text>
<text class="sb" x="1450.0" y="2284.3" font-size="22" text-anchor="middle">4</text>
<text class="sb" x="959.3" y="2331.7" font-size="32" textLength="85.7" lengthAdjust="spacingAndGlyphs">PCNA</text>
<text class="sb" x="929.3" y="2414.3" font-size="32" textLength="114.0" lengthAdjust="spacingAndGlyphs">GAPDH</text>
<defs><filter id="b1" filterUnits="userSpaceOnUse" x="1050" y="2290" width="450" height="160"><feGaussianBlur stdDeviation="1.2"/></filter><filter id="b2" filterUnits="userSpaceOnUse" x="1050" y="2290" width="450" height="160"><feGaussianBlur stdDeviation="2"/></filter><filter id="b3" filterUnits="userSpaceOnUse" x="1050" y="2290" width="450" height="160"><feGaussianBlur stdDeviation="3"/></filter></defs>
<rect x="1055.9" y="2299.3" width="427.4" height="44.6" fill="#dedede" stroke="#000" stroke-width="1.8"/>
<clipPath id="cpb"><rect x="1056.8" y="2300.2" width="425.6" height="42.8"/></clipPath><g clip-path="url(#cpb)">
<path d="M1074.2,2321.0 C1079.2,2329.8 1102.4,2329.8 1107.4,2321.0" fill="none" stroke="#080808" stroke-width="11" stroke-linecap="round" filter="url(#b1)"/>
<path d="M1126.5,2319.8 C1131.5,2326.6 1155.3,2326.6 1160.3,2319.8" fill="none" stroke="#080808" stroke-width="9.5" stroke-linecap="round" filter="url(#b1)"/>
<path d="M1178.3,2318.5 C1183.3,2326.0 1205.8,2326.0 1210.8,2318.5" fill="none" stroke="#080808" stroke-width="10.5" stroke-linecap="round" filter="url(#b1)"/>
<path d="M1229.8,2318.8 C1234.8,2324.4 1257.3,2324.4 1262.3,2318.8" fill="none" stroke="#080808" stroke-width="9" stroke-linecap="round" filter="url(#b1)"/>
<path d="M1280.5,2318.5 C1285.5,2321.0 1309.2,2321.0 1314.2,2318.5" fill="none" stroke="#080808" stroke-width="7" stroke-linecap="round" filter="url(#b1)"/>
<path d="M1333.7,2319.8 C1338.7,2324.1 1359.6,2324.1 1364.6,2319.8" fill="none" stroke="#080808" stroke-width="8" stroke-linecap="round" filter="url(#b1)"/>
<path d="M1384.8,2322.8 C1389.8,2328.4 1411.5,2328.4 1416.5,2322.8" fill="none" stroke="#080808" stroke-width="8.5" stroke-linecap="round" filter="url(#b1)"/>
<path d="M1435.5,2322.2 C1440.5,2324.1 1466.6,2324.1 1471.6,2322.2" fill="none" stroke="#080808" stroke-width="8" stroke-linecap="round" filter="url(#b1)"/>
</g>
<text class="sb" x="1096.7" y="2370.0" font-size="23" text-anchor="middle" textLength="41.5" lengthAdjust="spacingAndGlyphs">1.08</text>
<text class="sb" x="1147.3" y="2370.0" font-size="23" text-anchor="middle" textLength="41.5" lengthAdjust="spacingAndGlyphs">1.12</text>
<text class="sb" x="1199.3" y="2370.0" font-size="23" text-anchor="middle" textLength="41.5" lengthAdjust="spacingAndGlyphs">1.05</text>
<text class="sb" x="1249.3" y="2370.0" font-size="23" text-anchor="middle" textLength="41.5" lengthAdjust="spacingAndGlyphs">0.75</text>
<text class="sb" x="1301.0" y="2370.0" font-size="23" text-anchor="middle" textLength="41.5" lengthAdjust="spacingAndGlyphs">0.82</text>
<text class="sb" x="1352.7" y="2370.0" font-size="23" text-anchor="middle" textLength="41.5" lengthAdjust="spacingAndGlyphs">0.78</text>
<text class="sb" x="1404.0" y="2370.0" font-size="23" text-anchor="middle" textLength="41.5" lengthAdjust="spacingAndGlyphs">0.72</text>
<text class="sb" x="1455.7" y="2370.0" font-size="23" text-anchor="middle" textLength="41.5" lengthAdjust="spacingAndGlyphs">0.65</text>
<rect x="1055.9" y="2388.2" width="431.6" height="50.2" fill="#e6e6e6" stroke="#000" stroke-width="1.8"/>
<rect x="1065.0" y="2394.1" width="46.2" height="12.0" fill="#9a9a9a" opacity="0.45" filter="url(#b3)"/>
<rect x="1118.6" y="2394.5" width="36.8" height="12.0" fill="#9a9a9a" opacity="0.45" filter="url(#b3)"/>
<rect x="1164.0" y="2399.5" width="43.6" height="12.0" fill="#9a9a9a" opacity="0.45" filter="url(#b3)"/>
<rect x="1213.6" y="2394.0" width="48.9" height="12.0" fill="#9a9a9a" opacity="0.45" filter="url(#b3)"/>
<rect x="1269.8" y="2400.6" width="42.2" height="12.0" fill="#9a9a9a" opacity="0.45" filter="url(#b3)"/>
<rect x="1319.4" y="2401.6" width="39.4" height="12.0" fill="#9a9a9a" opacity="0.45" filter="url(#b3)"/>
<rect x="1366.2" y="2400.7" width="50.2" height="12.0" fill="#9a9a9a" opacity="0.45" filter="url(#b3)"/>
<rect x="1421.0" y="2401.7" width="47.6" height="12.0" fill="#9a9a9a" opacity="0.45" filter="url(#b3)"/>
<rect x="1067.0" y="2404.1" width="42.2" height="17.0" fill="#050505" rx="5" filter="url(#b2)"/>
<rect x="1120.6" y="2404.5" width="32.8" height="18.0" fill="#050505" rx="5" filter="url(#b2)"/>
<rect x="1166.0" y="2409.5" width="39.6" height="17.0" fill="#050505" rx="5" filter="url(#b2)"/>
<rect x="1215.6" y="2404.0" width="44.9" height="21.0" fill="#050505" rx="5" filter="url(#b2)"/>
<rect x="1271.8" y="2410.6" width="38.2" height="14.5" fill="#050505" rx="5" filter="url(#b2)"/>
<rect x="1321.4" y="2411.6" width="35.4" height="16.5" fill="#050505" rx="5" filter="url(#b2)"/>
<rect x="1368.2" y="2410.7" width="46.2" height="17.0" fill="#050505" rx="5" filter="url(#b2)"/>
<rect x="1423.0" y="2411.7" width="43.6" height="19.0" fill="#050505" rx="5" filter="url(#b2)"/>
<line x1="1484.0" y1="2323.3" x2="1501.7" y2="2323.3" stroke="#000" stroke-width="1.8"/>
<text class="sb" x="1508.8" y="2330.0" font-size="22" textLength="58.8" lengthAdjust="spacingAndGlyphs">36KD</text>
<line x1="1488.0" y1="2411.5" x2="1507.5" y2="2411.5" stroke="#000" stroke-width="1.8"/>
<text class="sb" x="1508.0" y="2419.0" font-size="22" textLength="59.6" lengthAdjust="spacingAndGlyphs">36KD</text>
<text class="sb" x="1563.9" y="2172.5" font-size="37">b</text>
<rect x="1722.4" y="2264.3" width="55.1" height="194.7" fill="#0000ff"/>
<rect x="1803.3" y="2314.5" width="55.3" height="144.5" fill="#ff0000"/>
<line x1="1695.9" y1="2164.5" x2="1695.9" y2="2461.0" stroke="#000" stroke-width="4.1"/>
<line x1="1684.2" y1="2459.0" x2="1887.3" y2="2459.0" stroke="#000" stroke-width="4.1" stroke-linecap="round"/>
<line x1="1684.2" y1="2167.2" x2="1695.9" y2="2167.2" stroke="#000" stroke-width="3.7" stroke-linecap="round"/>
<text class="sb" x="1676.4" y="2174.7" font-size="23" text-anchor="end">1.5</text>
<line x1="1684.2" y1="2264.6" x2="1695.9" y2="2264.6" stroke="#000" stroke-width="3.7" stroke-linecap="round"/>
<text class="sb" x="1676.4" y="2272.1" font-size="23" text-anchor="end">1.0</text>
<line x1="1684.2" y1="2361.8" x2="1695.9" y2="2361.8" stroke="#000" stroke-width="3.7" stroke-linecap="round"/>
<text class="sb" x="1676.4" y="2369.3" font-size="23" text-anchor="end">0.5</text>
<line x1="1684.2" y1="2459.0" x2="1695.9" y2="2459.0" stroke="#000" stroke-width="3.7" stroke-linecap="round"/>
<text class="sb" x="1676.4" y="2466.5" font-size="23" text-anchor="end">0.0</text>
<line x1="1749.7" y1="2459.0" x2="1749.7" y2="2471.2" stroke="#000" stroke-width="3.7" stroke-linecap="round"/>
<line x1="1830.5" y1="2459.0" x2="1830.5" y2="2471.2" stroke="#000" stroke-width="3.7" stroke-linecap="round"/>
<line x1="1749.7" y1="2231.9" x2="1749.7" y2="2266.0" stroke="#0000ff" stroke-width="1.8"/>
<line x1="1736.2" y1="2231.9" x2="1763.4" y2="2231.9" stroke="#0000ff" stroke-width="1.8"/>
<circle cx="1741.1" cy="2248.5" r="6.2" fill="#000"/>
<circle cx="1758.3" cy="2241.9" r="6.2" fill="#000"/>
<circle cx="1758.3" cy="2254.8" r="6.2" fill="#000"/>
<circle cx="1749.7" cy="2313.6" r="6.2" fill="#000"/>
<line x1="1830.5" y1="2300.1" x2="1830.5" y2="2316.0" stroke="#ff0000" stroke-width="1.8"/>
<line x1="1817.0" y1="2300.1" x2="1844.0" y2="2300.1" stroke="#ff0000" stroke-width="1.8"/>
<line x1="1817.0" y1="2326.5" x2="1844.0" y2="2326.5" stroke="#c00000" stroke-width="1.5"/>
<rect x="1833.4" y="2293.9" width="12.0" height="12.0" fill="#000"/>
<rect x="1816.2" y="2301.3" width="12.0" height="12.0" fill="#000"/>
<rect x="1825.4" y="2313.3" width="12.0" height="12.0" fill="#000"/>
<rect x="1825.4" y="2326.8" width="12.0" height="12.0" fill="#000"/>
<path d="M1749.9,2196.2 V2187.1 H1834.4 V2196.2" fill="none" stroke="#000" stroke-width="2.8" stroke-linejoin="round"/>
<text class="sr" x="1789.5" y="2186.5" font-size="25" text-anchor="middle">*</text>
<text class="sb" x="1729.6" y="2495.5" font-size="23" textLength="35.8" lengthAdjust="spacingAndGlyphs">WT</text>
<text class="sb" x="1778.3" y="2495.5" font-size="23" textLength="140.0" lengthAdjust="spacingAndGlyphs">ANGPTL8 KO</text>
<text class="sb" font-size="32" text-anchor="middle" textLength="223" lengthAdjust="spacingAndGlyphs" transform="translate(1605.3 2315.3) rotate(-90)">Relative protein</text>
<text class="sb" font-size="32" text-anchor="middle" textLength="297.3" lengthAdjust="spacingAndGlyphs" transform="translate(1638.3 2318.3) rotate(-90)" xml:space="preserve">expression of  PCNA</text>
</svg></body></html>
